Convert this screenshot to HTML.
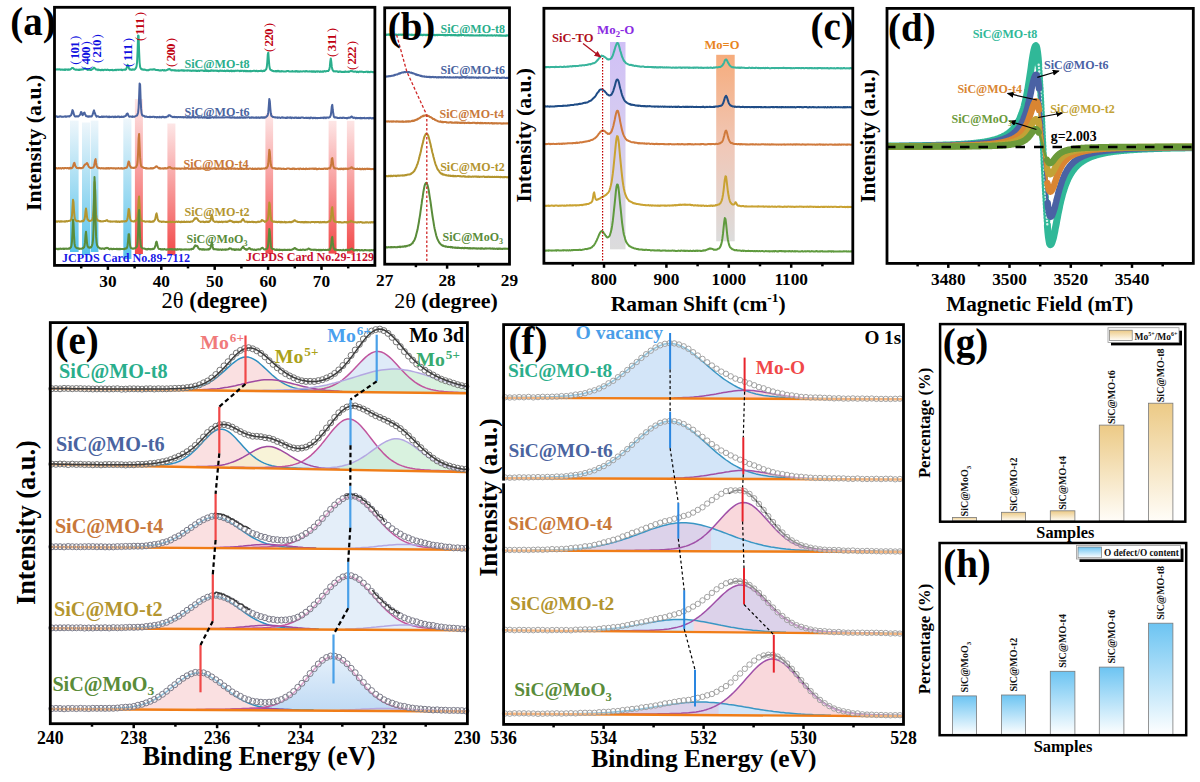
<!DOCTYPE html>
<html><head><meta charset="utf-8"><style>html,body{margin:0;padding:0;background:#fff;}svg{display:block;}</style></head>
<body><svg width="1200" height="782" viewBox="0 0 1200 782">
<defs><linearGradient id="gblue" x1="0" y1="0" x2="0" y2="1"><stop offset="0" stop-color="#eef6fb" stop-opacity="1"/><stop offset="1" stop-color="#56c2ea" stop-opacity="1"/></linearGradient><linearGradient id="gred" x1="0" y1="0" x2="0" y2="1"><stop offset="0" stop-color="#fde6e6" stop-opacity="1"/><stop offset="1" stop-color="#f24a4a" stop-opacity="1"/></linearGradient><linearGradient id="gpur" x1="0" y1="0" x2="0" y2="1"><stop offset="0" stop-color="#d0c0f6" stop-opacity="1"/><stop offset="0.45" stop-color="#d6cdf0" stop-opacity="1"/><stop offset="1" stop-color="#dcdcdc" stop-opacity="1"/></linearGradient><linearGradient id="gora" x1="0" y1="0" x2="0" y2="1"><stop offset="0" stop-color="#f6ac7c" stop-opacity="1"/><stop offset="0.5" stop-color="#f0c8b8" stop-opacity="1"/><stop offset="1" stop-color="#dcdcdc" stop-opacity="1"/></linearGradient><marker id="arrR" markerWidth="8" markerHeight="8" refX="6" refY="3" orient="auto" markerUnits="userSpaceOnUse"><path d="M0,0 L7,3 L0,6 z" fill="#b01020"/></marker><clipPath id="clipD"><rect x="888" y="9" width="304" height="253"/></clipPath><marker id="arrK" markerWidth="8" markerHeight="8" refX="6" refY="3" orient="auto" markerUnits="userSpaceOnUse"><path d="M0,0 L7,3 L0,6 z" fill="#000"/></marker><linearGradient id="gxb" x1="0" y1="0" x2="0" y2="1"><stop offset="0" stop-color="#e2eefa" stop-opacity="1"/><stop offset="1" stop-color="#b8d6f3" stop-opacity="1"/></linearGradient><linearGradient id="rg1" gradientUnits="userSpaceOnUse" x1="743.1" y1="0" x2="744.1" y2="0"><stop offset="0" stop-color="#d3e5f8"/><stop offset="1" stop-color="#f9d8dc"/></linearGradient><linearGradient id="rg2" gradientUnits="userSpaceOnUse" x1="903.0" y1="0" x2="904.0" y2="0"><stop offset="0" stop-color="#d3e5f8"/><stop offset="1" stop-color="#f9d8dc"/></linearGradient><linearGradient id="rg3" gradientUnits="userSpaceOnUse" x1="710.6" y1="0" x2="711.6" y2="0"><stop offset="0" stop-color="#dcd2ea"/><stop offset="1" stop-color="#d3e5f8"/></linearGradient><linearGradient id="rg4" gradientUnits="userSpaceOnUse" x1="693.1" y1="0" x2="694.1" y2="0"><stop offset="0" stop-color="#d3e5f8"/><stop offset="1" stop-color="#f9d8dc"/></linearGradient><linearGradient id="rg5" gradientUnits="userSpaceOnUse" x1="718.1" y1="0" x2="719.1" y2="0"><stop offset="0" stop-color="#dcd2ea"/><stop offset="1" stop-color="#d3e5f8"/></linearGradient><linearGradient id="gtan" x1="0" y1="0" x2="0" y2="1"><stop offset="0" stop-color="#ecca86" stop-opacity="1"/><stop offset="1" stop-color="#fffdf8" stop-opacity="1"/></linearGradient><linearGradient id="gsky" x1="0" y1="0" x2="0" y2="1"><stop offset="0" stop-color="#6cc4f2" stop-opacity="1"/><stop offset="1" stop-color="#ffffff" stop-opacity="1"/></linearGradient></defs>
<rect width="1200" height="782" fill="#fff"/>
<rect x="70.0" y="120.6" width="8.6" height="131.4" fill="url(#gblue)" stroke="none" stroke-width="0"/>
<rect x="82.0" y="122.5" width="8.1" height="132.5" fill="url(#gblue)" stroke="none" stroke-width="0"/>
<rect x="90.7" y="120.6" width="7.7" height="131.4" fill="url(#gblue)" stroke="none" stroke-width="0"/>
<rect x="123.3" y="118.6" width="8.1" height="140.4" fill="url(#gblue)" stroke="none" stroke-width="0"/>
<rect x="134.9" y="99.0" width="8.0" height="155.0" fill="url(#gred)" stroke="none" stroke-width="0"/>
<rect x="167.4" y="123.5" width="8.0" height="131.5" fill="url(#gred)" stroke="none" stroke-width="0"/>
<rect x="265.4" y="113.6" width="7.7" height="140.0" fill="url(#gred)" stroke="none" stroke-width="0"/>
<rect x="328.6" y="120.8" width="7.9" height="132.8" fill="url(#gred)" stroke="none" stroke-width="0"/>
<rect x="346.9" y="120.8" width="7.5" height="132.8" fill="url(#gred)" stroke="none" stroke-width="0"/>
<path d="M54.5,69.5 55,69.3 55.5,69.7 56,69.3 56.5,69.6 57,69.5 57.5,69.3 58,69.6 58.5,69.3 59,69.6 59.5,69.3 60,69.3 60.5,69.6 61,69.9 61.5,69.4 62,69.4 62.5,69.7 63,70 63.5,69.7 64,69.6 64.5,70 65,69.3 65.5,69.9 66,69.5 66.5,69.4 67,69.4 67.5,69.5 68,69.9 68.5,69.4 69,69.7 69.5,69.7 70,69.4 70.5,69.4 71,68.9 71.5,68.5 72,68 72.5,67.9 73,67.9 73.5,68.4 74,69.1 74.5,69.3 75,69.4 75.5,69.8 76,69.8 76.5,69.5 77,69.7 77.5,69.7 78,69.9 78.5,69.9 79,69.5 79.5,70 80,69.4 80.5,69.6 81,69.8 81.5,69.4 82,69.6 82.5,69.2 83,69.5 83.5,69.3 84,68.8 84.5,68.7 85,68.2 85.5,68.7 86,69 86.5,69.3 87,69.4 87.5,69.8 88,70 88.5,69.7 89,69.8 89.5,69.4 90,69.9 90.5,69.8 91,70 91.5,69.8 92,69.3 92.5,69.1 93,68.9 93.5,67.8 94,67.8 94.5,68 95.1,68.6 95.6,69 96.1,69.7 96.6,69.4 97.1,69.6 97.6,69.7 98.1,70.1 98.6,69.5 99.1,69.8 99.6,69.9 100.1,70.2 100.6,70.1 101.1,70.2 101.6,69.8 102.1,69.9 102.6,69.8 103.1,70.2 103.6,70.2 104.1,69.7 104.6,69.7 105.1,69.8 105.6,69.8 106.1,69.9 106.6,70 107.1,69.8 107.6,69.6 108.1,69.9 108.6,69.9 109.1,70 109.6,70.3 110.1,70.1 110.6,70 111.1,70.1 111.6,70.1 112.1,69.7 112.6,70.3 113.1,70.2 113.6,70.3 114.1,70.2 114.6,69.9 115.1,69.9 115.6,69.7 116.1,70.1 116.6,69.7 117.1,69.7 117.6,69.8 118.1,69.8 118.6,69.9 119.1,69.7 119.6,69.7 120.1,69.8 120.6,69.7 121.1,69.9 121.6,69.6 122.1,70.2 122.6,70 123.1,69.7 123.6,69.7 124.1,69.8 124.6,69.7 125.1,69.4 125.6,69.7 126.1,69.3 126.6,67.9 127.1,66.3 127.6,64.8 128.1,65.6 128.6,67.4 129.1,68.6 129.6,69.5 130.1,69.3 130.6,69.3 131.1,70 131.6,69.7 132.1,69.5 132.6,69.7 133.1,69.3 133.6,69.6 134.1,69.8 134.6,69.5 135.1,69.1 135.6,68.4 136.1,67.7 136.6,66 137.1,62 137.6,50.8 138.1,35.4 138.6,35.9 139.1,51.6 139.6,62.5 140.1,66.8 140.6,68.2 141.1,68.9 141.6,69.3 142.1,69.5 142.6,69.3 143.1,69.7 143.6,69.7 144.1,69.5 144.6,69.6 145.1,69.8 145.6,69.8 146.1,70.1 146.6,70.3 147.1,70 147.6,70.3 148.1,70.3 148.6,70.3 149.1,69.8 149.6,69.7 150.1,69.6 150.6,69.5 151.1,69.4 151.6,69.6 152.1,69.7 152.6,69.6 153.1,69.3 153.6,69.4 154.1,69.6 154.6,69.2 155.1,69.7 155.6,70 156.1,70 156.6,70.1 157.1,70 157.6,69.9 158.1,70.3 158.6,70.1 159.1,70.4 159.6,70.6 160.1,70.2 160.6,70.2 161.1,70.6 161.6,70.4 162.1,70.1 162.6,70 163.1,70.1 163.6,70.6 164.1,70.5 164.6,70.1 165.1,70.5 165.6,70.6 166.1,70.4 166.6,70.1 167.1,70.1 167.6,69.6 168.1,69.2 168.6,69.5 169.1,69.1 169.6,69 170.1,69.6 170.6,69.6 171.1,70.2 171.6,70.4 172.1,70.1 172.6,70.2 173.1,70.2 173.6,70.2 174.1,70.5 174.6,70.3 175.2,70.4 175.7,70.2 176.2,70.7 176.7,70.4 177.2,70.4 177.7,70.5 178.2,70.8 178.7,70.4 179.2,70.8 179.7,70.5 180.2,70.5 180.7,70.5 181.2,70.2 181.7,70.5 182.2,70.3 182.7,70.2 183.2,70.8 183.7,70.3 184.2,70.5 184.7,70.7 185.2,70.6 185.7,70.4 186.2,70.6 186.7,70.6 187.2,70.8 187.7,70.3 188.2,70.6 188.7,70.4 189.2,70.4 189.7,70.8 190.2,70.6 190.7,70.6 191.2,70.8 191.7,70.9 192.2,70.6 192.7,70.7 193.2,70.6 193.7,70.6 194.2,70.8 194.7,70.6 195.2,70.7 195.7,70.6 196.2,71 196.7,70.8 197.2,70.9 197.7,71 198.2,70.5 198.7,70.7 199.2,71 199.7,70.9 200.2,70.4 200.7,70.4 201.2,70.6 201.7,70.4 202.2,70.5 202.7,70.4 203.2,70.8 203.7,70.9 204.2,71 204.7,70.5 205.2,70.9 205.7,70.8 206.2,70.5 206.7,71 207.2,71.1 207.7,70.5 208.2,71.1 208.7,70.7 209.2,70.7 209.7,71.1 210.2,71 210.7,70.5 211.2,70.7 211.7,70.8 212.2,70.7 212.7,70.6 213.2,70.7 213.7,70.9 214.2,70.5 214.7,70.8 215.2,70.8 215.7,70.5 216.2,70.7 216.7,70.9 217.2,70.8 217.7,70.5 218.2,71.2 218.7,71 219.2,71.2 219.7,70.6 220.2,70.7 220.7,70.5 221.2,71 221.7,70.7 222.2,70.6 222.7,70.8 223.2,71.1 223.7,71.1 224.2,70.7 224.7,70.6 225.2,71.2 225.7,70.9 226.2,71 226.7,70.6 227.2,70.6 227.7,71 228.2,70.8 228.7,70.6 229.2,71.2 229.7,71 230.2,71.1 230.7,70.6 231.2,71.2 231.7,70.6 232.2,71.2 232.7,70.9 233.2,70.8 233.7,71 234.2,71.2 234.7,70.8 235.2,70.7 235.7,71 236.2,70.8 236.7,70.7 237.2,70.7 237.7,70.6 238.2,70.8 238.7,70.8 239.2,70.8 239.7,71.2 240.2,70.8 240.7,71 241.2,70.8 241.7,70.9 242.2,70.7 242.7,70.8 243.2,70.7 243.7,71.2 244.2,71 244.7,70.8 245.2,71 245.7,71.3 246.2,70.7 246.7,71.2 247.2,71 247.7,71 248.2,71.3 248.7,71 249.2,71 249.7,71.2 250.2,71.4 250.7,70.9 251.2,71.3 251.7,71.2 252.2,71.1 252.7,71 253.2,70.9 253.7,70.7 254.2,70.8 254.8,70.8 255.3,71.2 255.8,70.9 256.3,70.8 256.8,70.8 257.3,71.3 257.8,71.3 258.3,71.2 258.8,70.9 259.3,70.9 259.8,70.9 260.3,71 260.8,70.8 261.3,71 261.8,70.8 262.3,71.3 262.8,71.2 263.3,70.9 263.8,70.6 264.3,71 264.8,70.4 265.3,70.2 265.8,69.6 266.3,69 266.8,67 267.3,62 267.8,54.3 268.3,52.6 268.8,59.3 269.3,65.6 269.8,68.4 270.3,69.7 270.8,69.9 271.3,70.2 271.8,70.6 272.3,70.6 272.8,71 273.3,71 273.8,71.2 274.3,71.2 274.8,71.2 275.3,71.4 275.8,71.1 276.3,71 276.8,71.5 277.3,70.9 277.8,71.3 278.3,71.3 278.8,70.9 279.3,71.5 279.8,71.5 280.3,71.3 280.8,71.4 281.3,71.5 281.8,71 282.3,71.3 282.8,71.3 283.3,71.5 283.8,71.5 284.3,71.5 284.8,71.4 285.3,71.6 285.8,71.4 286.3,71.4 286.8,71.1 287.3,71 287.8,71.1 288.3,71.2 288.8,71.1 289.3,71.6 289.8,71.4 290.3,71.4 290.8,71.4 291.3,71.5 291.8,71.4 292.3,71 292.8,71.6 293.3,71.5 293.8,71.4 294.3,71.4 294.8,71.5 295.3,71.1 295.8,71.6 296.3,71.2 296.8,71.1 297.3,71.2 297.8,71.6 298.3,71.2 298.8,71.6 299.3,71.8 299.8,71.4 300.3,71.3 300.8,71.4 301.3,71.6 301.8,71.6 302.3,71.5 302.8,71.5 303.3,71.2 303.8,71.2 304.3,71.3 304.8,71.6 305.3,71.3 305.8,71.5 306.3,71.1 306.8,71.2 307.3,71.3 307.8,71.6 308.3,71.6 308.8,71.6 309.3,71.3 309.8,71.5 310.3,71.5 310.8,71.5 311.3,71.2 311.8,71.8 312.3,71.3 312.8,71.8 313.3,71.8 313.8,71.2 314.3,71.5 314.8,71.7 315.3,71.9 315.8,71.5 316.3,71.4 316.8,71.3 317.3,71.8 317.8,71.3 318.3,71.6 318.8,71.3 319.3,71.6 319.8,71.9 320.3,71.3 320.8,71.8 321.3,71.5 321.8,71.8 322.3,71.7 322.8,71.3 323.3,71.8 323.8,71.5 324.3,71.2 324.8,71.1 325.3,71.4 325.8,71.4 326.3,71.2 326.8,71.1 327.3,71.1 327.8,71 328.3,71.1 328.8,70.1 329.3,69.5 329.8,66.9 330.3,61.4 330.8,58.4 331.3,61.8 331.8,66.9 332.3,69.2 332.8,70.4 333.3,70.8 333.8,71.5 334.3,71.3 334.9,71.3 335.4,71.4 335.9,71.3 336.4,71.2 336.9,71.3 337.4,71.8 337.9,71.5 338.4,71.9 338.9,71.5 339.4,71.5 339.9,71.7 340.4,71.5 340.9,71.6 341.4,72 341.9,72 342.4,71.9 342.9,71.8 343.4,72 343.9,72 344.4,71.8 344.9,71.9 345.4,71.4 345.9,71.9 346.4,71.7 346.9,71.9 347.4,71.8 347.9,71.6 348.4,71.4 348.9,72 349.4,71.4 349.9,71.5 350.4,71.2 350.9,70.8 351.4,71 351.9,71.3 352.4,71.1 352.9,71.6 353.4,71.5 353.9,71.8 354.4,71.7 354.9,71.6 355.4,71.6 355.9,71.6 356.4,72.1 356.9,71.8 357.4,71.6 357.9,72.1 358.4,72.2 358.9,71.8 359.4,71.6 359.9,71.7 360.4,71.6 360.9,71.8 361.4,71.6 361.9,71.7 362.4,71.7 362.9,71.9 363.4,72.2 363.9,72.1 364.4,71.9 364.9,71.9 365.4,71.9 365.9,71.8 366.4,71.8 366.9,71.6 367.4,71.8 367.9,72.3 368.4,71.7 368.9,72 369.4,72 369.9,72.2 370.4,71.8 370.9,71.8 371.4,71.8 371.9,71.9 372.4,71.9 372.9,72.3 373.4,72.2 373.9,72.2 374.4,71.7 374.9,71.7" fill="none" stroke="#2aae8c" stroke-width="2.0" stroke-linejoin="round"/>
<path d="M54.5,116.7 55,116.9 55.5,116.6 56,116.6 56.5,116.2 57,116.5 57.5,116.9 58,116.8 58.5,116.8 59,116.9 59.5,116.4 60,116.3 60.5,116.3 61,116.6 61.5,116.7 62,116.9 62.5,116.7 63,116.7 63.5,116.8 64,116.6 64.5,116.6 65,116.3 65.5,116.8 66,116.4 66.5,116.8 67,116.6 67.5,116.4 68,116.2 68.5,116.3 69,116.5 69.5,116.5 70,115.9 70.5,115.6 71,115.4 71.5,114.2 72,112 72.5,110.1 73,111 73.5,112.8 74,114.7 74.5,115.6 75,116.4 75.5,116.3 76,116.6 76.5,116.3 77,116.2 77.5,116.2 78,116.6 78.5,116.4 79,115.9 79.5,115.4 80,114.9 80.5,113.6 81,112.1 81.5,112.2 82,113.9 82.5,115.1 83,114.7 83.5,113.8 84,112.8 84.5,112.5 85,113.9 85.5,114.8 86,116 86.5,116.3 87,116.3 87.5,116.2 88,116.8 88.5,116.3 89,116.7 89.5,116.3 90,116.3 90.5,116.6 91,116.2 91.5,116.5 92,115.9 92.5,114.9 93,113.4 93.5,111.4 94,110.4 94.5,112.1 95.1,113.6 95.6,115.2 96.1,115.8 96.6,116.6 97.1,116.2 97.6,116.2 98.1,116.3 98.6,116.6 99.1,116.9 99.6,117 100.1,116.9 100.6,117.1 101.1,117 101.6,116.6 102.1,116.5 102.6,117.1 103.1,116.9 103.6,116.5 104.1,116.9 104.6,116.7 105.1,116.7 105.6,116.7 106.1,116.6 106.6,116.5 107.1,116.7 107.6,116.7 108.1,117.1 108.6,116.6 109.1,117.2 109.6,116.6 110.1,116.7 110.6,117.1 111.1,117.1 111.6,116.8 112.1,116.5 112.6,116.8 113.1,116.8 113.6,117.1 114.1,116.6 114.6,116.8 115.1,117.1 115.6,116.5 116.1,116.8 116.6,117.1 117.1,117 117.6,116.5 118.1,116.5 118.6,116.5 119.1,117.1 119.6,116.7 120.1,117 120.6,117.1 121.1,116.7 121.6,116.6 122.1,117.1 122.6,116.9 123.1,116.6 123.6,116.9 124.1,116.5 124.6,116.4 125.1,116 125.6,116 126.1,115.4 126.6,114.1 127.1,113.7 127.6,113.5 128.1,114.7 128.6,115.7 129.1,116.6 129.6,116.8 130.1,116.5 130.6,116.5 131.1,116.6 131.6,116.7 132.1,117 132.6,116.4 133.1,116.8 133.6,116.8 134.1,116.8 134.6,116.7 135.1,116.4 135.6,116.1 136.1,115.9 136.6,115.6 137.1,115.5 137.6,114.2 138.1,112.4 138.6,108 139.1,97.1 139.6,83.5 140.1,84.4 140.6,98.6 141.1,108.4 141.6,113.3 142.1,114.9 142.6,115.7 143.1,115.7 143.6,115.8 144.1,116 144.6,116.5 145.1,116.7 145.6,116.6 146.1,116.5 146.6,116.7 147.1,116.9 147.6,116.9 148.1,117 148.6,117.1 149.1,117 149.6,116.7 150.1,117.2 150.6,116.8 151.1,117 151.6,116.9 152.1,117.1 152.6,116.8 153.1,116.8 153.6,116.8 154.1,116.8 154.6,117.3 155.1,117.1 155.6,116.9 156.1,117 156.6,117.4 157.1,117.1 157.6,116.9 158.1,117.3 158.6,117.2 159.1,117.4 159.6,116.8 160.1,117 160.6,117.3 161.1,117.3 161.6,117.4 162.1,116.7 162.6,116.9 163.1,116.8 163.6,116.8 164.1,117.4 164.6,117.1 165.1,117.3 165.6,116.9 166.1,117.2 166.6,116.8 167.1,116.5 167.6,116.6 168.1,116.3 168.6,115.2 169.1,115.2 169.6,115.3 170.1,115.5 170.6,116.1 171.1,116.3 171.6,116.6 172.1,116.7 172.6,117.1 173.1,117.2 173.6,116.9 174.1,116.8 174.6,117 175.2,117.3 175.7,116.9 176.2,117 176.7,117 177.2,117.4 177.7,117.2 178.2,116.9 178.7,116.9 179.2,117.1 179.7,117.2 180.2,117.3 180.7,116.9 181.2,117 181.7,117.3 182.2,117.2 182.7,117.1 183.2,117.1 183.7,117.5 184.2,117.1 184.7,117.3 185.2,117.1 185.7,117.2 186.2,117.5 186.7,117.6 187.2,117.2 187.7,117 188.2,117.4 188.7,117 189.2,116.9 189.7,117.5 190.2,117.2 190.7,117.5 191.2,117.2 191.7,117.5 192.2,117.2 192.7,117 193.2,116.9 193.7,117.3 194.2,117.4 194.7,117.6 195.2,117 195.7,117.4 196.2,117.2 196.7,117.3 197.2,117.1 197.7,117.2 198.2,117.3 198.7,117.6 199.2,117 199.7,117.3 200.2,117.5 200.7,117.6 201.2,117.1 201.7,117.1 202.2,117.6 202.7,117.7 203.2,117.3 203.7,117 204.2,117.6 204.7,117.3 205.2,117.6 205.7,117.4 206.2,117.6 206.7,117.1 207.2,117.6 207.7,117.2 208.2,117.3 208.7,117.6 209.2,117.6 209.7,117.1 210.2,117.2 210.7,117.3 211.2,117.4 211.7,117.3 212.2,117.1 212.7,117.2 213.2,117.5 213.7,117.7 214.2,117.1 214.7,117.4 215.2,117.6 215.7,117.1 216.2,117.6 216.7,117.1 217.2,117.5 217.7,117.4 218.2,117.5 218.7,117.3 219.2,117.4 219.7,117.5 220.2,117.4 220.7,117.5 221.2,117.4 221.7,117.4 222.2,117.1 222.7,117.5 223.2,117.4 223.7,117.3 224.2,117.6 224.7,117.6 225.2,117.4 225.7,117.2 226.2,117.4 226.7,117.2 227.2,117.2 227.7,117.4 228.2,117.2 228.7,117.4 229.2,117.5 229.7,117.1 230.2,117.6 230.7,117.2 231.2,117.6 231.7,117.7 232.2,117.5 232.7,117.2 233.2,117.5 233.7,117.4 234.2,117.8 234.7,117.2 235.2,117.7 235.7,117.8 236.2,117.7 236.7,117.7 237.2,117.3 237.7,117.8 238.2,117.5 238.7,117.8 239.2,117.8 239.7,117.3 240.2,117.7 240.7,117.8 241.2,117.2 241.7,117.4 242.2,117.7 242.7,117.3 243.2,117.8 243.7,117.4 244.2,117.8 244.7,117.3 245.2,117.5 245.7,117.8 246.2,117.3 246.7,117.4 247.2,117.5 247.7,117.4 248.2,117.2 248.7,117.3 249.2,117.3 249.7,117.9 250.2,117.7 250.7,117.8 251.2,117.3 251.7,117.8 252.2,117.3 252.7,117.6 253.2,117.7 253.7,117.5 254.2,117.8 254.8,117.6 255.3,117.6 255.8,117.8 256.3,117.3 256.8,117.9 257.3,117.7 257.8,117.5 258.3,117.8 258.8,117.4 259.3,117.9 259.8,117.6 260.3,117.4 260.8,117.7 261.3,117.5 261.8,117.3 262.3,117.7 262.8,117.2 263.3,117.7 263.8,117.2 264.3,117.5 264.8,117.7 265.3,117.3 265.8,117.2 266.3,116.8 266.8,116.3 267.3,115.9 267.8,114.8 268.3,112.2 268.8,105.9 269.3,98.9 269.8,101.1 270.3,108.1 270.8,113.3 271.3,115.7 271.8,116.1 272.3,116.5 272.8,116.9 273.3,116.9 273.8,117.2 274.3,117.2 274.8,117.5 275.3,117.5 275.8,117.3 276.3,117.6 276.8,117.6 277.3,117.3 277.8,117.9 278.3,117.4 278.8,117.4 279.3,117.4 279.8,117.7 280.3,117.9 280.8,117.9 281.3,117.6 281.8,117.5 282.3,117.3 282.8,117.8 283.3,117.7 283.8,117.6 284.3,117.8 284.8,117.7 285.3,118 285.8,117.9 286.3,117.6 286.8,118 287.3,117.4 287.8,117.8 288.3,117.7 288.8,117.6 289.3,117.4 289.8,117.9 290.3,117.4 290.8,117.8 291.3,118.1 291.8,117.5 292.3,117.6 292.8,117.8 293.3,117.8 293.8,117.9 294.3,118 294.8,117.6 295.3,117.7 295.8,117.6 296.3,117.5 296.8,118.1 297.3,118 297.8,118 298.3,117.5 298.8,118 299.3,118 299.8,117.8 300.3,118 300.8,117.8 301.3,117.6 301.8,117.5 302.3,117.6 302.8,117.5 303.3,117.7 303.8,118 304.3,118 304.8,118.1 305.3,118 305.8,117.7 306.3,117.9 306.8,117.8 307.3,118 307.8,117.9 308.3,117.7 308.8,118 309.3,118.2 309.8,117.7 310.3,118.1 310.8,117.5 311.3,117.7 311.8,117.7 312.3,118 312.8,118.2 313.3,118 313.8,117.8 314.3,118.1 314.8,117.8 315.3,117.7 315.8,118.2 316.3,118 316.8,118 317.3,118 317.8,118.2 318.3,117.9 318.8,118.1 319.3,118 319.8,118.1 320.3,117.8 320.8,118 321.3,117.9 321.8,117.7 322.3,117.7 322.8,118 323.3,117.6 323.8,118.2 324.3,117.6 324.8,117.5 325.3,117.6 325.8,118.1 326.3,117.7 326.8,117.5 327.3,117.4 327.8,117.4 328.3,117.8 328.8,117.6 329.3,117.5 329.8,117.2 330.3,116.2 330.8,115 331.3,111.3 331.8,106.3 332.3,104.9 332.8,110 333.3,113.8 333.8,116.4 334.3,117.3 334.9,117.6 335.4,117.2 335.9,117.4 336.4,117.4 336.9,117.4 337.4,118.1 337.9,118.1 338.4,118 338.9,118.1 339.4,118 339.9,117.8 340.4,117.7 340.9,117.7 341.4,118.1 341.9,117.8 342.4,117.8 342.9,117.9 343.4,117.6 343.9,117.8 344.4,117.8 344.9,118.1 345.4,117.9 345.9,117.9 346.4,118.3 346.9,118 347.4,118.2 347.9,118 348.4,117.6 348.9,117.8 349.4,117.8 349.9,117.8 350.4,117.2 350.9,117 351.4,116.6 351.9,116.6 352.4,117.5 352.9,117.3 353.4,118 353.9,117.7 354.4,117.6 354.9,117.8 355.4,118.2 355.9,118.4 356.4,117.7 356.9,118.1 357.4,118.1 357.9,118.3 358.4,117.9 358.9,118.1 359.4,118 359.9,118.3 360.4,117.9 360.9,118.4 361.4,118 361.9,117.9 362.4,118.3 362.9,118.1 363.4,117.9 363.9,118.2 364.4,117.8 364.9,118.3 365.4,118.3 365.9,118.3 366.4,118.2 366.9,118 367.4,118.1 367.9,118.1 368.4,118.4 368.9,117.9 369.4,118.4 369.9,117.8 370.4,118 370.9,118 371.4,118.5 371.9,118.2 372.4,118.1 372.9,118.5 373.4,118 373.9,118.2 374.4,118.2 374.9,118.4" fill="none" stroke="#4a64a0" stroke-width="2.0" stroke-linejoin="round"/>
<path d="M54.5,168.5 55,168.4 55.5,168.2 56,168.2 56.5,168 57,168.5 57.5,168.4 58,168.5 58.5,168.1 59,168.2 59.5,168.5 60,168.3 60.5,168 61,168.3 61.5,168.6 62,168.1 62.5,168.1 63,168.1 63.5,168.4 64,168.5 64.5,168 65,168 65.5,168.1 66,168.1 66.5,168.3 67,168 67.5,168.1 68,168 68.5,168.5 69,168.4 69.5,167.9 70,168.5 70.5,167.8 71,168 71.5,168.3 72,168 72.5,167.5 73,166.4 73.5,164.6 74,163.2 74.5,162.9 75,164.7 75.5,166.4 76,167 76.5,167.7 77,168.1 77.5,168.1 78,168 78.5,168.2 79,168.1 79.5,167.8 80,168.2 80.5,168 81,168.2 81.5,168.3 82,167.9 82.5,167.8 83,167.7 83.5,166.9 84,165.9 84.5,165.1 85,164.5 85.5,164.4 86,164.1 86.5,163.5 87,163 87.5,163.7 88,165 88.5,166.1 89,167.1 89.5,167.2 90,167.6 90.5,168 91,168 91.5,168 92,167.7 92.5,167.7 93,167.6 93.5,167.3 94,166 94.5,163.6 95.1,160.1 95.6,159.1 96.1,162.9 96.6,166 97.1,167 97.6,167.6 98.1,168.2 98.6,167.7 99.1,168.1 99.6,167.9 100.1,168.4 100.6,168.5 101.1,168.3 101.6,168 102.1,168.3 102.6,168.3 103.1,168.5 103.6,168.3 104.1,168.4 104.6,168.6 105.1,168.3 105.6,168.3 106.1,168.7 106.6,168.1 107.1,168.5 107.6,168.3 108.1,168.5 108.6,168.1 109.1,168.7 109.6,168.3 110.1,168.1 110.6,168.2 111.1,168.3 111.6,168 112.1,168.3 112.6,168.3 113.1,168.5 113.6,168.3 114.1,168.2 114.6,168.2 115.1,168.5 115.6,168.7 116.1,168.4 116.6,168.2 117.1,168.6 117.6,168.3 118.1,168.2 118.6,168.1 119.1,168.5 119.6,168.6 120.1,168.4 120.6,168.3 121.1,168.4 121.6,168.1 122.1,168.6 122.6,168.2 123.1,168.4 123.6,168.5 124.1,168.4 124.6,168.1 125.1,168 125.6,168.1 126.1,167.6 126.6,167.8 127.1,166.9 127.6,165.9 128.1,163.3 128.6,161.4 129.1,162 129.6,164.5 130.1,166.1 130.6,166.9 131.1,167.8 131.6,167.6 132.1,167.7 132.6,167.8 133.1,167.9 133.6,167.8 134.1,167.9 134.6,167.8 135.1,167.4 135.6,167.6 136.1,167.1 136.6,165.9 137.1,165 137.6,161.5 138.1,152.7 138.6,138.5 139.1,133.9 139.6,146.1 140.1,157.4 140.6,163.1 141.1,166 141.6,166.7 142.1,167 142.6,167.2 143.1,167.4 143.6,167.7 144.1,168.1 144.6,167.9 145.1,167.9 145.6,168.4 146.1,168.4 146.6,168 147.1,168.5 147.6,168.4 148.1,168.5 148.6,168.4 149.1,168.6 149.6,168.5 150.1,168.6 150.6,168.1 151.1,168.5 151.6,168.3 152.1,168.5 152.6,168.3 153.1,168.5 153.6,168.2 154.1,167.9 154.6,167.6 155.1,167.2 155.6,167 156.1,166.3 156.6,166.5 157.1,166.6 157.6,167.3 158.1,167.7 158.6,168 159.1,168.4 159.6,167.9 160.1,168.6 160.6,168.3 161.1,168.4 161.6,168.5 162.1,168.6 162.6,168.3 163.1,168.4 163.6,168.7 164.1,168.1 164.6,168.5 165.1,168.5 165.6,168.1 166.1,168.4 166.6,168.4 167.1,168.5 167.6,167.8 168.1,168 168.6,167.3 169.1,167 169.6,167.4 170.1,167.1 170.6,167.9 171.1,168.1 171.6,168.1 172.1,168.6 172.6,168.3 173.1,168.4 173.6,168.5 174.1,168.7 174.6,168.3 175.2,168.5 175.7,168.5 176.2,168.6 176.7,168.7 177.2,168.4 177.7,168.8 178.2,168.5 178.7,168.5 179.2,168.4 179.7,168.5 180.2,168.9 180.7,168.7 181.2,168.8 181.7,168.4 182.2,168.4 182.7,168.4 183.2,168.6 183.7,168.7 184.2,168.8 184.7,168.2 185.2,168.7 185.7,168.8 186.2,168.6 186.7,168.3 187.2,168.4 187.7,168.2 188.2,168.4 188.7,168.9 189.2,168.7 189.7,168.7 190.2,168.8 190.7,168.9 191.2,168.7 191.7,168.7 192.2,168.7 192.7,168.7 193.2,168.7 193.7,168.7 194.2,168.4 194.7,168.7 195.2,168.6 195.7,168.8 196.2,168.3 196.7,168.4 197.2,168.3 197.7,168.8 198.2,168.9 198.7,168.7 199.2,168.5 199.7,168.8 200.2,168.8 200.7,168.7 201.2,168.4 201.7,168.5 202.2,168.6 202.7,168.5 203.2,168.6 203.7,168.7 204.2,168.9 204.7,168.3 205.2,168.7 205.7,168.3 206.2,168.4 206.7,168.8 207.2,168.7 207.7,168.9 208.2,168.6 208.7,168.3 209.2,168.6 209.7,168.7 210.2,168.9 210.7,169 211.2,168.6 211.7,168.6 212.2,168.4 212.7,168.7 213.2,168.4 213.7,168.4 214.2,168.3 214.7,168.3 215.2,168.8 215.7,168.4 216.2,169 216.7,168.4 217.2,168.9 217.7,168.4 218.2,168.3 218.7,168.8 219.2,168.5 219.7,168.8 220.2,168.4 220.7,168.3 221.2,168.8 221.7,168.8 222.2,168.9 222.7,168.8 223.2,168.4 223.7,168.8 224.2,168.8 224.7,168.6 225.2,169 225.7,168.5 226.2,169 226.7,168.8 227.2,168.3 227.7,168.3 228.2,168.8 228.7,168.9 229.2,168.4 229.7,168.5 230.2,168.8 230.7,168.4 231.2,168.9 231.7,168.7 232.2,168.4 232.7,168.6 233.2,168.7 233.7,168.6 234.2,168.8 234.7,168.4 235.2,168.9 235.7,168.6 236.2,168.8 236.7,168.8 237.2,168.6 237.7,168.6 238.2,168.9 238.7,169 239.2,168.9 239.7,168.7 240.2,168.5 240.7,168.4 241.2,169 241.7,168.8 242.2,168.9 242.7,168.6 243.2,168.8 243.7,169 244.2,168.9 244.7,168.8 245.2,168.6 245.7,168.7 246.2,169 246.7,168.6 247.2,168.8 247.7,168.8 248.2,169 248.7,168.9 249.2,168.6 249.7,168.4 250.2,168.5 250.7,168.6 251.2,168.8 251.7,168.9 252.2,169 252.7,168.4 253.2,168.9 253.7,168.9 254.2,169 254.8,168.7 255.3,168.5 255.8,168.9 256.3,168.9 256.8,168.8 257.3,169 257.8,168.6 258.3,168.4 258.8,168.7 259.3,168.9 259.8,168.5 260.3,168.8 260.8,169 261.3,168.5 261.8,168.7 262.3,168.7 262.8,168.6 263.3,168.4 263.8,168.4 264.3,168.7 264.8,168.6 265.3,168.3 265.8,167.9 266.3,168.3 266.8,168 267.3,167.1 267.8,166.2 268.3,163.5 268.8,157.2 269.3,149.8 269.8,151.7 270.3,159.4 270.8,164.3 271.3,166.5 271.8,167.3 272.3,168 272.8,168 273.3,168.3 273.8,168.3 274.3,168.5 274.8,168.3 275.3,168.2 275.8,168.9 276.3,168.5 276.8,168.4 277.3,168.8 277.8,168.9 278.3,168.4 278.8,168.8 279.3,168.6 279.8,168.7 280.3,168.4 280.8,168.4 281.3,169.1 281.8,169 282.3,168.7 282.8,168.8 283.3,168.6 283.8,169 284.3,168.7 284.8,169.1 285.3,169 285.8,169 286.3,169.1 286.8,168.6 287.3,168.5 287.8,168.6 288.3,168.6 288.8,168.5 289.3,168.5 289.8,168.8 290.3,169.1 290.8,168.8 291.3,169.1 291.8,169.1 292.3,168.5 292.8,168.9 293.3,168.7 293.8,168.5 294.3,169.1 294.8,168.6 295.3,168.9 295.8,168.9 296.3,169.1 296.8,168.9 297.3,168.7 297.8,168.8 298.3,168.6 298.8,169.1 299.3,169.2 299.8,168.6 300.3,168.5 300.8,168.7 301.3,168.7 301.8,169.1 302.3,169.1 302.8,169.1 303.3,168.5 303.8,169 304.3,169 304.8,168.9 305.3,169.2 305.8,168.5 306.3,168.6 306.8,169 307.3,169.1 307.8,169 308.3,168.7 308.8,168.9 309.3,169 309.8,168.6 310.3,168.7 310.8,168.7 311.3,168.6 311.8,168.8 312.3,168.6 312.8,168.7 313.3,168.6 313.8,169 314.3,168.5 314.8,169 315.3,168.6 315.8,168.5 316.3,169.1 316.8,168.7 317.3,169.2 317.8,169.1 318.3,169.1 318.8,168.6 319.3,168.8 319.8,168.6 320.3,169.1 320.8,169.1 321.3,168.9 321.8,168.8 322.3,168.7 322.8,169.1 323.3,168.8 323.8,168.9 324.3,168.6 324.8,168.6 325.3,168.5 325.8,168.9 326.3,168.8 326.8,168.5 327.3,169 327.8,168.5 328.3,168.5 328.8,168.3 329.3,168.2 329.8,168.4 330.3,167.5 330.8,166.1 331.3,163.4 331.8,158.7 332.3,158 332.8,161.7 333.3,166 333.8,167.1 334.3,168.3 334.9,168.4 335.4,168.3 335.9,168.6 336.4,168.5 336.9,168.5 337.4,168.5 337.9,168.7 338.4,169.1 338.9,169.2 339.4,169.1 339.9,168.6 340.4,168.7 340.9,169.1 341.4,168.6 341.9,169 342.4,168.7 342.9,169.2 343.4,168.5 343.9,169.1 344.4,168.8 344.9,168.6 345.4,168.5 345.9,169.1 346.4,168.9 346.9,168.6 347.4,168.8 347.9,169.1 348.4,168.6 348.9,168.8 349.4,168.4 349.9,168.3 350.4,168.3 350.9,167.9 351.4,167.2 351.9,167.4 352.4,167.8 352.9,168.5 353.4,168.7 353.9,168.6 354.4,168.6 354.9,168.9 355.4,169 355.9,169.1 356.4,169 356.9,168.7 357.4,168.6 357.9,169.1 358.4,168.9 358.9,169.1 359.4,168.6 359.9,169.2 360.4,168.8 360.9,169.2 361.4,169.2 361.9,169 362.4,168.6 362.9,169.2 363.4,168.9 363.9,169.2 364.4,168.8 364.9,168.7 365.4,169.2 365.9,168.9 366.4,168.7 366.9,168.9 367.4,169 367.9,168.6 368.4,169 368.9,168.9 369.4,169 369.9,168.7 370.4,169.1 370.9,169.2 371.4,169.2 371.9,168.9 372.4,169.1 372.9,168.9 373.4,169.2 373.9,168.7 374.4,169.3 374.9,169.3" fill="none" stroke="#c8783a" stroke-width="2.0" stroke-linejoin="round"/>
<path d="M54.5,221.6 55,221.6 55.5,221.6 56,221.6 56.5,221.2 57,221.9 57.5,221.4 58,221.3 58.5,221.3 59,221.4 59.5,221.8 60,221.2 60.5,221.3 61,221.7 61.5,221.3 62,221.2 62.5,221.6 63,221.6 63.5,221.5 64,221.6 64.5,221.2 65,221.7 65.5,221.6 66,221.1 66.5,221.1 67,221.4 67.5,221.3 68,221.1 68.5,220.9 69,221 69.5,220.7 70,220.8 70.5,220.7 71,219.6 71.5,218.6 72,215.3 72.5,207.6 73,199.8 73.5,202.1 74,210.6 74.5,216.6 75,219.4 75.5,220.1 76,220.5 76.5,221.1 77,221.2 77.5,221 78,221 78.5,221.1 79,221.2 79.5,221.6 80,221.5 80.5,221.6 81,221.5 81.5,221.5 82,220.8 82.5,221.1 83,221.3 83.5,221 84,220.1 84.5,219.1 85,216.5 85.5,211.4 86,208.5 86.5,211.9 87,216.8 87.5,219.3 88,219.9 88.5,220.3 89,221 89.5,221 90,221 90.5,220.7 91,220.7 91.5,220.4 92,220 92.5,218.5 93,216.7 93.5,210.4 94,197.1 94.5,182.1 95.1,189.6 95.6,206.1 96.1,214.9 96.6,218 97.1,219.5 97.6,220.1 98.1,220.8 98.6,220.6 99.1,220.8 99.6,221.2 100.1,220.9 100.6,221.3 101.1,221.6 101.6,221.4 102.1,221.2 102.6,221.4 103.1,221.4 103.6,221.2 104.1,221.1 104.6,221 105.1,221 105.6,220.9 106.1,220.5 106.6,220.3 107.1,220.1 107.6,220.7 108.1,221.2 108.6,221.3 109.1,221.4 109.6,221.6 110.1,221.3 110.6,221.7 111.1,221.6 111.6,221.6 112.1,221.7 112.6,221.6 113.1,221.5 113.6,221.4 114.1,221.4 114.6,221.6 115.1,221.6 115.6,221.7 116.1,221.3 116.6,221.5 117.1,221.9 117.6,221.5 118.1,221.7 118.6,221.6 119.1,221.5 119.6,222 120.1,221.5 120.6,221.8 121.1,221.4 121.6,221.3 122.1,221.8 122.6,221.5 123.1,221.2 123.6,221.4 124.1,221.4 124.6,221.6 125.1,221.1 125.6,221 126.1,221.4 126.6,220.9 127.1,219.8 127.6,218.1 128.1,214.1 128.6,209.1 129.1,209.2 129.6,214.6 130.1,218.5 130.6,220 131.1,220.8 131.6,221.1 132.1,221.3 132.6,221.2 133.1,221.4 133.6,221.4 134.1,221.5 134.6,220.9 135.1,221.3 135.6,220.5 136.1,220.7 136.6,220.1 137.1,219.1 137.6,216.7 138.1,210.1 138.6,199.9 139.1,196.5 139.6,205.5 140.1,214 140.6,218 141.1,219.7 141.6,220.4 142.1,221 142.6,220.9 143.1,221.1 143.6,221.3 144.1,221.3 144.6,221.3 145.1,221.7 145.6,221.8 146.1,221.6 146.6,221.5 147.1,221.4 147.6,221.5 148.1,221.4 148.6,221.7 149.1,221.7 149.6,221.3 150.1,221.9 150.6,221.5 151.1,221.8 151.6,221.8 152.1,221.9 152.6,221.3 153.1,221.4 153.6,221.6 154.1,220.7 154.6,220.2 155.1,219.4 155.6,217.1 156.1,214.4 156.6,213.4 157.1,215.7 157.6,218.8 158.1,220.1 158.6,220.9 159.1,221.4 159.6,221.3 160.1,221.4 160.6,221.6 161.1,221.5 161.6,222 162.1,221.8 162.6,221.7 163.1,221.5 163.6,221.7 164.1,221.7 164.6,221.8 165.1,221.8 165.6,222.1 166.1,222.1 166.6,221.8 167.1,221.8 167.6,221.9 168.1,222.2 168.6,221.7 169.1,221.9 169.6,222.1 170.1,221.6 170.6,221.7 171.1,222.2 171.6,222.1 172.1,221.9 172.6,221.6 173.1,222.1 173.6,222 174.1,222.1 174.6,222.2 175.2,222.1 175.7,221.8 176.2,221.6 176.7,221.7 177.2,221.9 177.7,221.9 178.2,221.6 178.7,221.6 179.2,222 179.7,221.9 180.2,221.8 180.7,222.2 181.2,222 181.7,221.6 182.2,221.8 182.7,222.1 183.2,221.7 183.7,222 184.2,221.5 184.7,221.7 185.2,222.1 185.7,221.9 186.2,222 186.7,221.6 187.2,221.8 187.7,221.9 188.2,221.7 188.7,221.9 189.2,221.8 189.7,222.1 190.2,221.8 190.7,221.7 191.2,221.4 191.7,221.4 192.2,221.7 192.7,221.1 193.2,220.7 193.7,220.1 194.2,219.4 194.7,218.5 195.2,218.1 195.7,218.7 196.2,218.4 196.7,218.1 197.2,218.7 197.7,219.2 198.2,220.4 198.7,220.9 199.2,221.1 199.7,221.4 200.2,221.4 200.7,222 201.2,221.8 201.7,221.7 202.2,221.8 202.7,221.7 203.2,221.5 203.7,222.1 204.2,221.9 204.7,222.2 205.2,221.8 205.7,221.9 206.2,221.7 206.7,221.5 207.2,222.1 207.7,222 208.2,221.6 208.7,221.9 209.2,221.8 209.7,221.2 210.2,220.9 210.7,219.8 211.2,216.8 211.7,214.8 212.2,215.9 212.7,218.8 213.2,220.7 213.7,221.1 214.2,221.4 214.7,221.9 215.2,221.7 215.7,222 216.2,221.7 216.7,221.6 217.2,221.8 217.7,221.7 218.2,222.2 218.7,221.8 219.2,222 219.7,221.7 220.2,222 220.7,221.9 221.2,221.9 221.7,221.6 222.2,221.7 222.7,222.2 223.2,221.8 223.7,221.8 224.2,221.7 224.7,221.8 225.2,221.7 225.7,221.6 226.2,222 226.7,221.8 227.2,221.6 227.7,221.9 228.2,221.3 228.7,221.2 229.2,221.2 229.7,220.4 230.2,220.5 230.7,220.9 231.2,221.3 231.7,221.1 232.2,221.5 232.7,221.9 233.2,221.8 233.7,222.2 234.2,221.7 234.7,222.2 235.2,221.9 235.7,221.8 236.2,221.9 236.7,221.7 237.2,222.1 237.7,221.8 238.2,222.2 238.7,222 239.2,221.8 239.7,221.7 240.2,221.9 240.7,221.4 241.2,221.6 241.7,220.6 242.2,220 242.7,219.2 243.2,219 243.7,220.1 244.2,220.7 244.7,221.5 245.2,221.7 245.7,221.7 246.2,221.8 246.7,221.6 247.2,221.7 247.7,222.2 248.2,221.8 248.7,222.1 249.2,221.7 249.7,222 250.2,221.9 250.7,222 251.2,221.9 251.7,221.7 252.2,221.9 252.7,221.8 253.2,221.8 253.7,222.2 254.2,221.9 254.8,221.9 255.3,222.3 255.8,222.2 256.3,222.3 256.8,222.2 257.3,221.7 257.8,221.8 258.3,221.6 258.8,222 259.3,222 259.8,221.7 260.3,221.6 260.8,221.5 261.3,221 261.8,220.1 262.3,220.2 262.8,220.2 263.3,221 263.8,221.1 264.3,221.2 264.8,221.9 265.3,221.7 265.8,221.6 266.3,221 266.8,220.7 267.3,220.3 267.8,219.2 268.3,216.3 268.8,210 269.3,202.5 269.8,204.7 270.3,212.7 270.8,217.5 271.3,220.2 271.8,220.9 272.3,221.4 272.8,221.3 273.3,221.6 273.8,221.9 274.3,221.7 274.8,221.5 275.3,222.1 275.8,222.1 276.3,221.8 276.8,221.7 277.3,222.3 277.8,222.1 278.3,221.7 278.8,221.9 279.3,221.8 279.8,222.3 280.3,221.9 280.8,222.4 281.3,222.3 281.8,221.8 282.3,222.2 282.8,222 283.3,222.3 283.8,222.3 284.3,222 284.8,221.8 285.3,222.4 285.8,222.1 286.3,222.4 286.8,222.2 287.3,222.3 287.8,222.3 288.3,222.2 288.8,222.1 289.3,221.8 289.8,222.2 290.3,222 290.8,222.1 291.3,222.3 291.8,221.7 292.3,222 292.8,221.3 293.3,221.5 293.8,221.1 294.3,220.2 294.8,220.2 295.3,220.7 295.8,221 296.3,221.4 296.8,221.5 297.3,221.5 297.8,221.9 298.3,222 298.8,221.9 299.3,222 299.8,221.9 300.3,222.3 300.8,222.3 301.3,222 301.8,222 302.3,222.2 302.8,222.1 303.3,222.5 303.8,222.1 304.3,222 304.8,222.5 305.3,221.9 305.8,222.2 306.3,222.1 306.8,222.4 307.3,222.2 307.8,222.4 308.3,222 308.8,222.3 309.3,222.3 309.8,222.2 310.3,222.4 310.8,222.4 311.3,221.9 311.8,222.1 312.3,222.1 312.8,222 313.3,221.9 313.8,222.1 314.3,222 314.8,222.4 315.3,222.2 315.8,221.9 316.3,222.1 316.8,222.2 317.3,222.1 317.8,222 318.3,221.9 318.8,221.9 319.3,222.6 319.8,222.4 320.3,221.9 320.8,222.4 321.3,222.5 321.8,222.2 322.3,221.9 322.8,222.2 323.3,222.1 323.8,222 324.3,222.2 324.8,221.8 325.3,222.4 325.8,222.2 326.3,222.2 326.8,222.4 327.3,222.1 327.8,221.8 328.3,221.7 328.8,221.5 329.3,221.2 329.8,221.4 330.3,220.8 330.8,218.7 331.3,214.4 331.8,208.5 332.3,207.1 332.8,213 333.3,217.5 333.8,220.4 334.3,221.3 334.9,221.7 335.4,221.6 335.9,221.6 336.4,222.2 336.9,221.9 337.4,222 337.9,222.1 338.4,222 338.9,222.4 339.4,222 339.9,221.9 340.4,222.3 340.9,222.3 341.4,222.5 341.9,222.4 342.4,222.5 342.9,222.6 343.4,222.2 343.9,222.3 344.4,222 344.9,222.1 345.4,222.3 345.9,222 346.4,222.4 346.9,222 347.4,222.2 347.9,222.6 348.4,221.9 348.9,221.8 349.4,222 349.9,221.7 350.4,221.7 350.9,220.7 351.4,221.1 351.9,221.3 352.4,221.7 352.9,221.8 353.4,221.9 353.9,222.3 354.4,222.2 354.9,222.2 355.4,222.2 355.9,222.2 356.4,222.4 356.9,222.5 357.4,222.6 357.9,222.1 358.4,222.2 358.9,222.3 359.4,222.4 359.9,222.2 360.4,222.1 360.9,222.1 361.4,222.2 361.9,222.3 362.4,222.7 362.9,222.6 363.4,222.6 363.9,222.7 364.4,222.7 364.9,222.4 365.4,222.6 365.9,222.1 366.4,222.5 366.9,222.4 367.4,222.2 367.9,222.4 368.4,222.7 368.9,222.4 369.4,222.5 369.9,222.2 370.4,222.3 370.9,222.7 371.4,222.1 371.9,222.2 372.4,222.5 372.9,222.3 373.4,222.1 373.9,222.5 374.4,222.3 374.9,222.4" fill="none" stroke="#b3952f" stroke-width="2.0" stroke-linejoin="round"/>
<path d="M54.5,248.9 55,249 55.5,249 56,248.9 56.5,248.7 57,248.7 57.5,249.2 58,249 58.5,248.7 59,249.2 59.5,248.8 60,248.6 60.5,248.9 61,248.7 61.5,248.9 62,248.9 62.5,248.7 63,248.9 63.5,248.6 64,248.9 64.5,248.9 65,248.5 65.5,248.8 66,248.5 66.5,248.7 67,249 67.5,248.7 68,248.8 68.5,248.7 69,248.2 69.5,248.6 70,248.2 70.5,247.4 71,247.2 71.5,245.5 72,241.2 72.5,232 73,219.7 73.5,223.2 74,235.4 74.5,243.4 75,245.8 75.5,247 76,247.7 76.5,247.7 77,248.3 77.5,248.2 78,248.3 78.5,248.7 79,248.5 79.5,248.9 80,248.7 80.5,248.8 81,248.6 81.5,248.8 82,248.7 82.5,248.1 83,248.3 83.5,247.7 84,247.4 84.5,245.9 85,242.4 85.5,235.5 86,231.7 86.5,236.8 87,243 87.5,246 88,246.8 88.5,247.6 89,247.4 89.5,247.7 90,247.8 90.5,247.1 91,247.3 91.5,246.6 92,245.4 92.5,243.7 93,240 93.5,229.2 94,204.2 94.5,177 95.1,190.3 95.6,219.9 96.1,236.9 96.6,242.6 97.1,245.2 97.6,246.2 98.1,247.2 98.6,247.4 99.1,247.6 99.6,248.4 100.1,248.3 100.6,248.5 101.1,248.7 101.6,248.9 102.1,248.3 102.6,248.6 103.1,248.5 103.6,248.7 104.1,249 104.6,248.9 105.1,248.2 105.6,248.1 106.1,248.3 106.6,248 107.1,247.8 107.6,248.1 108.1,248.1 108.6,248.9 109.1,248.7 109.6,249.2 110.1,249 110.6,248.7 111.1,248.9 111.6,248.8 112.1,249.3 112.6,249.1 113.1,248.8 113.6,248.8 114.1,249 114.6,249.1 115.1,249.1 115.6,249 116.1,249 116.6,248.8 117.1,249.2 117.6,249 118.1,248.8 118.6,249.1 119.1,249.4 119.6,248.8 120.1,248.8 120.6,249.2 121.1,248.9 121.6,248.9 122.1,249 122.6,248.9 123.1,249 123.6,249 124.1,249.2 124.6,249.2 125.1,248.4 125.6,248.7 126.1,248.6 126.6,248.3 127.1,247.4 127.6,245.2 128.1,240.5 128.6,234.2 129.1,234.3 129.6,240.9 130.1,245.5 130.6,247.5 131.1,248.1 131.6,248.2 132.1,248.6 132.6,248.7 133.1,248.6 133.6,248.7 134.1,248.4 134.6,248.5 135.1,248.2 135.6,247.7 136.1,247.5 136.6,246.9 137.1,246.1 137.6,242.2 138.1,232.8 138.6,216.4 139.1,210.1 139.6,225.3 140.1,238.4 140.6,244.2 141.1,246.8 141.6,247.4 142.1,247.9 142.6,248.4 143.1,248.4 143.6,248.4 144.1,248.5 144.6,248.7 145.1,248.8 145.6,249.2 146.1,249.1 146.6,249.4 147.1,249 147.6,249.4 148.1,249.2 148.6,248.8 149.1,248.9 149.6,249.2 150.1,249.5 150.6,249 151.1,249.3 151.6,249.1 152.1,249.3 152.6,248.7 153.1,249 153.6,249.1 154.1,248.5 154.6,248 155.1,246.7 155.6,244.8 156.1,242.1 156.6,241.6 157.1,243.5 157.6,246.2 158.1,247.6 158.6,248.6 159.1,249.1 159.6,249.1 160.1,248.9 160.6,249.3 161.1,249.5 161.6,249.3 162.1,249 162.6,249.5 163.1,249.6 163.6,249.2 164.1,249.1 164.6,249.1 165.1,249.4 165.6,249.6 166.1,249.5 166.6,249.7 167.1,249.2 167.6,249.3 168.1,249.6 168.6,249.5 169.1,249.3 169.6,249.5 170.1,249.3 170.6,249.1 171.1,249.4 171.6,249.1 172.1,249.5 172.6,249.3 173.1,249.4 173.6,249.5 174.1,249.3 174.6,249.4 175.2,249.1 175.7,249.7 176.2,249.5 176.7,249.8 177.2,249.1 177.7,249.5 178.2,249.6 178.7,249.3 179.2,249.2 179.7,249.2 180.2,249.2 180.7,249.7 181.2,249.2 181.7,249.7 182.2,249.4 182.7,249.5 183.2,249.5 183.7,249.5 184.2,249.6 184.7,249.5 185.2,249.3 185.7,249.6 186.2,249.3 186.7,249.6 187.2,249.6 187.7,249.6 188.2,249.3 188.7,249.6 189.2,249.8 189.7,249.4 190.2,249.2 190.7,249.4 191.2,249.6 191.7,249 192.2,248.8 192.7,249 193.2,248.8 193.7,248.2 194.2,246.9 194.7,246.2 195.2,245.4 195.7,246.3 196.2,246 196.7,245.7 197.2,245.9 197.7,246.6 198.2,247.9 198.7,248.6 199.2,248.8 199.7,249.5 200.2,249.2 200.7,249.1 201.2,249.2 201.7,249.6 202.2,249.7 202.7,249.2 203.2,249.1 203.7,249.7 204.2,249.3 204.7,249.8 205.2,249.5 205.7,249.6 206.2,249.4 206.7,249.7 207.2,249.4 207.7,249.3 208.2,249.7 208.7,249 209.2,249.4 209.7,248.7 210.2,248.6 210.7,247.2 211.2,245.1 211.7,242.3 212.2,244.1 212.7,246.7 213.2,248.6 213.7,249.3 214.2,249.3 214.7,249.1 215.2,249.2 215.7,249.3 216.2,249.4 216.7,249.3 217.2,249.3 217.7,249.7 218.2,249.7 218.7,249.4 219.2,249.9 219.7,249.4 220.2,249.6 220.7,249.4 221.2,249.9 221.7,249.9 222.2,249.4 222.7,249.8 223.2,249.8 223.7,249.5 224.2,249.5 224.7,249.6 225.2,249.9 225.7,249.3 226.2,249.7 226.7,249.6 227.2,249.5 227.7,249.5 228.2,249.5 228.7,248.8 229.2,248.9 229.7,248.2 230.2,248.4 230.7,248.6 231.2,248.5 231.7,249.3 232.2,249.6 232.7,249.3 233.2,249.2 233.7,249.3 234.2,249.9 234.7,249.3 235.2,249.9 235.7,249.4 236.2,249.8 236.7,249.3 237.2,249.4 237.7,249.7 238.2,249.3 238.7,249.5 239.2,249.9 239.7,249.7 240.2,249.7 240.7,249.7 241.2,248.7 241.7,248.3 242.2,247.9 242.7,247 243.2,246.5 243.7,247.6 244.2,248.3 244.7,249 245.2,249 245.7,249.1 246.2,249.8 246.7,249.3 247.2,249.7 247.7,249 248.2,249 248.7,248.3 249.2,248.2 249.7,248.1 250.2,248.9 250.7,248.9 251.2,249.6 251.7,249.5 252.2,249.3 252.7,249.5 253.2,249.7 253.7,250 254.2,249.6 254.8,249.5 255.3,250 255.8,250 256.3,249.9 256.8,249.5 257.3,249.5 257.8,249.5 258.3,249.3 258.8,249.3 259.3,249.6 259.8,249.4 260.3,249.4 260.8,249 261.3,248.2 261.8,248.1 262.3,247.8 262.8,248 263.3,248.6 263.8,249.1 264.3,249.5 264.8,249.5 265.3,249.4 265.8,249.1 266.3,248.9 266.8,248.7 267.3,248.5 267.8,246.9 268.3,243.6 268.8,236.8 269.3,228.9 269.8,231.6 270.3,239.3 270.8,245.2 271.3,247.9 271.8,248.3 272.3,249 272.8,249.1 273.3,249.1 273.8,249.2 274.3,249.3 274.8,249.8 275.3,249.8 275.8,250 276.3,249.4 276.8,249.9 277.3,249.6 277.8,249.9 278.3,249.8 278.8,249.7 279.3,250.1 279.8,249.5 280.3,250 280.8,250.1 281.3,249.8 281.8,249.9 282.3,250.2 282.8,249.7 283.3,249.9 283.8,250 284.3,249.8 284.8,250 285.3,249.8 285.8,249.9 286.3,249.9 286.8,250 287.3,249.7 287.8,250 288.3,249.9 288.8,249.7 289.3,249.9 289.8,249.7 290.3,250.1 290.8,249.8 291.3,249.9 291.8,249.7 292.3,249.6 292.8,249.2 293.3,248.8 293.8,248.9 294.3,248.2 294.8,248 295.3,248.2 295.8,248.9 296.3,248.9 296.8,249.2 297.3,249.8 297.8,249.7 298.3,249.9 298.8,250.1 299.3,250.1 299.8,250.1 300.3,249.6 300.8,249.8 301.3,250.1 301.8,250.1 302.3,249.6 302.8,249.7 303.3,249.7 303.8,249.6 304.3,249.8 304.8,250.1 305.3,249.9 305.8,249.8 306.3,249.4 306.8,249.5 307.3,249.6 307.8,249.1 308.3,248.6 308.8,248.5 309.3,249 309.8,249.3 310.3,249.2 310.8,249.8 311.3,249.7 311.8,249.9 312.3,249.7 312.8,249.8 313.3,249.8 313.8,249.9 314.3,249.6 314.8,249.8 315.3,250 315.8,249.7 316.3,249.8 316.8,250.2 317.3,249.9 317.8,249.9 318.3,249.8 318.8,250.3 319.3,249.7 319.8,250.1 320.3,250.3 320.8,249.8 321.3,250 321.8,250.2 322.3,250.1 322.8,249.9 323.3,249.7 323.8,250 324.3,249.9 324.8,250.1 325.3,249.8 325.8,249.9 326.3,250 326.8,250.1 327.3,249.8 327.8,249.8 328.3,249.8 328.8,250 329.3,249.3 329.8,249.6 330.3,248.8 330.8,247.1 331.3,243.8 331.8,238.4 332.3,236.9 332.8,242.2 333.3,246.2 333.8,248.4 334.3,249.1 334.9,249.7 335.4,249.8 335.9,249.4 336.4,249.9 336.9,249.9 337.4,249.9 337.9,250.2 338.4,249.9 338.9,250 339.4,250.3 339.9,250 340.4,250.1 340.9,250.1 341.4,250.3 341.9,250.2 342.4,250.3 342.9,250 343.4,249.8 343.9,250.2 344.4,250.2 344.9,250.3 345.4,250.3 345.9,249.8 346.4,249.9 346.9,249.8 347.4,250.3 347.9,249.8 348.4,249.8 348.9,250.2 349.4,250 349.9,249.4 350.4,249.5 350.9,249.1 351.4,248.7 351.9,248.6 352.4,249.5 352.9,249.7 353.4,250 353.9,250.4 354.4,250.3 354.9,250.4 355.4,249.9 355.9,250 356.4,250.2 356.9,249.8 357.4,250.5 357.9,250 358.4,250 358.9,250.1 359.4,250 359.9,250.5 360.4,250.3 360.9,250.2 361.4,250.2 361.9,249.9 362.4,250.1 362.9,250.5 363.4,250.4 363.9,250.5 364.4,250.1 364.9,250 365.4,249.9 365.9,250.3 366.4,250.2 366.9,250.2 367.4,250.3 367.9,250.3 368.4,250.2 368.9,250.5 369.4,250.1 369.9,250.6 370.4,250.3 370.9,250 371.4,250.1 371.9,250.3 372.4,250.2 372.9,250.3 373.4,250.2 373.9,250.1 374.4,250.5 374.9,250.1" fill="none" stroke="#5a8c3a" stroke-width="2.0" stroke-linejoin="round"/>
<text x="184.5" y="68.2" font-family="Liberation Serif" font-size="12.1" font-weight="bold" fill="#2aae8c" text-anchor="start">SiC@MO-t8</text>
<text x="184.5" y="116.0" font-family="Liberation Serif" font-size="12.1" font-weight="bold" fill="#4a64a0" text-anchor="start">SiC@MO-t6</text>
<text x="183.5" y="167.5" font-family="Liberation Serif" font-size="12.1" font-weight="bold" fill="#c8783a" text-anchor="start">SiC@MO-t4</text>
<text x="184.5" y="216.0" font-family="Liberation Serif" font-size="12.1" font-weight="bold" fill="#b3952f" text-anchor="start">SiC@MO-t2</text>
<text x="186.5" y="243.0" font-family="Liberation Serif" font-size="12.1" font-weight="bold" fill="#5a8c3a" text-anchor="start">SiC@MoO<tspan font-size="8" dy="3">3</tspan></text>
<text x="62.0" y="262.0" font-family="Liberation Serif" font-size="12.1" font-weight="bold" fill="#1a1ae6" text-anchor="start">JCPDS Card No.89-7112</text>
<text x="374.0" y="260.8" font-family="Liberation Serif" font-size="12.1" font-weight="bold" fill="#c8102e" text-anchor="end">JCPDS Card No.29-1129</text>
<text x="79.3" y="64.7" font-family="Liberation Serif" font-size="12.8" font-weight="bold" fill="#1010e0" transform="rotate(-90 79.3 64.7)" textLength="29" lengthAdjust="spacing"><tspan font-weight="normal">(</tspan><tspan dx="2">101</tspan><tspan dx="2" font-weight="normal">)</tspan></text>
<text x="90.4" y="70.1" font-family="Liberation Serif" font-size="12.8" font-weight="bold" fill="#1010e0" transform="rotate(-90 90.4 70.1)" textLength="29" lengthAdjust="spacing"><tspan font-weight="normal">(</tspan><tspan dx="2">400</tspan><tspan dx="2" font-weight="normal">)</tspan></text>
<text x="100.7" y="63.1" font-family="Liberation Serif" font-size="12.8" font-weight="bold" fill="#1010e0" transform="rotate(-90 100.7 63.1)" textLength="29" lengthAdjust="spacing"><tspan font-weight="normal">(</tspan><tspan dx="2">210</tspan><tspan dx="2" font-weight="normal">)</tspan></text>
<text x="132.4" y="66.9" font-family="Liberation Serif" font-size="12.8" font-weight="bold" fill="#1010e0" transform="rotate(-90 132.4 66.9)" textLength="29" lengthAdjust="spacing"><tspan font-weight="normal">(</tspan><tspan dx="2">111</tspan><tspan dx="2" font-weight="normal">)</tspan></text>
<text x="143.6" y="40.9" font-family="Liberation Serif" font-size="12.8" font-weight="bold" fill="#c00010" transform="rotate(-90 143.6 40.9)" textLength="29" lengthAdjust="spacing"><tspan font-weight="normal">(</tspan><tspan dx="2">111</tspan><tspan dx="2" font-weight="normal">)</tspan></text>
<text x="174.6" y="66.9" font-family="Liberation Serif" font-size="12.8" font-weight="bold" fill="#c00010" transform="rotate(-90 174.6 66.9)" textLength="29" lengthAdjust="spacing"><tspan font-weight="normal">(</tspan><tspan dx="2">200</tspan><tspan dx="2" font-weight="normal">)</tspan></text>
<text x="272.9" y="52.0" font-family="Liberation Serif" font-size="12.8" font-weight="bold" fill="#c00010" transform="rotate(-90 272.9 52.0)" textLength="29" lengthAdjust="spacing"><tspan font-weight="normal">(</tspan><tspan dx="2">220</tspan><tspan dx="2" font-weight="normal">)</tspan></text>
<text x="336.2" y="57.0" font-family="Liberation Serif" font-size="12.8" font-weight="bold" fill="#c00010" transform="rotate(-90 336.2 57.0)" textLength="29" lengthAdjust="spacing"><tspan font-weight="normal">(</tspan><tspan dx="2">311</tspan><tspan dx="2" font-weight="normal">)</tspan></text>
<text x="355.6" y="70.0" font-family="Liberation Serif" font-size="12.8" font-weight="bold" fill="#c00010" transform="rotate(-90 355.6 70.0)" textLength="29" lengthAdjust="spacing"><tspan font-weight="normal">(</tspan><tspan dx="2">222</tspan><tspan dx="2" font-weight="normal">)</tspan></text>
<rect x="54.5" y="7.3" width="320.4" height="258.1" fill="none" stroke="#000" stroke-width="2.8"/>
<line x1="81.2" y1="265.4" x2="81.2" y2="268.4" stroke="#000" stroke-width="2.5"/>
<line x1="107.9" y1="265.4" x2="107.9" y2="269.9" stroke="#000" stroke-width="2.5"/>
<line x1="134.6" y1="265.4" x2="134.6" y2="268.4" stroke="#000" stroke-width="2.5"/>
<line x1="161.3" y1="265.4" x2="161.3" y2="269.9" stroke="#000" stroke-width="2.5"/>
<line x1="188.0" y1="265.4" x2="188.0" y2="268.4" stroke="#000" stroke-width="2.5"/>
<line x1="214.7" y1="265.4" x2="214.7" y2="269.9" stroke="#000" stroke-width="2.5"/>
<line x1="241.4" y1="265.4" x2="241.4" y2="268.4" stroke="#000" stroke-width="2.5"/>
<line x1="268.1" y1="265.4" x2="268.1" y2="269.9" stroke="#000" stroke-width="2.5"/>
<line x1="294.8" y1="265.4" x2="294.8" y2="268.4" stroke="#000" stroke-width="2.5"/>
<line x1="321.5" y1="265.4" x2="321.5" y2="269.9" stroke="#000" stroke-width="2.5"/>
<line x1="348.2" y1="265.4" x2="348.2" y2="268.4" stroke="#000" stroke-width="2.5"/>
<text x="107.9" y="287.3" font-family="Liberation Serif" font-size="17.3" font-weight="bold" fill="#000" text-anchor="middle">30</text>
<text x="161.3" y="287.3" font-family="Liberation Serif" font-size="17.3" font-weight="bold" fill="#000" text-anchor="middle">40</text>
<text x="214.7" y="287.3" font-family="Liberation Serif" font-size="17.3" font-weight="bold" fill="#000" text-anchor="middle">50</text>
<text x="268.1" y="287.3" font-family="Liberation Serif" font-size="17.3" font-weight="bold" fill="#000" text-anchor="middle">60</text>
<text x="321.5" y="287.3" font-family="Liberation Serif" font-size="17.3" font-weight="bold" fill="#000" text-anchor="middle">70</text>
<text x="214.5" y="308.0" font-family="Liberation Serif" font-size="22.5" font-weight="bold" fill="#000" text-anchor="middle"><tspan font-weight="normal">2θ </tspan>(degree)</text>
<text x="41.1" y="142.9" font-family="Liberation Serif" font-size="21.8" font-weight="bold" fill="#000" text-anchor="middle" transform="rotate(-90 41.1 142.9)">Intensity (a.u.)</text>
<text x="10.2" y="35.4" font-family="Liberation Serif" font-size="39" font-weight="bold" fill="#000" text-anchor="start">(a)</text>
<path d="M384.7,34.7 385.1,34.8 385.5,34.7 385.9,34.6 386.4,34.9 386.8,34.6 387.2,34.8 387.6,34.4 388,34.6 388.4,34.7 388.9,34.4 389.3,34.9 389.7,34.4 390.1,34.7 390.5,34.5 390.9,34.9 391.4,34.7 391.8,34.8 392.2,34.7 392.6,34.8 393,34.8 393.4,34.5 393.9,34.5 394.3,34.9 394.7,34.5 395.1,34.9 395.5,34.5 395.9,34.5 396.3,34.5 396.8,34.9 397.2,35 397.6,34.7 398,34.8 398.4,34.6 398.8,35 399.3,34.8 399.7,34.5 400.1,34.5 400.5,34.8 400.9,34.5 401.3,34.9 401.8,34.6 402.2,34.6 402.6,34.8 403,34.6 403.4,34.8 403.8,34.5 404.3,35 404.7,34.7 405.1,35 405.5,34.6 405.9,34.9 406.3,35.1 406.7,34.7 407.2,34.5 407.6,34.7 408,34.9 408.4,34.6 408.8,34.8 409.2,34.6 409.7,34.8 410.1,34.9 410.5,34.8 410.9,34.9 411.3,34.6 411.7,35 412.2,34.6 412.6,35.1 413,35.1 413.4,35.1 413.8,34.8 414.2,34.7 414.7,34.7 415.1,35 415.5,34.8 415.9,35.1 416.3,34.6 416.7,34.8 417.1,35.1 417.6,34.9 418,34.9 418.4,34.6 418.8,34.7 419.2,34.7 419.6,35.1 420.1,35.1 420.5,34.7 420.9,35.1 421.3,34.6 421.7,35 422.1,35.2 422.6,34.8 423,35.2 423.4,35 423.8,34.6 424.2,34.8 424.6,34.9 425.1,34.8 425.5,35.1 425.9,34.7 426.3,35.1 426.7,34.8 427.1,34.7 427.5,35 428,34.7 428.4,35 428.8,35.1 429.2,35 429.6,34.9 430,34.7 430.5,35 430.9,34.7 431.3,35.1 431.7,34.8 432.1,35 432.5,34.9 433,34.9 433.4,35.1 433.8,34.8 434.2,34.8 434.6,35.3 435,34.9 435.5,35.2 435.9,35.2 436.3,35 436.7,34.8 437.1,34.8 437.5,35.3 437.9,34.8 438.4,35 438.8,35.1 439.2,34.8 439.6,35 440,34.8 440.4,35.1 440.9,35.1 441.3,35 441.7,34.9 442.1,35 442.5,34.9 442.9,34.8 443.4,34.9 443.8,35.3 444.2,35.1 444.6,35.3 445,34.8 445.4,35.4 445.9,35.1 446.3,35.3 446.7,35.1 447.1,35.2 447.5,34.9 447.9,35.3 448.3,34.9 448.8,35 449.2,34.8 449.6,35.1 450,35.1 450.4,35 450.8,35.4 451.3,34.9 451.7,35.2 452.1,35 452.5,35.2 452.9,35.3 453.3,35.3 453.8,34.9 454.2,35 454.6,35.2 455,35.5 455.4,34.9 455.8,35.2 456.3,35.3 456.7,35.4 457.1,35.1 457.5,35.4 457.9,35.2 458.3,35.4 458.7,34.9 459.2,35.5 459.6,35.1 460,35.1 460.4,35 460.8,35.1 461.2,35.4 461.7,35.3 462.1,35 462.5,35.1 462.9,35 463.3,35 463.7,35.1 464.2,35.1 464.6,35.5 465,35.5 465.4,35.4 465.8,35.2 466.2,35.3 466.7,35.4 467.1,35.5 467.5,35.4 467.9,35.3 468.3,35.1 468.7,35.3 469.1,35.5 469.6,35.5 470,35 470.4,35.4 470.8,35.2 471.2,35.1 471.6,35.6 472.1,35.4 472.5,35.5 472.9,35.1 473.3,35.5 473.7,35.6 474.1,35.6 474.6,35.5 475,35.5 475.4,35.5 475.8,35.4 476.2,35.3 476.6,35.5 477.1,35.5 477.5,35.6 477.9,35.2 478.3,35.6 478.7,35.4 479.1,35.6 479.5,35.1 480,35.6 480.4,35.5 480.8,35.2 481.2,35.6 481.6,35.2 482,35.2 482.5,35.4 482.9,35.2 483.3,35.4 483.7,35.6 484.1,35.5 484.5,35.5 485,35.3 485.4,35.6 485.8,35.6 486.2,35.5 486.6,35.7 487,35.6 487.5,35.4 487.9,35.2 488.3,35.5 488.7,35.6 489.1,35.3 489.5,35.5 489.9,35.6 490.4,35.6 490.8,35.2 491.2,35.4 491.6,35.2 492,35.2 492.4,35.7 492.9,35.4 493.3,35.5 493.7,35.4 494.1,35.4 494.5,35.3 494.9,35.4 495.4,35.7 495.8,35.6 496.2,35.4 496.6,35.2 497,35.4 497.4,35.6 497.9,35.5 498.3,35.6 498.7,35.7 499.1,35.3 499.5,35.6 499.9,35.2 500.3,35.7 500.8,35.3 501.2,35.4 501.6,35.8 502,35.5 502.4,35.4 502.8,35.8 503.3,35.6 503.7,35.8 504.1,35.5 504.5,35.6 504.9,35.8 505.3,35.6 505.8,35.9 506.2,35.4 506.6,35.8 507,35.4 507.4,35.6 507.8,35.3 508.3,35.4 508.7,35.9 509.1,35.6 509.5,35.8" fill="none" stroke="#2aae8c" stroke-width="2.0" stroke-linejoin="round"/>
<path d="M384.7,76.4 385.1,76.5 385.5,76.3 385.9,76.6 386.4,76.7 386.8,76.5 387.2,76.3 387.6,76.6 388,76.6 388.4,76.4 388.9,76 389.3,76.3 389.7,76.1 390.1,76.3 390.5,75.9 390.9,76 391.4,75.9 391.8,75.7 392.2,75.7 392.6,75.7 393,75.7 393.4,75.4 393.9,75.2 394.3,75.4 394.7,74.8 395.1,75.1 395.5,74.9 395.9,74.7 396.3,74.5 396.8,74.6 397.2,74.5 397.6,74.3 398,74.1 398.4,73.6 398.8,73.6 399.3,73.3 399.7,73.7 400.1,73.5 400.5,72.9 400.9,73 401.3,72.9 401.8,72.5 402.2,72.6 402.6,72.6 403,72.5 403.4,72.2 403.8,72.4 404.3,72 404.7,72.1 405.1,72 405.5,72.3 405.9,72 406.3,72.1 406.7,72 407.2,71.9 407.6,72.3 408,72.2 408.4,72.2 408.8,72 409.2,72 409.7,72.4 410.1,72.6 410.5,72.7 410.9,72.6 411.3,72.6 411.7,72.9 412.2,73.3 412.6,73 413,73.5 413.4,73.3 413.8,73.5 414.2,73.5 414.7,73.8 415.1,74 415.5,74.5 415.9,74.7 416.3,74.3 416.7,74.6 417.1,75.1 417.6,74.8 418,75 418.4,75.2 418.8,75.1 419.2,75.3 419.6,75.5 420.1,75.6 420.5,76 420.9,75.7 421.3,75.8 421.7,76.3 422.1,76.1 422.6,76.4 423,76.4 423.4,76.5 423.8,76.3 424.2,76.3 424.6,76.7 425.1,76.6 425.5,76.7 425.9,76.8 426.3,76.9 426.7,76.6 427.1,76.7 427.5,77.1 428,76.9 428.4,76.8 428.8,77 429.2,76.8 429.6,77.1 430,76.7 430.5,77.2 430.9,77.1 431.3,76.9 431.7,77.3 432.1,76.9 432.5,76.9 433,76.8 433.4,77.1 433.8,77.3 434.2,77.2 434.6,77.1 435,77.3 435.5,76.9 435.9,77 436.3,77.3 436.7,77.5 437.1,77.3 437.5,77.3 437.9,77.4 438.4,77.1 438.8,77.5 439.2,77.4 439.6,77.1 440,77.2 440.4,77.4 440.9,77.1 441.3,77.1 441.7,77.5 442.1,77.3 442.5,77.3 442.9,77.4 443.4,77.5 443.8,77.1 444.2,77.2 444.6,77 445,77.2 445.4,77.3 445.9,77.5 446.3,77.4 446.7,77.4 447.1,77.3 447.5,77.4 447.9,77.2 448.3,77.5 448.8,77.5 449.2,77.5 449.6,77.1 450,77.4 450.4,77.5 450.8,77.3 451.3,77.6 451.7,77.6 452.1,77.5 452.5,77.6 452.9,77.5 453.3,77.6 453.8,77.2 454.2,77.5 454.6,77.5 455,77.5 455.4,77.3 455.8,77.1 456.3,77.5 456.7,77.6 457.1,77.3 457.5,77.2 457.9,77.2 458.3,77.2 458.7,77.5 459.2,77.7 459.6,77.6 460,77.3 460.4,77.6 460.8,77.2 461.2,77.6 461.7,77.3 462.1,77.1 462.5,77.5 462.9,77.2 463.3,77.3 463.7,77.2 464.2,77.4 464.6,77.5 465,77.7 465.4,77.2 465.8,77.7 466.2,77.2 466.7,77.3 467.1,77.6 467.5,77.4 467.9,77.4 468.3,77.5 468.7,77.3 469.1,77.7 469.6,77.3 470,77.7 470.4,77.7 470.8,77.5 471.2,77.2 471.6,77.7 472.1,77.2 472.5,77.5 472.9,77.5 473.3,77.3 473.7,77.6 474.1,77.7 474.6,77.6 475,77.5 475.4,77.6 475.8,77.6 476.2,77.4 476.6,77.8 477.1,77.9 477.5,77.7 477.9,77.8 478.3,77.5 478.7,77.9 479.1,77.3 479.5,77.6 480,77.4 480.4,77.6 480.8,77.7 481.2,77.7 481.6,77.6 482,77.5 482.5,77.4 482.9,77.5 483.3,77.5 483.7,77.4 484.1,77.8 484.5,77.6 485,77.6 485.4,77.4 485.8,77.7 486.2,77.4 486.6,77.5 487,77.7 487.5,77.8 487.9,77.9 488.3,77.8 488.7,77.9 489.1,77.9 489.5,77.8 489.9,77.8 490.4,77.4 490.8,77.5 491.2,77.4 491.6,77.9 492,77.8 492.4,77.7 492.9,77.5 493.3,77.6 493.7,77.5 494.1,77.8 494.5,78 494.9,77.6 495.4,77.4 495.8,77.5 496.2,77.6 496.6,77.9 497,77.9 497.4,77.7 497.9,77.5 498.3,77.5 498.7,77.5 499.1,77.9 499.5,77.7 499.9,78 500.3,78 500.8,77.9 501.2,77.7 501.6,77.9 502,77.5 502.4,77.5 502.8,77.8 503.3,77.7 503.7,77.6 504.1,77.6 504.5,77.5 504.9,78 505.3,77.9 505.8,78 506.2,78.1 506.6,77.7 507,77.9 507.4,77.7 507.8,78 508.3,78 508.7,77.6 509.1,77.5 509.5,77.6" fill="none" stroke="#4a64a0" stroke-width="2.0" stroke-linejoin="round"/>
<path d="M384.7,121.5 385.1,121.4 385.5,121.2 385.9,121.6 386.4,121.6 386.8,121.4 387.2,121.2 387.6,121.7 388,121.5 388.4,121.2 388.9,121.4 389.3,121.6 389.7,121.7 390.1,121.5 390.5,121.6 390.9,121.3 391.4,121.4 391.8,121.8 392.2,121.5 392.6,121.3 393,121.6 393.4,121.3 393.9,121.4 394.3,121.5 394.7,121.6 395.1,121.6 395.5,121.7 395.9,121.5 396.3,121.3 396.8,121.7 397.2,121.3 397.6,121.6 398,121.5 398.4,121.7 398.8,121.7 399.3,121.4 399.7,121.7 400.1,121.7 400.5,121.6 400.9,121.4 401.3,121.8 401.8,121.7 402.2,121.3 402.6,121.4 403,121.9 403.4,121.4 403.8,121.5 404.3,121.8 404.7,121.8 405.1,121.7 405.5,121.7 405.9,121.3 406.3,121.3 406.7,121.8 407.2,121.7 407.6,121.2 408,121.2 408.4,121.3 408.8,121.7 409.2,121.2 409.7,121.5 410.1,121.6 410.5,121.4 410.9,121.5 411.3,121 411.7,120.9 412.2,120.7 412.6,121.1 413,120.6 413.4,121 413.8,120.8 414.2,120.3 414.7,120.6 415.1,120 415.5,120.1 415.9,119.7 416.3,119.9 416.7,119.8 417.1,119.6 417.6,118.8 418,119.1 418.4,118.7 418.8,118.6 419.2,118.2 419.6,118 420.1,117.8 420.5,117.6 420.9,116.9 421.3,116.7 421.7,116.7 422.1,116.4 422.6,116.2 423,115.8 423.4,116.1 423.8,115.5 424.2,115.8 424.6,115.7 425.1,115.4 425.5,115.2 425.9,115.5 426.3,115.2 426.7,115.4 427.1,115.3 427.5,116 428,115.8 428.4,115.9 428.8,115.9 429.2,116.5 429.6,116.8 430,117.1 430.5,116.9 430.9,117.3 431.3,117.5 431.7,118 432.1,117.9 432.5,118.5 433,119 433.4,119.1 433.8,118.9 434.2,119.1 434.6,119.4 435,120 435.5,120.1 435.9,120.3 436.3,120.4 436.7,120.5 437.1,120.8 437.5,121 437.9,121.3 438.4,121.3 438.8,121.5 439.2,121.6 439.6,121.7 440,121.7 440.4,121.4 440.9,121.8 441.3,122 441.7,121.8 442.1,122.2 442.5,121.8 442.9,122.3 443.4,122 443.8,122.2 444.2,122 444.6,122 445,122.1 445.4,122.1 445.9,122 446.3,122.2 446.7,122.6 447.1,122.4 447.5,122.6 447.9,122.5 448.3,122.6 448.8,122.7 449.2,122.5 449.6,122.3 450,122.3 450.4,122.4 450.8,122.2 451.3,122.3 451.7,122.7 452.1,122.7 452.5,122.4 452.9,122.7 453.3,122.7 453.8,122.8 454.2,122.7 454.6,122.6 455,122.3 455.4,122.8 455.8,122.5 456.3,122.7 456.7,122.5 457.1,122.6 457.5,122.9 457.9,122.4 458.3,122.7 458.7,122.7 459.2,122.7 459.6,122.9 460,122.6 460.4,122.9 460.8,122.8 461.2,123 461.7,122.5 462.1,122.5 462.5,122.6 462.9,123 463.3,122.5 463.7,122.6 464.2,122.9 464.6,123.1 465,122.6 465.4,122.8 465.8,122.9 466.2,122.9 466.7,123 467.1,123 467.5,122.7 467.9,122.7 468.3,122.6 468.7,123 469.1,122.7 469.6,122.7 470,123.2 470.4,123 470.8,122.9 471.2,123 471.6,123 472.1,123 472.5,122.8 472.9,122.7 473.3,122.7 473.7,122.7 474.1,122.9 474.6,122.8 475,122.7 475.4,123 475.8,123.3 476.2,123.1 476.6,122.9 477.1,123.2 477.5,122.8 477.9,122.8 478.3,122.9 478.7,123 479.1,123.2 479.5,123 480,123.2 480.4,122.8 480.8,123.3 481.2,123 481.6,123.3 482,122.8 482.5,123.3 482.9,123 483.3,123.3 483.7,123.3 484.1,123.2 484.5,123 485,122.9 485.4,123 485.8,123.4 486.2,123 486.6,123.3 487,123.2 487.5,123.3 487.9,123 488.3,123 488.7,123 489.1,123.5 489.5,123.2 489.9,123.3 490.4,123.3 490.8,123.1 491.2,123 491.6,123 492,123.5 492.4,123.1 492.9,123.6 493.3,123.2 493.7,123.4 494.1,123.1 494.5,123.5 494.9,123.2 495.4,123.3 495.8,123.4 496.2,123.1 496.6,123.2 497,123.5 497.4,123.2 497.9,123.3 498.3,123.5 498.7,123.2 499.1,123.2 499.5,123.2 499.9,123.3 500.3,123.3 500.8,123.5 501.2,123.4 501.6,123.7 502,123.2 502.4,123.6 502.8,123.7 503.3,123.3 503.7,123.2 504.1,123.5 504.5,123.3 504.9,123.5 505.3,123.6 505.8,123.3 506.2,123.3 506.6,123.5 507,123.3 507.4,123.4 507.8,123.5 508.3,123.3 508.7,123.3 509.1,123.5 509.5,123.6" fill="none" stroke="#c8783a" stroke-width="2.0" stroke-linejoin="round"/>
<path d="M384.7,176.3 385.1,176.1 385.5,175.8 385.9,175.9 386.4,176.2 386.8,176.1 387.2,176.2 387.6,176.3 388,176.2 388.4,175.8 388.9,176.3 389.3,176 389.7,175.8 390.1,175.8 390.5,176.2 390.9,175.8 391.4,175.7 391.8,175.8 392.2,176.2 392.6,175.9 393,176 393.4,175.6 393.9,175.8 394.3,175.8 394.7,175.7 395.1,175.9 395.5,175.7 395.9,175.6 396.3,176.1 396.8,175.8 397.2,175.6 397.6,175.5 398,175.8 398.4,175.7 398.8,175.4 399.3,175.7 399.7,175.8 400.1,175.6 400.5,175.4 400.9,175.6 401.3,175.6 401.8,175.6 402.2,175.3 402.6,175.6 403,175.7 403.4,175.5 403.8,175.6 404.3,175.2 404.7,175.5 405.1,175 405.5,175 405.9,175.2 406.3,175.3 406.7,174.7 407.2,174.8 407.6,174.6 408,174.7 408.4,174.5 408.8,174.4 409.2,174.6 409.7,174.3 410.1,174.4 410.5,173.9 410.9,173.9 411.3,173.2 411.7,173.5 412.2,172.8 412.6,172.6 413,172.3 413.4,172.1 413.8,171.3 414.2,171.1 414.7,170.3 415.1,169.3 415.5,168.9 415.9,167.7 416.3,167.3 416.7,165.9 417.1,164.7 417.6,164 418,162.3 418.4,161 418.8,159.5 419.2,158.1 419.6,156.1 420.1,154.6 420.5,152.7 420.9,151.4 421.3,149 421.7,147.6 422.1,145.5 422.6,143.9 423,142.2 423.4,140.6 423.8,138.7 424.2,137.4 424.6,136.1 425.1,135.6 425.5,134.3 425.9,133.8 426.3,133.7 426.7,133.8 427.1,134.2 427.5,134.3 428,135.2 428.4,136.2 428.8,137.6 429.2,139 429.6,140.5 430,142.4 430.5,144 430.9,146 431.3,147.8 431.7,149.3 432.1,151.5 432.5,153 433,154.5 433.4,156.7 433.8,157.9 434.2,159.4 434.6,161 435,162.4 435.5,164.1 435.9,165.2 436.3,166 436.7,167.1 437.1,168.2 437.5,169.1 437.9,169.7 438.4,170.3 438.8,170.7 439.2,171.3 439.6,172.1 440,172.5 440.4,173 440.9,173.4 441.3,173.7 441.7,173.5 442.1,173.7 442.5,174.4 442.9,174.4 443.4,174.3 443.8,174.8 444.2,174.6 444.6,174.7 445,174.9 445.4,175.1 445.9,175.3 446.3,175 446.7,175.5 447.1,175.5 447.5,175.4 447.9,175.6 448.3,175.7 448.8,175.3 449.2,175.6 449.6,175.8 450,175.9 450.4,175.9 450.8,175.6 451.3,176.1 451.7,176 452.1,175.7 452.5,175.9 452.9,176.2 453.3,175.8 453.8,176 454.2,176.3 454.6,176.3 455,175.9 455.4,176.3 455.8,176.1 456.3,176.3 456.7,176.3 457.1,176 457.5,176.1 457.9,176.1 458.3,176.1 458.7,176 459.2,176.1 459.6,176.3 460,176.3 460.4,176.1 460.8,176.4 461.2,176.6 461.7,176.4 462.1,176.3 462.5,176.5 462.9,176.4 463.3,176.2 463.7,176.4 464.2,176.2 464.6,176.6 465,176.3 465.4,176.4 465.8,176.8 466.2,176.7 466.7,176.7 467.1,176.6 467.5,176.6 467.9,176.7 468.3,176.9 468.7,176.4 469.1,176.8 469.6,176.5 470,176.5 470.4,176.8 470.8,176.7 471.2,176.8 471.6,176.9 472.1,176.7 472.5,176.5 472.9,176.4 473.3,176.7 473.7,176.8 474.1,176.6 474.6,176.4 475,176.4 475.4,176.5 475.8,176.8 476.2,176.4 476.6,176.6 477.1,176.6 477.5,176.9 477.9,177 478.3,176.5 478.7,176.5 479.1,177 479.5,177.1 480,176.6 480.4,176.7 480.8,176.8 481.2,176.7 481.6,176.8 482,176.8 482.5,176.7 482.9,176.6 483.3,176.6 483.7,176.6 484.1,176.6 484.5,176.9 485,177 485.4,176.7 485.8,177 486.2,177 486.6,176.8 487,176.9 487.5,176.7 487.9,177.1 488.3,176.9 488.7,176.6 489.1,176.7 489.5,177 489.9,176.8 490.4,177.1 490.8,176.8 491.2,177.1 491.6,177.1 492,176.7 492.4,177 492.9,176.8 493.3,177.1 493.7,177.1 494.1,177.1 494.5,176.8 494.9,176.7 495.4,177.1 495.8,177 496.2,176.8 496.6,176.8 497,177 497.4,176.8 497.9,177.1 498.3,176.8 498.7,176.9 499.1,177 499.5,177 499.9,177.2 500.3,176.7 500.8,177.2 501.2,176.9 501.6,176.9 502,177.1 502.4,177.2 502.8,177.1 503.3,177.3 503.7,176.9 504.1,176.9 504.5,177.2 504.9,176.9 505.3,176.9 505.8,176.9 506.2,177.2 506.6,177.3 507,177.2 507.4,177.4 507.8,177.3 508.3,177 508.7,177 509.1,177.2 509.5,176.8" fill="none" stroke="#b3952f" stroke-width="2.0" stroke-linejoin="round"/>
<path d="M384.7,247.4 385.1,247.1 385.5,247.1 385.9,247.4 386.4,247.1 386.8,247.6 387.2,247.6 387.6,247.3 388,247.1 388.4,247.1 388.9,247.3 389.3,247.3 389.7,247.2 390.1,247.4 390.5,247.3 390.9,247.4 391.4,247 391.8,247 392.2,247.2 392.6,247.2 393,247.1 393.4,247.3 393.9,247 394.3,247.1 394.7,247.1 395.1,247.3 395.5,247.3 395.9,247 396.3,247.1 396.8,247.3 397.2,247.3 397.6,247.1 398,246.8 398.4,247 398.8,247 399.3,246.8 399.7,246.6 400.1,247.2 400.5,247.1 400.9,246.6 401.3,246.8 401.8,246.8 402.2,246.6 402.6,246.4 403,246.8 403.4,246.8 403.8,246.5 404.3,246.3 404.7,246.4 405.1,246.2 405.5,246.6 405.9,246 406.3,246.1 406.7,246.3 407.2,245.8 407.6,245.7 408,245.6 408.4,245.5 408.8,245.6 409.2,245.6 409.7,245 410.1,244.8 410.5,245 410.9,244.5 411.3,244.1 411.7,243.6 412.2,243.3 412.6,243.3 413,242.2 413.4,241.7 413.8,241.2 414.2,240.5 414.7,239.6 415.1,238.3 415.5,237.4 415.9,235.9 416.3,234.3 416.7,232.8 417.1,231.2 417.6,229.3 418,226.9 418.4,224.7 418.8,222.8 419.2,219.8 419.6,217.6 420.1,214.6 420.5,211.7 420.9,208.8 421.3,206 421.7,203.4 422.1,199.9 422.6,197.5 423,194.4 423.4,191.8 423.8,189.8 424.2,187.5 424.6,185.6 425.1,184.3 425.5,183.6 425.9,183 426.3,182.8 426.7,182.8 427.1,184 427.5,185.1 428,186.9 428.4,188.9 428.8,190.7 429.2,193.5 429.6,196.2 430,198.6 430.5,201.6 430.9,204.5 431.3,207.5 431.7,210.4 432.1,213.2 432.5,216 433,219.1 433.4,221.4 433.8,224 434.2,226.4 434.6,228.5 435,230.2 435.5,232.4 435.9,234 436.3,235.7 436.7,236.9 437.1,238.1 437.5,239.3 437.9,239.9 438.4,241 438.8,241.6 439.2,242.6 439.6,242.8 440,243.5 440.4,243.8 440.9,244.5 441.3,244.6 441.7,245.2 442.1,245.4 442.5,245.7 442.9,245.4 443.4,246.1 443.8,246.1 444.2,246.2 444.6,246.3 445,246.1 445.4,246.7 445.9,246.6 446.3,246.6 446.7,246.6 447.1,246.9 447.5,247 447.9,247.1 448.3,246.8 448.8,246.9 449.2,246.9 449.6,246.9 450,247.1 450.4,246.9 450.8,247.4 451.3,247.1 451.7,247.1 452.1,247.1 452.5,247.6 452.9,247.3 453.3,247.5 453.8,247.4 454.2,247.7 454.6,247.8 455,247.5 455.4,247.7 455.8,247.9 456.3,247.7 456.7,247.9 457.1,247.9 457.5,247.6 457.9,248 458.3,247.8 458.7,247.6 459.2,247.9 459.6,248.1 460,247.9 460.4,247.9 460.8,247.9 461.2,248.2 461.7,248 462.1,247.8 462.5,247.9 462.9,247.9 463.3,248.3 463.7,248.1 464.2,247.8 464.6,248.3 465,247.8 465.4,248.1 465.8,248.1 466.2,248.2 466.7,248.1 467.1,247.9 467.5,248.2 467.9,248.4 468.3,248.4 468.7,248.1 469.1,248 469.6,248.4 470,248.4 470.4,248.1 470.8,248.5 471.2,248.6 471.6,248.2 472.1,248.2 472.5,248.4 472.9,248.6 473.3,248.1 473.7,248.2 474.1,248.2 474.6,248.5 475,248.2 475.4,248.4 475.8,248.4 476.2,248.5 476.6,248.2 477.1,248.7 477.5,248.7 477.9,248.5 478.3,248.6 478.7,248.2 479.1,248.7 479.5,248.5 480,248.6 480.4,248.7 480.8,248.4 481.2,248.7 481.6,248.3 482,248.2 482.5,248.5 482.9,248.7 483.3,248.8 483.7,248.8 484.1,248.5 484.5,248.8 485,248.6 485.4,248.3 485.8,248.6 486.2,248.7 486.6,248.5 487,248.6 487.5,248.4 487.9,248.5 488.3,248.6 488.7,248.6 489.1,248.6 489.5,248.4 489.9,248.3 490.4,248.5 490.8,248.8 491.2,248.8 491.6,248.5 492,248.5 492.4,248.7 492.9,248.5 493.3,248.7 493.7,248.9 494.1,248.5 494.5,248.7 494.9,248.8 495.4,248.9 495.8,248.8 496.2,248.8 496.6,248.6 497,248.9 497.4,249 497.9,248.5 498.3,249 498.7,248.7 499.1,248.5 499.5,248.5 499.9,248.9 500.3,248.9 500.8,248.6 501.2,248.8 501.6,248.9 502,249.1 502.4,248.7 502.8,249 503.3,248.7 503.7,248.6 504.1,248.6 504.5,248.8 504.9,248.9 505.3,248.7 505.8,248.6 506.2,248.7 506.6,248.6 507,248.7 507.4,248.8 507.8,248.9 508.3,248.7 508.7,248.9 509.1,248.8 509.5,249.2" fill="none" stroke="#5a8c3a" stroke-width="2.0" stroke-linejoin="round"/>
<path d="M396.6,34.8 406.8,71.6 426.5,114.6" fill="none" stroke="#d02828" stroke-width="1.3" stroke-linejoin="round" stroke-dasharray="3,2"/>
<line x1="426.8" y1="114.6" x2="426.8" y2="263.0" stroke="#d02828" stroke-width="1.3" stroke-dasharray="2.5,2"/>
<text x="505.0" y="32.7" font-family="Liberation Serif" font-size="12" font-weight="bold" fill="#2aae8c" text-anchor="end">SiC@MO-t8</text>
<text x="505.0" y="73.7" font-family="Liberation Serif" font-size="12" font-weight="bold" fill="#4a64a0" text-anchor="end">SiC@MO-t6</text>
<text x="504.0" y="118.3" font-family="Liberation Serif" font-size="12" font-weight="bold" fill="#c8783a" text-anchor="end">SiC@MO-t4</text>
<text x="504.7" y="171.1" font-family="Liberation Serif" font-size="12" font-weight="bold" fill="#b3952f" text-anchor="end">SiC@MO-t2</text>
<text x="503.0" y="241.3" font-family="Liberation Serif" font-size="12" font-weight="bold" fill="#5a8c3a" text-anchor="end">SiC@MoO<tspan font-size="8" dy="3">3</tspan></text>
<text x="387.7" y="40.0" font-family="Liberation Serif" font-size="39" font-weight="bold" fill="#000" text-anchor="start">(b)</text>
<rect x="384.7" y="7.8" width="124.8" height="256.4" fill="none" stroke="#000" stroke-width="2.8"/>
<line x1="415.9" y1="264.2" x2="415.9" y2="267.2" stroke="#000" stroke-width="2.5"/>
<line x1="447.1" y1="264.2" x2="447.1" y2="268.7" stroke="#000" stroke-width="2.5"/>
<line x1="478.3" y1="264.2" x2="478.3" y2="267.2" stroke="#000" stroke-width="2.5"/>
<text x="384.7" y="286.0" font-family="Liberation Serif" font-size="17.3" font-weight="bold" fill="#000" text-anchor="middle">27</text>
<text x="447.1" y="286.0" font-family="Liberation Serif" font-size="17.3" font-weight="bold" fill="#000" text-anchor="middle">28</text>
<text x="509.5" y="286.0" font-family="Liberation Serif" font-size="17.3" font-weight="bold" fill="#000" text-anchor="middle">29</text>
<text x="446.0" y="307.5" font-family="Liberation Serif" font-size="22" font-weight="bold" fill="#000" text-anchor="middle"><tspan font-weight="normal">2θ </tspan>(degree)</text>
<rect x="610.0" y="42.0" width="15.5" height="207.3" fill="url(#gpur)" stroke="none" stroke-width="0"/>
<rect x="716.2" y="54.8" width="18.5" height="186.5" fill="url(#gora)" stroke="none" stroke-width="0"/>
<path d="M544.1,67.2 544.7,67.4 545.3,67.1 546,67 546.6,67.2 547.2,67 547.8,67 548.4,66.9 549,67.2 549.7,67.3 550.3,67 550.9,67 551.5,67 552.1,67 552.8,67.1 553.4,67 554,66.9 554.6,67.2 555.2,67 555.9,66.7 556.5,67.1 557.1,67.1 557.7,66.9 558.3,67 559,67.1 559.6,66.8 560.2,66.8 560.8,66.7 561.4,66.9 562,66.9 562.7,66.9 563.3,67 563.9,66.6 564.5,66.6 565.1,66.9 565.8,66.8 566.4,66.7 567,66.7 567.6,66.5 568.2,66.7 568.9,66.5 569.5,66.4 570.1,66.3 570.7,66.2 571.3,66.5 572,66.5 572.6,66 573.2,66.1 573.8,66.2 574.4,66.1 575,66 575.7,66.2 576.3,65.9 576.9,65.9 577.5,66.1 578.1,65.9 578.8,65.8 579.4,65.6 580,65.6 580.6,65.6 581.2,65.7 581.9,65.3 582.5,65.3 583.1,65.3 583.7,65.2 584.3,65.4 585,65.1 585.6,64.9 586.2,64.9 586.8,65 587.4,64.6 588,64.8 588.7,64.3 589.3,64.3 589.9,64.1 590.5,64.4 591.1,63.9 591.8,63.7 592.4,63.5 593,63.3 593.6,63.3 594.2,63 594.9,62.7 595.5,62.3 596.1,61.6 596.7,61.2 597.3,60.2 597.9,59.9 598.6,58.9 599.2,58 599.8,57.6 600.4,56.9 601,56.2 601.7,55.6 602.3,55.9 602.9,55.9 603.5,56.2 604.1,56.8 604.8,56.9 605.4,57.4 606,58 606.6,58.4 607.2,59.2 607.9,59.4 608.5,59.3 609.1,59.4 609.7,59.2 610.3,59.1 610.9,58.5 611.6,57.9 612.2,56.5 612.8,55.4 613.4,53.5 614,51.6 614.7,49.4 615.3,47.2 615.9,45.6 616.5,44 617.1,43 617.8,42.9 618.4,44 619,45.8 619.6,48.1 620.2,50.6 620.9,52.5 621.5,54.9 622.1,56.8 622.7,58 623.3,59.5 623.9,60.8 624.6,61.5 625.2,62.2 625.8,63 626.4,63.3 627,63.6 627.7,63.9 628.3,64.4 628.9,64.6 629.5,64.9 630.1,64.9 630.8,64.8 631.4,65 632,65.2 632.6,65.5 633.2,65.3 633.9,65.8 634.5,65.9 635.1,65.8 635.7,65.7 636.3,66.1 636.9,66 637.6,66.2 638.2,66.2 638.8,66.4 639.4,66.3 640,66.6 640.7,66.7 641.3,66.7 641.9,66.6 642.5,66.5 643.1,66.6 643.8,66.6 644.4,66.9 645,66.9 645.6,66.9 646.2,67 646.9,67.1 647.5,67 648.1,66.8 648.7,67.1 649.3,66.9 649.9,67.1 650.6,66.9 651.2,67.2 651.8,67.1 652.4,67 653,67.4 653.7,67 654.3,67.4 654.9,67.3 655.5,67 656.1,67.4 656.8,67.3 657.4,67.5 658,67.3 658.6,67.3 659.2,67.5 659.9,67.1 660.5,67.5 661.1,67.2 661.7,67.3 662.3,67.2 662.9,67.6 663.6,67.4 664.2,67.5 664.8,67.3 665.4,67.6 666,67.5 666.7,67.3 667.3,67.5 667.9,67.6 668.5,67.3 669.1,67.6 669.8,67.4 670.4,67.4 671,67.7 671.6,67.7 672.2,67.8 672.8,67.5 673.5,67.6 674.1,67.7 674.7,67.7 675.3,67.5 675.9,67.8 676.6,67.5 677.2,67.8 677.8,67.6 678.4,67.4 679,67.7 679.7,67.4 680.3,67.7 680.9,67.4 681.5,67.9 682.1,67.6 682.8,67.7 683.4,67.4 684,67.7 684.6,67.6 685.2,67.5 685.8,67.8 686.5,67.4 687.1,67.6 687.7,67.5 688.3,67.8 688.9,67.9 689.6,67.4 690.2,67.7 690.8,67.7 691.4,67.8 692,67.8 692.7,67.6 693.3,67.9 693.9,67.5 694.5,67.5 695.1,67.9 695.8,67.5 696.4,67.5 697,67.7 697.6,67.6 698.2,67.5 698.8,67.9 699.5,67.7 700.1,67.9 700.7,67.6 701.3,67.9 701.9,67.6 702.6,67.9 703.2,67.8 703.8,67.9 704.4,67.8 705,67.8 705.7,67.7 706.3,67.9 706.9,67.7 707.5,67.5 708.1,67.9 708.8,67.8 709.4,67.8 710,67.8 710.6,67.5 711.2,67.6 711.8,67.8 712.5,67.9 713.1,67.8 713.7,67.4 714.3,67.7 714.9,67.6 715.6,67.5 716.2,67.3 716.8,67.2 717.4,67.4 718,67.3 718.7,67.1 719.3,67 719.9,67 720.5,66.9 721.1,66.5 721.8,65.8 722.4,65.5 723,64.4 723.6,63.6 724.2,62.3 724.8,60.5 725.5,59.7 726.1,59.5 726.7,59.8 727.3,61.1 727.9,62.4 728.6,63.5 729.2,64.6 729.8,65.4 730.4,66 731,66.6 731.7,66.9 732.3,67.3 732.9,67.3 733.5,67.2 734.1,67.6 734.8,67.5 735.4,67.5 736,67.7 736.6,67.7 737.2,67.6 737.8,67.7 738.5,67.6 739.1,68 739.7,67.6 740.3,68 740.9,67.6 741.6,67.5 742.2,67.8 742.8,67.7 743.4,67.8 744,67.6 744.7,68 745.3,67.9 745.9,68 746.5,68.1 747.1,68.1 747.7,68 748.4,68 749,67.6 749.6,67.7 750.2,67.9 750.8,68.1 751.5,67.8 752.1,68 752.7,67.7 753.3,67.9 753.9,68.1 754.6,68 755.2,68.1 755.8,67.7 756.4,67.8 757,67.8 757.7,68.1 758.3,67.8 758.9,68.2 759.5,67.9 760.1,68.2 760.7,68 761.4,67.9 762,68.2 762.6,67.9 763.2,68.1 763.8,67.8 764.5,68.2 765.1,68.2 765.7,67.8 766.3,68.1 766.9,67.9 767.6,67.8 768.2,67.9 768.8,68.1 769.4,68.2 770,68.3 770.7,68.3 771.3,68.1 771.9,68.1 772.5,67.9 773.1,68.1 773.7,68.1 774.4,68 775,68.2 775.6,67.9 776.2,67.9 776.8,67.9 777.5,67.9 778.1,68.1 778.7,68.2 779.3,67.9 779.9,68.1 780.6,68.1 781.2,68.1 781.8,68 782.4,68.1 783,67.8 783.7,67.8 784.3,68 784.9,67.9 785.5,68.2 786.1,67.9 786.7,68.2 787.4,68 788,67.9 788.6,68.1 789.2,68 789.8,68 790.5,68.2 791.1,68 791.7,68.2 792.3,68.3 792.9,68.1 793.6,68.1 794.2,68.3 794.8,68.2 795.4,67.9 796,67.9 796.7,67.9 797.3,68 797.9,67.9 798.5,68.2 799.1,68.1 799.7,68 800.4,68.1 801,68.3 801.6,68 802.2,68 802.8,68 803.5,68 804.1,68.3 804.7,68.2 805.3,68.1 805.9,68 806.6,67.9 807.2,68 807.8,68.3 808.4,68.2 809,68 809.7,68.2 810.3,67.9 810.9,68.2 811.5,68.1 812.1,68 812.7,68.3 813.4,68.3 814,68.2 814.6,68 815.2,68.3 815.8,68.1 816.5,68.3 817.1,68 817.7,68.4 818.3,67.9 818.9,68 819.6,68.1 820.2,68 820.8,68 821.4,68.3 822,68.4 822.6,68.1 823.3,68.1 823.9,68.3 824.5,68.1 825.1,68.1 825.7,68.3 826.4,68.2 827,68 827.6,68 828.2,68.2 828.8,68.5 829.5,68.4 830.1,68 830.7,68.2 831.3,68.2 831.9,68.1 832.6,68.3 833.2,68.2 833.8,68.4 834.4,68.1 835,68.4 835.6,68.4 836.3,68.2 836.9,68.1 837.5,68.2 838.1,68 838.7,68.3 839.4,68.3 840,68.3 840.6,68.5 841.2,68 841.8,68.4 842.5,68.4 843.1,68.1 843.7,68.2 844.3,68 844.9,68.3 845.6,68.4 846.2,68.2 846.8,68.4 847.4,68.2 848,68.4 848.6,68.2 849.3,68.5 849.9,68.2 850.5,68 851.1,68.1 851.7,68.4 852.4,68.5 853,68.3 853.6,68.1" fill="none" stroke="#38b49c" stroke-width="2.0" stroke-linejoin="round"/>
<path d="M544.1,106.7 544.7,106.7 545.3,106.3 546,106.5 546.6,106.6 547.2,106.3 547.8,106.3 548.4,106.4 549,106.6 549.7,106.7 550.3,106.3 550.9,106.6 551.5,106.5 552.1,106.6 552.8,106.4 553.4,106.6 554,106.4 554.6,106.5 555.2,106.3 555.9,106.1 556.5,106.2 557.1,106.2 557.7,106.1 558.3,106.1 559,106.1 559.6,106.1 560.2,105.9 560.8,105.9 561.4,106 562,105.9 562.7,105.8 563.3,105.9 563.9,105.6 564.5,105.8 565.1,105.6 565.8,105.8 566.4,105.7 567,105.7 567.6,105.5 568.2,105.3 568.9,105.6 569.5,105.3 570.1,105.2 570.7,105.1 571.3,105.1 572,105.1 572.6,105.1 573.2,104.9 573.8,104.9 574.4,104.6 575,104.6 575.7,104.5 576.3,104.4 576.9,104.3 577.5,104.4 578.1,104.3 578.8,103.9 579.4,103.8 580,104 580.6,103.8 581.2,103.7 581.9,103.6 582.5,103.5 583.1,103.2 583.7,102.9 584.3,102.9 585,102.6 585.6,102.9 586.2,102.6 586.8,102.4 587.4,102.4 588,102.1 588.7,101.5 589.3,101.3 589.9,100.9 590.5,100.8 591.1,100.4 591.8,99.8 592.4,99.2 593,98.6 593.6,98.1 594.2,97.5 594.9,96.8 595.5,96 596.1,95.1 596.7,94 597.3,93.1 597.9,92.2 598.6,91.7 599.2,90.5 599.8,89.9 600.4,89.5 601,89.5 601.7,89.4 602.3,89.2 602.9,89.8 603.5,90.3 604.1,90.7 604.8,91.2 605.4,92.3 606,92.8 606.6,93.4 607.2,94.4 607.9,94.7 608.5,95.1 609.1,95.5 609.7,95.4 610.3,95.2 610.9,95 611.6,94.4 612.2,93.2 612.8,92.1 613.4,90.6 614,88.5 614.7,86.4 615.3,84.1 615.9,81.8 616.5,80 617.1,79.5 617.8,79.7 618.4,80.8 619,82.8 619.6,85.6 620.2,88.3 620.9,90.5 621.5,93 622.1,95.1 622.7,96.7 623.3,98 623.9,99.4 624.6,100.6 625.2,101.3 625.8,101.9 626.4,102.3 627,102.8 627.7,103.2 628.3,103.5 628.9,103.7 629.5,104.2 630.1,104.1 630.8,104.7 631.4,104.5 632,104.9 632.6,104.7 633.2,105 633.9,105 634.5,105 635.1,105.4 635.7,105.5 636.3,105.4 636.9,105.7 637.6,105.6 638.2,105.9 638.8,105.5 639.4,105.7 640,105.7 640.7,106 641.3,106.1 641.9,106.2 642.5,106.1 643.1,106 643.8,106.3 644.4,106 645,106.1 645.6,106.4 646.2,106.2 646.9,106.5 647.5,106.1 648.1,106.3 648.7,106.2 649.3,106.1 649.9,106.2 650.6,106.2 651.2,106.4 651.8,106.4 652.4,106.5 653,106.4 653.7,106.6 654.3,106.5 654.9,106.8 655.5,106.4 656.1,106.6 656.8,106.6 657.4,106.5 658,106.8 658.6,106.5 659.2,106.8 659.9,106.6 660.5,106.6 661.1,106.7 661.7,106.7 662.3,106.6 662.9,106.5 663.6,106.9 664.2,106.7 664.8,106.5 665.4,106.8 666,106.8 666.7,106.7 667.3,106.7 667.9,106.9 668.5,106.7 669.1,106.7 669.8,107 670.4,106.7 671,106.8 671.6,106.6 672.2,106.9 672.8,106.9 673.5,106.8 674.1,106.8 674.7,106.7 675.3,107 675.9,106.8 676.6,107 677.2,106.8 677.8,107 678.4,106.6 679,106.7 679.7,107.1 680.3,107 680.9,107 681.5,106.9 682.1,106.9 682.8,106.7 683.4,106.7 684,107 684.6,107 685.2,106.8 685.8,107 686.5,106.7 687.1,107 687.7,106.8 688.3,106.9 688.9,106.8 689.6,106.9 690.2,106.7 690.8,106.9 691.4,107 692,106.7 692.7,106.8 693.3,107 693.9,107 694.5,107 695.1,107.1 695.8,107 696.4,106.8 697,106.9 697.6,107.1 698.2,107 698.8,107.1 699.5,106.9 700.1,106.9 700.7,107.2 701.3,107.1 701.9,107 702.6,106.7 703.2,107 703.8,106.7 704.4,107.2 705,107.2 705.7,107 706.3,106.8 706.9,107.1 707.5,106.8 708.1,107.1 708.8,106.9 709.4,106.7 710,107.1 710.6,106.8 711.2,107 711.8,106.9 712.5,106.9 713.1,107 713.7,106.7 714.3,107 714.9,106.7 715.6,106.5 716.2,106.6 716.8,106.4 717.4,106.4 718,106.6 718.7,106.2 719.3,106.1 719.9,106 720.5,105.8 721.1,105.8 721.8,105.3 722.4,104.6 723,103.6 723.6,101.9 724.2,100.2 724.8,97.8 725.5,96.4 726.1,95.8 726.7,96.7 727.3,98.4 727.9,100.4 728.6,102.6 729.2,103.8 729.8,104.7 730.4,105.5 731,105.6 731.7,106.1 732.3,106.2 732.9,106.5 733.5,106.5 734.1,106.4 734.8,106.9 735.4,106.6 736,106.9 736.6,106.9 737.2,106.7 737.8,106.9 738.5,106.8 739.1,106.8 739.7,106.8 740.3,107.2 740.9,106.9 741.6,107 742.2,107 742.8,106.7 743.4,107.1 744,107.1 744.7,107.2 745.3,107 745.9,106.9 746.5,107 747.1,107.2 747.7,107.1 748.4,107 749,107.1 749.6,106.9 750.2,107.3 750.8,107.1 751.5,107.1 752.1,107.2 752.7,106.9 753.3,107.2 753.9,107 754.6,107.3 755.2,106.9 755.8,107 756.4,107.2 757,107.1 757.7,107 758.3,107.2 758.9,107 759.5,107.1 760.1,106.9 760.7,107.3 761.4,107 762,107.3 762.6,107.2 763.2,107.2 763.8,107.2 764.5,106.9 765.1,107.3 765.7,107 766.3,107.3 766.9,107.3 767.6,107.2 768.2,107.3 768.8,107.1 769.4,107.2 770,107.4 770.7,107 771.3,107 771.9,107.1 772.5,107.2 773.1,107 773.7,107 774.4,107.3 775,107.1 775.6,107 776.2,107 776.8,107.2 777.5,107 778.1,107.2 778.7,107.2 779.3,107.1 779.9,107.2 780.6,107.3 781.2,106.9 781.8,107.4 782.4,107 783,106.9 783.7,107.3 784.3,107.2 784.9,107.2 785.5,107 786.1,107.3 786.7,107.1 787.4,107.3 788,107 788.6,107.2 789.2,107.3 789.8,107.1 790.5,107.2 791.1,107 791.7,107.3 792.3,107.3 792.9,107 793.6,107.2 794.2,107.3 794.8,107 795.4,107.4 796,107.4 796.7,107 797.3,107.1 797.9,107 798.5,107.1 799.1,107 799.7,107.2 800.4,107.1 801,107.1 801.6,107.2 802.2,107.1 802.8,107.4 803.5,107.3 804.1,107 804.7,107.1 805.3,107 805.9,107.1 806.6,107 807.2,107.3 807.8,107.4 808.4,107.5 809,107.1 809.7,107 810.3,107.3 810.9,107.2 811.5,107.4 812.1,107.2 812.7,107.1 813.4,107 814,107.4 814.6,107.2 815.2,107.2 815.8,107.2 816.5,107.4 817.1,107.4 817.7,107.2 818.3,107.1 818.9,107.2 819.6,107.4 820.2,107.2 820.8,107.3 821.4,107.3 822,107.2 822.6,107.3 823.3,107.1 823.9,107.3 824.5,107.4 825.1,107 825.7,107.2 826.4,107.4 827,107.5 827.6,107 828.2,107.3 828.8,107.3 829.5,107.4 830.1,107.2 830.7,107.1 831.3,107.1 831.9,107.4 832.6,107.4 833.2,107.1 833.8,107.3 834.4,107.3 835,107.3 835.6,107 836.3,107.2 836.9,107.2 837.5,107.3 838.1,107.2 838.7,107.1 839.4,107.3 840,107.2 840.6,107.4 841.2,107.2 841.8,107.3 842.5,107.4 843.1,107.1 843.7,107.4 844.3,107 844.9,107.5 845.6,107 846.2,107.4 846.8,107.2 847.4,107.1 848,107.2 848.6,107.3 849.3,107.2 849.9,107.1 850.5,107.3 851.1,107.2 851.7,107.5 852.4,107.2 853,107.2 853.6,107.1" fill="none" stroke="#1f4c86" stroke-width="2.0" stroke-linejoin="round"/>
<path d="M544.1,144.3 544.7,143.9 545.3,144.1 546,144.2 546.6,144 547.2,144.1 547.8,143.9 548.4,143.8 549,143.8 549.7,144 550.3,144.2 550.9,143.8 551.5,143.9 552.1,144.1 552.8,143.8 553.4,143.8 554,143.9 554.6,143.9 555.2,144.1 555.9,144.1 556.5,143.8 557.1,143.9 557.7,143.8 558.3,143.6 559,143.8 559.6,144 560.2,143.7 560.8,143.8 561.4,143.9 562,143.5 562.7,143.9 563.3,143.5 563.9,143.6 564.5,143.8 565.1,143.4 565.8,143.6 566.4,143.4 567,143.5 567.6,143.3 568.2,143.3 568.9,143.3 569.5,143.2 570.1,143.2 570.7,143.2 571.3,143.3 572,143.1 572.6,143.4 573.2,143.1 573.8,143 574.4,142.9 575,143.2 575.7,142.7 576.3,143 576.9,142.6 577.5,143 578.1,142.7 578.8,142.7 579.4,142.7 580,142.3 580.6,142.2 581.2,142.4 581.9,142.3 582.5,142.3 583.1,142 583.7,142 584.3,141.7 585,141.7 585.6,141.5 586.2,141.6 586.8,141.3 587.4,141.2 588,141.2 588.7,140.8 589.3,141 589.9,140.7 590.5,140.3 591.1,140.1 591.8,140 592.4,139.7 593,139.5 593.6,139 594.2,138.6 594.9,138.4 595.5,137.5 596.1,137.3 596.7,136.6 597.3,135.9 597.9,135.1 598.6,134 599.2,133.5 599.8,132.6 600.4,131.7 601,131.5 601.7,130.8 602.3,130.7 602.9,130.5 603.5,130.4 604.1,131.1 604.8,131.3 605.4,131.8 606,132.6 606.6,132.8 607.2,133.4 607.9,133.9 608.5,133.7 609.1,134 609.7,133.5 610.3,133.2 610.9,132.5 611.6,131.4 612.2,129.6 612.8,127.8 613.4,125.8 614,122.9 614.7,119.9 615.3,116.8 615.9,114.1 616.5,111.9 617.1,110.7 617.8,110.7 618.4,112.4 619,114.9 619.6,117.9 620.2,121.6 620.9,124.9 621.5,127.7 622.1,130.4 622.7,132.4 623.3,134.4 623.9,135.7 624.6,137.1 625.2,138.1 625.8,139 626.4,139.6 627,140.2 627.7,140.3 628.3,140.9 628.9,141.1 629.5,141.2 630.1,141.5 630.8,141.9 631.4,142.1 632,142.3 632.6,142.3 633.2,142.2 633.9,142.3 634.5,142.7 635.1,142.6 635.7,142.7 636.3,142.7 636.9,142.8 637.6,143.2 638.2,143 638.8,143.4 639.4,143.1 640,143.5 640.7,143.2 641.3,143.3 641.9,143.4 642.5,143.2 643.1,143.5 643.8,143.5 644.4,143.3 645,143.8 645.6,143.6 646.2,143.4 646.9,143.9 647.5,143.6 648.1,143.6 648.7,143.5 649.3,143.6 649.9,143.9 650.6,143.9 651.2,143.8 651.8,143.7 652.4,143.8 653,144.1 653.7,143.8 654.3,144.2 654.9,144.1 655.5,143.8 656.1,144.1 656.8,143.7 657.4,144.1 658,144.2 658.6,144.1 659.2,144 659.9,144.2 660.5,143.9 661.1,144.1 661.7,143.9 662.3,144 662.9,143.9 663.6,144.2 664.2,144.1 664.8,144.2 665.4,144.2 666,144.2 666.7,144.3 667.3,144.3 667.9,144.2 668.5,144 669.1,144.4 669.8,144.1 670.4,144 671,144.1 671.6,144.3 672.2,144.4 672.8,144.2 673.5,144.3 674.1,144.4 674.7,144.3 675.3,144.2 675.9,144.2 676.6,144.3 677.2,144.1 677.8,144 678.4,144.3 679,144.4 679.7,144.1 680.3,144.3 680.9,144.4 681.5,144 682.1,144 682.8,144.2 683.4,144.2 684,144.5 684.6,144.5 685.2,144.2 685.8,144.4 686.5,144.3 687.1,144.1 687.7,144.5 688.3,144.1 688.9,144 689.6,144.2 690.2,144 690.8,144.3 691.4,144.2 692,144.5 692.7,144.2 693.3,144.4 693.9,144.4 694.5,144.3 695.1,144.1 695.8,144.2 696.4,144.3 697,144.2 697.6,144.3 698.2,144.3 698.8,144.2 699.5,144.3 700.1,144.5 700.7,144.1 701.3,144.2 701.9,144 702.6,144.1 703.2,144 703.8,144.2 704.4,144.4 705,144.3 705.7,144.5 706.3,144.4 706.9,144.3 707.5,144.3 708.1,144 708.8,144.1 709.4,144.1 710,144.2 710.6,144 711.2,144.2 711.8,144.1 712.5,144.1 713.1,144.1 713.7,143.9 714.3,144.2 714.9,144.2 715.6,144 716.2,143.7 716.8,143.9 717.4,144 718,143.9 718.7,143.7 719.3,143.2 719.9,143.4 720.5,143.1 721.1,142.5 721.8,142.2 722.4,141.3 723,140.1 723.6,138 724.2,135.8 724.8,133.2 725.5,131 726.1,130.6 726.7,131.7 727.3,133.9 727.9,136.6 728.6,138.9 729.2,140.4 729.8,141.7 730.4,142.3 731,143 731.7,142.9 732.3,143.3 732.9,143.5 733.5,143.8 734.1,144 734.8,143.9 735.4,143.9 736,144 736.6,144 737.2,144.2 737.8,144.3 738.5,143.9 739.1,144.1 739.7,144.4 740.3,144 740.9,144.4 741.6,144 742.2,144.3 742.8,144.4 743.4,144.2 744,144.2 744.7,144.2 745.3,144.4 745.9,144.3 746.5,144.4 747.1,144.3 747.7,144.4 748.4,144.6 749,144.5 749.6,144.6 750.2,144.2 750.8,144.4 751.5,144.3 752.1,144.3 752.7,144.5 753.3,144.2 753.9,144.4 754.6,144.5 755.2,144.6 755.8,144.2 756.4,144.3 757,144.4 757.7,144.6 758.3,144.3 758.9,144.6 759.5,144.4 760.1,144.5 760.7,144.6 761.4,144.2 762,144.3 762.6,144.3 763.2,144.3 763.8,144.3 764.5,144.5 765.1,144.5 765.7,144.3 766.3,144.6 766.9,144.5 767.6,144.3 768.2,144.6 768.8,144.6 769.4,144.3 770,144.7 770.7,144.6 771.3,144.3 771.9,144.2 772.5,144.6 773.1,144.6 773.7,144.3 774.4,144.6 775,144.6 775.6,144.5 776.2,144.6 776.8,144.7 777.5,144.4 778.1,144.6 778.7,144.7 779.3,144.4 779.9,144.6 780.6,144.6 781.2,144.7 781.8,144.5 782.4,144.4 783,144.4 783.7,144.5 784.3,144.3 784.9,144.7 785.5,144.7 786.1,144.4 786.7,144.6 787.4,144.6 788,144.3 788.6,144.6 789.2,144.6 789.8,144.4 790.5,144.3 791.1,144.4 791.7,144.6 792.3,144.5 792.9,144.7 793.6,144.3 794.2,144.3 794.8,144.4 795.4,144.7 796,144.3 796.7,144.3 797.3,144.6 797.9,144.3 798.5,144.6 799.1,144.3 799.7,144.4 800.4,144.6 801,144.7 801.6,144.5 802.2,144.5 802.8,144.3 803.5,144.4 804.1,144.4 804.7,144.7 805.3,144.6 805.9,144.7 806.6,144.5 807.2,144.6 807.8,144.3 808.4,144.5 809,144.4 809.7,144.4 810.3,144.6 810.9,144.4 811.5,144.4 812.1,144.4 812.7,144.7 813.4,144.6 814,144.5 814.6,144.5 815.2,144.7 815.8,144.8 816.5,144.5 817.1,144.6 817.7,144.7 818.3,144.4 818.9,144.4 819.6,144.3 820.2,144.5 820.8,144.7 821.4,144.4 822,144.5 822.6,144.8 823.3,144.5 823.9,144.5 824.5,144.7 825.1,144.7 825.7,144.5 826.4,144.4 827,144.6 827.6,144.7 828.2,144.8 828.8,144.6 829.5,144.5 830.1,144.6 830.7,144.4 831.3,144.5 831.9,144.5 832.6,144.8 833.2,144.8 833.8,144.8 834.4,144.5 835,144.8 835.6,144.4 836.3,144.8 836.9,144.6 837.5,144.7 838.1,144.5 838.7,144.8 839.4,144.3 840,144.7 840.6,144.7 841.2,144.5 841.8,144.7 842.5,144.4 843.1,144.7 843.7,144.6 844.3,144.5 844.9,144.4 845.6,144.7 846.2,144.7 846.8,144.4 847.4,144.8 848,144.4 848.6,144.5 849.3,144.5 849.9,144.6 850.5,144.8 851.1,144.8 851.7,144.6 852.4,144.5 853,144.4 853.6,144.4" fill="none" stroke="#d07a3c" stroke-width="2.0" stroke-linejoin="round"/>
<path d="M544.1,205.8 544.7,205.8 545.3,205.7 546,206 546.6,205.7 547.2,205.7 547.8,205.7 548.4,205.6 549,206 549.7,205.8 550.3,205.8 550.9,205.7 551.5,205.6 552.1,205.6 552.8,205.7 553.4,205.7 554,206 554.6,205.7 555.2,205.6 555.9,205.5 556.5,205.5 557.1,205.6 557.7,205.8 558.3,205.9 559,205.5 559.6,205.8 560.2,205.6 560.8,205.7 561.4,205.7 562,205.4 562.7,205.4 563.3,205.7 563.9,205.7 564.5,205.5 565.1,205.8 565.8,205.7 566.4,205.5 567,205.3 567.6,205.6 568.2,205.6 568.9,205.4 569.5,205.3 570.1,205.5 570.7,205.2 571.3,205.6 572,205.5 572.6,205.3 573.2,205.4 573.8,205.3 574.4,205.2 575,205.2 575.7,205.5 576.3,205.3 576.9,205.4 577.5,205.2 578.1,205.4 578.8,205.2 579.4,205.2 580,205 580.6,205.1 581.2,204.8 581.9,205.2 582.5,205 583.1,204.8 583.7,204.8 584.3,204.4 585,204.5 585.6,204.3 586.2,204.5 586.8,204 587.4,204 588,204.1 588.7,203.8 589.3,203.6 589.9,203.1 590.5,202.8 591.1,202.6 591.8,201.8 592.4,200.7 593,197.8 593.6,193.7 594.2,192.4 594.9,196.1 595.5,198.9 596.1,199.6 596.7,200 597.3,199.4 597.9,199.6 598.6,198.9 599.2,198.8 599.8,198.4 600.4,198.2 601,197.6 601.7,197.2 602.3,197.2 602.9,196.7 603.5,196.5 604.1,196 604.8,195.4 605.4,195.4 606,194.8 606.6,194.4 607.2,193.6 607.9,193 608.5,192.3 609.1,191.2 609.7,189.6 610.3,187.6 610.9,185.2 611.6,182.1 612.2,178.1 612.8,173.7 613.4,168.4 614,162.5 614.7,155.7 615.3,149.3 615.9,143.2 616.5,138.5 617.1,136.1 617.8,136.6 618.4,139.6 619,144.6 619.6,151.3 620.2,157.8 620.9,164.9 621.5,170.8 622.1,176.4 622.7,181.3 623.3,185.4 623.9,188.7 624.6,191.7 625.2,194 625.8,195.4 626.4,197.1 627,198.2 627.7,199.1 628.3,199.7 628.9,200.7 629.5,201.2 630.1,201.2 630.8,201.7 631.4,202.1 632,202.3 632.6,202.7 633.2,203.2 633.9,203 634.5,203.6 635.1,203.5 635.7,203.5 636.3,204.1 636.9,203.9 637.6,204 638.2,204.1 638.8,204.3 639.4,204.3 640,204.4 640.7,204.5 641.3,204.8 641.9,204.8 642.5,204.8 643.1,204.9 643.8,205.1 644.4,205.1 645,205 645.6,205.3 646.2,205.3 646.9,205.2 647.5,205.2 648.1,205.2 648.7,205.1 649.3,205.5 649.9,205.4 650.6,205.2 651.2,205.6 651.8,205.7 652.4,205.3 653,205.6 653.7,205.4 654.3,205.6 654.9,205.7 655.5,205.5 656.1,205.6 656.8,205.7 657.4,205.5 658,205.7 658.6,205.6 659.2,205.9 659.9,205.5 660.5,205.8 661.1,205.4 661.7,205.5 662.3,205.5 662.9,205.5 663.6,205.6 664.2,205.5 664.8,205.8 665.4,205.4 666,205.7 666.7,205.8 667.3,205.4 667.9,205.4 668.5,205.6 669.1,205.5 669.8,205.7 670.4,205.4 671,205.4 671.6,205.6 672.2,205.3 672.8,205.5 673.5,205.5 674.1,205.1 674.7,205.2 675.3,205.4 675.9,204.9 676.6,205.2 677.2,205.2 677.8,205.1 678.4,205 679,204.7 679.7,205.1 680.3,204.6 680.9,204.9 681.5,204.9 682.1,204.6 682.8,204.8 683.4,204.6 684,204.8 684.6,204.5 685.2,204.9 685.8,204.6 686.5,204.9 687.1,204.7 687.7,204.9 688.3,204.7 688.9,204.8 689.6,204.6 690.2,204.9 690.8,204.7 691.4,205.2 692,205.1 692.7,205 693.3,205.4 693.9,205.4 694.5,205.5 695.1,205.1 695.8,205.4 696.4,205.5 697,205.5 697.6,205.2 698.2,205.7 698.8,205.5 699.5,205.6 700.1,205.8 700.7,205.5 701.3,205.4 701.9,205.9 702.6,205.6 703.2,205.5 703.8,205.6 704.4,206 705,205.9 705.7,205.7 706.3,205.7 706.9,206 707.5,205.9 708.1,205.9 708.8,205.7 709.4,205.8 710,206 710.6,205.5 711.2,205.7 711.8,205.5 712.5,206 713.1,205.5 713.7,205.8 714.3,205.7 714.9,205.6 715.6,205.1 716.2,205.4 716.8,205.1 717.4,205 718,204.6 718.7,204.5 719.3,204.3 719.9,203.5 720.5,203.1 721.1,201.9 721.8,200.3 722.4,197.9 723,194.7 723.6,190.3 724.2,184.9 724.8,179.7 725.5,176.2 726.1,176.8 726.7,181.3 727.3,186.5 727.9,191.5 728.6,195.8 729.2,198.8 729.8,200.8 730.4,202.3 731,203 731.7,204 732.3,204.2 732.9,204.6 733.5,204.6 734.1,204.4 734.8,203.7 735.4,202.2 736,202.6 736.6,203.8 737.2,205 737.8,205.5 738.5,205.8 739.1,205.6 739.7,205.8 740.3,206.1 740.9,206.2 741.6,206.3 742.2,205.9 742.8,206 743.4,206 744,206.3 744.7,206.4 745.3,206.3 745.9,206.4 746.5,206.3 747.1,206.4 747.7,206.6 748.4,206.4 749,206.5 749.6,206.4 750.2,206.4 750.8,206.5 751.5,206.5 752.1,206.3 752.7,206.4 753.3,206.4 753.9,206.4 754.6,206.5 755.2,206.4 755.8,206.4 756.4,206.5 757,206.4 757.7,206.7 758.3,206.3 758.9,206.3 759.5,206.6 760.1,206.5 760.7,206.5 761.4,206.6 762,206.5 762.6,206.4 763.2,206.3 763.8,206.8 764.5,206.8 765.1,206.5 765.7,206.6 766.3,206.5 766.9,206.4 767.6,206.8 768.2,206.8 768.8,206.5 769.4,206.5 770,206.7 770.7,206.8 771.3,206.6 771.9,206.6 772.5,206.5 773.1,206.8 773.7,206.8 774.4,206.8 775,206.5 775.6,206.7 776.2,206.9 776.8,206.8 777.5,206.6 778.1,206.5 778.7,206.4 779.3,206.8 779.9,206.5 780.6,206.8 781.2,206.8 781.8,206.7 782.4,206.9 783,206.9 783.7,206.8 784.3,206.5 784.9,206.7 785.5,206.7 786.1,206.6 786.7,206.9 787.4,206.8 788,206.5 788.6,206.6 789.2,206.6 789.8,206.8 790.5,206.6 791.1,206.7 791.7,206.9 792.3,206.6 792.9,206.8 793.6,206.7 794.2,207 794.8,207 795.4,206.7 796,206.8 796.7,206.6 797.3,206.7 797.9,206.8 798.5,206.8 799.1,206.7 799.7,206.5 800.4,206.6 801,206.8 801.6,206.6 802.2,206.7 802.8,206.8 803.5,207 804.1,206.8 804.7,206.7 805.3,206.8 805.9,206.7 806.6,206.9 807.2,206.6 807.8,206.7 808.4,206.8 809,207 809.7,206.6 810.3,206.7 810.9,206.6 811.5,206.7 812.1,206.7 812.7,206.8 813.4,207 814,206.8 814.6,206.8 815.2,206.8 815.8,207 816.5,207 817.1,206.8 817.7,207.1 818.3,206.7 818.9,207.1 819.6,206.9 820.2,206.9 820.8,206.8 821.4,206.7 822,206.7 822.6,207.1 823.3,206.8 823.9,207 824.5,206.8 825.1,206.9 825.7,206.7 826.4,206.7 827,206.8 827.6,207 828.2,206.9 828.8,206.6 829.5,207 830.1,206.9 830.7,206.7 831.3,206.8 831.9,206.7 832.6,207.1 833.2,206.9 833.8,206.8 834.4,206.8 835,206.8 835.6,206.8 836.3,206.8 836.9,207.1 837.5,207.1 838.1,207 838.7,207.1 839.4,207 840,206.7 840.6,206.7 841.2,206.8 841.8,206.8 842.5,206.9 843.1,207.1 843.7,207 844.3,206.9 844.9,206.8 845.6,207.2 846.2,207.1 846.8,206.9 847.4,206.7 848,207.2 848.6,206.8 849.3,207.1 849.9,206.8 850.5,207 851.1,206.9 851.7,207.2 852.4,206.9 853,206.8 853.6,206.8" fill="none" stroke="#c9a232" stroke-width="2.0" stroke-linejoin="round"/>
<path d="M544.1,250.7 544.7,250.8 545.3,250.6 546,250.7 546.6,250.5 547.2,250.5 547.8,250.4 548.4,250.8 549,250.3 549.7,250.6 550.3,250.5 550.9,250.4 551.5,250.5 552.1,250.7 552.8,250.4 553.4,250.4 554,250.6 554.6,250.6 555.2,250.5 555.9,250.3 556.5,250.7 557.1,250.3 557.7,250.3 558.3,250.3 559,250.5 559.6,250.5 560.2,250.5 560.8,250.6 561.4,250.6 562,250.4 562.7,250.2 563.3,250.6 563.9,250.2 564.5,250.3 565.1,250.2 565.8,250.4 566.4,250.5 567,250.2 567.6,250.2 568.2,250.5 568.9,250.4 569.5,250.1 570.1,250.4 570.7,250.4 571.3,250.2 572,250 572.6,250.3 573.2,250.1 573.8,250 574.4,250 575,250 575.7,249.9 576.3,250 576.9,250 577.5,250 578.1,249.9 578.8,250.1 579.4,249.7 580,249.7 580.6,250 581.2,249.9 581.9,249.9 582.5,249.7 583.1,249.6 583.7,249.6 584.3,249.4 585,249.1 585.6,249.1 586.2,248.9 586.8,249.2 587.4,248.8 588,248.7 588.7,248.6 589.3,248.2 589.9,248.3 590.5,248 591.1,247.7 591.8,247.4 592.4,246.6 593,246 593.6,245.6 594.2,244.8 594.9,243.7 595.5,242.7 596.1,241.4 596.7,240.5 597.3,238.9 597.9,237.6 598.6,235.9 599.2,234.4 599.8,233.2 600.4,232.2 601,231.6 601.7,231 602.3,231.3 602.9,231.6 603.5,232.6 604.1,233.5 604.8,234.4 605.4,235.3 606,236 606.6,237 607.2,237.4 607.9,237.3 608.5,236.9 609.1,236.4 609.7,235.7 610.3,233.7 610.9,231.9 611.6,228.8 612.2,225.2 612.8,220.9 613.4,215.7 614,209.9 614.7,203.4 615.3,197.4 615.9,191.1 616.5,186.6 617.1,184.4 617.8,184.6 618.4,187.5 619,192.3 619.6,198.6 620.2,204.7 620.9,211.2 621.5,217.2 622.1,222.8 622.7,227.1 623.3,231.2 623.9,234.5 624.6,236.8 625.2,239.1 625.8,241 626.4,242.3 627,243.2 627.7,244.1 628.3,244.7 628.9,245.7 629.5,246.1 630.1,246.5 630.8,246.7 631.4,247.2 632,247.4 632.6,247.8 633.2,247.8 633.9,248.3 634.5,248.4 635.1,248.4 635.7,248.6 636.3,248.9 636.9,248.9 637.6,249.2 638.2,248.9 638.8,249.4 639.4,249.4 640,249.4 640.7,249.6 641.3,249.4 641.9,249.5 642.5,249.8 643.1,249.9 643.8,249.7 644.4,250.1 645,250 645.6,249.7 646.2,249.8 646.9,249.8 647.5,250.1 648.1,250 648.7,250 649.3,250.1 649.9,250 650.6,250.4 651.2,250.4 651.8,250.3 652.4,250.3 653,250.2 653.7,250.4 654.3,250.3 654.9,250.6 655.5,250.6 656.1,250.6 656.8,250.6 657.4,250.3 658,250.3 658.6,250.4 659.2,250.3 659.9,250.5 660.5,250.8 661.1,250.7 661.7,250.8 662.3,250.5 662.9,250.5 663.6,250.4 664.2,250.5 664.8,250.4 665.4,250.7 666,250.6 666.7,250.8 667.3,250.7 667.9,250.7 668.5,250.6 669.1,250.8 669.8,250.8 670.4,250.8 671,250.7 671.6,250.7 672.2,250.6 672.8,250.5 673.5,250.7 674.1,250.8 674.7,250.6 675.3,251 675.9,251 676.6,251 677.2,250.9 677.8,250.8 678.4,250.6 679,250.7 679.7,250.9 680.3,251.1 680.9,250.6 681.5,250.6 682.1,250.7 682.8,250.7 683.4,250.9 684,250.6 684.6,251 685.2,250.8 685.8,251 686.5,250.8 687.1,250.7 687.7,250.7 688.3,251.1 688.9,250.9 689.6,251 690.2,250.6 690.8,250.9 691.4,251 692,251.1 692.7,251.1 693.3,250.6 693.9,250.8 694.5,251.1 695.1,250.8 695.8,251 696.4,250.7 697,250.6 697.6,251 698.2,250.7 698.8,250.8 699.5,250.7 700.1,250.8 700.7,251 701.3,250.9 701.9,250.9 702.6,250.5 703.2,250.8 703.8,250.3 704.4,250.4 705,250.6 705.7,250.1 706.3,249.9 706.9,249.8 707.5,249.3 708.1,249.3 708.8,249 709.4,248.5 710,248.8 710.6,248.4 711.2,248.8 711.8,248.8 712.5,248.9 713.1,249.1 713.7,249.7 714.3,249.7 714.9,249.6 715.6,249.7 716.2,249.7 716.8,249.6 717.4,249.2 718,248.8 718.7,248.6 719.3,248.3 719.9,247.4 720.5,246.3 721.1,244.7 721.8,242 722.4,238.4 723,233.7 723.6,227.6 724.2,222.1 724.8,218.1 725.5,219.1 726.1,223.7 726.7,229.5 727.3,235.5 727.9,239.7 728.6,242.8 729.2,245.2 729.8,246.7 730.4,247.6 731,248.1 731.7,248.6 732.3,249.3 732.9,249.3 733.5,249.6 734.1,250 734.8,250.2 735.4,250.3 736,250.1 736.6,250.1 737.2,250.6 737.8,250.6 738.5,250.5 739.1,250.4 739.7,250.6 740.3,250.6 740.9,250.8 741.6,251 742.2,250.7 742.8,250.6 743.4,251 744,250.7 744.7,250.8 745.3,250.9 745.9,251.2 746.5,250.9 747.1,250.9 747.7,251 748.4,250.8 749,251 749.6,251.1 750.2,250.9 750.8,251.2 751.5,250.9 752.1,250.9 752.7,251.1 753.3,251.1 753.9,251.3 754.6,250.9 755.2,251.2 755.8,251.2 756.4,251 757,250.9 757.7,251.2 758.3,251.3 758.9,251.1 759.5,251.1 760.1,251.2 760.7,251.2 761.4,251.1 762,251 762.6,251.1 763.2,251.2 763.8,251.4 764.5,251.4 765.1,251.2 765.7,251.1 766.3,251.1 766.9,251.3 767.6,251.3 768.2,251.1 768.8,251.3 769.4,251.5 770,251.2 770.7,251.4 771.3,251.2 771.9,251.3 772.5,251.4 773.1,251.1 773.7,251.2 774.4,251.5 775,251 775.6,251.1 776.2,251.2 776.8,251.4 777.5,251.3 778.1,251.5 778.7,251.3 779.3,251 779.9,251 780.6,251 781.2,251.2 781.8,251 782.4,251.3 783,251.3 783.7,251.1 784.3,251.5 784.9,251.2 785.5,251.5 786.1,251.2 786.7,251.3 787.4,251.3 788,251.2 788.6,251.4 789.2,251 789.8,251.2 790.5,251.2 791.1,251.5 791.7,251.3 792.3,251.1 792.9,251.2 793.6,251.4 794.2,251.5 794.8,251.1 795.4,251.5 796,251.3 796.7,251.3 797.3,251.3 797.9,251.3 798.5,251.6 799.1,251.5 799.7,251.5 800.4,251.4 801,251.4 801.6,251.2 802.2,251.1 802.8,251.5 803.5,251.4 804.1,251.4 804.7,251.2 805.3,251.2 805.9,251.6 806.6,251.4 807.2,251.1 807.8,251.3 808.4,251.3 809,251.1 809.7,251.6 810.3,251.6 810.9,251.5 811.5,251.1 812.1,251.3 812.7,251.2 813.4,251.5 814,251.5 814.6,251.5 815.2,251.5 815.8,251.2 816.5,251.1 817.1,251.2 817.7,251.6 818.3,251.5 818.9,251.4 819.6,251.3 820.2,251.6 820.8,251.2 821.4,251.3 822,251.1 822.6,251.6 823.3,251.4 823.9,251.5 824.5,251.6 825.1,251.4 825.7,251.6 826.4,251.5 827,251.6 827.6,251.6 828.2,251.2 828.8,251.5 829.5,251.3 830.1,251.3 830.7,251.3 831.3,251.7 831.9,251.2 832.6,251.4 833.2,251.2 833.8,251.7 834.4,251.4 835,251.5 835.6,251.4 836.3,251.6 836.9,251.4 837.5,251.4 838.1,251.6 838.7,251.5 839.4,251.6 840,251.3 840.6,251.6 841.2,251.6 841.8,251.5 842.5,251.4 843.1,251.5 843.7,251.2 844.3,251.3 844.9,251.4 845.6,251.3 846.2,251.2 846.8,251.6 847.4,251.6 848,251.5 848.6,251.3 849.3,251.6 849.9,251.6 850.5,251.5 851.1,251.3 851.7,251.5 852.4,251.4 853,251.4 853.6,251.3" fill="none" stroke="#5f9a3e" stroke-width="2.0" stroke-linejoin="round"/>
<line x1="602.6" y1="58.0" x2="602.6" y2="261.0" stroke="#c00000" stroke-width="1.2" stroke-dasharray="1.6,1.4"/>
<line x1="583.0" y1="43.5" x2="600.5" y2="57.0" stroke="#b01020" stroke-width="1.3" marker-end="url(#arrR)"/>
<text x="552.0" y="41.9" font-family="Liberation Serif" font-size="12.5" font-weight="bold" fill="#b01020" text-anchor="start">SiC-TO</text>
<text x="597.0" y="33.5" font-family="Liberation Serif" font-size="12.9" font-weight="bold" fill="#8a2be2" text-anchor="start">Mo<tspan font-size="8.8" dy="3">2</tspan><tspan dy="-3">-O</tspan></text>
<text x="704.5" y="49.0" font-family="Liberation Serif" font-size="12.5" font-weight="bold" fill="#e8841e" text-anchor="start">Mo=O</text>
<text x="810.6" y="40.0" font-family="Liberation Serif" font-size="39" font-weight="bold" fill="#000" text-anchor="start">(c)</text>
<rect x="543.9" y="8.3" width="308.9" height="255.0" fill="none" stroke="#000" stroke-width="2.8"/>
<line x1="572.8" y1="263.3" x2="572.8" y2="266.3" stroke="#000" stroke-width="2.5"/>
<line x1="604.0" y1="263.3" x2="604.0" y2="267.8" stroke="#000" stroke-width="2.5"/>
<line x1="635.2" y1="263.3" x2="635.2" y2="266.3" stroke="#000" stroke-width="2.5"/>
<line x1="666.4" y1="263.3" x2="666.4" y2="267.8" stroke="#000" stroke-width="2.5"/>
<line x1="697.6" y1="263.3" x2="697.6" y2="266.3" stroke="#000" stroke-width="2.5"/>
<line x1="728.8" y1="263.3" x2="728.8" y2="267.8" stroke="#000" stroke-width="2.5"/>
<line x1="760.0" y1="263.3" x2="760.0" y2="266.3" stroke="#000" stroke-width="2.5"/>
<line x1="791.2" y1="263.3" x2="791.2" y2="267.8" stroke="#000" stroke-width="2.5"/>
<line x1="822.4" y1="263.3" x2="822.4" y2="266.3" stroke="#000" stroke-width="2.5"/>
<text x="604.0" y="285.0" font-family="Liberation Serif" font-size="17.3" font-weight="bold" fill="#000" text-anchor="middle">800</text>
<text x="666.4" y="285.0" font-family="Liberation Serif" font-size="17.3" font-weight="bold" fill="#000" text-anchor="middle">900</text>
<text x="728.8" y="285.0" font-family="Liberation Serif" font-size="17.3" font-weight="bold" fill="#000" text-anchor="middle">1000</text>
<text x="791.2" y="285.0" font-family="Liberation Serif" font-size="17.3" font-weight="bold" fill="#000" text-anchor="middle">1100</text>
<text x="698.3" y="310.8" font-family="Liberation Serif" font-size="21.5" font-weight="bold" fill="#000" text-anchor="middle">Raman Shift (cm<tspan font-size="13.5" dy="-8.5">-1</tspan><tspan dy="8.5">)</tspan></text>
<text x="530.8" y="135.3" font-family="Liberation Serif" font-size="21.5" font-weight="bold" fill="#000" text-anchor="middle" transform="rotate(-90 530.8 135.3)">Intensity (a.u.)</text>
<g clip-path="url(#clipD)">
<path d="M887,146.1 887.6,146.1 888.2,146.1 888.8,146.1 889.3,146.1 889.9,146.1 890.5,146.1 891.1,146 891.7,146 892.3,146 892.8,146 893.4,146 894,146 894.6,146 895.2,146 895.8,146 896.3,146 896.9,146 897.5,146 898.1,146 898.7,146 899.3,146 899.8,146 900.4,146 901,146 901.6,145.9 902.2,145.9 902.8,145.9 903.3,145.9 903.9,145.9 904.5,145.9 905.1,145.9 905.7,145.9 906.3,145.9 906.8,145.9 907.4,145.9 908,145.9 908.6,145.9 909.2,145.9 909.8,145.8 910.3,145.8 910.9,145.8 911.5,145.8 912.1,145.8 912.7,145.8 913.3,145.8 913.8,145.8 914.4,145.8 915,145.8 915.6,145.8 916.2,145.8 916.8,145.7 917.3,145.7 917.9,145.7 918.5,145.7 919.1,145.7 919.7,145.7 920.3,145.7 920.8,145.7 921.4,145.7 922,145.7 922.6,145.6 923.2,145.6 923.8,145.6 924.4,145.6 924.9,145.6 925.5,145.6 926.1,145.6 926.7,145.6 927.3,145.6 927.9,145.5 928.4,145.5 929,145.5 929.6,145.5 930.2,145.5 930.8,145.5 931.4,145.5 931.9,145.5 932.5,145.4 933.1,145.4 933.7,145.4 934.3,145.4 934.9,145.4 935.4,145.4 936,145.4 936.6,145.3 937.2,145.3 937.8,145.3 938.4,145.3 938.9,145.3 939.5,145.3 940.1,145.2 940.7,145.2 941.3,145.2 941.9,145.2 942.4,145.2 943,145.1 943.6,145.1 944.2,145.1 944.8,145.1 945.4,145.1 945.9,145.1 946.5,145 947.1,145 947.7,145 948.3,145 948.9,144.9 949.4,144.9 950,144.9 950.6,144.9 951.2,144.8 951.8,144.8 952.4,144.8 952.9,144.8 953.5,144.7 954.1,144.7 954.7,144.7 955.3,144.7 955.9,144.6 956.5,144.6 957,144.6 957.6,144.5 958.2,144.5 958.8,144.5 959.4,144.5 960,144.4 960.5,144.4 961.1,144.4 961.7,144.3 962.3,144.3 962.9,144.2 963.5,144.2 964,144.2 964.6,144.1 965.2,144.1 965.8,144.1 966.4,144 967,144 967.5,143.9 968.1,143.9 968.7,143.8 969.3,143.8 969.9,143.7 970.5,143.7 971,143.6 971.6,143.6 972.2,143.5 972.8,143.5 973.4,143.4 974,143.4 974.5,143.3 975.1,143.2 975.7,143.2 976.3,143.1 976.9,143 977.5,143 978,142.9 978.6,142.8 979.2,142.8 979.8,142.7 980.4,142.6 981,142.5 981.5,142.5 982.1,142.4 982.7,142.3 983.3,142.2 983.9,142.1 984.5,142 985,141.9 985.6,141.8 986.2,141.7 986.8,141.6 987.4,141.5 988,141.4 988.5,141.3 989.1,141.1 989.7,141 990.3,140.9 990.9,140.8 991.5,140.6 992.1,140.5 992.6,140.3 993.2,140.2 993.8,140 994.4,139.9 995,139.7 995.6,139.5 996.1,139.3 996.7,139.1 997.3,139 997.9,138.8 998.5,138.5 999.1,138.3 999.6,138.1 1000.2,137.9 1000.8,137.6 1001.4,137.4 1002,137.1 1002.6,136.8 1003.1,136.5 1003.7,136.2 1004.3,135.9 1004.9,135.6 1005.5,135.3 1006.1,134.9 1006.6,134.5 1007.2,134.2 1007.8,133.8 1008.4,133.3 1009,132.9 1009.6,132.4 1010.1,131.9 1010.7,131.4 1011.3,130.9 1011.9,130.3 1012.5,129.7 1013.1,129.1 1013.6,128.4 1014.2,127.7 1014.8,127 1015.4,126.2 1016,125.4 1016.6,124.5 1017.1,123.6 1017.7,122.6 1018.3,121.5 1018.9,120.4 1019.5,119.2 1020.1,117.9 1020.6,116.6 1021.2,115.1 1021.8,113.6 1022.4,111.9 1023,110.1 1023.6,108.2 1024.2,106.1 1024.7,103.9 1025.3,101.5 1025.9,98.9 1026.5,96.2 1027.1,93.2 1027.7,90 1028.2,86.7 1028.8,83.1 1029.4,79.3 1030,75.4 1030.6,71.4 1031.2,67.3 1031.7,63.3 1032.3,59.3 1032.9,55.7 1033.5,52.4 1034.1,49.6 1034.7,47.5 1035.2,46.2 1035.8,45.7 1036.4,46.4 1037,48.7 1037.6,52.6 1038.2,57.9 1038.7,64.7" fill="none" stroke="#30b898" stroke-width="7" stroke-linejoin="round" stroke-linecap="round"/>
<path d="M1047.4,225.7 1047.9,232.2 1048.5,237.5 1049.1,241.3 1049.6,243.7 1050.2,244.7 1050.7,244.5 1051.3,243.9 1051.9,242.7 1052.4,241.2 1053,239.3 1053.6,237 1054.1,234.5 1054.7,231.8 1055.2,228.9 1055.8,226 1056.4,223 1056.9,220 1057.5,217 1058,214.1 1058.6,211.2 1059.2,208.5 1059.7,205.8 1060.3,203.3 1060.8,200.9 1061.4,198.6 1062,196.4 1062.5,194.3 1063.1,192.3 1063.7,190.4 1064.2,188.7 1064.8,187 1065.3,185.4 1065.9,183.9 1066.5,182.5 1067,181.1 1067.6,179.9 1068.1,178.6 1068.7,177.5 1069.3,176.4 1069.8,175.4 1070.4,174.4 1071,173.5 1071.5,172.6 1072.1,171.7 1072.6,170.9 1073.2,170.1 1073.8,169.4 1074.3,168.7 1074.9,168 1075.4,167.4 1076,166.8 1076.6,166.2 1077.1,165.6 1077.7,165.1 1078.2,164.6 1078.8,164.1 1079.4,163.6 1079.9,163.1 1080.5,162.7 1081.1,162.3 1081.6,161.9 1082.2,161.5 1082.7,161.1 1083.3,160.7 1083.9,160.4 1084.4,160 1085,159.7 1085.5,159.4 1086.1,159.1 1086.7,158.8 1087.2,158.5 1087.8,158.2 1088.3,158 1088.9,157.7 1089.5,157.5 1090,157.2 1090.6,157 1091.2,156.8 1091.7,156.6 1092.3,156.3 1092.8,156.1 1093.4,155.9 1094,155.7 1094.5,155.6 1095.1,155.4 1095.6,155.2 1096.2,155 1096.8,154.9 1097.3,154.7 1097.9,154.5 1098.5,154.4 1099,154.2 1099.6,154.1 1100.1,154 1100.7,153.8 1101.3,153.7 1101.8,153.6 1102.4,153.4 1102.9,153.3 1103.5,153.2 1104.1,153.1 1104.6,153 1105.2,152.8 1105.7,152.7 1106.3,152.6 1106.9,152.5 1107.4,152.4 1108,152.3 1108.6,152.2 1109.1,152.1 1109.7,152.1 1110.2,152 1110.8,151.9 1111.4,151.8 1111.9,151.7 1112.5,151.6 1113,151.6 1113.6,151.5 1114.2,151.4 1114.7,151.3 1115.3,151.3 1115.8,151.2 1116.4,151.1 1117,151.1 1117.5,151 1118.1,150.9 1118.7,150.9 1119.2,150.8 1119.8,150.7 1120.3,150.7 1120.9,150.6 1121.5,150.6 1122,150.5 1122.6,150.5 1123.1,150.4 1123.7,150.4 1124.3,150.3 1124.8,150.3 1125.4,150.2 1126,150.2 1126.5,150.1 1127.1,150.1 1127.6,150 1128.2,150 1128.8,149.9 1129.3,149.9 1129.9,149.8 1130.4,149.8 1131,149.8 1131.6,149.7 1132.1,149.7 1132.7,149.7 1133.2,149.6 1133.8,149.6 1134.4,149.5 1134.9,149.5 1135.5,149.5 1136.1,149.4 1136.6,149.4 1137.2,149.4 1137.7,149.3 1138.3,149.3 1138.9,149.3 1139.4,149.2 1140,149.2 1140.5,149.2 1141.1,149.2 1141.7,149.1 1142.2,149.1 1142.8,149.1 1143.4,149.1 1143.9,149 1144.5,149 1145,149 1145.6,148.9 1146.2,148.9 1146.7,148.9 1147.3,148.9 1147.8,148.8 1148.4,148.8 1149,148.8 1149.5,148.8 1150.1,148.8 1150.6,148.7 1151.2,148.7 1151.8,148.7 1152.3,148.7 1152.9,148.7 1153.5,148.6 1154,148.6 1154.6,148.6 1155.1,148.6 1155.7,148.6 1156.3,148.5 1156.8,148.5 1157.4,148.5 1157.9,148.5 1158.5,148.5 1159.1,148.4 1159.6,148.4 1160.2,148.4 1160.7,148.4 1161.3,148.4 1161.9,148.4 1162.4,148.3 1163,148.3 1163.6,148.3 1164.1,148.3 1164.7,148.3 1165.2,148.3 1165.8,148.3 1166.4,148.2 1166.9,148.2 1167.5,148.2 1168,148.2 1168.6,148.2 1169.2,148.2 1169.7,148.2 1170.3,148.1 1170.9,148.1 1171.4,148.1 1172,148.1 1172.5,148.1 1173.1,148.1 1173.7,148.1 1174.2,148.1 1174.8,148 1175.3,148 1175.9,148 1176.5,148 1177,148 1177.6,148 1178.1,148 1178.7,148 1179.3,148 1179.8,147.9 1180.4,147.9 1181,147.9 1181.5,147.9 1182.1,147.9 1182.6,147.9 1183.2,147.9 1183.8,147.9 1184.3,147.9 1184.9,147.9 1185.4,147.8 1186,147.8 1186.6,147.8 1187.1,147.8 1187.7,147.8 1188.2,147.8 1188.8,147.8 1189.4,147.8 1189.9,147.8 1190.5,147.8 1191.1,147.8 1191.6,147.8 1192.2,147.7 1192.7,147.7 1193.3,147.7" fill="none" stroke="#30b898" stroke-width="7" stroke-linejoin="round" stroke-linecap="round"/>
<path d="M1038.7,64.7 1039,67.5 1039.2,70.6 1039.4,73.7 1039.6,77.1 1039.8,80.6 1040,84.2 1040.3,88 1040.5,91.9 1040.7,95.9 1040.9,100 1041.1,104.3 1041.3,108.6 1041.5,113 1041.8,117.4 1042,122 1042.2,126.6 1042.4,131.2 1042.6,135.8 1042.8,140.5 1043.1,145.2 1043.3,149.9 1043.5,154.6 1043.7,159.2 1043.9,163.8 1044.1,168.4 1044.4,173 1044.6,177.4 1044.8,181.8 1045,186.1 1045.2,190.4 1045.4,194.5 1045.7,198.5 1045.9,202.4 1046.1,206.2 1046.3,209.8 1046.5,213.3 1046.7,216.7 1046.9,219.8 1047.2,222.9 1047.4,225.7" fill="none" stroke="#30b898" stroke-width="6.6499999999999995" stroke-linejoin="round" stroke-linecap="round" stroke-dasharray="0 3.4"/>
<path d="M1038.7,64.7 1039,67.5 1039.2,70.6 1039.4,73.7 1039.6,77.1 1039.8,80.6 1040,84.2 1040.3,88 1040.5,91.9 1040.7,95.9 1040.9,100 1041.1,104.3 1041.3,108.6 1041.5,113 1041.8,117.4 1042,122 1042.2,126.6 1042.4,131.2 1042.6,135.8 1042.8,140.5 1043.1,145.2 1043.3,149.9 1043.5,154.6 1043.7,159.2 1043.9,163.8 1044.1,168.4 1044.4,173 1044.6,177.4 1044.8,181.8 1045,186.1 1045.2,190.4 1045.4,194.5 1045.7,198.5 1045.9,202.4 1046.1,206.2 1046.3,209.8 1046.5,213.3 1046.7,216.7 1046.9,219.8 1047.2,222.9 1047.4,225.7" fill="none" stroke="#d8f2ea" stroke-width="2.4499999999999997" stroke-linejoin="round" stroke-linecap="round" stroke-dasharray="0 3.4"/>
<path d="M887,146.2 887.6,146.2 888.2,146.2 888.8,146.2 889.3,146.2 889.9,146.2 890.5,146.2 891.1,146.2 891.7,146.2 892.3,146.2 892.8,146.2 893.4,146.2 894,146.2 894.6,146.2 895.2,146.2 895.8,146.2 896.4,146.2 896.9,146.2 897.5,146.2 898.1,146.2 898.7,146.2 899.3,146.1 899.9,146.1 900.5,146.1 901,146.1 901.6,146.1 902.2,146.1 902.8,146.1 903.4,146.1 904,146.1 904.5,146.1 905.1,146.1 905.7,146.1 906.3,146.1 906.9,146.1 907.5,146.1 908.1,146.1 908.6,146.1 909.2,146.1 909.8,146.1 910.4,146 911,146 911.6,146 912.1,146 912.7,146 913.3,146 913.9,146 914.5,146 915.1,146 915.7,146 916.2,146 916.8,146 917.4,146 918,146 918.6,146 919.2,145.9 919.7,145.9 920.3,145.9 920.9,145.9 921.5,145.9 922.1,145.9 922.7,145.9 923.3,145.9 923.8,145.9 924.4,145.9 925,145.9 925.6,145.9 926.2,145.9 926.8,145.8 927.4,145.8 927.9,145.8 928.5,145.8 929.1,145.8 929.7,145.8 930.3,145.8 930.9,145.8 931.4,145.8 932,145.8 932.6,145.7 933.2,145.7 933.8,145.7 934.4,145.7 935,145.7 935.5,145.7 936.1,145.7 936.7,145.7 937.3,145.7 937.9,145.6 938.5,145.6 939,145.6 939.6,145.6 940.2,145.6 940.8,145.6 941.4,145.6 942,145.6 942.6,145.5 943.1,145.5 943.7,145.5 944.3,145.5 944.9,145.5 945.5,145.5 946.1,145.5 946.6,145.4 947.2,145.4 947.8,145.4 948.4,145.4 949,145.4 949.6,145.4 950.2,145.3 950.7,145.3 951.3,145.3 951.9,145.3 952.5,145.3 953.1,145.2 953.7,145.2 954.3,145.2 954.8,145.2 955.4,145.2 956,145.1 956.6,145.1 957.2,145.1 957.8,145.1 958.3,145.1 958.9,145 959.5,145 960.1,145 960.7,145 961.3,144.9 961.9,144.9 962.4,144.9 963,144.8 963.6,144.8 964.2,144.8 964.8,144.8 965.4,144.7 965.9,144.7 966.5,144.7 967.1,144.6 967.7,144.6 968.3,144.6 968.9,144.5 969.5,144.5 970,144.5 970.6,144.4 971.2,144.4 971.8,144.3 972.4,144.3 973,144.3 973.6,144.2 974.1,144.2 974.7,144.1 975.3,144.1 975.9,144 976.5,144 977.1,143.9 977.6,143.9 978.2,143.8 978.8,143.8 979.4,143.7 980,143.7 980.6,143.6 981.2,143.6 981.7,143.5 982.3,143.4 982.9,143.4 983.5,143.3 984.1,143.2 984.7,143.2 985.2,143.1 985.8,143 986.4,142.9 987,142.9 987.6,142.8 988.2,142.7 988.8,142.6 989.3,142.5 989.9,142.4 990.5,142.3 991.1,142.2 991.7,142.1 992.3,142 992.8,141.9 993.4,141.8 994,141.7 994.6,141.6 995.2,141.4 995.8,141.3 996.4,141.2 996.9,141 997.5,140.9 998.1,140.7 998.7,140.6 999.3,140.4 999.9,140.3 1000.5,140.1 1001,139.9 1001.6,139.7 1002.2,139.5 1002.8,139.3 1003.4,139.1 1004,138.9 1004.5,138.6 1005.1,138.4 1005.7,138.2 1006.3,137.9 1006.9,137.6 1007.5,137.3 1008.1,137 1008.6,136.7 1009.2,136.4 1009.8,136 1010.4,135.7 1011,135.3 1011.6,134.9 1012.1,134.5 1012.7,134 1013.3,133.6 1013.9,133.1 1014.5,132.6 1015.1,132 1015.7,131.5 1016.2,130.9 1016.8,130.2 1017.4,129.5 1018,128.8 1018.6,128 1019.2,127.2 1019.7,126.3 1020.3,125.4 1020.9,124.4 1021.5,123.4 1022.1,122.2 1022.7,121 1023.3,119.7 1023.8,118.3 1024.4,116.8 1025,115.2 1025.6,113.5 1026.2,111.7 1026.8,109.7 1027.4,107.6 1027.9,105.3 1028.5,102.9 1029.1,100.4 1029.7,97.8 1030.3,95 1030.9,92.3 1031.4,89.4 1032,86.6 1032.6,84 1033.2,81.5 1033.8,79.2 1034.4,77.4 1035,75.9 1035.5,75 1036.1,74.7 1036.7,75.2 1037.3,76.8 1037.9,79.6 1038.5,83.4 1039,88.3" fill="none" stroke="#4a62a4" stroke-width="6.5" stroke-linejoin="round" stroke-linecap="round"/>
<path d="M1047.7,203.1 1048.2,207.8 1048.8,211.5 1049.4,214.3 1049.9,216 1050.5,216.7 1051,216.6 1051.6,216 1052.2,215.2 1052.7,213.9 1053.3,212.4 1053.8,210.7 1054.4,208.7 1055,206.7 1055.5,204.5 1056.1,202.2 1056.6,200 1057.2,197.7 1057.8,195.5 1058.3,193.3 1058.9,191.3 1059.4,189.2 1060,187.3 1060.6,185.5 1061.1,183.8 1061.7,182.1 1062.2,180.5 1062.8,179.1 1063.4,177.7 1063.9,176.4 1064.5,175.1 1065,173.9 1065.6,172.8 1066.2,171.8 1066.7,170.8 1067.3,169.9 1067.8,169 1068.4,168.2 1069,167.4 1069.5,166.6 1070.1,165.9 1070.6,165.2 1071.2,164.6 1071.8,164 1072.3,163.4 1072.9,162.9 1073.4,162.3 1074,161.8 1074.6,161.4 1075.1,160.9 1075.7,160.5 1076.2,160.1 1076.8,159.7 1077.4,159.3 1077.9,158.9 1078.5,158.6 1079,158.2 1079.6,157.9 1080.2,157.6 1080.7,157.3 1081.3,157 1081.8,156.7 1082.4,156.5 1083,156.2 1083.5,156 1084.1,155.7 1084.6,155.5 1085.2,155.3 1085.8,155.1 1086.3,154.9 1086.9,154.7 1087.4,154.5 1088,154.3 1088.6,154.1 1089.1,153.9 1089.7,153.8 1090.2,153.6 1090.8,153.5 1091.4,153.3 1091.9,153.2 1092.5,153 1093,152.9 1093.6,152.8 1094.2,152.6 1094.7,152.5 1095.3,152.4 1095.8,152.3 1096.4,152.2 1097,152 1097.5,151.9 1098.1,151.8 1098.7,151.7 1099.2,151.6 1099.8,151.5 1100.3,151.4 1100.9,151.4 1101.5,151.3 1102,151.2 1102.6,151.1 1103.1,151 1103.7,150.9 1104.3,150.9 1104.8,150.8 1105.4,150.7 1105.9,150.6 1106.5,150.6 1107.1,150.5 1107.6,150.4 1108.2,150.4 1108.7,150.3 1109.3,150.2 1109.9,150.2 1110.4,150.1 1111,150.1 1111.5,150 1112.1,150 1112.7,149.9 1113.2,149.9 1113.8,149.8 1114.3,149.8 1114.9,149.7 1115.5,149.7 1116,149.6 1116.6,149.6 1117.1,149.5 1117.7,149.5 1118.3,149.4 1118.8,149.4 1119.4,149.4 1119.9,149.3 1120.5,149.3 1121.1,149.2 1121.6,149.2 1122.2,149.2 1122.7,149.1 1123.3,149.1 1123.9,149.1 1124.4,149 1125,149 1125.5,149 1126.1,148.9 1126.7,148.9 1127.2,148.9 1127.8,148.9 1128.3,148.8 1128.9,148.8 1129.5,148.8 1130,148.7 1130.6,148.7 1131.1,148.7 1131.7,148.7 1132.3,148.6 1132.8,148.6 1133.4,148.6 1133.9,148.6 1134.5,148.5 1135.1,148.5 1135.6,148.5 1136.2,148.5 1136.7,148.5 1137.3,148.4 1137.9,148.4 1138.4,148.4 1139,148.4 1139.5,148.4 1140.1,148.3 1140.7,148.3 1141.2,148.3 1141.8,148.3 1142.3,148.3 1142.9,148.2 1143.5,148.2 1144,148.2 1144.6,148.2 1145.1,148.2 1145.7,148.2 1146.3,148.1 1146.8,148.1 1147.4,148.1 1147.9,148.1 1148.5,148.1 1149.1,148.1 1149.6,148 1150.2,148 1150.7,148 1151.3,148 1151.9,148 1152.4,148 1153,148 1153.5,147.9 1154.1,147.9 1154.7,147.9 1155.2,147.9 1155.8,147.9 1156.3,147.9 1156.9,147.9 1157.5,147.9 1158,147.9 1158.6,147.8 1159.1,147.8 1159.7,147.8 1160.3,147.8 1160.8,147.8 1161.4,147.8 1161.9,147.8 1162.5,147.8 1163.1,147.8 1163.6,147.7 1164.2,147.7 1164.7,147.7 1165.3,147.7 1165.9,147.7 1166.4,147.7 1167,147.7 1167.5,147.7 1168.1,147.7 1168.7,147.7 1169.2,147.7 1169.8,147.6 1170.3,147.6 1170.9,147.6 1171.5,147.6 1172,147.6 1172.6,147.6 1173.1,147.6 1173.7,147.6 1174.3,147.6 1174.8,147.6 1175.4,147.6 1175.9,147.6 1176.5,147.5 1177.1,147.5 1177.6,147.5 1178.2,147.5 1178.7,147.5 1179.3,147.5 1179.9,147.5 1180.4,147.5 1181,147.5 1181.5,147.5 1182.1,147.5 1182.7,147.5 1183.2,147.5 1183.8,147.5 1184.3,147.5 1184.9,147.4 1185.5,147.4 1186,147.4 1186.6,147.4 1187.1,147.4 1187.7,147.4 1188.3,147.4 1188.8,147.4 1189.4,147.4 1189.9,147.4 1190.5,147.4 1191.1,147.4 1191.6,147.4 1192.2,147.4 1192.7,147.4 1193.3,147.4" fill="none" stroke="#4a62a4" stroke-width="6.5" stroke-linejoin="round" stroke-linecap="round"/>
<path d="M1039,88.3 1039.3,90.3 1039.5,92.4 1039.7,94.7 1039.9,97.1 1040.1,99.6 1040.3,102.2 1040.6,104.9 1040.8,107.7 1041,110.5 1041.2,113.5 1041.4,116.5 1041.6,119.6 1041.9,122.7 1042.1,125.9 1042.3,129.1 1042.5,132.4 1042.7,135.7 1042.9,139 1043.2,142.4 1043.4,145.7 1043.6,149 1043.8,152.4 1044,155.7 1044.2,159 1044.4,162.3 1044.7,165.5 1044.9,168.7 1045.1,171.8 1045.3,174.9 1045.5,177.9 1045.7,180.9 1046,183.7 1046.2,186.5 1046.4,189.2 1046.6,191.8 1046.8,194.3 1047,196.7 1047.3,199 1047.5,201.1 1047.7,203.1" fill="none" stroke="#4a62a4" stroke-width="2.4" stroke-linejoin="round" stroke-linecap="round" stroke-dasharray="2.5 1.2"/>
<path d="M887,146.4 887.6,146.4 888.2,146.4 888.8,146.4 889.3,146.4 889.9,146.4 890.5,146.4 891.1,146.4 891.7,146.4 892.3,146.4 892.8,146.4 893.4,146.4 894,146.4 894.6,146.4 895.2,146.4 895.8,146.4 896.4,146.4 896.9,146.4 897.5,146.4 898.1,146.4 898.7,146.4 899.3,146.4 899.9,146.4 900.4,146.4 901,146.4 901.6,146.4 902.2,146.4 902.8,146.4 903.4,146.4 904,146.3 904.5,146.3 905.1,146.3 905.7,146.3 906.3,146.3 906.9,146.3 907.5,146.3 908,146.3 908.6,146.3 909.2,146.3 909.8,146.3 910.4,146.3 911,146.3 911.6,146.3 912.1,146.3 912.7,146.3 913.3,146.3 913.9,146.3 914.5,146.3 915.1,146.3 915.6,146.3 916.2,146.3 916.8,146.3 917.4,146.3 918,146.3 918.6,146.3 919.2,146.3 919.7,146.3 920.3,146.2 920.9,146.2 921.5,146.2 922.1,146.2 922.7,146.2 923.2,146.2 923.8,146.2 924.4,146.2 925,146.2 925.6,146.2 926.2,146.2 926.8,146.2 927.3,146.2 927.9,146.2 928.5,146.2 929.1,146.2 929.7,146.2 930.3,146.2 930.8,146.2 931.4,146.1 932,146.1 932.6,146.1 933.2,146.1 933.8,146.1 934.3,146.1 934.9,146.1 935.5,146.1 936.1,146.1 936.7,146.1 937.3,146.1 937.9,146.1 938.4,146.1 939,146.1 939.6,146.1 940.2,146 940.8,146 941.4,146 941.9,146 942.5,146 943.1,146 943.7,146 944.3,146 944.9,146 945.5,146 946,146 946.6,146 947.2,145.9 947.8,145.9 948.4,145.9 949,145.9 949.5,145.9 950.1,145.9 950.7,145.9 951.3,145.9 951.9,145.9 952.5,145.8 953.1,145.8 953.6,145.8 954.2,145.8 954.8,145.8 955.4,145.8 956,145.8 956.6,145.8 957.1,145.7 957.7,145.7 958.3,145.7 958.9,145.7 959.5,145.7 960.1,145.7 960.7,145.7 961.2,145.6 961.8,145.6 962.4,145.6 963,145.6 963.6,145.6 964.2,145.6 964.7,145.5 965.3,145.5 965.9,145.5 966.5,145.5 967.1,145.5 967.7,145.5 968.3,145.4 968.8,145.4 969.4,145.4 970,145.4 970.6,145.3 971.2,145.3 971.8,145.3 972.3,145.3 972.9,145.3 973.5,145.2 974.1,145.2 974.7,145.2 975.3,145.1 975.9,145.1 976.4,145.1 977,145.1 977.6,145 978.2,145 978.8,145 979.4,144.9 979.9,144.9 980.5,144.9 981.1,144.8 981.7,144.8 982.3,144.8 982.9,144.7 983.5,144.7 984,144.6 984.6,144.6 985.2,144.6 985.8,144.5 986.4,144.5 987,144.4 987.5,144.4 988.1,144.3 988.7,144.3 989.3,144.2 989.9,144.2 990.5,144.1 991.1,144 991.6,144 992.2,143.9 992.8,143.8 993.4,143.8 994,143.7 994.6,143.6 995.1,143.6 995.7,143.5 996.3,143.4 996.9,143.3 997.5,143.2 998.1,143.1 998.7,143 999.2,142.9 999.8,142.8 1000.4,142.7 1001,142.6 1001.6,142.5 1002.2,142.4 1002.7,142.3 1003.3,142.2 1003.9,142 1004.5,141.9 1005.1,141.7 1005.7,141.6 1006.3,141.4 1006.8,141.3 1007.4,141.1 1008,140.9 1008.6,140.7 1009.2,140.5 1009.8,140.3 1010.3,140.1 1010.9,139.9 1011.5,139.6 1012.1,139.4 1012.7,139.1 1013.3,138.8 1013.8,138.5 1014.4,138.2 1015,137.9 1015.6,137.5 1016.2,137.2 1016.8,136.8 1017.4,136.3 1017.9,135.9 1018.5,135.4 1019.1,134.9 1019.7,134.4 1020.3,133.8 1020.9,133.2 1021.4,132.6 1022,131.9 1022.6,131.1 1023.2,130.3 1023.8,129.5 1024.4,128.6 1025,127.6 1025.5,126.5 1026.1,125.3 1026.7,124.1 1027.3,122.8 1027.9,121.4 1028.5,119.9 1029,118.3 1029.6,116.6 1030.2,114.8 1030.8,113 1031.4,111.2 1032,109.3 1032.6,107.6 1033.1,105.9 1033.7,104.4 1034.3,103.1 1034.9,102.1 1035.5,101.5 1036.1,101.2 1036.6,101.5 1037.2,102.5 1037.8,104.2 1038.4,106.7 1039,109.8" fill="none" stroke="#d98532" stroke-width="6.5" stroke-linejoin="round" stroke-linecap="round"/>
<path d="M1047.4,183.1 1048,186.1 1048.6,188.5 1049.1,190.3 1049.7,191.3 1050.2,191.7 1050.8,191.5 1051.4,191.1 1051.9,190.3 1052.5,189.2 1053,187.9 1053.6,186.5 1054.2,184.9 1054.7,183.2 1055.3,181.5 1055.9,179.9 1056.4,178.2 1057,176.6 1057.5,175 1058.1,173.6 1058.7,172.1 1059.2,170.8 1059.8,169.6 1060.3,168.4 1060.9,167.3 1061.5,166.3 1062,165.3 1062.6,164.4 1063.1,163.6 1063.7,162.8 1064.3,162.1 1064.8,161.4 1065.4,160.7 1066,160.1 1066.5,159.6 1067.1,159 1067.6,158.5 1068.2,158.1 1068.8,157.6 1069.3,157.2 1069.9,156.8 1070.4,156.4 1071,156.1 1071.6,155.7 1072.1,155.4 1072.7,155.1 1073.2,154.8 1073.8,154.6 1074.4,154.3 1074.9,154 1075.5,153.8 1076.1,153.6 1076.6,153.4 1077.2,153.2 1077.7,153 1078.3,152.8 1078.9,152.6 1079.4,152.4 1080,152.3 1080.5,152.1 1081.1,151.9 1081.7,151.8 1082.2,151.7 1082.8,151.5 1083.3,151.4 1083.9,151.3 1084.5,151.1 1085,151 1085.6,150.9 1086.1,150.8 1086.7,150.7 1087.3,150.6 1087.8,150.5 1088.4,150.4 1089,150.3 1089.5,150.2 1090.1,150.2 1090.6,150.1 1091.2,150 1091.8,149.9 1092.3,149.8 1092.9,149.8 1093.4,149.7 1094,149.6 1094.6,149.6 1095.1,149.5 1095.7,149.5 1096.2,149.4 1096.8,149.3 1097.4,149.3 1097.9,149.2 1098.5,149.2 1099.1,149.1 1099.6,149.1 1100.2,149 1100.7,149 1101.3,148.9 1101.9,148.9 1102.4,148.9 1103,148.8 1103.5,148.8 1104.1,148.7 1104.7,148.7 1105.2,148.7 1105.8,148.6 1106.3,148.6 1106.9,148.6 1107.5,148.5 1108,148.5 1108.6,148.5 1109.1,148.4 1109.7,148.4 1110.3,148.4 1110.8,148.3 1111.4,148.3 1112,148.3 1112.5,148.3 1113.1,148.2 1113.6,148.2 1114.2,148.2 1114.8,148.2 1115.3,148.1 1115.9,148.1 1116.4,148.1 1117,148.1 1117.6,148.1 1118.1,148 1118.7,148 1119.2,148 1119.8,148 1120.4,148 1120.9,147.9 1121.5,147.9 1122.1,147.9 1122.6,147.9 1123.2,147.9 1123.7,147.8 1124.3,147.8 1124.9,147.8 1125.4,147.8 1126,147.8 1126.5,147.8 1127.1,147.8 1127.7,147.7 1128.2,147.7 1128.8,147.7 1129.3,147.7 1129.9,147.7 1130.5,147.7 1131,147.7 1131.6,147.6 1132.2,147.6 1132.7,147.6 1133.3,147.6 1133.8,147.6 1134.4,147.6 1135,147.6 1135.5,147.6 1136.1,147.6 1136.6,147.5 1137.2,147.5 1137.8,147.5 1138.3,147.5 1138.9,147.5 1139.4,147.5 1140,147.5 1140.6,147.5 1141.1,147.5 1141.7,147.5 1142.2,147.4 1142.8,147.4 1143.4,147.4 1143.9,147.4 1144.5,147.4 1145.1,147.4 1145.6,147.4 1146.2,147.4 1146.7,147.4 1147.3,147.4 1147.9,147.4 1148.4,147.4 1149,147.4 1149.5,147.3 1150.1,147.3 1150.7,147.3 1151.2,147.3 1151.8,147.3 1152.3,147.3 1152.9,147.3 1153.5,147.3 1154,147.3 1154.6,147.3 1155.2,147.3 1155.7,147.3 1156.3,147.3 1156.8,147.3 1157.4,147.3 1158,147.3 1158.5,147.2 1159.1,147.2 1159.6,147.2 1160.2,147.2 1160.8,147.2 1161.3,147.2 1161.9,147.2 1162.4,147.2 1163,147.2 1163.6,147.2 1164.1,147.2 1164.7,147.2 1165.2,147.2 1165.8,147.2 1166.4,147.2 1166.9,147.2 1167.5,147.2 1168.1,147.2 1168.6,147.2 1169.2,147.2 1169.7,147.2 1170.3,147.1 1170.9,147.1 1171.4,147.1 1172,147.1 1172.5,147.1 1173.1,147.1 1173.7,147.1 1174.2,147.1 1174.8,147.1 1175.3,147.1 1175.9,147.1 1176.5,147.1 1177,147.1 1177.6,147.1 1178.2,147.1 1178.7,147.1 1179.3,147.1 1179.8,147.1 1180.4,147.1 1181,147.1 1181.5,147.1 1182.1,147.1 1182.6,147.1 1183.2,147.1 1183.8,147.1 1184.3,147.1 1184.9,147.1 1185.4,147.1 1186,147.1 1186.6,147 1187.1,147 1187.7,147 1188.3,147 1188.8,147 1189.4,147 1189.9,147 1190.5,147 1191.1,147 1191.6,147 1192.2,147 1192.7,147 1193.3,147" fill="none" stroke="#d98532" stroke-width="6.5" stroke-linejoin="round" stroke-linecap="round"/>
<path d="M1039,109.8 1039.2,111.1 1039.4,112.5 1039.6,114 1039.8,115.5 1040,117.1 1040.3,118.7 1040.5,120.4 1040.7,122.2 1040.9,124 1041.1,125.9 1041.3,127.8 1041.5,129.8 1041.7,131.8 1041.9,133.8 1042.2,135.9 1042.4,138 1042.6,140.1 1042.8,142.2 1043,144.3 1043.2,146.4 1043.4,148.6 1043.6,150.7 1043.8,152.8 1044.1,154.9 1044.3,157 1044.5,159.1 1044.7,161.1 1044.9,163.1 1045.1,165.1 1045.3,167 1045.5,168.9 1045.7,170.7 1046,172.5 1046.2,174.2 1046.4,175.8 1046.6,177.4 1046.8,178.9 1047,180.4 1047.2,181.8 1047.4,183.1" fill="none" stroke="#d98532" stroke-width="2.4" stroke-linejoin="round" stroke-linecap="round" stroke-dasharray="2.5 1.2"/>
<path d="M887,146.5 887.6,146.5 888.2,146.5 888.8,146.5 889.3,146.5 889.9,146.5 890.5,146.5 891.1,146.5 891.7,146.5 892.3,146.5 892.8,146.5 893.4,146.5 894,146.5 894.6,146.5 895.2,146.5 895.8,146.5 896.4,146.5 896.9,146.5 897.5,146.5 898.1,146.5 898.7,146.5 899.3,146.5 899.9,146.5 900.4,146.5 901,146.5 901.6,146.5 902.2,146.5 902.8,146.5 903.4,146.5 904,146.5 904.5,146.5 905.1,146.5 905.7,146.5 906.3,146.5 906.9,146.5 907.5,146.5 908,146.5 908.6,146.5 909.2,146.5 909.8,146.5 910.4,146.5 911,146.5 911.6,146.5 912.1,146.5 912.7,146.5 913.3,146.5 913.9,146.5 914.5,146.5 915.1,146.4 915.6,146.4 916.2,146.4 916.8,146.4 917.4,146.4 918,146.4 918.6,146.4 919.2,146.4 919.7,146.4 920.3,146.4 920.9,146.4 921.5,146.4 922.1,146.4 922.7,146.4 923.2,146.4 923.8,146.4 924.4,146.4 925,146.4 925.6,146.4 926.2,146.4 926.8,146.4 927.3,146.4 927.9,146.4 928.5,146.4 929.1,146.4 929.7,146.4 930.3,146.4 930.8,146.4 931.4,146.4 932,146.4 932.6,146.4 933.2,146.4 933.8,146.4 934.3,146.3 934.9,146.3 935.5,146.3 936.1,146.3 936.7,146.3 937.3,146.3 937.9,146.3 938.4,146.3 939,146.3 939.6,146.3 940.2,146.3 940.8,146.3 941.4,146.3 941.9,146.3 942.5,146.3 943.1,146.3 943.7,146.3 944.3,146.3 944.9,146.3 945.5,146.3 946,146.3 946.6,146.2 947.2,146.2 947.8,146.2 948.4,146.2 949,146.2 949.5,146.2 950.1,146.2 950.7,146.2 951.3,146.2 951.9,146.2 952.5,146.2 953.1,146.2 953.6,146.2 954.2,146.2 954.8,146.2 955.4,146.1 956,146.1 956.6,146.1 957.1,146.1 957.7,146.1 958.3,146.1 958.9,146.1 959.5,146.1 960.1,146.1 960.7,146.1 961.2,146.1 961.8,146.1 962.4,146 963,146 963.6,146 964.2,146 964.7,146 965.3,146 965.9,146 966.5,146 967.1,146 967.7,145.9 968.3,145.9 968.8,145.9 969.4,145.9 970,145.9 970.6,145.9 971.2,145.9 971.8,145.9 972.3,145.8 972.9,145.8 973.5,145.8 974.1,145.8 974.7,145.8 975.3,145.8 975.9,145.7 976.4,145.7 977,145.7 977.6,145.7 978.2,145.7 978.8,145.7 979.4,145.6 979.9,145.6 980.5,145.6 981.1,145.6 981.7,145.6 982.3,145.5 982.9,145.5 983.5,145.5 984,145.5 984.6,145.4 985.2,145.4 985.8,145.4 986.4,145.3 987,145.3 987.5,145.3 988.1,145.3 988.7,145.2 989.3,145.2 989.9,145.2 990.5,145.1 991.1,145.1 991.6,145.1 992.2,145 992.8,145 993.4,144.9 994,144.9 994.6,144.8 995.1,144.8 995.7,144.8 996.3,144.7 996.9,144.7 997.5,144.6 998.1,144.5 998.7,144.5 999.2,144.4 999.8,144.4 1000.4,144.3 1001,144.2 1001.6,144.2 1002.2,144.1 1002.7,144 1003.3,144 1003.9,143.9 1004.5,143.8 1005.1,143.7 1005.7,143.6 1006.3,143.5 1006.8,143.4 1007.4,143.3 1008,143.2 1008.6,143.1 1009.2,143 1009.8,142.8 1010.3,142.7 1010.9,142.6 1011.5,142.4 1012.1,142.3 1012.7,142.1 1013.3,141.9 1013.8,141.8 1014.4,141.6 1015,141.4 1015.6,141.2 1016.2,140.9 1016.8,140.7 1017.4,140.4 1017.9,140.2 1018.5,139.9 1019.1,139.6 1019.7,139.3 1020.3,138.9 1020.9,138.6 1021.4,138.2 1022,137.7 1022.6,137.3 1023.2,136.8 1023.8,136.3 1024.4,135.7 1025,135.1 1025.5,134.5 1026.1,133.8 1026.7,133 1027.3,132.2 1027.9,131.4 1028.5,130.5 1029,129.5 1029.6,128.5 1030.2,127.4 1030.8,126.3 1031.4,125.2 1032,124.1 1032.6,123 1033.1,122 1033.7,121.1 1034.3,120.4 1034.9,119.8 1035.5,119.4 1036.1,119.2 1036.6,119.4 1037.2,120 1037.8,121 1038.4,122.5 1039,124.5" fill="none" stroke="#c2a236" stroke-width="6.5" stroke-linejoin="round" stroke-linecap="round"/>
<path d="M1047.4,168.9 1048,170.8 1048.6,172.3 1049.1,173.3 1049.7,174 1050.2,174.2 1050.8,174.1 1051.4,173.7 1051.9,173.2 1052.5,172.5 1053,171.6 1053.6,170.6 1054.2,169.6 1054.7,168.5 1055.3,167.4 1055.9,166.3 1056.4,165.2 1057,164.2 1057.5,163.2 1058.1,162.3 1058.7,161.4 1059.2,160.6 1059.8,159.8 1060.3,159.1 1060.9,158.5 1061.5,157.9 1062,157.3 1062.6,156.8 1063.1,156.3 1063.7,155.8 1064.3,155.4 1064.8,155 1065.4,154.6 1066,154.3 1066.5,153.9 1067.1,153.6 1067.6,153.3 1068.2,153.1 1068.8,152.8 1069.3,152.6 1069.9,152.3 1070.4,152.1 1071,151.9 1071.6,151.7 1072.1,151.6 1072.7,151.4 1073.2,151.2 1073.8,151.1 1074.4,150.9 1074.9,150.8 1075.5,150.6 1076.1,150.5 1076.6,150.4 1077.2,150.3 1077.7,150.2 1078.3,150 1078.9,149.9 1079.4,149.8 1080,149.8 1080.5,149.7 1081.1,149.6 1081.7,149.5 1082.2,149.4 1082.8,149.3 1083.3,149.3 1083.9,149.2 1084.5,149.1 1085,149.1 1085.6,149 1086.1,148.9 1086.7,148.9 1087.3,148.8 1087.8,148.8 1088.4,148.7 1089,148.7 1089.5,148.6 1090.1,148.6 1090.6,148.5 1091.2,148.5 1091.8,148.5 1092.3,148.4 1092.9,148.4 1093.4,148.3 1094,148.3 1094.6,148.3 1095.1,148.2 1095.7,148.2 1096.2,148.2 1096.8,148.1 1097.4,148.1 1097.9,148.1 1098.5,148 1099.1,148 1099.6,148 1100.2,148 1100.7,147.9 1101.3,147.9 1101.9,147.9 1102.4,147.9 1103,147.8 1103.5,147.8 1104.1,147.8 1104.7,147.8 1105.2,147.8 1105.8,147.7 1106.3,147.7 1106.9,147.7 1107.5,147.7 1108,147.7 1108.6,147.7 1109.1,147.6 1109.7,147.6 1110.3,147.6 1110.8,147.6 1111.4,147.6 1112,147.6 1112.5,147.5 1113.1,147.5 1113.6,147.5 1114.2,147.5 1114.8,147.5 1115.3,147.5 1115.9,147.5 1116.4,147.5 1117,147.4 1117.6,147.4 1118.1,147.4 1118.7,147.4 1119.2,147.4 1119.8,147.4 1120.4,147.4 1120.9,147.4 1121.5,147.4 1122.1,147.3 1122.6,147.3 1123.2,147.3 1123.7,147.3 1124.3,147.3 1124.9,147.3 1125.4,147.3 1126,147.3 1126.5,147.3 1127.1,147.3 1127.7,147.3 1128.2,147.3 1128.8,147.2 1129.3,147.2 1129.9,147.2 1130.5,147.2 1131,147.2 1131.6,147.2 1132.2,147.2 1132.7,147.2 1133.3,147.2 1133.8,147.2 1134.4,147.2 1135,147.2 1135.5,147.2 1136.1,147.2 1136.6,147.2 1137.2,147.1 1137.8,147.1 1138.3,147.1 1138.9,147.1 1139.4,147.1 1140,147.1 1140.6,147.1 1141.1,147.1 1141.7,147.1 1142.2,147.1 1142.8,147.1 1143.4,147.1 1143.9,147.1 1144.5,147.1 1145.1,147.1 1145.6,147.1 1146.2,147.1 1146.7,147.1 1147.3,147.1 1147.9,147.1 1148.4,147.1 1149,147.1 1149.5,147 1150.1,147 1150.7,147 1151.2,147 1151.8,147 1152.3,147 1152.9,147 1153.5,147 1154,147 1154.6,147 1155.2,147 1155.7,147 1156.3,147 1156.8,147 1157.4,147 1158,147 1158.5,147 1159.1,147 1159.6,147 1160.2,147 1160.8,147 1161.3,147 1161.9,147 1162.4,147 1163,147 1163.6,147 1164.1,147 1164.7,147 1165.2,147 1165.8,147 1166.4,147 1166.9,147 1167.5,147 1168.1,146.9 1168.6,146.9 1169.2,146.9 1169.7,146.9 1170.3,146.9 1170.9,146.9 1171.4,146.9 1172,146.9 1172.5,146.9 1173.1,146.9 1173.7,146.9 1174.2,146.9 1174.8,146.9 1175.3,146.9 1175.9,146.9 1176.5,146.9 1177,146.9 1177.6,146.9 1178.2,146.9 1178.7,146.9 1179.3,146.9 1179.8,146.9 1180.4,146.9 1181,146.9 1181.5,146.9 1182.1,146.9 1182.6,146.9 1183.2,146.9 1183.8,146.9 1184.3,146.9 1184.9,146.9 1185.4,146.9 1186,146.9 1186.6,146.9 1187.1,146.9 1187.7,146.9 1188.3,146.9 1188.8,146.9 1189.4,146.9 1189.9,146.9 1190.5,146.9 1191.1,146.9 1191.6,146.9 1192.2,146.9 1192.7,146.9 1193.3,146.9" fill="none" stroke="#c2a236" stroke-width="6.5" stroke-linejoin="round" stroke-linecap="round"/>
<path d="M1039,124.5 1039.2,125.2 1039.4,126.1 1039.6,127 1039.8,127.9 1040,128.8 1040.3,129.8 1040.5,130.9 1040.7,132 1040.9,133.1 1041.1,134.2 1041.3,135.4 1041.5,136.6 1041.7,137.8 1041.9,139 1042.2,140.3 1042.4,141.5 1042.6,142.8 1042.8,144.1 1043,145.4 1043.2,146.7 1043.4,148 1043.6,149.3 1043.8,150.6 1044.1,151.9 1044.3,153.1 1044.5,154.4 1044.7,155.6 1044.9,156.8 1045.1,158 1045.3,159.2 1045.5,160.3 1045.7,161.4 1046,162.5 1046.2,163.6 1046.4,164.6 1046.6,165.5 1046.8,166.4 1047,167.3 1047.2,168.2 1047.4,168.9" fill="none" stroke="#c2a236" stroke-width="2.4" stroke-linejoin="round" stroke-linecap="round" stroke-dasharray="2.5 1.2"/>
<path d="M887,146.6 887.6,146.6 888.2,146.6 888.8,146.6 889.3,146.6 889.9,146.6 890.5,146.6 891.1,146.6 891.7,146.6 892.3,146.6 892.8,146.6 893.4,146.6 894,146.6 894.6,146.6 895.2,146.6 895.8,146.6 896.3,146.6 896.9,146.6 897.5,146.6 898.1,146.6 898.7,146.6 899.3,146.6 899.8,146.6 900.4,146.6 901,146.6 901.6,146.6 902.2,146.6 902.8,146.6 903.3,146.6 903.9,146.6 904.5,146.6 905.1,146.6 905.7,146.6 906.3,146.6 906.8,146.6 907.4,146.6 908,146.6 908.6,146.6 909.2,146.6 909.8,146.6 910.3,146.6 910.9,146.6 911.5,146.6 912.1,146.6 912.7,146.6 913.3,146.6 913.8,146.6 914.4,146.6 915,146.6 915.6,146.6 916.2,146.6 916.8,146.6 917.3,146.6 917.9,146.6 918.5,146.6 919.1,146.6 919.7,146.6 920.3,146.6 920.8,146.6 921.4,146.6 922,146.6 922.6,146.6 923.2,146.6 923.8,146.6 924.3,146.6 924.9,146.6 925.5,146.6 926.1,146.6 926.7,146.6 927.3,146.6 927.8,146.5 928.4,146.5 929,146.5 929.6,146.5 930.2,146.5 930.8,146.5 931.3,146.5 931.9,146.5 932.5,146.5 933.1,146.5 933.7,146.5 934.3,146.5 934.8,146.5 935.4,146.5 936,146.5 936.6,146.5 937.2,146.5 937.8,146.5 938.3,146.5 938.9,146.5 939.5,146.5 940.1,146.5 940.7,146.5 941.3,146.5 941.8,146.5 942.4,146.5 943,146.5 943.6,146.5 944.2,146.5 944.8,146.5 945.3,146.5 945.9,146.5 946.5,146.5 947.1,146.5 947.7,146.5 948.3,146.5 948.8,146.5 949.4,146.5 950,146.5 950.6,146.5 951.2,146.5 951.8,146.5 952.3,146.5 952.9,146.4 953.5,146.4 954.1,146.4 954.7,146.4 955.3,146.4 955.8,146.4 956.4,146.4 957,146.4 957.6,146.4 958.2,146.4 958.8,146.4 959.3,146.4 959.9,146.4 960.5,146.4 961.1,146.4 961.7,146.4 962.3,146.4 962.8,146.4 963.4,146.4 964,146.4 964.6,146.4 965.2,146.4 965.8,146.4 966.3,146.3 966.9,146.3 967.5,146.3 968.1,146.3 968.7,146.3 969.3,146.3 969.8,146.3 970.4,146.3 971,146.3 971.6,146.3 972.2,146.3 972.8,146.3 973.3,146.3 973.9,146.3 974.5,146.2 975.1,146.2 975.7,146.2 976.3,146.2 976.8,146.2 977.4,146.2 978,146.2 978.6,146.2 979.2,146.2 979.8,146.2 980.3,146.2 980.9,146.1 981.5,146.1 982.1,146.1 982.7,146.1 983.3,146.1 983.8,146.1 984.4,146.1 985,146.1 985.6,146 986.2,146 986.8,146 987.3,146 987.9,146 988.5,146 989.1,146 989.7,145.9 990.3,145.9 990.8,145.9 991.4,145.9 992,145.9 992.6,145.8 993.2,145.8 993.8,145.8 994.3,145.8 994.9,145.8 995.5,145.7 996.1,145.7 996.7,145.7 997.3,145.7 997.8,145.6 998.4,145.6 999,145.6 999.6,145.5 1000.2,145.5 1000.8,145.5 1001.3,145.4 1001.9,145.4 1002.5,145.4 1003.1,145.3 1003.7,145.3 1004.3,145.2 1004.8,145.2 1005.4,145.1 1006,145.1 1006.6,145 1007.2,145 1007.8,144.9 1008.3,144.9 1008.9,144.8 1009.5,144.7 1010.1,144.7 1010.7,144.6 1011.3,144.5 1011.8,144.4 1012.4,144.3 1013,144.2 1013.6,144.1 1014.2,144 1014.8,143.9 1015.3,143.8 1015.9,143.7 1016.5,143.6 1017.1,143.4 1017.7,143.3 1018.3,143.1 1018.8,142.9 1019.4,142.8 1020,142.6 1020.6,142.4 1021.2,142.1 1021.8,141.9 1022.3,141.6 1022.9,141.4 1023.5,141.1 1024.1,140.7 1024.7,140.4 1025.3,140 1025.8,139.6 1026.4,139.1 1027,138.6 1027.6,138.1 1028.2,137.5 1028.8,136.9 1029.3,136.2 1029.9,135.5 1030.5,134.7 1031.1,133.9 1031.7,133.1 1032.3,132.3 1032.8,131.5 1033.4,130.8 1034,130.2 1034.6,129.7 1035.2,129.3 1035.8,129.2 1036.3,129.3 1036.9,129.7 1037.5,130.3 1038.1,131.3 1038.7,132.4" fill="none" stroke="#6b9a3a" stroke-width="6.5" stroke-linejoin="round" stroke-linecap="round"/>
<path d="M1047.1,160 1047.7,161.1 1048.3,162 1048.8,162.7 1049.4,163.1 1049.9,163.2 1050.5,163.1 1051.1,162.9 1051.6,162.5 1052.2,161.9 1052.8,161.3 1053.3,160.6 1053.9,159.9 1054.4,159.1 1055,158.4 1055.6,157.7 1056.1,157 1056.7,156.4 1057.3,155.8 1057.8,155.2 1058.4,154.7 1058.9,154.2 1059.5,153.8 1060.1,153.4 1060.6,153 1061.2,152.6 1061.8,152.3 1062.3,152 1062.9,151.7 1063.4,151.5 1064,151.2 1064.6,151 1065.1,150.8 1065.7,150.6 1066.2,150.5 1066.8,150.3 1067.4,150.1 1067.9,150 1068.5,149.8 1069.1,149.7 1069.6,149.6 1070.2,149.5 1070.7,149.4 1071.3,149.3 1071.9,149.2 1072.4,149.1 1073,149 1073.6,148.9 1074.1,148.8 1074.7,148.8 1075.2,148.7 1075.8,148.6 1076.4,148.6 1076.9,148.5 1077.5,148.4 1078.1,148.4 1078.6,148.3 1079.2,148.3 1079.7,148.2 1080.3,148.2 1080.9,148.1 1081.4,148.1 1082,148.1 1082.6,148 1083.1,148 1083.7,147.9 1084.2,147.9 1084.8,147.9 1085.4,147.8 1085.9,147.8 1086.5,147.8 1087,147.8 1087.6,147.7 1088.2,147.7 1088.7,147.7 1089.3,147.7 1089.9,147.6 1090.4,147.6 1091,147.6 1091.5,147.6 1092.1,147.5 1092.7,147.5 1093.2,147.5 1093.8,147.5 1094.4,147.5 1094.9,147.5 1095.5,147.4 1096,147.4 1096.6,147.4 1097.2,147.4 1097.7,147.4 1098.3,147.4 1098.9,147.3 1099.4,147.3 1100,147.3 1100.5,147.3 1101.1,147.3 1101.7,147.3 1102.2,147.3 1102.8,147.3 1103.4,147.3 1103.9,147.2 1104.5,147.2 1105,147.2 1105.6,147.2 1106.2,147.2 1106.7,147.2 1107.3,147.2 1107.8,147.2 1108.4,147.2 1109,147.2 1109.5,147.1 1110.1,147.1 1110.7,147.1 1111.2,147.1 1111.8,147.1 1112.3,147.1 1112.9,147.1 1113.5,147.1 1114,147.1 1114.6,147.1 1115.2,147.1 1115.7,147.1 1116.3,147.1 1116.8,147.1 1117.4,147.1 1118,147 1118.5,147 1119.1,147 1119.7,147 1120.2,147 1120.8,147 1121.3,147 1121.9,147 1122.5,147 1123,147 1123.6,147 1124.2,147 1124.7,147 1125.3,147 1125.8,147 1126.4,147 1127,147 1127.5,147 1128.1,147 1128.6,147 1129.2,147 1129.8,147 1130.3,147 1130.9,147 1131.5,146.9 1132,146.9 1132.6,146.9 1133.1,146.9 1133.7,146.9 1134.3,146.9 1134.8,146.9 1135.4,146.9 1136,146.9 1136.5,146.9 1137.1,146.9 1137.6,146.9 1138.2,146.9 1138.8,146.9 1139.3,146.9 1139.9,146.9 1140.5,146.9 1141,146.9 1141.6,146.9 1142.1,146.9 1142.7,146.9 1143.3,146.9 1143.8,146.9 1144.4,146.9 1145,146.9 1145.5,146.9 1146.1,146.9 1146.6,146.9 1147.2,146.9 1147.8,146.9 1148.3,146.9 1148.9,146.9 1149.5,146.9 1150,146.9 1150.6,146.9 1151.1,146.9 1151.7,146.9 1152.3,146.9 1152.8,146.9 1153.4,146.9 1153.9,146.9 1154.5,146.9 1155.1,146.9 1155.6,146.8 1156.2,146.8 1156.8,146.8 1157.3,146.8 1157.9,146.8 1158.4,146.8 1159,146.8 1159.6,146.8 1160.1,146.8 1160.7,146.8 1161.3,146.8 1161.8,146.8 1162.4,146.8 1162.9,146.8 1163.5,146.8 1164.1,146.8 1164.6,146.8 1165.2,146.8 1165.8,146.8 1166.3,146.8 1166.9,146.8 1167.4,146.8 1168,146.8 1168.6,146.8 1169.1,146.8 1169.7,146.8 1170.3,146.8 1170.8,146.8 1171.4,146.8 1171.9,146.8 1172.5,146.8 1173.1,146.8 1173.6,146.8 1174.2,146.8 1174.7,146.8 1175.3,146.8 1175.9,146.8 1176.4,146.8 1177,146.8 1177.6,146.8 1178.1,146.8 1178.7,146.8 1179.2,146.8 1179.8,146.8 1180.4,146.8 1180.9,146.8 1181.5,146.8 1182.1,146.8 1182.6,146.8 1183.2,146.8 1183.7,146.8 1184.3,146.8 1184.9,146.8 1185.4,146.8 1186,146.8 1186.6,146.8 1187.1,146.8 1187.7,146.8 1188.2,146.8 1188.8,146.8 1189.4,146.8 1189.9,146.8 1190.5,146.8 1191.1,146.8 1191.6,146.8 1192.2,146.8 1192.7,146.8 1193.3,146.8" fill="none" stroke="#6b9a3a" stroke-width="6.5" stroke-linejoin="round" stroke-linecap="round"/>
<path d="M1038.7,132.4 1038.9,132.9 1039.1,133.4 1039.3,134 1039.5,134.6 1039.7,135.2 1039.9,135.8 1040.2,136.4 1040.4,137.1 1040.6,137.8 1040.8,138.5 1041,139.2 1041.2,139.9 1041.4,140.7 1041.6,141.5 1041.8,142.2 1042.1,143 1042.3,143.8 1042.5,144.6 1042.7,145.4 1042.9,146.2 1043.1,147 1043.3,147.8 1043.5,148.6 1043.8,149.4 1044,150.2 1044.2,150.9 1044.4,151.7 1044.6,152.5 1044.8,153.2 1045,153.9 1045.2,154.6 1045.4,155.3 1045.7,156 1045.9,156.6 1046.1,157.2 1046.3,157.8 1046.5,158.4 1046.7,159 1046.9,159.5 1047.1,160" fill="none" stroke="#6b9a3a" stroke-width="2.4" stroke-linejoin="round" stroke-linecap="round" stroke-dasharray="2.5 1.2"/>
</g>
<line x1="886.0" y1="147.0" x2="1192.0" y2="147.0" stroke="#000" stroke-width="2.5" stroke-dasharray="9.5,9"/>
<line x1="1037.3" y1="77.3" x2="1058.7" y2="71.0" stroke="#000" stroke-width="1.2" marker-end="url(#arrK)"/>
<line x1="1036.9" y1="100.0" x2="1007.7" y2="93.4" stroke="#000" stroke-width="1.2" marker-end="url(#arrK)"/>
<line x1="1038.2" y1="117.5" x2="1062.3" y2="113.0" stroke="#000" stroke-width="1.2" marker-end="url(#arrK)"/>
<line x1="1036.4" y1="129.5" x2="1009.5" y2="121.1" stroke="#000" stroke-width="1.2" marker-end="url(#arrK)"/>
<text x="972.7" y="38.4" font-family="Liberation Serif" font-size="12" font-weight="bold" fill="#30b898" text-anchor="start">SiC@MO-t8</text>
<text x="1044.0" y="68.9" font-family="Liberation Serif" font-size="12" font-weight="bold" fill="#4a62a4" text-anchor="start">SiC@MO-t6</text>
<text x="957.4" y="93.0" font-family="Liberation Serif" font-size="12" font-weight="bold" fill="#d98532" text-anchor="start">SiC@MO-t4</text>
<text x="1050.3" y="113.1" font-family="Liberation Serif" font-size="12" font-weight="bold" fill="#c2a236" text-anchor="start">SiC@MO-t2</text>
<text x="951.6" y="122.7" font-family="Liberation Serif" font-size="12" font-weight="bold" fill="#6b9a3a" text-anchor="start">SiC@MoO<tspan font-size="8" dy="3">3</tspan></text>
<text x="1050.8" y="141.0" font-family="Liberation Serif" font-size="13.8" font-weight="bold" fill="#000" text-anchor="start">g=2.003</text>
<text x="888.0" y="41.2" font-family="Liberation Serif" font-size="39" font-weight="bold" fill="#000" text-anchor="start">(d)</text>
<rect x="887.0" y="8.4" width="306.3" height="255.0" fill="none" stroke="#000" stroke-width="2.8"/>
<line x1="917.6" y1="263.4" x2="917.6" y2="266.4" stroke="#000" stroke-width="2.5"/>
<line x1="948.3" y1="263.4" x2="948.3" y2="267.9" stroke="#000" stroke-width="2.5"/>
<line x1="978.9" y1="263.4" x2="978.9" y2="266.4" stroke="#000" stroke-width="2.5"/>
<line x1="1009.5" y1="263.4" x2="1009.5" y2="267.9" stroke="#000" stroke-width="2.5"/>
<line x1="1040.2" y1="263.4" x2="1040.2" y2="266.4" stroke="#000" stroke-width="2.5"/>
<line x1="1070.8" y1="263.4" x2="1070.8" y2="267.9" stroke="#000" stroke-width="2.5"/>
<line x1="1101.4" y1="263.4" x2="1101.4" y2="266.4" stroke="#000" stroke-width="2.5"/>
<line x1="1132.0" y1="263.4" x2="1132.0" y2="267.9" stroke="#000" stroke-width="2.5"/>
<line x1="1162.7" y1="263.4" x2="1162.7" y2="266.4" stroke="#000" stroke-width="2.5"/>
<text x="948.3" y="285.3" font-family="Liberation Serif" font-size="17.3" font-weight="bold" fill="#000" text-anchor="middle">3480</text>
<text x="1009.5" y="285.3" font-family="Liberation Serif" font-size="17.3" font-weight="bold" fill="#000" text-anchor="middle">3500</text>
<text x="1070.8" y="285.3" font-family="Liberation Serif" font-size="17.3" font-weight="bold" fill="#000" text-anchor="middle">3520</text>
<text x="1132.0" y="285.3" font-family="Liberation Serif" font-size="17.3" font-weight="bold" fill="#000" text-anchor="middle">3540</text>
<text x="1039.8" y="311.3" font-family="Liberation Serif" font-size="21.2" font-weight="bold" fill="#000" text-anchor="middle">Magnetic Field (mT)</text>
<text x="874.5" y="136.0" font-family="Liberation Serif" font-size="21.4" font-weight="bold" fill="#000" text-anchor="middle" transform="rotate(-90 874.5 136.0)">Intensity (a.u.)</text>
<path d="M50.3,388.7 52.9,388.7 55.5,388.7 58.1,388.8 60.7,388.8 63.3,388.8 65.9,388.8 68.5,388.9 71.2,388.9 73.8,388.9 76.4,388.9 79,389 81.6,389 84.2,389 86.8,389 89.4,389 92,389.1 94.6,389.1 97.2,389.1 99.8,389.1 102.4,389.2 105,389.2 107.7,389.2 110.3,389.2 112.9,389.2 115.5,389.3 118.1,389.3 120.7,389.3 123.3,389.3 125.9,389.3 128.5,389.3 131.1,389.4 133.7,389.4 136.3,389.4 138.9,389.4 141.5,389.4 144.1,389.4 146.8,389.4 149.4,389.4 152,389.4 154.6,389.4 157.2,389.5 159.8,389.4 162.4,389.4 165,389.4 167.6,389.4 170.2,389.4 172.8,389.3 175.4,389.3 178,389.2 180.6,389.1 183.3,389 185.9,388.8 188.5,388.6 191.1,388.2 193.7,387.8 196.3,387.3 198.9,386.7 201.5,385.9 204.1,384.9 206.7,383.8 209.3,382.4 211.9,380.9 214.5,379.1 217.1,377.1 219.7,375 222.4,372.7 225,370.4 227.6,367.9 230.2,365.6 232.8,363.3 235.4,361.3 238,359.5 240.6,358.2 243.2,357.3 245.8,356.9 248.4,357.1 251,357.9 253.6,359.1 256.2,360.7 258.9,362.7 261.5,365 264.1,367.4 266.7,369.8 269.3,372.3 271.9,374.7 274.5,376.9 277.1,379 279.7,380.9 282.3,382.6 284.9,384.1 287.5,385.4 290.1,386.5 292.7,387.4 295.3,388.1 298,388.8 300.6,389.3 303.2,389.7 305.8,390 308.4,390.3 311,390.5 313.6,390.6 316.2,390.8 318.8,390.9 321.4,391 324,391.1 326.6,391.2 329.2,391.2 331.8,391.3 334.4,391.4 337.1,391.4 339.7,391.5 342.3,391.5 344.9,391.6 347.5,391.6 350.1,391.7 352.7,391.7 355.3,391.8 357.9,391.8 360.5,391.8 363.1,391.9 365.7,391.9 368.3,392 370.9,392 373.6,392 376.2,392.1 378.8,392.1 381.4,392.2 384,392.2 386.6,392.2 389.2,392.3 391.8,392.3 394.4,392.3 397,392.4 399.6,392.4 402.2,392.4 404.8,392.5 407.4,392.5 410,392.5 412.7,392.6 415.3,392.6 417.9,392.6 420.5,392.7 423.1,392.7 425.7,392.7 428.3,392.8 430.9,392.8 433.5,392.8 436.1,392.9 438.7,392.9 441.3,392.9 443.9,393 446.5,393 449.2,393 451.8,393 454.4,393.1 457,393.1 459.6,393.1 462.2,393.2 464.8,393.2 467.4,393.2 L467.4,393.3 50.3,388.8Z" fill="#f9dadc" stroke="none" fill-opacity="0.85"/>
<path d="M60.7,388.9 63.3,388.9 65.9,388.9 68.5,388.9 71.2,389 73.8,389 76.4,389 79,389 81.6,389.1 84.2,389.1 86.8,389.1 89.4,389.1 92,389.2 94.6,389.2 97.2,389.2 99.8,389.3 102.4,389.3 105,389.3 107.7,389.3 110.3,389.4 112.9,389.4 115.5,389.4 118.1,389.4 120.7,389.5 123.3,389.5 125.9,389.5 128.5,389.5 131.1,389.6 133.7,389.6 136.3,389.6 138.9,389.6 141.5,389.7 144.1,389.7 146.8,389.7 149.4,389.7 152,389.7 154.6,389.8 157.2,389.8 159.8,389.8 162.4,389.8 165,389.8 167.6,389.9 170.2,389.9 172.8,389.9 175.4,389.9 178,389.9 180.6,389.9 183.3,389.9 185.9,389.9 188.5,389.9 191.1,389.9 193.7,389.9 196.3,389.8 198.9,389.7 201.5,389.7 204.1,389.6 206.7,389.5 209.3,389.3 211.9,389.1 214.5,388.9 217.1,388.7 219.7,388.4 222.4,388 225,387.6 227.6,387.2 230.2,386.7 232.8,386.2 235.4,385.7 238,385.1 240.6,384.5 243.2,383.8 245.8,383.2 248.4,382.6 251,382 253.6,381.4 256.2,380.9 258.9,380.5 261.5,380.1 264.1,379.8 266.7,379.7 269.3,379.7 271.9,379.8 274.5,380 277.1,380.3 279.7,380.7 282.3,381.2 284.9,381.8 287.5,382.4 290.1,383 292.7,383.7 295.3,384.4 298,385.1 300.6,385.8 303.2,386.4 305.8,387 308.4,387.6 311,388.1 313.6,388.6 316.2,389 318.8,389.4 321.4,389.8 324,390.1 326.6,390.4 329.2,390.6 331.8,390.8 334.4,391 337.1,391.1 339.7,391.3 342.3,391.4 344.9,391.5 347.5,391.6 350.1,391.7 352.7,391.7 355.3,391.8 357.9,391.8 360.5,391.9 363.1,391.9 365.7,392 368.3,392 370.9,392.1 373.6,392.1 376.2,392.1 378.8,392.2 381.4,392.2 384,392.3 386.6,392.3 389.2,392.3 391.8,392.4 394.4,392.4 397,392.4 399.6,392.5 402.2,392.5 404.8,392.5 407.4,392.6 410,392.6 412.7,392.6 415.3,392.6 417.9,392.7 420.5,392.7 423.1,392.7 425.7,392.8 428.3,392.8 430.9,392.8 433.5,392.9 436.1,392.9 438.7,392.9 441.3,393 443.9,393 446.5,393 449.2,393 451.8,393.1 454.4,393.1 457,393.1 459.6,393.2 462.2,393.2 464.8,393.2 467.4,393.3 L467.4,393.3 60.7,388.9Z" fill="#f5eec8" stroke="none" fill-opacity="0.7"/>
<path d="M50.3,388.7 52.9,388.8 55.5,388.8 58.1,388.8 60.7,388.9 63.3,388.9 65.9,388.9 68.5,388.9 71.2,389 73.8,389 76.4,389 79,389 81.6,389.1 84.2,389.1 86.8,389.1 89.4,389.1 92,389.2 94.6,389.2 97.2,389.2 99.8,389.3 102.4,389.3 105,389.3 107.7,389.3 110.3,389.4 112.9,389.4 115.5,389.4 118.1,389.4 120.7,389.5 123.3,389.5 125.9,389.5 128.5,389.6 131.1,389.6 133.7,389.6 136.3,389.6 138.9,389.7 141.5,389.7 144.1,389.7 146.8,389.7 149.4,389.8 152,389.8 154.6,389.8 157.2,389.8 159.8,389.9 162.4,389.9 165,389.9 167.6,389.9 170.2,390 172.8,390 175.4,390 178,390 180.6,390.1 183.3,390.1 185.9,390.1 188.5,390.1 191.1,390.2 193.7,390.2 196.3,390.2 198.9,390.2 201.5,390.3 204.1,390.3 206.7,390.3 209.3,390.3 211.9,390.3 214.5,390.4 217.1,390.4 219.7,390.4 222.4,390.4 225,390.5 227.6,390.5 230.2,390.5 232.8,390.5 235.4,390.5 238,390.6 240.6,390.6 243.2,390.6 245.8,390.6 248.4,390.6 251,390.6 253.6,390.7 256.2,390.7 258.9,390.7 261.5,390.7 264.1,390.7 266.7,390.7 269.3,390.7 271.9,390.7 274.5,390.7 277.1,390.7 279.7,390.7 282.3,390.7 284.9,390.7 287.5,390.7 290.1,390.7 292.7,390.7 295.3,390.7 298,390.6 300.6,390.6 303.2,390.5 305.8,390.4 308.4,390.3 311,390.2 313.6,390 316.2,389.7 318.8,389.4 321.4,389 324,388.5 326.6,387.8 329.2,387 331.8,386 334.4,384.8 337.1,383.4 339.7,381.8 342.3,380 344.9,377.9 347.5,375.6 350.1,373.1 352.7,370.5 355.3,367.7 357.9,365 360.5,362.2 363.1,359.6 365.7,357.1 368.3,355 370.9,353.3 373.6,352.1 376.2,351.4 378.8,351.4 381.4,352 384,353.1 386.6,354.8 389.2,356.9 391.8,359.3 394.4,362 397,364.8 399.6,367.7 402.2,370.5 404.8,373.2 407.4,375.8 410,378.2 412.7,380.3 415.3,382.3 417.9,384 420.5,385.5 423.1,386.8 425.7,387.9 428.3,388.8 430.9,389.5 433.5,390.1 436.1,390.6 438.7,391 441.3,391.3 443.9,391.6 446.5,391.8 449.2,392 451.8,392.1 454.4,392.2 457,392.3 459.6,392.4 462.2,392.5 464.8,392.6 467.4,392.7 L467.4,393.3 50.3,388.8Z" fill="#d9e7f7" stroke="none" fill-opacity="0.85"/>
<path d="M50.3,388.7 52.9,388.7 55.5,388.7 58.1,388.8 60.7,388.8 63.3,388.8 65.9,388.9 68.5,388.9 71.2,388.9 73.8,388.9 76.4,389 79,389 81.6,389 84.2,389 86.8,389.1 89.4,389.1 92,389.1 94.6,389.1 97.2,389.2 99.8,389.2 102.4,389.2 105,389.2 107.7,389.3 110.3,389.3 112.9,389.3 115.5,389.4 118.1,389.4 120.7,389.4 123.3,389.4 125.9,389.5 128.5,389.5 131.1,389.5 133.7,389.5 136.3,389.6 138.9,389.6 141.5,389.6 144.1,389.6 146.8,389.7 149.4,389.7 152,389.7 154.6,389.7 157.2,389.8 159.8,389.8 162.4,389.8 165,389.8 167.6,389.8 170.2,389.9 172.8,389.9 175.4,389.9 178,389.9 180.6,390 183.3,390 185.9,390 188.5,390 191.1,390.1 193.7,390.1 196.3,390.1 198.9,390.1 201.5,390.1 204.1,390.2 206.7,390.2 209.3,390.2 211.9,390.2 214.5,390.2 217.1,390.3 219.7,390.3 222.4,390.3 225,390.3 227.6,390.3 230.2,390.3 232.8,390.3 235.4,390.4 238,390.4 240.6,390.4 243.2,390.4 245.8,390.4 248.4,390.4 251,390.4 253.6,390.4 256.2,390.4 258.9,390.4 261.5,390.4 264.1,390.3 266.7,390.3 269.3,390.3 271.9,390.2 274.5,390.2 277.1,390.1 279.7,390 282.3,389.9 284.9,389.8 287.5,389.7 290.1,389.6 292.7,389.4 295.3,389.2 298,389 300.6,388.8 303.2,388.6 305.8,388.3 308.4,388 311,387.6 313.6,387.3 316.2,386.8 318.8,386.4 321.4,385.9 324,385.4 326.6,384.9 329.2,384.3 331.8,383.6 334.4,383 337.1,382.3 339.7,381.6 342.3,380.8 344.9,380.1 347.5,379.3 350.1,378.5 352.7,377.7 355.3,376.9 357.9,376.1 360.5,375.3 363.1,374.5 365.7,373.7 368.3,373 370.9,372.3 373.6,371.6 376.2,371 378.8,370.5 381.4,370 384,369.7 386.6,369.4 389.2,369.2 391.8,369 394.4,369 397,369.1 399.6,369.3 402.2,369.5 404.8,369.9 407.4,370.3 410,370.8 412.7,371.4 415.3,372.1 417.9,372.8 420.5,373.5 423.1,374.3 425.7,375.1 428.3,376 430.9,376.8 433.5,377.7 436.1,378.6 438.7,379.5 441.3,380.3 443.9,381.2 446.5,382 449.2,382.8 451.8,383.5 454.4,384.3 457,385 459.6,385.7 462.2,386.3 464.8,386.9 467.4,387.5 L467.4,393.3 50.3,388.8Z" fill="#c9ecd2" stroke="none" fill-opacity="0.7"/>
<path d="M157.2,389.5 159.8,389.4 162.4,389.4 165,389.4 167.6,389.4 170.2,389.4 172.8,389.3 175.4,389.3 178,389.2 180.6,389.1 183.3,389 185.9,388.8 188.5,388.6 191.1,388.2 193.7,387.8 196.3,387.3 198.9,386.7 201.5,385.9 204.1,384.9 206.7,383.8 209.3,382.4 211.9,380.9 214.5,379.1 217.1,377.1 219.7,375 222.4,372.7 225,370.4 227.6,367.9 230.2,365.6 232.8,363.3 235.4,361.3 238,359.5 240.6,358.2 243.2,357.3 245.8,356.9 248.4,357.1 251,357.9 253.6,359.1 256.2,360.7 258.9,362.7 261.5,365 264.1,367.4 266.7,369.8 269.3,372.3 271.9,374.7 274.5,376.9 277.1,379 279.7,380.9 282.3,382.6 284.9,384.1 287.5,385.4 290.1,386.5 292.7,387.4 295.3,388.1 298,388.8 300.6,389.3 303.2,389.7 305.8,390 308.4,390.3 311,390.5 313.6,390.6 316.2,390.8 318.8,390.9 321.4,391 324,391.1 326.6,391.2 329.2,391.2 331.8,391.3 334.4,391.4" fill="none" stroke="#2f8fc0" stroke-width="1.5" stroke-linejoin="round"/>
<path d="M196.3,389.8 198.9,389.7 201.5,389.7 204.1,389.6 206.7,389.5 209.3,389.3 211.9,389.1 214.5,388.9 217.1,388.7 219.7,388.4 222.4,388 225,387.6 227.6,387.2 230.2,386.7 232.8,386.2 235.4,385.7 238,385.1 240.6,384.5 243.2,383.8 245.8,383.2 248.4,382.6 251,382 253.6,381.4 256.2,380.9 258.9,380.5 261.5,380.1 264.1,379.8 266.7,379.7 269.3,379.7 271.9,379.8 274.5,380 277.1,380.3 279.7,380.7 282.3,381.2 284.9,381.8 287.5,382.4 290.1,383 292.7,383.7 295.3,384.4 298,385.1 300.6,385.8 303.2,386.4 305.8,387 308.4,387.6 311,388.1 313.6,388.6 316.2,389 318.8,389.4 321.4,389.8 324,390.1 326.6,390.4 329.2,390.6 331.8,390.8 334.4,391 337.1,391.1 339.7,391.3 342.3,391.4" fill="none" stroke="#a04aa0" stroke-width="1.5" stroke-linejoin="round"/>
<path d="M277.1,390.7 279.7,390.7 282.3,390.7 284.9,390.7 287.5,390.7 290.1,390.7 292.7,390.7 295.3,390.7 298,390.6 300.6,390.6 303.2,390.5 305.8,390.4 308.4,390.3 311,390.2 313.6,390 316.2,389.7 318.8,389.4 321.4,389 324,388.5 326.6,387.8 329.2,387 331.8,386 334.4,384.8 337.1,383.4 339.7,381.8 342.3,380 344.9,377.9 347.5,375.6 350.1,373.1 352.7,370.5 355.3,367.7 357.9,365 360.5,362.2 363.1,359.6 365.7,357.1 368.3,355 370.9,353.3 373.6,352.1 376.2,351.4 378.8,351.4 381.4,352 384,353.1 386.6,354.8 389.2,356.9 391.8,359.3 394.4,362 397,364.8 399.6,367.7 402.2,370.5 404.8,373.2 407.4,375.8 410,378.2 412.7,380.3 415.3,382.3 417.9,384 420.5,385.5 423.1,386.8 425.7,387.9 428.3,388.8 430.9,389.5 433.5,390.1 436.1,390.6 438.7,391 441.3,391.3 443.9,391.6 446.5,391.8 449.2,392 451.8,392.1 454.4,392.2 457,392.3 459.6,392.4 462.2,392.5 464.8,392.6 467.4,392.7" fill="none" stroke="#c0559e" stroke-width="1.5" stroke-linejoin="round"/>
<path d="M245.8,390.4 248.4,390.4 251,390.4 253.6,390.4 256.2,390.4 258.9,390.4 261.5,390.4 264.1,390.3 266.7,390.3 269.3,390.3 271.9,390.2 274.5,390.2 277.1,390.1 279.7,390 282.3,389.9 284.9,389.8 287.5,389.7 290.1,389.6 292.7,389.4 295.3,389.2 298,389 300.6,388.8 303.2,388.6 305.8,388.3 308.4,388 311,387.6 313.6,387.3 316.2,386.8 318.8,386.4 321.4,385.9 324,385.4 326.6,384.9 329.2,384.3 331.8,383.6 334.4,383 337.1,382.3 339.7,381.6 342.3,380.8 344.9,380.1 347.5,379.3 350.1,378.5 352.7,377.7 355.3,376.9 357.9,376.1 360.5,375.3 363.1,374.5 365.7,373.7 368.3,373 370.9,372.3 373.6,371.6 376.2,371 378.8,370.5 381.4,370 384,369.7 386.6,369.4 389.2,369.2 391.8,369 394.4,369 397,369.1 399.6,369.3 402.2,369.5 404.8,369.9 407.4,370.3 410,370.8 412.7,371.4 415.3,372.1 417.9,372.8 420.5,373.5 423.1,374.3 425.7,375.1 428.3,376 430.9,376.8 433.5,377.7 436.1,378.6 438.7,379.5 441.3,380.3 443.9,381.2 446.5,382 449.2,382.8 451.8,383.5 454.4,384.3 457,385 459.6,385.7 462.2,386.3 464.8,386.9 467.4,387.5" fill="none" stroke="#b4a8e2" stroke-width="1.5" stroke-linejoin="round"/>
<line x1="51.0" y1="388.8" x2="466.0" y2="393.3" stroke="#f07d18" stroke-width="2.4"/>
<path fill="#ffffff" fill-opacity="0.45" stroke="#777" stroke-width="1.0" d="M48.8,388.7a3.0,3.0 0 1,0 6,0a3.0,3.0 0 1,0 -6,0M52.9,388.6a3.0,3.0 0 1,0 6,0a3.0,3.0 0 1,0 -6,0M57,388.8a3.0,3.0 0 1,0 6,0a3.0,3.0 0 1,0 -6,0M61.1,388.4a3.0,3.0 0 1,0 6,0a3.0,3.0 0 1,0 -6,0M65.2,388.5a3.0,3.0 0 1,0 6,0a3.0,3.0 0 1,0 -6,0M69.3,388.7a3.0,3.0 0 1,0 6,0a3.0,3.0 0 1,0 -6,0M73.4,388.5a3.0,3.0 0 1,0 6,0a3.0,3.0 0 1,0 -6,0M77.5,388.6a3.0,3.0 0 1,0 6,0a3.0,3.0 0 1,0 -6,0M81.6,388.8a3.0,3.0 0 1,0 6,0a3.0,3.0 0 1,0 -6,0M85.7,388.8a3.0,3.0 0 1,0 6,0a3.0,3.0 0 1,0 -6,0M89.8,389a3.0,3.0 0 1,0 6,0a3.0,3.0 0 1,0 -6,0M93.9,388.9a3.0,3.0 0 1,0 6,0a3.0,3.0 0 1,0 -6,0M98,388.9a3.0,3.0 0 1,0 6,0a3.0,3.0 0 1,0 -6,0M102.1,388.9a3.0,3.0 0 1,0 6,0a3.0,3.0 0 1,0 -6,0M106.2,389a3.0,3.0 0 1,0 6,0a3.0,3.0 0 1,0 -6,0M110.3,388.9a3.0,3.0 0 1,0 6,0a3.0,3.0 0 1,0 -6,0M114.4,388.7a3.0,3.0 0 1,0 6,0a3.0,3.0 0 1,0 -6,0M118.5,389.2a3.0,3.0 0 1,0 6,0a3.0,3.0 0 1,0 -6,0M122.6,389.1a3.0,3.0 0 1,0 6,0a3.0,3.0 0 1,0 -6,0M126.7,388.8a3.0,3.0 0 1,0 6,0a3.0,3.0 0 1,0 -6,0M130.8,388.8a3.0,3.0 0 1,0 6,0a3.0,3.0 0 1,0 -6,0M134.9,388.9a3.0,3.0 0 1,0 6,0a3.0,3.0 0 1,0 -6,0M139,389.1a3.0,3.0 0 1,0 6,0a3.0,3.0 0 1,0 -6,0M143.1,388.8a3.0,3.0 0 1,0 6,0a3.0,3.0 0 1,0 -6,0M147.2,388.7a3.0,3.0 0 1,0 6,0a3.0,3.0 0 1,0 -6,0M151.3,389a3.0,3.0 0 1,0 6,0a3.0,3.0 0 1,0 -6,0M155.4,388.7a3.0,3.0 0 1,0 6,0a3.0,3.0 0 1,0 -6,0M159.5,388.8a3.0,3.0 0 1,0 6,0a3.0,3.0 0 1,0 -6,0M163.6,388.8a3.0,3.0 0 1,0 6,0a3.0,3.0 0 1,0 -6,0M167.7,388.6a3.0,3.0 0 1,0 6,0a3.0,3.0 0 1,0 -6,0M171.8,388.4a3.0,3.0 0 1,0 6,0a3.0,3.0 0 1,0 -6,0M175.9,388.3a3.0,3.0 0 1,0 6,0a3.0,3.0 0 1,0 -6,0M180,388a3.0,3.0 0 1,0 6,0a3.0,3.0 0 1,0 -6,0M184.1,387.6a3.0,3.0 0 1,0 6,0a3.0,3.0 0 1,0 -6,0M188.2,387a3.0,3.0 0 1,0 6,0a3.0,3.0 0 1,0 -6,0M192.3,386.1a3.0,3.0 0 1,0 6,0a3.0,3.0 0 1,0 -6,0M196.4,384.8a3.0,3.0 0 1,0 6,0a3.0,3.0 0 1,0 -6,0M200.5,382.8a3.0,3.0 0 1,0 6,0a3.0,3.0 0 1,0 -6,0M204.6,381a3.0,3.0 0 1,0 6,0a3.0,3.0 0 1,0 -6,0M208.7,378a3.0,3.0 0 1,0 6,0a3.0,3.0 0 1,0 -6,0M212.8,374.5a3.0,3.0 0 1,0 6,0a3.0,3.0 0 1,0 -6,0M216.9,370.2a3.0,3.0 0 1,0 6,0a3.0,3.0 0 1,0 -6,0M221,365.9a3.0,3.0 0 1,0 6,0a3.0,3.0 0 1,0 -6,0M225.1,361.7a3.0,3.0 0 1,0 6,0a3.0,3.0 0 1,0 -6,0M229.2,357.1a3.0,3.0 0 1,0 6,0a3.0,3.0 0 1,0 -6,0M233.3,353.1a3.0,3.0 0 1,0 6,0a3.0,3.0 0 1,0 -6,0M237.4,350.4a3.0,3.0 0 1,0 6,0a3.0,3.0 0 1,0 -6,0M241.5,348.5a3.0,3.0 0 1,0 6,0a3.0,3.0 0 1,0 -6,0M245.6,347.7a3.0,3.0 0 1,0 6,0a3.0,3.0 0 1,0 -6,0M249.7,348.8a3.0,3.0 0 1,0 6,0a3.0,3.0 0 1,0 -6,0M253.8,350.8a3.0,3.0 0 1,0 6,0a3.0,3.0 0 1,0 -6,0M257.9,353.4a3.0,3.0 0 1,0 6,0a3.0,3.0 0 1,0 -6,0M262,356.9a3.0,3.0 0 1,0 6,0a3.0,3.0 0 1,0 -6,0M266.1,360.7a3.0,3.0 0 1,0 6,0a3.0,3.0 0 1,0 -6,0M270.2,364.4a3.0,3.0 0 1,0 6,0a3.0,3.0 0 1,0 -6,0M274.3,367.8a3.0,3.0 0 1,0 6,0a3.0,3.0 0 1,0 -6,0M278.4,371a3.0,3.0 0 1,0 6,0a3.0,3.0 0 1,0 -6,0M282.5,373.7a3.0,3.0 0 1,0 6,0a3.0,3.0 0 1,0 -6,0M286.6,375.9a3.0,3.0 0 1,0 6,0a3.0,3.0 0 1,0 -6,0M290.7,377.8a3.0,3.0 0 1,0 6,0a3.0,3.0 0 1,0 -6,0M294.8,379.7a3.0,3.0 0 1,0 6,0a3.0,3.0 0 1,0 -6,0M298.9,380.8a3.0,3.0 0 1,0 6,0a3.0,3.0 0 1,0 -6,0M303,381.4a3.0,3.0 0 1,0 6,0a3.0,3.0 0 1,0 -6,0M307.1,381.3a3.0,3.0 0 1,0 6,0a3.0,3.0 0 1,0 -6,0M311.2,381.5a3.0,3.0 0 1,0 6,0a3.0,3.0 0 1,0 -6,0M315.3,380.6a3.0,3.0 0 1,0 6,0a3.0,3.0 0 1,0 -6,0M319.4,379.7a3.0,3.0 0 1,0 6,0a3.0,3.0 0 1,0 -6,0M323.5,378a3.0,3.0 0 1,0 6,0a3.0,3.0 0 1,0 -6,0M327.6,376.2a3.0,3.0 0 1,0 6,0a3.0,3.0 0 1,0 -6,0M331.7,373.4a3.0,3.0 0 1,0 6,0a3.0,3.0 0 1,0 -6,0M335.8,369.9a3.0,3.0 0 1,0 6,0a3.0,3.0 0 1,0 -6,0M339.9,365.5a3.0,3.0 0 1,0 6,0a3.0,3.0 0 1,0 -6,0M344,361a3.0,3.0 0 1,0 6,0a3.0,3.0 0 1,0 -6,0M348.1,355.4a3.0,3.0 0 1,0 6,0a3.0,3.0 0 1,0 -6,0M352.2,350a3.0,3.0 0 1,0 6,0a3.0,3.0 0 1,0 -6,0M356.3,344.4a3.0,3.0 0 1,0 6,0a3.0,3.0 0 1,0 -6,0M360.4,339a3.0,3.0 0 1,0 6,0a3.0,3.0 0 1,0 -6,0M364.5,334.5a3.0,3.0 0 1,0 6,0a3.0,3.0 0 1,0 -6,0M368.6,331.1a3.0,3.0 0 1,0 6,0a3.0,3.0 0 1,0 -6,0M372.7,329.6a3.0,3.0 0 1,0 6,0a3.0,3.0 0 1,0 -6,0M376.8,329.1a3.0,3.0 0 1,0 6,0a3.0,3.0 0 1,0 -6,0M380.9,330.6a3.0,3.0 0 1,0 6,0a3.0,3.0 0 1,0 -6,0M385,333.4a3.0,3.0 0 1,0 6,0a3.0,3.0 0 1,0 -6,0M389.1,337.4a3.0,3.0 0 1,0 6,0a3.0,3.0 0 1,0 -6,0M393.2,341.9a3.0,3.0 0 1,0 6,0a3.0,3.0 0 1,0 -6,0M397.3,346.6a3.0,3.0 0 1,0 6,0a3.0,3.0 0 1,0 -6,0M401.4,351.6a3.0,3.0 0 1,0 6,0a3.0,3.0 0 1,0 -6,0M405.5,356.1a3.0,3.0 0 1,0 6,0a3.0,3.0 0 1,0 -6,0M409.6,360.1a3.0,3.0 0 1,0 6,0a3.0,3.0 0 1,0 -6,0M413.7,364.1a3.0,3.0 0 1,0 6,0a3.0,3.0 0 1,0 -6,0M417.8,367.2a3.0,3.0 0 1,0 6,0a3.0,3.0 0 1,0 -6,0M421.9,370.2a3.0,3.0 0 1,0 6,0a3.0,3.0 0 1,0 -6,0M426,372.8a3.0,3.0 0 1,0 6,0a3.0,3.0 0 1,0 -6,0M430.1,375a3.0,3.0 0 1,0 6,0a3.0,3.0 0 1,0 -6,0M434.2,377.2a3.0,3.0 0 1,0 6,0a3.0,3.0 0 1,0 -6,0M438.3,379.2a3.0,3.0 0 1,0 6,0a3.0,3.0 0 1,0 -6,0M442.4,380.7a3.0,3.0 0 1,0 6,0a3.0,3.0 0 1,0 -6,0M446.5,381.9a3.0,3.0 0 1,0 6,0a3.0,3.0 0 1,0 -6,0M450.6,383.3a3.0,3.0 0 1,0 6,0a3.0,3.0 0 1,0 -6,0M454.7,384.7a3.0,3.0 0 1,0 6,0a3.0,3.0 0 1,0 -6,0M458.8,385.7a3.0,3.0 0 1,0 6,0a3.0,3.0 0 1,0 -6,0M462.9,386.5a3.0,3.0 0 1,0 6,0a3.0,3.0 0 1,0 -6,0"/>
<path d="M50.3,388.5 52.9,388.5 55.5,388.5 58.1,388.6 60.7,388.6 63.3,388.6 65.9,388.6 68.5,388.6 71.2,388.7 73.8,388.7 76.4,388.7 79,388.7 81.6,388.7 84.2,388.8 86.8,388.8 89.4,388.8 92,388.8 94.6,388.8 97.2,388.8 99.8,388.9 102.4,388.9 105,388.9 107.7,388.9 110.3,388.9 112.9,388.9 115.5,388.9 118.1,389 120.7,389 123.3,389 125.9,389 128.5,389 131.1,389 133.7,389 136.3,389 138.9,389 141.5,389 144.1,389 146.8,389 149.4,389 152,389 154.6,389 157.2,389 159.8,389 162.4,388.9 165,388.9 167.6,388.9 170.2,388.8 172.8,388.8 175.4,388.7 178,388.6 180.6,388.4 183.3,388.3 185.9,388 188.5,387.7 191.1,387.4 193.7,386.9 196.3,386.3 198.9,385.6 201.5,384.6 204.1,383.5 206.7,382.2 209.3,380.7 211.9,378.9 214.5,376.9 217.1,374.6 219.7,372.1 222.4,369.5 225,366.7 227.6,363.8 230.2,360.9 232.8,358.1 235.4,355.4 238,353 240.6,351 243.2,349.4 245.8,348.4 248.4,347.9 251,348 253.6,348.6 256.2,349.6 258.9,351.1 261.5,352.9 264.1,354.9 266.7,357.1 269.3,359.4 271.9,361.8 274.5,364.1 277.1,366.4 279.7,368.5 282.3,370.5 284.9,372.4 287.5,374.1 290.1,375.6 292.7,377 295.3,378.1 298,379.1 300.6,379.9 303.2,380.6 305.8,381 308.4,381.4 311,381.5 313.6,381.5 316.2,381.4 318.8,381 321.4,380.5 324,379.8 326.6,378.8 329.2,377.7 331.8,376.2 334.4,374.6 337.1,372.6 339.7,370.4 342.3,367.9 344.9,365.1 347.5,362.1 350.1,358.8 352.7,355.4 355.3,351.9 357.9,348.3 360.5,344.7 363.1,341.3 365.7,338.1 368.3,335.2 370.9,332.8 373.6,331 376.2,329.7 378.8,329.1 381.4,329.3 384,330 386.6,331.4 389.2,333.3 391.8,335.6 394.4,338.2 397,341 399.6,344 402.2,347.1 404.8,350.2 407.4,353.2 410,356 412.7,358.8 415.3,361.4 417.9,363.8 420.5,366 423.1,368 425.7,369.9 428.3,371.6 430.9,373.2 433.5,374.7 436.1,376 438.7,377.3 441.3,378.4 443.9,379.5 446.5,380.5 449.2,381.5 451.8,382.4 454.4,383.2 457,384 459.6,384.7 462.2,385.4 464.8,386.1 467.4,386.7" fill="none" stroke="#3c3c3c" stroke-width="1.5" stroke-linejoin="round"/>
<path d="M50.3,464.3 52.9,464.4 55.5,464.4 58.1,464.5 60.7,464.5 63.3,464.5 65.9,464.6 68.5,464.6 71.2,464.7 73.8,464.7 76.4,464.8 79,464.8 81.6,464.8 84.2,464.9 86.8,464.9 89.4,464.9 92,465 94.6,465 97.2,465.1 99.8,465.1 102.4,465.1 105,465.2 107.7,465.2 110.3,465.2 112.9,465.3 115.5,465.3 118.1,465.3 120.7,465.3 123.3,465.4 125.9,465.4 128.5,465.4 131.1,465.4 133.7,465.5 136.3,465.5 138.9,465.5 141.5,465.5 144.1,465.5 146.8,465.5 149.4,465.4 152,465.4 154.6,465.3 157.2,465.3 159.8,465.1 162.4,464.9 165,464.7 167.6,464.4 170.2,463.9 172.8,463.4 175.4,462.7 178,461.8 180.6,460.7 183.3,459.3 185.9,457.7 188.5,455.9 191.1,453.8 193.7,451.5 196.3,449 198.9,446.3 201.5,443.5 204.1,440.6 206.7,437.9 209.3,435.3 211.9,433 214.5,431.2 217.1,429.9 219.7,429.2 222.4,429.2 225,429.8 227.6,431.1 230.2,432.9 232.8,435.2 235.4,437.8 238,440.7 240.6,443.6 243.2,446.5 245.8,449.3 248.4,452 251,454.5 253.6,456.7 256.2,458.7 258.9,460.4 261.5,461.9 264.1,463.1 266.7,464.1 269.3,465 271.9,465.7 274.5,466.2 277.1,466.7 279.7,467 282.3,467.3 284.9,467.5 287.5,467.7 290.1,467.9 292.7,468 295.3,468.1 298,468.3 300.6,468.3 303.2,468.4 305.8,468.5 308.4,468.6 311,468.7 313.6,468.8 316.2,468.8 318.8,468.9 321.4,469 324,469 326.6,469.1 329.2,469.2 331.8,469.2 334.4,469.3 337.1,469.4 339.7,469.4 342.3,469.5 344.9,469.5 347.5,469.6 350.1,469.6 352.7,469.7 355.3,469.8 357.9,469.8 360.5,469.9 363.1,469.9 365.7,470 368.3,470 370.9,470.1 373.6,470.1 376.2,470.2 378.8,470.2 381.4,470.3 384,470.4 386.6,470.4 389.2,470.5 391.8,470.5 394.4,470.6 397,470.6 399.6,470.7 402.2,470.7 404.8,470.8 407.4,470.8 410,470.9 412.7,470.9 415.3,471 417.9,471 420.5,471.1 423.1,471.1 425.7,471.2 428.3,471.2 430.9,471.3 433.5,471.3 436.1,471.4 438.7,471.4 441.3,471.5 443.9,471.5 446.5,471.6 449.2,471.6 451.8,471.7 454.4,471.7 457,471.8 459.6,471.8 462.2,471.9 464.8,471.9 467.4,472 L467.4,472 50.3,464.5Z" fill="#f9dadc" stroke="none" fill-opacity="0.85"/>
<path d="M50.3,464.4 52.9,464.5 55.5,464.5 58.1,464.6 60.7,464.6 63.3,464.7 65.9,464.7 68.5,464.7 71.2,464.8 73.8,464.8 76.4,464.9 79,464.9 81.6,465 84.2,465 86.8,465.1 89.4,465.1 92,465.2 94.6,465.2 97.2,465.2 99.8,465.3 102.4,465.3 105,465.4 107.7,465.4 110.3,465.5 112.9,465.5 115.5,465.6 118.1,465.6 120.7,465.6 123.3,465.7 125.9,465.7 128.5,465.8 131.1,465.8 133.7,465.8 136.3,465.9 138.9,465.9 141.5,466 144.1,466 146.8,466.1 149.4,466.1 152,466.1 154.6,466.2 157.2,466.2 159.8,466.2 162.4,466.3 165,466.3 167.6,466.4 170.2,466.4 172.8,466.4 175.4,466.5 178,466.5 180.6,466.5 183.3,466.5 185.9,466.6 188.5,466.6 191.1,466.6 193.7,466.6 196.3,466.6 198.9,466.6 201.5,466.6 204.1,466.5 206.7,466.4 209.3,466.3 211.9,466.2 214.5,466 217.1,465.7 219.7,465.4 222.4,464.9 225,464.4 227.6,463.7 230.2,462.9 232.8,462 235.4,461 238,459.8 240.6,458.5 243.2,457.1 245.8,455.6 248.4,454.1 251,452.6 253.6,451.1 256.2,449.7 258.9,448.5 261.5,447.5 264.1,446.9 266.7,446.5 269.3,446.5 271.9,446.8 274.5,447.5 277.1,448.5 279.7,449.7 282.3,451.1 284.9,452.6 287.5,454.2 290.1,455.9 292.7,457.4 295.3,459 298,460.4 300.6,461.7 303.2,462.9 305.8,464 308.4,464.9 311,465.7 313.6,466.4 316.2,466.9 318.8,467.4 321.4,467.8 324,468.1 326.6,468.4 329.2,468.6 331.8,468.8 334.4,468.9 337.1,469.1 339.7,469.2 342.3,469.3 344.9,469.4 347.5,469.4 350.1,469.5 352.7,469.6 355.3,469.7 357.9,469.7 360.5,469.8 363.1,469.9 365.7,469.9 368.3,470 370.9,470 373.6,470.1 376.2,470.2 378.8,470.2 381.4,470.3 384,470.3 386.6,470.4 389.2,470.4 391.8,470.5 394.4,470.5 397,470.6 399.6,470.6 402.2,470.7 404.8,470.8 407.4,470.8 410,470.9 412.7,470.9 415.3,471 417.9,471 420.5,471.1 423.1,471.1 425.7,471.2 428.3,471.2 430.9,471.3 433.5,471.3 436.1,471.4 438.7,471.4 441.3,471.5 443.9,471.5 446.5,471.6 449.2,471.6 451.8,471.7 454.4,471.7 457,471.8 459.6,471.8 462.2,471.9 464.8,471.9 467.4,472 L467.4,472 50.3,464.5Z" fill="#f5eec8" stroke="none" fill-opacity="0.7"/>
<path d="M50.3,464.4 52.9,464.4 55.5,464.5 58.1,464.5 60.7,464.6 63.3,464.6 65.9,464.7 68.5,464.7 71.2,464.8 73.8,464.8 76.4,464.9 79,464.9 81.6,464.9 84.2,465 86.8,465 89.4,465.1 92,465.1 94.6,465.2 97.2,465.2 99.8,465.3 102.4,465.3 105,465.4 107.7,465.4 110.3,465.4 112.9,465.5 115.5,465.5 118.1,465.6 120.7,465.6 123.3,465.7 125.9,465.7 128.5,465.7 131.1,465.8 133.7,465.8 136.3,465.9 138.9,465.9 141.5,466 144.1,466 146.8,466.1 149.4,466.1 152,466.1 154.6,466.2 157.2,466.2 159.8,466.3 162.4,466.3 165,466.3 167.6,466.4 170.2,466.4 172.8,466.5 175.4,466.5 178,466.5 180.6,466.6 183.3,466.6 185.9,466.7 188.5,466.7 191.1,466.7 193.7,466.8 196.3,466.8 198.9,466.9 201.5,466.9 204.1,466.9 206.7,467 209.3,467 211.9,467 214.5,467.1 217.1,467.1 219.7,467.1 222.4,467.1 225,467.2 227.6,467.2 230.2,467.2 232.8,467.3 235.4,467.3 238,467.3 240.6,467.3 243.2,467.3 245.8,467.4 248.4,467.4 251,467.4 253.6,467.4 256.2,467.4 258.9,467.4 261.5,467.4 264.1,467.4 266.7,467.3 269.3,467.3 271.9,467.2 274.5,467.1 277.1,467 279.7,466.8 282.3,466.6 284.9,466.3 287.5,465.9 290.1,465.5 292.7,464.9 295.3,464.1 298,463.2 300.6,462.1 303.2,460.8 305.8,459.2 308.4,457.4 311,455.3 313.6,452.9 316.2,450.3 318.8,447.4 321.4,444.4 324,441.2 326.6,437.9 329.2,434.6 331.8,431.3 334.4,428.2 337.1,425.4 339.7,423 342.3,421 344.9,419.7 347.5,419 350.1,419 352.7,419.7 355.3,421.1 357.9,423 360.5,425.5 363.1,428.4 365.7,431.5 368.3,434.9 370.9,438.3 373.6,441.7 376.2,445 378.8,448.2 381.4,451.1 384,453.9 386.6,456.4 389.2,458.6 391.8,460.5 394.4,462.2 397,463.7 399.6,464.9 402.2,465.9 404.8,466.8 407.4,467.5 410,468.1 412.7,468.6 415.3,469 417.9,469.3 420.5,469.6 423.1,469.8 425.7,470 428.3,470.1 430.9,470.3 433.5,470.4 436.1,470.5 438.7,470.6 441.3,470.7 443.9,470.8 446.5,470.9 449.2,471 451.8,471.1 454.4,471.2 457,471.2 459.6,471.3 462.2,471.4 464.8,471.4 467.4,471.5 L467.4,472 50.3,464.5Z" fill="#d9e7f7" stroke="none" fill-opacity="0.85"/>
<path d="M68.5,464.8 71.2,464.8 73.8,464.9 76.4,464.9 79,465 81.6,465 84.2,465 86.8,465.1 89.4,465.1 92,465.2 94.6,465.2 97.2,465.3 99.8,465.3 102.4,465.4 105,465.4 107.7,465.5 110.3,465.5 112.9,465.6 115.5,465.6 118.1,465.6 120.7,465.7 123.3,465.7 125.9,465.8 128.5,465.8 131.1,465.9 133.7,465.9 136.3,466 138.9,466 141.5,466.1 144.1,466.1 146.8,466.1 149.4,466.2 152,466.2 154.6,466.3 157.2,466.3 159.8,466.4 162.4,466.4 165,466.5 167.6,466.5 170.2,466.5 172.8,466.6 175.4,466.6 178,466.7 180.6,466.7 183.3,466.8 185.9,466.8 188.5,466.9 191.1,466.9 193.7,466.9 196.3,467 198.9,467 201.5,467.1 204.1,467.1 206.7,467.2 209.3,467.2 211.9,467.3 214.5,467.3 217.1,467.3 219.7,467.4 222.4,467.4 225,467.5 227.6,467.5 230.2,467.5 232.8,467.6 235.4,467.6 238,467.7 240.6,467.7 243.2,467.7 245.8,467.8 248.4,467.8 251,467.9 253.6,467.9 256.2,467.9 258.9,468 261.5,468 264.1,468.1 266.7,468.1 269.3,468.1 271.9,468.2 274.5,468.2 277.1,468.2 279.7,468.3 282.3,468.3 284.9,468.3 287.5,468.3 290.1,468.4 292.7,468.4 295.3,468.4 298,468.4 300.6,468.5 303.2,468.5 305.8,468.5 308.4,468.5 311,468.5 313.6,468.4 316.2,468.4 318.8,468.4 321.4,468.3 324,468.2 326.6,468 329.2,467.9 331.8,467.6 334.4,467.3 337.1,467 339.7,466.5 342.3,466 344.9,465.3 347.5,464.6 350.1,463.6 352.7,462.6 355.3,461.4 357.9,460.1 360.5,458.6 363.1,457 365.7,455.3 368.3,453.5 370.9,451.6 373.6,449.7 376.2,447.8 378.8,445.9 381.4,444.2 384,442.6 386.6,441.2 389.2,440.1 391.8,439.3 394.4,438.8 397,438.8 399.6,439.1 402.2,439.8 404.8,440.8 407.4,442.1 410,443.7 412.7,445.4 415.3,447.3 417.9,449.3 420.5,451.3 423.1,453.3 425.7,455.3 428.3,457.1 430.9,458.9 433.5,460.6 436.1,462.1 438.7,463.4 441.3,464.7 443.9,465.7 446.5,466.7 449.2,467.5 451.8,468.2 454.4,468.8 457,469.3 459.6,469.7 462.2,470.1 464.8,470.4 467.4,470.7 L467.4,472 68.5,464.8Z" fill="#c9ecd2" stroke="none" fill-opacity="0.7"/>
<path d="M131.1,465.4 133.7,465.5 136.3,465.5 138.9,465.5 141.5,465.5 144.1,465.5 146.8,465.5 149.4,465.4 152,465.4 154.6,465.3 157.2,465.3 159.8,465.1 162.4,464.9 165,464.7 167.6,464.4 170.2,463.9 172.8,463.4 175.4,462.7 178,461.8 180.6,460.7 183.3,459.3 185.9,457.7 188.5,455.9 191.1,453.8 193.7,451.5 196.3,449 198.9,446.3 201.5,443.5 204.1,440.6 206.7,437.9 209.3,435.3 211.9,433 214.5,431.2 217.1,429.9 219.7,429.2 222.4,429.2 225,429.8 227.6,431.1 230.2,432.9 232.8,435.2 235.4,437.8 238,440.7 240.6,443.6 243.2,446.5 245.8,449.3 248.4,452 251,454.5 253.6,456.7 256.2,458.7 258.9,460.4 261.5,461.9 264.1,463.1 266.7,464.1 269.3,465 271.9,465.7 274.5,466.2 277.1,466.7 279.7,467 282.3,467.3 284.9,467.5 287.5,467.7 290.1,467.9 292.7,468 295.3,468.1 298,468.3 300.6,468.3 303.2,468.4 305.8,468.5 308.4,468.6 311,468.7" fill="none" stroke="#2f8fc0" stroke-width="1.5" stroke-linejoin="round"/>
<path d="M196.3,466.6 198.9,466.6 201.5,466.6 204.1,466.5 206.7,466.4 209.3,466.3 211.9,466.2 214.5,466 217.1,465.7 219.7,465.4 222.4,464.9 225,464.4 227.6,463.7 230.2,462.9 232.8,462 235.4,461 238,459.8 240.6,458.5 243.2,457.1 245.8,455.6 248.4,454.1 251,452.6 253.6,451.1 256.2,449.7 258.9,448.5 261.5,447.5 264.1,446.9 266.7,446.5 269.3,446.5 271.9,446.8 274.5,447.5 277.1,448.5 279.7,449.7 282.3,451.1 284.9,452.6 287.5,454.2 290.1,455.9 292.7,457.4 295.3,459 298,460.4 300.6,461.7 303.2,462.9 305.8,464 308.4,464.9 311,465.7 313.6,466.4 316.2,466.9 318.8,467.4 321.4,467.8 324,468.1 326.6,468.4 329.2,468.6 331.8,468.8 334.4,468.9 337.1,469.1 339.7,469.2" fill="none" stroke="#a04aa0" stroke-width="1.5" stroke-linejoin="round"/>
<path d="M230.2,467.2 232.8,467.3 235.4,467.3 238,467.3 240.6,467.3 243.2,467.3 245.8,467.4 248.4,467.4 251,467.4 253.6,467.4 256.2,467.4 258.9,467.4 261.5,467.4 264.1,467.4 266.7,467.3 269.3,467.3 271.9,467.2 274.5,467.1 277.1,467 279.7,466.8 282.3,466.6 284.9,466.3 287.5,465.9 290.1,465.5 292.7,464.9 295.3,464.1 298,463.2 300.6,462.1 303.2,460.8 305.8,459.2 308.4,457.4 311,455.3 313.6,452.9 316.2,450.3 318.8,447.4 321.4,444.4 324,441.2 326.6,437.9 329.2,434.6 331.8,431.3 334.4,428.2 337.1,425.4 339.7,423 342.3,421 344.9,419.7 347.5,419 350.1,419 352.7,419.7 355.3,421.1 357.9,423 360.5,425.5 363.1,428.4 365.7,431.5 368.3,434.9 370.9,438.3 373.6,441.7 376.2,445 378.8,448.2 381.4,451.1 384,453.9 386.6,456.4 389.2,458.6 391.8,460.5 394.4,462.2 397,463.7 399.6,464.9 402.2,465.9 404.8,466.8 407.4,467.5 410,468.1 412.7,468.6 415.3,469 417.9,469.3 420.5,469.6 423.1,469.8 425.7,470 428.3,470.1 430.9,470.3 433.5,470.4 436.1,470.5 438.7,470.6 441.3,470.7 443.9,470.8 446.5,470.9 449.2,471 451.8,471.1 454.4,471.2 457,471.2 459.6,471.3 462.2,471.4 464.8,471.4 467.4,471.5" fill="none" stroke="#c0559e" stroke-width="1.5" stroke-linejoin="round"/>
<path d="M298,468.4 300.6,468.5 303.2,468.5 305.8,468.5 308.4,468.5 311,468.5 313.6,468.4 316.2,468.4 318.8,468.4 321.4,468.3 324,468.2 326.6,468 329.2,467.9 331.8,467.6 334.4,467.3 337.1,467 339.7,466.5 342.3,466 344.9,465.3 347.5,464.6 350.1,463.6 352.7,462.6 355.3,461.4 357.9,460.1 360.5,458.6 363.1,457 365.7,455.3 368.3,453.5 370.9,451.6 373.6,449.7 376.2,447.8 378.8,445.9 381.4,444.2 384,442.6 386.6,441.2 389.2,440.1 391.8,439.3 394.4,438.8 397,438.8 399.6,439.1 402.2,439.8 404.8,440.8 407.4,442.1 410,443.7 412.7,445.4 415.3,447.3 417.9,449.3 420.5,451.3 423.1,453.3 425.7,455.3 428.3,457.1 430.9,458.9 433.5,460.6 436.1,462.1 438.7,463.4 441.3,464.7 443.9,465.7 446.5,466.7 449.2,467.5 451.8,468.2 454.4,468.8 457,469.3 459.6,469.7 462.2,470.1 464.8,470.4 467.4,470.7" fill="none" stroke="#b4a8e2" stroke-width="1.5" stroke-linejoin="round"/>
<line x1="51.0" y1="464.5" x2="466.0" y2="472.0" stroke="#f07d18" stroke-width="2.4"/>
<path fill="#ffffff" fill-opacity="0.45" stroke="#777" stroke-width="1.0" d="M48.8,464.1a3.0,3.0 0 1,0 6,0a3.0,3.0 0 1,0 -6,0M52.9,464.3a3.0,3.0 0 1,0 6,0a3.0,3.0 0 1,0 -6,0M57,464a3.0,3.0 0 1,0 6,0a3.0,3.0 0 1,0 -6,0M61.1,464.1a3.0,3.0 0 1,0 6,0a3.0,3.0 0 1,0 -6,0M65.2,464.6a3.0,3.0 0 1,0 6,0a3.0,3.0 0 1,0 -6,0M69.3,464.1a3.0,3.0 0 1,0 6,0a3.0,3.0 0 1,0 -6,0M73.4,464.5a3.0,3.0 0 1,0 6,0a3.0,3.0 0 1,0 -6,0M77.5,464.3a3.0,3.0 0 1,0 6,0a3.0,3.0 0 1,0 -6,0M81.6,464.6a3.0,3.0 0 1,0 6,0a3.0,3.0 0 1,0 -6,0M85.7,464.5a3.0,3.0 0 1,0 6,0a3.0,3.0 0 1,0 -6,0M89.8,464.8a3.0,3.0 0 1,0 6,0a3.0,3.0 0 1,0 -6,0M93.9,464.5a3.0,3.0 0 1,0 6,0a3.0,3.0 0 1,0 -6,0M98,464.9a3.0,3.0 0 1,0 6,0a3.0,3.0 0 1,0 -6,0M102.1,464.6a3.0,3.0 0 1,0 6,0a3.0,3.0 0 1,0 -6,0M106.2,464.5a3.0,3.0 0 1,0 6,0a3.0,3.0 0 1,0 -6,0M110.3,464.6a3.0,3.0 0 1,0 6,0a3.0,3.0 0 1,0 -6,0M114.4,464.6a3.0,3.0 0 1,0 6,0a3.0,3.0 0 1,0 -6,0M118.5,464.7a3.0,3.0 0 1,0 6,0a3.0,3.0 0 1,0 -6,0M122.6,465a3.0,3.0 0 1,0 6,0a3.0,3.0 0 1,0 -6,0M126.7,464.7a3.0,3.0 0 1,0 6,0a3.0,3.0 0 1,0 -6,0M130.8,464.8a3.0,3.0 0 1,0 6,0a3.0,3.0 0 1,0 -6,0M134.9,464.3a3.0,3.0 0 1,0 6,0a3.0,3.0 0 1,0 -6,0M139,464.4a3.0,3.0 0 1,0 6,0a3.0,3.0 0 1,0 -6,0M143.1,464.1a3.0,3.0 0 1,0 6,0a3.0,3.0 0 1,0 -6,0M147.2,463.5a3.0,3.0 0 1,0 6,0a3.0,3.0 0 1,0 -6,0M151.3,463.3a3.0,3.0 0 1,0 6,0a3.0,3.0 0 1,0 -6,0M155.4,462.5a3.0,3.0 0 1,0 6,0a3.0,3.0 0 1,0 -6,0M159.5,461.7a3.0,3.0 0 1,0 6,0a3.0,3.0 0 1,0 -6,0M163.6,460.9a3.0,3.0 0 1,0 6,0a3.0,3.0 0 1,0 -6,0M167.7,459.6a3.0,3.0 0 1,0 6,0a3.0,3.0 0 1,0 -6,0M171.8,457.9a3.0,3.0 0 1,0 6,0a3.0,3.0 0 1,0 -6,0M175.9,456.2a3.0,3.0 0 1,0 6,0a3.0,3.0 0 1,0 -6,0M180,454.1a3.0,3.0 0 1,0 6,0a3.0,3.0 0 1,0 -6,0M184.1,451.7a3.0,3.0 0 1,0 6,0a3.0,3.0 0 1,0 -6,0M188.2,448.8a3.0,3.0 0 1,0 6,0a3.0,3.0 0 1,0 -6,0M192.3,445.4a3.0,3.0 0 1,0 6,0a3.0,3.0 0 1,0 -6,0M196.4,441.4a3.0,3.0 0 1,0 6,0a3.0,3.0 0 1,0 -6,0M200.5,437a3.0,3.0 0 1,0 6,0a3.0,3.0 0 1,0 -6,0M204.6,432.5a3.0,3.0 0 1,0 6,0a3.0,3.0 0 1,0 -6,0M208.7,429.2a3.0,3.0 0 1,0 6,0a3.0,3.0 0 1,0 -6,0M212.8,426.3a3.0,3.0 0 1,0 6,0a3.0,3.0 0 1,0 -6,0M216.9,424.6a3.0,3.0 0 1,0 6,0a3.0,3.0 0 1,0 -6,0M221,424.6a3.0,3.0 0 1,0 6,0a3.0,3.0 0 1,0 -6,0M225.1,425.5a3.0,3.0 0 1,0 6,0a3.0,3.0 0 1,0 -6,0M229.2,427.1a3.0,3.0 0 1,0 6,0a3.0,3.0 0 1,0 -6,0M233.3,429.4a3.0,3.0 0 1,0 6,0a3.0,3.0 0 1,0 -6,0M237.4,431.6a3.0,3.0 0 1,0 6,0a3.0,3.0 0 1,0 -6,0M241.5,433.7a3.0,3.0 0 1,0 6,0a3.0,3.0 0 1,0 -6,0M245.6,435.1a3.0,3.0 0 1,0 6,0a3.0,3.0 0 1,0 -6,0M249.7,436.2a3.0,3.0 0 1,0 6,0a3.0,3.0 0 1,0 -6,0M253.8,436.3a3.0,3.0 0 1,0 6,0a3.0,3.0 0 1,0 -6,0M257.9,436.7a3.0,3.0 0 1,0 6,0a3.0,3.0 0 1,0 -6,0M262,437.7a3.0,3.0 0 1,0 6,0a3.0,3.0 0 1,0 -6,0M266.1,438.2a3.0,3.0 0 1,0 6,0a3.0,3.0 0 1,0 -6,0M270.2,439.5a3.0,3.0 0 1,0 6,0a3.0,3.0 0 1,0 -6,0M274.3,441.4a3.0,3.0 0 1,0 6,0a3.0,3.0 0 1,0 -6,0M278.4,442.9a3.0,3.0 0 1,0 6,0a3.0,3.0 0 1,0 -6,0M282.5,445.2a3.0,3.0 0 1,0 6,0a3.0,3.0 0 1,0 -6,0M286.6,446.9a3.0,3.0 0 1,0 6,0a3.0,3.0 0 1,0 -6,0M290.7,448a3.0,3.0 0 1,0 6,0a3.0,3.0 0 1,0 -6,0M294.8,448.5a3.0,3.0 0 1,0 6,0a3.0,3.0 0 1,0 -6,0M298.9,448a3.0,3.0 0 1,0 6,0a3.0,3.0 0 1,0 -6,0M303,447.1a3.0,3.0 0 1,0 6,0a3.0,3.0 0 1,0 -6,0M307.1,445.1a3.0,3.0 0 1,0 6,0a3.0,3.0 0 1,0 -6,0M311.2,442a3.0,3.0 0 1,0 6,0a3.0,3.0 0 1,0 -6,0M315.3,438a3.0,3.0 0 1,0 6,0a3.0,3.0 0 1,0 -6,0M319.4,433.1a3.0,3.0 0 1,0 6,0a3.0,3.0 0 1,0 -6,0M323.5,428a3.0,3.0 0 1,0 6,0a3.0,3.0 0 1,0 -6,0M327.6,422.9a3.0,3.0 0 1,0 6,0a3.0,3.0 0 1,0 -6,0M331.7,417.4a3.0,3.0 0 1,0 6,0a3.0,3.0 0 1,0 -6,0M335.8,412.8a3.0,3.0 0 1,0 6,0a3.0,3.0 0 1,0 -6,0M339.9,409.2a3.0,3.0 0 1,0 6,0a3.0,3.0 0 1,0 -6,0M344,407a3.0,3.0 0 1,0 6,0a3.0,3.0 0 1,0 -6,0M348.1,405.8a3.0,3.0 0 1,0 6,0a3.0,3.0 0 1,0 -6,0M352.2,405.9a3.0,3.0 0 1,0 6,0a3.0,3.0 0 1,0 -6,0M356.3,407.4a3.0,3.0 0 1,0 6,0a3.0,3.0 0 1,0 -6,0M360.4,409.1a3.0,3.0 0 1,0 6,0a3.0,3.0 0 1,0 -6,0M364.5,411.1a3.0,3.0 0 1,0 6,0a3.0,3.0 0 1,0 -6,0M368.6,413.5a3.0,3.0 0 1,0 6,0a3.0,3.0 0 1,0 -6,0M372.7,415.7a3.0,3.0 0 1,0 6,0a3.0,3.0 0 1,0 -6,0M376.8,417.4a3.0,3.0 0 1,0 6,0a3.0,3.0 0 1,0 -6,0M380.9,419.3a3.0,3.0 0 1,0 6,0a3.0,3.0 0 1,0 -6,0M385,421.2a3.0,3.0 0 1,0 6,0a3.0,3.0 0 1,0 -6,0M389.1,423.5a3.0,3.0 0 1,0 6,0a3.0,3.0 0 1,0 -6,0M393.2,425.8a3.0,3.0 0 1,0 6,0a3.0,3.0 0 1,0 -6,0M397.3,428.6a3.0,3.0 0 1,0 6,0a3.0,3.0 0 1,0 -6,0M401.4,432.2a3.0,3.0 0 1,0 6,0a3.0,3.0 0 1,0 -6,0M405.5,435.8a3.0,3.0 0 1,0 6,0a3.0,3.0 0 1,0 -6,0M409.6,439.9a3.0,3.0 0 1,0 6,0a3.0,3.0 0 1,0 -6,0M413.7,444.1a3.0,3.0 0 1,0 6,0a3.0,3.0 0 1,0 -6,0M417.8,447.7a3.0,3.0 0 1,0 6,0a3.0,3.0 0 1,0 -6,0M421.9,451.7a3.0,3.0 0 1,0 6,0a3.0,3.0 0 1,0 -6,0M426,455a3.0,3.0 0 1,0 6,0a3.0,3.0 0 1,0 -6,0M430.1,458.2a3.0,3.0 0 1,0 6,0a3.0,3.0 0 1,0 -6,0M434.2,460.9a3.0,3.0 0 1,0 6,0a3.0,3.0 0 1,0 -6,0M438.3,462.9a3.0,3.0 0 1,0 6,0a3.0,3.0 0 1,0 -6,0M442.4,464.8a3.0,3.0 0 1,0 6,0a3.0,3.0 0 1,0 -6,0M446.5,466.1a3.0,3.0 0 1,0 6,0a3.0,3.0 0 1,0 -6,0M450.6,467.2a3.0,3.0 0 1,0 6,0a3.0,3.0 0 1,0 -6,0M454.7,468.2a3.0,3.0 0 1,0 6,0a3.0,3.0 0 1,0 -6,0M458.8,468.9a3.0,3.0 0 1,0 6,0a3.0,3.0 0 1,0 -6,0M462.9,469.3a3.0,3.0 0 1,0 6,0a3.0,3.0 0 1,0 -6,0"/>
<path d="M50.3,464.1 52.9,464.1 55.5,464.1 58.1,464.2 60.7,464.2 63.3,464.3 65.9,464.3 68.5,464.3 71.2,464.4 73.8,464.4 76.4,464.4 79,464.5 81.6,464.5 84.2,464.5 86.8,464.5 89.4,464.6 92,464.6 94.6,464.6 97.2,464.7 99.8,464.7 102.4,464.7 105,464.7 107.7,464.7 110.3,464.8 112.9,464.8 115.5,464.8 118.1,464.8 120.7,464.8 123.3,464.8 125.9,464.8 128.5,464.8 131.1,464.8 133.7,464.7 136.3,464.7 138.9,464.6 141.5,464.5 144.1,464.3 146.8,464.1 149.4,463.9 152,463.7 154.6,463.3 157.2,463 159.8,462.5 162.4,462 165,461.4 167.6,460.8 170.2,460 172.8,459.2 175.4,458.3 178,457.3 180.6,456.1 183.3,454.8 185.9,453.3 188.5,451.6 191.1,449.7 193.7,447.5 196.3,445.2 198.9,442.7 201.5,440 204.1,437.3 206.7,434.6 209.3,432 211.9,429.6 214.5,427.6 217.1,426 219.7,424.9 222.4,424.4 225,424.4 227.6,424.9 230.2,425.9 232.8,427.1 235.4,428.5 238,429.9 240.6,431.4 243.2,432.7 245.8,433.8 248.4,434.8 251,435.5 253.6,436 256.2,436.4 258.9,436.7 261.5,436.9 264.1,437.2 266.7,437.6 269.3,438.1 271.9,438.8 274.5,439.7 277.1,440.7 279.7,441.9 282.3,443.1 284.9,444.3 287.5,445.5 290.1,446.6 292.7,447.4 295.3,448.1 298,448.5 300.6,448.5 303.2,448.3 305.8,447.6 308.4,446.5 311,445.1 313.6,443.3 316.2,441.1 318.8,438.5 321.4,435.6 324,432.5 326.6,429.3 329.2,425.9 331.8,422.5 334.4,419.2 337.1,416 339.7,413.1 342.3,410.6 344.9,408.6 347.5,407.1 350.1,406.1 352.7,405.7 355.3,405.8 357.9,406.4 360.5,407.3 363.1,408.4 365.7,409.8 368.3,411.2 370.9,412.6 373.6,414 376.2,415.3 378.8,416.6 381.4,417.8 384,418.9 386.6,420.1 389.2,421.3 391.8,422.6 394.4,424 397,425.6 399.6,427.5 402.2,429.5 404.8,431.6 407.4,434 410,436.5 412.7,439 415.3,441.6 417.9,444.2 420.5,446.7 423.1,449.2 425.7,451.5 428.3,453.7 430.9,455.8 433.5,457.7 436.1,459.5 438.7,461.1 441.3,462.5 443.9,463.7 446.5,464.8 449.2,465.8 451.8,466.6 454.4,467.3 457,467.9 459.6,468.4 462.2,468.9 464.8,469.2 467.4,469.5" fill="none" stroke="#3c3c3c" stroke-width="1.5" stroke-linejoin="round"/>
<path d="M50.3,546.8 52.9,546.8 55.5,546.8 58.1,546.8 60.7,546.8 63.3,546.8 65.9,546.9 68.5,546.9 71.2,546.9 73.8,546.9 76.4,546.9 79,546.9 81.6,546.9 84.2,546.9 86.8,546.9 89.4,546.9 92,546.9 94.6,546.9 97.2,546.9 99.8,546.9 102.4,546.9 105,546.9 107.7,546.9 110.3,546.9 112.9,546.9 115.5,546.9 118.1,546.9 120.7,546.9 123.3,546.8 125.9,546.8 128.5,546.8 131.1,546.7 133.7,546.6 136.3,546.6 138.9,546.4 141.5,546.3 144.1,546.1 146.8,545.9 149.4,545.6 152,545.3 154.6,544.9 157.2,544.4 159.8,543.9 162.4,543.2 165,542.4 167.6,541.5 170.2,540.5 172.8,539.3 175.4,538 178,536.6 180.6,535.1 183.3,533.4 185.9,531.7 188.5,529.9 191.1,528.1 193.7,526.3 196.3,524.5 198.9,522.8 201.5,521.3 204.1,519.9 206.7,518.8 209.3,517.9 211.9,517.3 214.5,517.1 217.1,517.2 219.7,517.7 222.4,518.5 225,519.6 227.6,520.9 230.2,522.4 232.8,524.1 235.4,525.8 238,527.7 240.6,529.5 243.2,531.4 245.8,533.2 248.4,534.9 251,536.5 253.6,538 256.2,539.4 258.9,540.6 261.5,541.7 264.1,542.7 266.7,543.6 269.3,544.3 271.9,545 274.5,545.5 277.1,546 279.7,546.4 282.3,546.7 284.9,547 287.5,547.2 290.1,547.4 292.7,547.6 295.3,547.7 298,547.8 300.6,547.9 303.2,548 305.8,548.1 308.4,548.1 311,548.2 313.6,548.2 316.2,548.3 318.8,548.3 321.4,548.4 324,548.4 326.6,548.4 329.2,548.5 331.8,548.5 334.4,548.5 337.1,548.6 339.7,548.6 342.3,548.6 344.9,548.7 347.5,548.7 350.1,548.7 352.7,548.8 355.3,548.8 357.9,548.8 360.5,548.8 363.1,548.9 365.7,548.9 368.3,548.9 370.9,548.9 373.6,549 376.2,549 378.8,549 381.4,549 384,549.1 386.6,549.1 389.2,549.1 391.8,549.1 394.4,549.1 397,549.2 399.6,549.2 402.2,549.2 404.8,549.2 407.4,549.3 410,549.3 412.7,549.3 415.3,549.3 417.9,549.3 420.5,549.4 423.1,549.4 425.7,549.4 428.3,549.4 430.9,549.4 433.5,549.5 436.1,549.5 438.7,549.5 441.3,549.5 443.9,549.5 446.5,549.6 449.2,549.6 451.8,549.6 454.4,549.6 457,549.6 459.6,549.7 462.2,549.7 464.8,549.7 467.4,549.7 L467.4,549.8 50.3,547Z" fill="#f9dadc" stroke="none" fill-opacity="0.85"/>
<path d="M50.3,546.9 52.9,546.9 55.5,546.9 58.1,546.9 60.7,546.9 63.3,547 65.9,547 68.5,547 71.2,547 73.8,547 76.4,547 79,547.1 81.6,547.1 84.2,547.1 86.8,547.1 89.4,547.1 92,547.1 94.6,547.1 97.2,547.2 99.8,547.2 102.4,547.2 105,547.2 107.7,547.2 110.3,547.2 112.9,547.2 115.5,547.3 118.1,547.3 120.7,547.3 123.3,547.3 125.9,547.3 128.5,547.3 131.1,547.3 133.7,547.3 136.3,547.4 138.9,547.4 141.5,547.4 144.1,547.4 146.8,547.4 149.4,547.4 152,547.4 154.6,547.4 157.2,547.5 159.8,547.5 162.4,547.5 165,547.5 167.6,547.5 170.2,547.5 172.8,547.5 175.4,547.5 178,547.5 180.6,547.5 183.3,547.5 185.9,547.5 188.5,547.6 191.1,547.6 193.7,547.6 196.3,547.6 198.9,547.6 201.5,547.6 204.1,547.6 206.7,547.6 209.3,547.6 211.9,547.6 214.5,547.6 217.1,547.6 219.7,547.6 222.4,547.6 225,547.6 227.6,547.6 230.2,547.6 232.8,547.5 235.4,547.5 238,547.5 240.6,547.5 243.2,547.5 245.8,547.4 248.4,547.4 251,547.4 253.6,547.3 256.2,547.3 258.9,547.2 261.5,547.1 264.1,547 266.7,546.9 269.3,546.7 271.9,546.6 274.5,546.3 277.1,546 279.7,545.7 282.3,545.2 284.9,544.7 287.5,544.1 290.1,543.3 292.7,542.4 295.3,541.3 298,540.1 300.6,538.7 303.2,537.1 305.8,535.3 308.4,533.3 311,531.1 313.6,528.7 316.2,526.1 318.8,523.4 321.4,520.5 324,517.6 326.6,514.6 329.2,511.7 331.8,508.8 334.4,506.1 337.1,503.7 339.7,501.5 342.3,499.7 344.9,498.3 347.5,497.4 350.1,497 352.7,497.2 355.3,497.9 357.9,499.1 360.5,500.8 363.1,502.9 365.7,505.3 368.3,508 370.9,510.8 373.6,513.8 376.2,516.8 378.8,519.7 381.4,522.7 384,525.5 386.6,528.2 389.2,530.7 391.8,533 394.4,535.1 397,537 399.6,538.8 402.2,540.3 404.8,541.6 407.4,542.8 410,543.8 412.7,544.6 415.3,545.3 417.9,545.9 420.5,546.4 423.1,546.9 425.7,547.2 428.3,547.5 430.9,547.8 433.5,548 436.1,548.1 438.7,548.3 441.3,548.4 443.9,548.5 446.5,548.6 449.2,548.7 451.8,548.8 454.4,548.8 457,548.9 459.6,549 462.2,549 464.8,549.1 467.4,549.1 L467.4,549.8 50.3,547Z" fill="#d9e7f7" stroke="none" fill-opacity="0.7"/>
<path d="M112.9,546.9 115.5,546.9 118.1,546.9 120.7,546.9 123.3,546.8 125.9,546.8 128.5,546.8 131.1,546.7 133.7,546.6 136.3,546.6 138.9,546.4 141.5,546.3 144.1,546.1 146.8,545.9 149.4,545.6 152,545.3 154.6,544.9 157.2,544.4 159.8,543.9 162.4,543.2 165,542.4 167.6,541.5 170.2,540.5 172.8,539.3 175.4,538 178,536.6 180.6,535.1 183.3,533.4 185.9,531.7 188.5,529.9 191.1,528.1 193.7,526.3 196.3,524.5 198.9,522.8 201.5,521.3 204.1,519.9 206.7,518.8 209.3,517.9 211.9,517.3 214.5,517.1 217.1,517.2 219.7,517.7 222.4,518.5 225,519.6 227.6,520.9 230.2,522.4 232.8,524.1 235.4,525.8 238,527.7 240.6,529.5 243.2,531.4 245.8,533.2 248.4,534.9 251,536.5 253.6,538 256.2,539.4 258.9,540.6 261.5,541.7 264.1,542.7 266.7,543.6 269.3,544.3 271.9,545 274.5,545.5 277.1,546 279.7,546.4 282.3,546.7 284.9,547 287.5,547.2 290.1,547.4 292.7,547.6 295.3,547.7 298,547.8 300.6,547.9 303.2,548 305.8,548.1 308.4,548.1 311,548.2 313.6,548.2 316.2,548.3" fill="none" stroke="#2f8fc0" stroke-width="1.5" stroke-linejoin="round"/>
<path d="M219.7,547.6 222.4,547.5 225,547.3 227.6,547.2 230.2,547.1 232.8,546.9 235.4,546.7 238,546.5 240.6,546.2 243.2,546 245.8,545.7 248.4,545.5 251,545.3 253.6,545 256.2,544.8 258.9,544.7 261.5,544.6 264.1,544.5 266.7,544.5 269.3,544.5 271.9,544.6 274.5,544.7 277.1,544.9 279.7,545.1 282.3,545.4 284.9,545.6 287.5,545.9 290.1,546.2 292.7,546.5 295.3,546.7 298,547 300.6,547.2 303.2,547.5 305.8,547.7 308.4,547.8 311,548 313.6,548.1 316.2,548.3" fill="none" stroke="#a04aa0" stroke-width="1.5" stroke-linejoin="round"/>
<path d="M211.9,547.6 214.5,547.6 217.1,547.6 219.7,547.6 222.4,547.6 225,547.6 227.6,547.6 230.2,547.6 232.8,547.5 235.4,547.5 238,547.5 240.6,547.5 243.2,547.5 245.8,547.4 248.4,547.4 251,547.4 253.6,547.3 256.2,547.3 258.9,547.2 261.5,547.1 264.1,547 266.7,546.9 269.3,546.7 271.9,546.6 274.5,546.3 277.1,546 279.7,545.7 282.3,545.2 284.9,544.7 287.5,544.1 290.1,543.3 292.7,542.4 295.3,541.3 298,540.1 300.6,538.7 303.2,537.1 305.8,535.3 308.4,533.3 311,531.1 313.6,528.7 316.2,526.1 318.8,523.4 321.4,520.5 324,517.6 326.6,514.6 329.2,511.7 331.8,508.8 334.4,506.1 337.1,503.7 339.7,501.5 342.3,499.7 344.9,498.3 347.5,497.4 350.1,497 352.7,497.2 355.3,497.9 357.9,499.1 360.5,500.8 363.1,502.9 365.7,505.3 368.3,508 370.9,510.8 373.6,513.8 376.2,516.8 378.8,519.7 381.4,522.7 384,525.5 386.6,528.2 389.2,530.7 391.8,533 394.4,535.1 397,537 399.6,538.8 402.2,540.3 404.8,541.6 407.4,542.8 410,543.8 412.7,544.6 415.3,545.3 417.9,545.9 420.5,546.4 423.1,546.9 425.7,547.2 428.3,547.5 430.9,547.8 433.5,548 436.1,548.1 438.7,548.3 441.3,548.4 443.9,548.5 446.5,548.6 449.2,548.7 451.8,548.8 454.4,548.8 457,548.9 459.6,549 462.2,549 464.8,549.1 467.4,549.1" fill="none" stroke="#c0559e" stroke-width="1.5" stroke-linejoin="round"/>
<path d="M344.9,548.5 347.5,548.4 350.1,548.3 352.7,548.2 355.3,548.1 357.9,547.9 360.5,547.8 363.1,547.6 365.7,547.4 368.3,547.2 370.9,546.9 373.6,546.7 376.2,546.4 378.8,546.1 381.4,545.9 384,545.6 386.6,545.4 389.2,545.1 391.8,544.9 394.4,544.7 397,544.6 399.6,544.5 402.2,544.4 404.8,544.4 407.4,544.4 410,544.5 412.7,544.7 415.3,544.9 417.9,545.1 420.5,545.3 423.1,545.6 425.7,545.9 428.3,546.2 430.9,546.5 433.5,546.8 436.1,547.1 438.7,547.4 441.3,547.7 443.9,547.9 446.5,548.1 449.2,548.4 451.8,548.6 454.4,548.7 457,548.9 459.6,549 462.2,549.2 464.8,549.3" fill="none" stroke="#b4a8e2" stroke-width="1.5" stroke-linejoin="round"/>
<line x1="51.0" y1="547.0" x2="466.0" y2="549.8" stroke="#f07d18" stroke-width="2.4"/>
<path fill="#ffffff" fill-opacity="0.45" stroke="#7c7c8a" stroke-width="1.0" d="M48.8,546.8a3.0,3.0 0 1,0 6,0a3.0,3.0 0 1,0 -6,0M52.9,546.7a3.0,3.0 0 1,0 6,0a3.0,3.0 0 1,0 -6,0M57,546.7a3.0,3.0 0 1,0 6,0a3.0,3.0 0 1,0 -6,0M61.1,546.9a3.0,3.0 0 1,0 6,0a3.0,3.0 0 1,0 -6,0M65.2,546.5a3.0,3.0 0 1,0 6,0a3.0,3.0 0 1,0 -6,0M69.3,546.7a3.0,3.0 0 1,0 6,0a3.0,3.0 0 1,0 -6,0M73.4,546.8a3.0,3.0 0 1,0 6,0a3.0,3.0 0 1,0 -6,0M77.5,546.8a3.0,3.0 0 1,0 6,0a3.0,3.0 0 1,0 -6,0M81.6,546.7a3.0,3.0 0 1,0 6,0a3.0,3.0 0 1,0 -6,0M85.7,546.6a3.0,3.0 0 1,0 6,0a3.0,3.0 0 1,0 -6,0M89.8,546.6a3.0,3.0 0 1,0 6,0a3.0,3.0 0 1,0 -6,0M93.9,546.8a3.0,3.0 0 1,0 6,0a3.0,3.0 0 1,0 -6,0M98,546.7a3.0,3.0 0 1,0 6,0a3.0,3.0 0 1,0 -6,0M102.1,546.9a3.0,3.0 0 1,0 6,0a3.0,3.0 0 1,0 -6,0M106.2,546.9a3.0,3.0 0 1,0 6,0a3.0,3.0 0 1,0 -6,0M110.3,546.9a3.0,3.0 0 1,0 6,0a3.0,3.0 0 1,0 -6,0M114.4,546.6a3.0,3.0 0 1,0 6,0a3.0,3.0 0 1,0 -6,0M118.5,546.6a3.0,3.0 0 1,0 6,0a3.0,3.0 0 1,0 -6,0M122.6,546.4a3.0,3.0 0 1,0 6,0a3.0,3.0 0 1,0 -6,0M126.7,546.4a3.0,3.0 0 1,0 6,0a3.0,3.0 0 1,0 -6,0M130.8,546.2a3.0,3.0 0 1,0 6,0a3.0,3.0 0 1,0 -6,0M134.9,546.2a3.0,3.0 0 1,0 6,0a3.0,3.0 0 1,0 -6,0M139,546.2a3.0,3.0 0 1,0 6,0a3.0,3.0 0 1,0 -6,0M143.1,545.8a3.0,3.0 0 1,0 6,0a3.0,3.0 0 1,0 -6,0M147.2,545.2a3.0,3.0 0 1,0 6,0a3.0,3.0 0 1,0 -6,0M151.3,544.5a3.0,3.0 0 1,0 6,0a3.0,3.0 0 1,0 -6,0M155.4,544a3.0,3.0 0 1,0 6,0a3.0,3.0 0 1,0 -6,0M159.5,542.6a3.0,3.0 0 1,0 6,0a3.0,3.0 0 1,0 -6,0M163.6,541.7a3.0,3.0 0 1,0 6,0a3.0,3.0 0 1,0 -6,0M167.7,540a3.0,3.0 0 1,0 6,0a3.0,3.0 0 1,0 -6,0M171.8,537.7a3.0,3.0 0 1,0 6,0a3.0,3.0 0 1,0 -6,0M175.9,535.9a3.0,3.0 0 1,0 6,0a3.0,3.0 0 1,0 -6,0M180,533.2a3.0,3.0 0 1,0 6,0a3.0,3.0 0 1,0 -6,0M184.1,530.3a3.0,3.0 0 1,0 6,0a3.0,3.0 0 1,0 -6,0M188.2,527.5a3.0,3.0 0 1,0 6,0a3.0,3.0 0 1,0 -6,0M192.3,524.7a3.0,3.0 0 1,0 6,0a3.0,3.0 0 1,0 -6,0M196.4,521.9a3.0,3.0 0 1,0 6,0a3.0,3.0 0 1,0 -6,0M200.5,519.7a3.0,3.0 0 1,0 6,0a3.0,3.0 0 1,0 -6,0M204.6,517.9a3.0,3.0 0 1,0 6,0a3.0,3.0 0 1,0 -6,0M208.7,516.4a3.0,3.0 0 1,0 6,0a3.0,3.0 0 1,0 -6,0M212.8,515.9a3.0,3.0 0 1,0 6,0a3.0,3.0 0 1,0 -6,0M216.9,516.7a3.0,3.0 0 1,0 6,0a3.0,3.0 0 1,0 -6,0M221,517.8a3.0,3.0 0 1,0 6,0a3.0,3.0 0 1,0 -6,0M225.1,519.6a3.0,3.0 0 1,0 6,0a3.0,3.0 0 1,0 -6,0M229.2,521.5a3.0,3.0 0 1,0 6,0a3.0,3.0 0 1,0 -6,0M233.3,523.9a3.0,3.0 0 1,0 6,0a3.0,3.0 0 1,0 -6,0M237.4,526.7a3.0,3.0 0 1,0 6,0a3.0,3.0 0 1,0 -6,0M241.5,528.9a3.0,3.0 0 1,0 6,0a3.0,3.0 0 1,0 -6,0M245.6,531.2a3.0,3.0 0 1,0 6,0a3.0,3.0 0 1,0 -6,0M249.7,533.4a3.0,3.0 0 1,0 6,0a3.0,3.0 0 1,0 -6,0M253.8,534.7a3.0,3.0 0 1,0 6,0a3.0,3.0 0 1,0 -6,0M257.9,536.4a3.0,3.0 0 1,0 6,0a3.0,3.0 0 1,0 -6,0M262,537.3a3.0,3.0 0 1,0 6,0a3.0,3.0 0 1,0 -6,0M266.1,538.6a3.0,3.0 0 1,0 6,0a3.0,3.0 0 1,0 -6,0M270.2,539.4a3.0,3.0 0 1,0 6,0a3.0,3.0 0 1,0 -6,0M274.3,539.7a3.0,3.0 0 1,0 6,0a3.0,3.0 0 1,0 -6,0M278.4,540.2a3.0,3.0 0 1,0 6,0a3.0,3.0 0 1,0 -6,0M282.5,540.3a3.0,3.0 0 1,0 6,0a3.0,3.0 0 1,0 -6,0M286.6,539.8a3.0,3.0 0 1,0 6,0a3.0,3.0 0 1,0 -6,0M290.7,539a3.0,3.0 0 1,0 6,0a3.0,3.0 0 1,0 -6,0M294.8,537.8a3.0,3.0 0 1,0 6,0a3.0,3.0 0 1,0 -6,0M298.9,535.8a3.0,3.0 0 1,0 6,0a3.0,3.0 0 1,0 -6,0M303,533.4a3.0,3.0 0 1,0 6,0a3.0,3.0 0 1,0 -6,0M307.1,530.5a3.0,3.0 0 1,0 6,0a3.0,3.0 0 1,0 -6,0M311.2,527a3.0,3.0 0 1,0 6,0a3.0,3.0 0 1,0 -6,0M315.3,522.9a3.0,3.0 0 1,0 6,0a3.0,3.0 0 1,0 -6,0M319.4,518.5a3.0,3.0 0 1,0 6,0a3.0,3.0 0 1,0 -6,0M323.5,513.7a3.0,3.0 0 1,0 6,0a3.0,3.0 0 1,0 -6,0M327.6,509.3a3.0,3.0 0 1,0 6,0a3.0,3.0 0 1,0 -6,0M331.7,505a3.0,3.0 0 1,0 6,0a3.0,3.0 0 1,0 -6,0M335.8,501.5a3.0,3.0 0 1,0 6,0a3.0,3.0 0 1,0 -6,0M339.9,498.6a3.0,3.0 0 1,0 6,0a3.0,3.0 0 1,0 -6,0M344,496.4a3.0,3.0 0 1,0 6,0a3.0,3.0 0 1,0 -6,0M348.1,496.2a3.0,3.0 0 1,0 6,0a3.0,3.0 0 1,0 -6,0M352.2,496.3a3.0,3.0 0 1,0 6,0a3.0,3.0 0 1,0 -6,0M356.3,498.3a3.0,3.0 0 1,0 6,0a3.0,3.0 0 1,0 -6,0M360.4,501.2a3.0,3.0 0 1,0 6,0a3.0,3.0 0 1,0 -6,0M364.5,504.7a3.0,3.0 0 1,0 6,0a3.0,3.0 0 1,0 -6,0M368.6,509.2a3.0,3.0 0 1,0 6,0a3.0,3.0 0 1,0 -6,0M372.7,513.2a3.0,3.0 0 1,0 6,0a3.0,3.0 0 1,0 -6,0M376.8,517.4a3.0,3.0 0 1,0 6,0a3.0,3.0 0 1,0 -6,0M380.9,521.7a3.0,3.0 0 1,0 6,0a3.0,3.0 0 1,0 -6,0M385,525.3a3.0,3.0 0 1,0 6,0a3.0,3.0 0 1,0 -6,0M389.1,528.7a3.0,3.0 0 1,0 6,0a3.0,3.0 0 1,0 -6,0M393.2,531.5a3.0,3.0 0 1,0 6,0a3.0,3.0 0 1,0 -6,0M397.3,534a3.0,3.0 0 1,0 6,0a3.0,3.0 0 1,0 -6,0M401.4,536.4a3.0,3.0 0 1,0 6,0a3.0,3.0 0 1,0 -6,0M405.5,537.9a3.0,3.0 0 1,0 6,0a3.0,3.0 0 1,0 -6,0M409.6,539.7a3.0,3.0 0 1,0 6,0a3.0,3.0 0 1,0 -6,0M413.7,541a3.0,3.0 0 1,0 6,0a3.0,3.0 0 1,0 -6,0M417.8,542a3.0,3.0 0 1,0 6,0a3.0,3.0 0 1,0 -6,0M421.9,543.1a3.0,3.0 0 1,0 6,0a3.0,3.0 0 1,0 -6,0M426,544.2a3.0,3.0 0 1,0 6,0a3.0,3.0 0 1,0 -6,0M430.1,545.1a3.0,3.0 0 1,0 6,0a3.0,3.0 0 1,0 -6,0M434.2,545.6a3.0,3.0 0 1,0 6,0a3.0,3.0 0 1,0 -6,0M438.3,546.1a3.0,3.0 0 1,0 6,0a3.0,3.0 0 1,0 -6,0M442.4,547a3.0,3.0 0 1,0 6,0a3.0,3.0 0 1,0 -6,0M446.5,547.1a3.0,3.0 0 1,0 6,0a3.0,3.0 0 1,0 -6,0M450.6,547.9a3.0,3.0 0 1,0 6,0a3.0,3.0 0 1,0 -6,0M454.7,547.8a3.0,3.0 0 1,0 6,0a3.0,3.0 0 1,0 -6,0M458.8,548.3a3.0,3.0 0 1,0 6,0a3.0,3.0 0 1,0 -6,0M462.9,548.3a3.0,3.0 0 1,0 6,0a3.0,3.0 0 1,0 -6,0"/>
<path d="M214,513.3 215,513.5 216,514.1 217,513.6 218,513.6 219,513.8 220,514.1 221,513.9 222,515.4 223,514.3 224,514.6 225,515.7 226,515.8 227,516.9 228,516.1 229,517.8 230,517.7 231,519.3 232,518.7 233,519.5 234,519.9 235,520.9 236,521 237,522.3 238,522.4 239,523.6 240,523.4 241,524.3 242,525.1 243,526 244,526.4 245,526.6 246,526.5 247,527.1 248,527.7 249,528.3 250,528.8" fill="none" stroke="#3a3a3a" stroke-width="1.4" stroke-linejoin="round"/>
<path d="M345,496.1 346,495.1 347,495.8 348,494.3 349,494.2 350,493.9 351,493.8 352,494.8 353,494.7 354,494.3 355,495.6 356,495.7 357,495.7 358,496.4 359,497.1 360,497.3 361,497.3 362,498.5 363,500.3 364,500.1 365,501.4 366,501.3 367,503.4 368,504.5 369,504.6 370,505.6 371,506.9 372,507.4 373,508.4 374,509.3 375,511.3 376,512.1 377,513.9 378,515 379,515.8 380,517 381,517.8 382,517.3 383,518.5 384,521 385,521.7" fill="none" stroke="#3a3a3a" stroke-width="1.4" stroke-linejoin="round"/>
<path d="M50.3,628 52.9,628 55.5,628 58.1,628 60.7,628 63.3,628 65.9,628 68.5,628 71.2,628 73.8,628 76.4,628 79,628 81.6,628 84.2,628 86.8,628 89.4,628 92,628 94.6,628 97.2,628 99.8,628 102.4,628 105,628 107.7,628 110.3,628 112.9,628 115.5,628 118.1,627.9 120.7,627.9 123.3,627.9 125.9,627.8 128.5,627.8 131.1,627.7 133.7,627.7 136.3,627.6 138.9,627.4 141.5,627.3 144.1,627.1 146.8,626.9 149.4,626.6 152,626.2 154.6,625.8 157.2,625.3 159.8,624.7 162.4,624 165,623.1 167.6,622.2 170.2,621.1 172.8,619.9 175.4,618.5 178,617 180.6,615.4 183.3,613.7 185.9,611.9 188.5,610 191.1,608.1 193.7,606.2 196.3,604.3 198.9,602.6 201.5,600.9 204.1,599.5 206.7,598.3 209.3,597.4 211.9,596.8 214.5,596.5 217.1,596.7 219.7,597.1 222.4,598 225,599.1 227.6,600.5 230.2,602 232.8,603.8 235.4,605.7 238,607.6 240.6,609.5 243.2,611.4 245.8,613.3 248.4,615.1 251,616.8 253.6,618.3 256.2,619.8 258.9,621.1 261.5,622.2 264.1,623.3 266.7,624.2 269.3,625 271.9,625.6 274.5,626.2 277.1,626.7 279.7,627.1 282.3,627.4 284.9,627.7 287.5,627.9 290.1,628.1 292.7,628.3 295.3,628.4 298,628.5 300.6,628.6 303.2,628.7 305.8,628.8 308.4,628.8 311,628.9 313.6,629 316.2,629 318.8,629 321.4,629.1 324,629.1 326.6,629.1 329.2,629.2 331.8,629.2 334.4,629.2 337.1,629.3 339.7,629.3 342.3,629.3 344.9,629.4 347.5,629.4 350.1,629.4 352.7,629.4 355.3,629.5 357.9,629.5 360.5,629.5 363.1,629.5 365.7,629.5 368.3,629.6 370.9,629.6 373.6,629.6 376.2,629.6 378.8,629.6 381.4,629.7 384,629.7 386.6,629.7 389.2,629.7 391.8,629.7 394.4,629.8 397,629.8 399.6,629.8 402.2,629.8 404.8,629.8 407.4,629.8 410,629.9 412.7,629.9 415.3,629.9 417.9,629.9 420.5,629.9 423.1,629.9 425.7,630 428.3,630 430.9,630 433.5,630 436.1,630 438.7,630 441.3,630.1 443.9,630.1 446.5,630.1 449.2,630.1 451.8,630.1 454.4,630.1 457,630.2 459.6,630.2 462.2,630.2 464.8,630.2 467.4,630.2 L467.4,630.3 50.3,628.2Z" fill="#f9dadc" stroke="none" fill-opacity="0.85"/>
<path d="M50.3,628.1 52.9,628.1 55.5,628.1 58.1,628.1 60.7,628.1 63.3,628.1 65.9,628.1 68.5,628.2 71.2,628.2 73.8,628.2 76.4,628.2 79,628.2 81.6,628.2 84.2,628.2 86.8,628.2 89.4,628.2 92,628.3 94.6,628.3 97.2,628.3 99.8,628.3 102.4,628.3 105,628.3 107.7,628.3 110.3,628.3 112.9,628.3 115.5,628.3 118.1,628.3 120.7,628.4 123.3,628.4 125.9,628.4 128.5,628.4 131.1,628.4 133.7,628.4 136.3,628.4 138.9,628.4 141.5,628.4 144.1,628.4 146.8,628.4 149.4,628.4 152,628.4 154.6,628.5 157.2,628.5 159.8,628.5 162.4,628.5 165,628.5 167.6,628.5 170.2,628.5 172.8,628.5 175.4,628.5 178,628.5 180.6,628.5 183.3,628.5 185.9,628.5 188.5,628.5 191.1,628.5 193.7,628.5 196.3,628.5 198.9,628.5 201.5,628.5 204.1,628.5 206.7,628.5 209.3,628.5 211.9,628.5 214.5,628.5 217.1,628.5 219.7,628.5 222.4,628.5 225,628.4 227.6,628.4 230.2,628.4 232.8,628.4 235.4,628.4 238,628.4 240.6,628.3 243.2,628.3 245.8,628.3 248.4,628.2 251,628.2 253.6,628.1 256.2,628 258.9,628 261.5,627.9 264.1,627.7 266.7,627.6 269.3,627.4 271.9,627.1 274.5,626.9 277.1,626.5 279.7,626.1 282.3,625.5 284.9,624.9 287.5,624.2 290.1,623.3 292.7,622.2 295.3,621 298,619.6 300.6,618 303.2,616.2 305.8,614.2 308.4,612 311,609.5 313.6,606.9 316.2,604.2 318.8,601.3 321.4,598.3 324,595.3 326.6,592.3 329.2,589.4 331.8,586.6 334.4,584 337.1,581.7 339.7,579.7 342.3,578.2 344.9,577.2 347.5,576.7 350.1,576.8 352.7,577.4 355.3,578.6 357.9,580.2 360.5,582.2 363.1,584.6 365.7,587.3 368.3,590.1 370.9,593.1 373.6,596.2 376.2,599.2 378.8,602.2 381.4,605.1 384,607.8 386.6,610.4 389.2,612.8 391.8,615 394.4,617 397,618.8 399.6,620.4 402.2,621.8 404.8,623 407.4,624 410,624.9 412.7,625.7 415.3,626.3 417.9,626.9 420.5,627.3 423.1,627.7 425.7,628 428.3,628.2 430.9,628.4 433.5,628.6 436.1,628.8 438.7,628.9 441.3,629 443.9,629.1 446.5,629.2 449.2,629.2 451.8,629.3 454.4,629.4 457,629.4 459.6,629.5 462.2,629.5 464.8,629.6 467.4,629.6 L467.4,630.3 50.3,628.2Z" fill="#d9e7f7" stroke="none" fill-opacity="0.7"/>
<path d="M110.3,628 112.9,628 115.5,628 118.1,627.9 120.7,627.9 123.3,627.9 125.9,627.8 128.5,627.8 131.1,627.7 133.7,627.7 136.3,627.6 138.9,627.4 141.5,627.3 144.1,627.1 146.8,626.9 149.4,626.6 152,626.2 154.6,625.8 157.2,625.3 159.8,624.7 162.4,624 165,623.1 167.6,622.2 170.2,621.1 172.8,619.9 175.4,618.5 178,617 180.6,615.4 183.3,613.7 185.9,611.9 188.5,610 191.1,608.1 193.7,606.2 196.3,604.3 198.9,602.6 201.5,600.9 204.1,599.5 206.7,598.3 209.3,597.4 211.9,596.8 214.5,596.5 217.1,596.7 219.7,597.1 222.4,598 225,599.1 227.6,600.5 230.2,602 232.8,603.8 235.4,605.7 238,607.6 240.6,609.5 243.2,611.4 245.8,613.3 248.4,615.1 251,616.8 253.6,618.3 256.2,619.8 258.9,621.1 261.5,622.2 264.1,623.3 266.7,624.2 269.3,625 271.9,625.6 274.5,626.2 277.1,626.7 279.7,627.1 282.3,627.4 284.9,627.7 287.5,627.9 290.1,628.1 292.7,628.3 295.3,628.4 298,628.5 300.6,628.6 303.2,628.7 305.8,628.8 308.4,628.8 311,628.9 313.6,629 316.2,629 318.8,629" fill="none" stroke="#2f8fc0" stroke-width="1.5" stroke-linejoin="round"/>
<path d="M219.7,628.5 222.4,628.4 225,628.3 227.6,628.1 230.2,627.9 232.8,627.8 235.4,627.6 238,627.3 240.6,627.1 243.2,626.9 245.8,626.6 248.4,626.4 251,626.1 253.6,625.9 256.2,625.7 258.9,625.5 261.5,625.4 264.1,625.3 266.7,625.3 269.3,625.3 271.9,625.4 274.5,625.5 277.1,625.7 279.7,625.9 282.3,626.2 284.9,626.4 287.5,626.7 290.1,627 292.7,627.3 295.3,627.5 298,627.8 300.6,628 303.2,628.2 305.8,628.4 308.4,628.6 311,628.8 313.6,628.9 316.2,629" fill="none" stroke="#a04aa0" stroke-width="1.5" stroke-linejoin="round"/>
<path d="M209.3,628.5 211.9,628.5 214.5,628.5 217.1,628.5 219.7,628.5 222.4,628.5 225,628.4 227.6,628.4 230.2,628.4 232.8,628.4 235.4,628.4 238,628.4 240.6,628.3 243.2,628.3 245.8,628.3 248.4,628.2 251,628.2 253.6,628.1 256.2,628 258.9,628 261.5,627.9 264.1,627.7 266.7,627.6 269.3,627.4 271.9,627.1 274.5,626.9 277.1,626.5 279.7,626.1 282.3,625.5 284.9,624.9 287.5,624.2 290.1,623.3 292.7,622.2 295.3,621 298,619.6 300.6,618 303.2,616.2 305.8,614.2 308.4,612 311,609.5 313.6,606.9 316.2,604.2 318.8,601.3 321.4,598.3 324,595.3 326.6,592.3 329.2,589.4 331.8,586.6 334.4,584 337.1,581.7 339.7,579.7 342.3,578.2 344.9,577.2 347.5,576.7 350.1,576.8 352.7,577.4 355.3,578.6 357.9,580.2 360.5,582.2 363.1,584.6 365.7,587.3 368.3,590.1 370.9,593.1 373.6,596.2 376.2,599.2 378.8,602.2 381.4,605.1 384,607.8 386.6,610.4 389.2,612.8 391.8,615 394.4,617 397,618.8 399.6,620.4 402.2,621.8 404.8,623 407.4,624 410,624.9 412.7,625.7 415.3,626.3 417.9,626.9 420.5,627.3 423.1,627.7 425.7,628 428.3,628.2 430.9,628.4 433.5,628.6 436.1,628.8 438.7,628.9 441.3,629 443.9,629.1 446.5,629.2 449.2,629.2 451.8,629.3 454.4,629.4 457,629.4 459.6,629.5 462.2,629.5 464.8,629.6 467.4,629.6" fill="none" stroke="#c0559e" stroke-width="1.5" stroke-linejoin="round"/>
<path d="M344.9,629.2 347.5,629.1 350.1,629 352.7,628.9 355.3,628.8 357.9,628.6 360.5,628.4 363.1,628.3 365.7,628 368.3,627.8 370.9,627.6 373.6,627.3 376.2,627.1 378.8,626.8 381.4,626.5 384,626.3 386.6,626 389.2,625.7 391.8,625.5 394.4,625.3 397,625.2 399.6,625.1 402.2,625 404.8,625 407.4,625 410,625.1 412.7,625.3 415.3,625.4 417.9,625.7 420.5,625.9 423.1,626.2 425.7,626.5 428.3,626.8 430.9,627.1 433.5,627.4 436.1,627.6 438.7,627.9 441.3,628.2 443.9,628.4 446.5,628.7 449.2,628.9 451.8,629.1 454.4,629.3 457,629.4 459.6,629.5 462.2,629.7 464.8,629.8" fill="none" stroke="#b4a8e2" stroke-width="1.5" stroke-linejoin="round"/>
<line x1="51.0" y1="628.2" x2="466.0" y2="630.3" stroke="#f07d18" stroke-width="2.4"/>
<path fill="#ffffff" fill-opacity="0.45" stroke="#7c7c8a" stroke-width="1.0" d="M48.8,627.9a3.0,3.0 0 1,0 6,0a3.0,3.0 0 1,0 -6,0M52.9,627.9a3.0,3.0 0 1,0 6,0a3.0,3.0 0 1,0 -6,0M57,627.8a3.0,3.0 0 1,0 6,0a3.0,3.0 0 1,0 -6,0M61.1,627.8a3.0,3.0 0 1,0 6,0a3.0,3.0 0 1,0 -6,0M65.2,627.7a3.0,3.0 0 1,0 6,0a3.0,3.0 0 1,0 -6,0M69.3,627.9a3.0,3.0 0 1,0 6,0a3.0,3.0 0 1,0 -6,0M73.4,627.8a3.0,3.0 0 1,0 6,0a3.0,3.0 0 1,0 -6,0M77.5,627.7a3.0,3.0 0 1,0 6,0a3.0,3.0 0 1,0 -6,0M81.6,628.1a3.0,3.0 0 1,0 6,0a3.0,3.0 0 1,0 -6,0M85.7,627.9a3.0,3.0 0 1,0 6,0a3.0,3.0 0 1,0 -6,0M89.8,628a3.0,3.0 0 1,0 6,0a3.0,3.0 0 1,0 -6,0M93.9,627.7a3.0,3.0 0 1,0 6,0a3.0,3.0 0 1,0 -6,0M98,627.9a3.0,3.0 0 1,0 6,0a3.0,3.0 0 1,0 -6,0M102.1,627.7a3.0,3.0 0 1,0 6,0a3.0,3.0 0 1,0 -6,0M106.2,628a3.0,3.0 0 1,0 6,0a3.0,3.0 0 1,0 -6,0M110.3,627.6a3.0,3.0 0 1,0 6,0a3.0,3.0 0 1,0 -6,0M114.4,627.8a3.0,3.0 0 1,0 6,0a3.0,3.0 0 1,0 -6,0M118.5,627.7a3.0,3.0 0 1,0 6,0a3.0,3.0 0 1,0 -6,0M122.6,627.5a3.0,3.0 0 1,0 6,0a3.0,3.0 0 1,0 -6,0M126.7,627.3a3.0,3.0 0 1,0 6,0a3.0,3.0 0 1,0 -6,0M130.8,627.4a3.0,3.0 0 1,0 6,0a3.0,3.0 0 1,0 -6,0M134.9,627.2a3.0,3.0 0 1,0 6,0a3.0,3.0 0 1,0 -6,0M139,627.1a3.0,3.0 0 1,0 6,0a3.0,3.0 0 1,0 -6,0M143.1,626.5a3.0,3.0 0 1,0 6,0a3.0,3.0 0 1,0 -6,0M147.2,626a3.0,3.0 0 1,0 6,0a3.0,3.0 0 1,0 -6,0M151.3,625.4a3.0,3.0 0 1,0 6,0a3.0,3.0 0 1,0 -6,0M155.4,624.8a3.0,3.0 0 1,0 6,0a3.0,3.0 0 1,0 -6,0M159.5,623.4a3.0,3.0 0 1,0 6,0a3.0,3.0 0 1,0 -6,0M163.6,622.3a3.0,3.0 0 1,0 6,0a3.0,3.0 0 1,0 -6,0M167.7,620.3a3.0,3.0 0 1,0 6,0a3.0,3.0 0 1,0 -6,0M171.8,618.2a3.0,3.0 0 1,0 6,0a3.0,3.0 0 1,0 -6,0M175.9,616.2a3.0,3.0 0 1,0 6,0a3.0,3.0 0 1,0 -6,0M180,613.4a3.0,3.0 0 1,0 6,0a3.0,3.0 0 1,0 -6,0M184.1,610.3a3.0,3.0 0 1,0 6,0a3.0,3.0 0 1,0 -6,0M188.2,607.5a3.0,3.0 0 1,0 6,0a3.0,3.0 0 1,0 -6,0M192.3,604.7a3.0,3.0 0 1,0 6,0a3.0,3.0 0 1,0 -6,0M196.4,601.6a3.0,3.0 0 1,0 6,0a3.0,3.0 0 1,0 -6,0M200.5,599.2a3.0,3.0 0 1,0 6,0a3.0,3.0 0 1,0 -6,0M204.6,597.2a3.0,3.0 0 1,0 6,0a3.0,3.0 0 1,0 -6,0M208.7,595.9a3.0,3.0 0 1,0 6,0a3.0,3.0 0 1,0 -6,0M212.8,595.3a3.0,3.0 0 1,0 6,0a3.0,3.0 0 1,0 -6,0M216.9,596.2a3.0,3.0 0 1,0 6,0a3.0,3.0 0 1,0 -6,0M221,597.3a3.0,3.0 0 1,0 6,0a3.0,3.0 0 1,0 -6,0M225.1,599a3.0,3.0 0 1,0 6,0a3.0,3.0 0 1,0 -6,0M229.2,601.2a3.0,3.0 0 1,0 6,0a3.0,3.0 0 1,0 -6,0M233.3,603.7a3.0,3.0 0 1,0 6,0a3.0,3.0 0 1,0 -6,0M237.4,606.7a3.0,3.0 0 1,0 6,0a3.0,3.0 0 1,0 -6,0M241.5,609.2a3.0,3.0 0 1,0 6,0a3.0,3.0 0 1,0 -6,0M245.6,611.3a3.0,3.0 0 1,0 6,0a3.0,3.0 0 1,0 -6,0M249.7,613.5a3.0,3.0 0 1,0 6,0a3.0,3.0 0 1,0 -6,0M253.8,615.2a3.0,3.0 0 1,0 6,0a3.0,3.0 0 1,0 -6,0M257.9,616.6a3.0,3.0 0 1,0 6,0a3.0,3.0 0 1,0 -6,0M262,617.7a3.0,3.0 0 1,0 6,0a3.0,3.0 0 1,0 -6,0M266.1,619.1a3.0,3.0 0 1,0 6,0a3.0,3.0 0 1,0 -6,0M270.2,619.5a3.0,3.0 0 1,0 6,0a3.0,3.0 0 1,0 -6,0M274.3,620.2a3.0,3.0 0 1,0 6,0a3.0,3.0 0 1,0 -6,0M278.4,620.1a3.0,3.0 0 1,0 6,0a3.0,3.0 0 1,0 -6,0M282.5,619.9a3.0,3.0 0 1,0 6,0a3.0,3.0 0 1,0 -6,0M286.6,619.4a3.0,3.0 0 1,0 6,0a3.0,3.0 0 1,0 -6,0M290.7,618.6a3.0,3.0 0 1,0 6,0a3.0,3.0 0 1,0 -6,0M294.8,617.1a3.0,3.0 0 1,0 6,0a3.0,3.0 0 1,0 -6,0M298.9,615.1a3.0,3.0 0 1,0 6,0a3.0,3.0 0 1,0 -6,0M303,612.2a3.0,3.0 0 1,0 6,0a3.0,3.0 0 1,0 -6,0M307.1,608.9a3.0,3.0 0 1,0 6,0a3.0,3.0 0 1,0 -6,0M311.2,604.8a3.0,3.0 0 1,0 6,0a3.0,3.0 0 1,0 -6,0M315.3,601a3.0,3.0 0 1,0 6,0a3.0,3.0 0 1,0 -6,0M319.4,596.2a3.0,3.0 0 1,0 6,0a3.0,3.0 0 1,0 -6,0M323.5,591.7a3.0,3.0 0 1,0 6,0a3.0,3.0 0 1,0 -6,0M327.6,586.8a3.0,3.0 0 1,0 6,0a3.0,3.0 0 1,0 -6,0M331.7,583.1a3.0,3.0 0 1,0 6,0a3.0,3.0 0 1,0 -6,0M335.8,579.5a3.0,3.0 0 1,0 6,0a3.0,3.0 0 1,0 -6,0M339.9,576.9a3.0,3.0 0 1,0 6,0a3.0,3.0 0 1,0 -6,0M344,575.8a3.0,3.0 0 1,0 6,0a3.0,3.0 0 1,0 -6,0M348.1,575.7a3.0,3.0 0 1,0 6,0a3.0,3.0 0 1,0 -6,0M352.2,577.2a3.0,3.0 0 1,0 6,0a3.0,3.0 0 1,0 -6,0M356.3,579.6a3.0,3.0 0 1,0 6,0a3.0,3.0 0 1,0 -6,0M360.4,583.1a3.0,3.0 0 1,0 6,0a3.0,3.0 0 1,0 -6,0M364.5,586.8a3.0,3.0 0 1,0 6,0a3.0,3.0 0 1,0 -6,0M368.6,591.4a3.0,3.0 0 1,0 6,0a3.0,3.0 0 1,0 -6,0M372.7,595.7a3.0,3.0 0 1,0 6,0a3.0,3.0 0 1,0 -6,0M376.8,600a3.0,3.0 0 1,0 6,0a3.0,3.0 0 1,0 -6,0M380.9,604.1a3.0,3.0 0 1,0 6,0a3.0,3.0 0 1,0 -6,0M385,607.4a3.0,3.0 0 1,0 6,0a3.0,3.0 0 1,0 -6,0M389.1,610.7a3.0,3.0 0 1,0 6,0a3.0,3.0 0 1,0 -6,0M393.2,613.3a3.0,3.0 0 1,0 6,0a3.0,3.0 0 1,0 -6,0M397.3,615.8a3.0,3.0 0 1,0 6,0a3.0,3.0 0 1,0 -6,0M401.4,617.8a3.0,3.0 0 1,0 6,0a3.0,3.0 0 1,0 -6,0M405.5,619.4a3.0,3.0 0 1,0 6,0a3.0,3.0 0 1,0 -6,0M409.6,620.8a3.0,3.0 0 1,0 6,0a3.0,3.0 0 1,0 -6,0M413.7,621.8a3.0,3.0 0 1,0 6,0a3.0,3.0 0 1,0 -6,0M417.8,623.3a3.0,3.0 0 1,0 6,0a3.0,3.0 0 1,0 -6,0M421.9,624.2a3.0,3.0 0 1,0 6,0a3.0,3.0 0 1,0 -6,0M426,625.1a3.0,3.0 0 1,0 6,0a3.0,3.0 0 1,0 -6,0M430.1,625.5a3.0,3.0 0 1,0 6,0a3.0,3.0 0 1,0 -6,0M434.2,626.5a3.0,3.0 0 1,0 6,0a3.0,3.0 0 1,0 -6,0M438.3,627a3.0,3.0 0 1,0 6,0a3.0,3.0 0 1,0 -6,0M442.4,627.6a3.0,3.0 0 1,0 6,0a3.0,3.0 0 1,0 -6,0M446.5,628a3.0,3.0 0 1,0 6,0a3.0,3.0 0 1,0 -6,0M450.6,628.2a3.0,3.0 0 1,0 6,0a3.0,3.0 0 1,0 -6,0M454.7,628.5a3.0,3.0 0 1,0 6,0a3.0,3.0 0 1,0 -6,0M458.8,628.9a3.0,3.0 0 1,0 6,0a3.0,3.0 0 1,0 -6,0M462.9,629.1a3.0,3.0 0 1,0 6,0a3.0,3.0 0 1,0 -6,0"/>
<path d="M214,593.2 215,593.7 216,592.2 217,592.2 218,593.1 219,592.6 220,594.1 221,593 222,594.7 223,593.9 224,594.1 225,595.6 226,595.9 227,595.9 228,596.7 229,597.1 230,598.4 231,598.2 232,598.8 233,599.2 234,599.8 235,600.9 236,600.5 237,602.2 238,603.2 239,603.6 240,603.8 241,604.1 242,604.2 243,604.8 244,606.3 245,607.5 246,608 247,607.4 248,608.9 249,609.6 250,609.5" fill="none" stroke="#3a3a3a" stroke-width="1.4" stroke-linejoin="round"/>
<path d="M372,590.9 373,590.7 374,592.1 375,593.4 376,594.9 377,595.4 378,596.2 379,598.3 380,598.4 381,599.5 382,600.1 383,601.5 384,602.9 385,603.1 386,604.6 387,605.1 388,605.1 389,607.6 390,607.2 391,608.4 392,609.9 393,609.2 394,609.6 395,610.5 396,611.1 397,613 398,612.9 399,612.6 400,613.6" fill="none" stroke="#3a3a3a" stroke-width="1.4" stroke-linejoin="round"/>
<path d="M50.3,708.7 52.9,708.7 55.5,708.7 58.1,708.7 60.7,708.7 63.3,708.7 65.9,708.7 68.5,708.7 71.2,708.7 73.8,708.7 76.4,708.7 79,708.7 81.6,708.7 84.2,708.7 86.8,708.7 89.4,708.7 92,708.6 94.6,708.6 97.2,708.6 99.8,708.6 102.4,708.6 105,708.5 107.7,708.5 110.3,708.4 112.9,708.3 115.5,708.2 118.1,708.1 120.7,708 123.3,707.8 125.9,707.6 128.5,707.3 131.1,707 133.7,706.6 136.3,706.1 138.9,705.5 141.5,704.8 144.1,704 146.8,703.1 149.4,702 152,700.9 154.6,699.5 157.2,698 159.8,696.4 162.4,694.6 165,692.8 167.6,690.8 170.2,688.7 172.8,686.7 175.4,684.5 178,682.5 180.6,680.5 183.3,678.6 185.9,676.9 188.5,675.5 191.1,674.3 193.7,673.5 196.3,673 198.9,672.9 201.5,673.2 204.1,673.8 206.7,674.9 209.3,676.2 211.9,677.8 214.5,679.5 217.1,681.5 219.7,683.6 222.4,685.7 225,687.8 227.6,689.9 230.2,692 232.8,694 235.4,695.8 238,697.6 240.6,699.2 243.2,700.6 245.8,701.9 248.4,703.1 251,704.1 253.6,705 256.2,705.8 258.9,706.5 261.5,707 264.1,707.5 266.7,707.9 269.3,708.3 271.9,708.6 274.5,708.8 277.1,709 279.7,709.2 282.3,709.3 284.9,709.4 287.5,709.5 290.1,709.6 292.7,709.7 295.3,709.7 298,709.8 300.6,709.9 303.2,709.9 305.8,709.9 308.4,710 311,710 313.6,710.1 316.2,710.1 318.8,710.1 321.4,710.2 324,710.2 326.6,710.2 329.2,710.3 331.8,710.3 334.4,710.3 337.1,710.4 339.7,710.4 342.3,710.4 344.9,710.4 347.5,710.5 350.1,710.5 352.7,710.5 355.3,710.6 357.9,710.6 360.5,710.6 363.1,710.6 365.7,710.6 368.3,710.7 370.9,710.7 373.6,710.7 376.2,710.7 378.8,710.8 381.4,710.8 384,710.8 386.6,710.8 389.2,710.8 391.8,710.9 394.4,710.9 397,710.9 399.6,710.9 402.2,710.9 404.8,711 407.4,711 410,711 412.7,711 415.3,711 417.9,711.1 420.5,711.1 423.1,711.1 425.7,711.1 428.3,711.1 430.9,711.2 433.5,711.2 436.1,711.2 438.7,711.2 441.3,711.2 443.9,711.2 446.5,711.3 449.2,711.3 451.8,711.3 454.4,711.3 457,711.3 459.6,711.4 462.2,711.4 464.8,711.4 467.4,711.4 L467.4,711.5 50.3,709Z" fill="#f9dadc" stroke="none" fill-opacity="0.85"/>
<path d="M50.3,708.9 52.9,708.9 55.5,708.9 58.1,708.9 60.7,708.9 63.3,708.9 65.9,709 68.5,709 71.2,709 73.8,709 76.4,709 79,709 81.6,709 84.2,709 86.8,709.1 89.4,709.1 92,709.1 94.6,709.1 97.2,709.1 99.8,709.1 102.4,709.1 105,709.1 107.7,709.1 110.3,709.2 112.9,709.2 115.5,709.2 118.1,709.2 120.7,709.2 123.3,709.2 125.9,709.2 128.5,709.2 131.1,709.2 133.7,709.3 136.3,709.3 138.9,709.3 141.5,709.3 144.1,709.3 146.8,709.3 149.4,709.3 152,709.3 154.6,709.3 157.2,709.3 159.8,709.3 162.4,709.3 165,709.3 167.6,709.4 170.2,709.4 172.8,709.4 175.4,709.4 178,709.4 180.6,709.4 183.3,709.4 185.9,709.4 188.5,709.4 191.1,709.4 193.7,709.4 196.3,709.4 198.9,709.4 201.5,709.4 204.1,709.4 206.7,709.3 209.3,709.3 211.9,709.3 214.5,709.3 217.1,709.3 219.7,709.3 222.4,709.3 225,709.3 227.6,709.2 230.2,709.2 232.8,709.2 235.4,709.1 238,709.1 240.6,709 243.2,709 245.8,708.9 248.4,708.8 251,708.6 253.6,708.5 256.2,708.3 258.9,708 261.5,707.7 264.1,707.3 266.7,706.8 269.3,706.3 271.9,705.6 274.5,704.7 277.1,703.7 279.7,702.6 282.3,701.2 284.9,699.7 287.5,697.9 290.1,695.9 292.7,693.6 295.3,691.2 298,688.5 300.6,685.7 303.2,682.7 305.8,679.5 308.4,676.4 311,673.2 313.6,670.1 316.2,667.1 318.8,664.4 321.4,661.9 324,659.8 326.6,658.3 329.2,657.2 331.8,656.7 334.4,656.8 337.1,657.6 339.7,658.9 342.3,660.7 344.9,662.9 347.5,665.5 350.1,668.4 352.7,671.4 355.3,674.6 357.9,677.8 360.5,681 363.1,684.1 365.7,687.1 368.3,689.9 370.9,692.5 373.6,694.9 376.2,697.1 378.8,699.1 381.4,700.8 384,702.3 386.6,703.7 389.2,704.8 391.8,705.8 394.4,706.6 397,707.3 399.6,707.8 402.2,708.3 404.8,708.7 407.4,709 410,709.3 412.7,709.5 415.3,709.7 417.9,709.8 420.5,710 423.1,710.1 425.7,710.2 428.3,710.2 430.9,710.3 433.5,710.4 436.1,710.5 438.7,710.5 441.3,710.6 443.9,710.6 446.5,710.7 449.2,710.7 451.8,710.8 454.4,710.8 457,710.8 459.6,710.9 462.2,710.9 464.8,711 467.4,711 L467.4,711.5 50.3,709Z" fill="url(#gxb)" stroke="none" fill-opacity="0.9"/>
<path d="M84.2,708.7 86.8,708.7 89.4,708.7 92,708.6 94.6,708.6 97.2,708.6 99.8,708.6 102.4,708.6 105,708.5 107.7,708.5 110.3,708.4 112.9,708.3 115.5,708.2 118.1,708.1 120.7,708 123.3,707.8 125.9,707.6 128.5,707.3 131.1,707 133.7,706.6 136.3,706.1 138.9,705.5 141.5,704.8 144.1,704 146.8,703.1 149.4,702 152,700.9 154.6,699.5 157.2,698 159.8,696.4 162.4,694.6 165,692.8 167.6,690.8 170.2,688.7 172.8,686.7 175.4,684.5 178,682.5 180.6,680.5 183.3,678.6 185.9,676.9 188.5,675.5 191.1,674.3 193.7,673.5 196.3,673 198.9,672.9 201.5,673.2 204.1,673.8 206.7,674.9 209.3,676.2 211.9,677.8 214.5,679.5 217.1,681.5 219.7,683.6 222.4,685.7 225,687.8 227.6,689.9 230.2,692 232.8,694 235.4,695.8 238,697.6 240.6,699.2 243.2,700.6 245.8,701.9 248.4,703.1 251,704.1 253.6,705 256.2,705.8 258.9,706.5 261.5,707 264.1,707.5 266.7,707.9 269.3,708.3 271.9,708.6 274.5,708.8 277.1,709 279.7,709.2 282.3,709.3 284.9,709.4 287.5,709.5 290.1,709.6 292.7,709.7 295.3,709.7 298,709.8 300.6,709.9 303.2,709.9 305.8,709.9 308.4,710 311,710 313.6,710.1" fill="none" stroke="#2f8fc0" stroke-width="1.5" stroke-linejoin="round"/>
<path d="M225,709.5 227.6,709.4 230.2,709.3 232.8,709.1 235.4,709 238,708.9 240.6,708.8 243.2,708.6 245.8,708.5 248.4,708.4 251,708.3 253.6,708.3 256.2,708.3 258.9,708.3 261.5,708.3 264.1,708.3 266.7,708.4 269.3,708.6 271.9,708.7 274.5,708.8 277.1,709 279.7,709.2 282.3,709.3 284.9,709.5 287.5,709.6 290.1,709.7 292.7,709.9" fill="none" stroke="#a04aa0" stroke-width="1.5" stroke-linejoin="round"/>
<path d="M196.3,709.4 198.9,709.4 201.5,709.4 204.1,709.4 206.7,709.3 209.3,709.3 211.9,709.3 214.5,709.3 217.1,709.3 219.7,709.3 222.4,709.3 225,709.3 227.6,709.2 230.2,709.2 232.8,709.2 235.4,709.1 238,709.1 240.6,709 243.2,709 245.8,708.9 248.4,708.8 251,708.6 253.6,708.5 256.2,708.3 258.9,708 261.5,707.7 264.1,707.3 266.7,706.8 269.3,706.3 271.9,705.6 274.5,704.7 277.1,703.7 279.7,702.6 282.3,701.2 284.9,699.7 287.5,697.9 290.1,695.9 292.7,693.6 295.3,691.2 298,688.5 300.6,685.7 303.2,682.7 305.8,679.5 308.4,676.4 311,673.2 313.6,670.1 316.2,667.1 318.8,664.4 321.4,661.9 324,659.8 326.6,658.3 329.2,657.2 331.8,656.7 334.4,656.8 337.1,657.6 339.7,658.9 342.3,660.7 344.9,662.9 347.5,665.5 350.1,668.4 352.7,671.4 355.3,674.6 357.9,677.8 360.5,681 363.1,684.1 365.7,687.1 368.3,689.9 370.9,692.5 373.6,694.9 376.2,697.1 378.8,699.1 381.4,700.8 384,702.3 386.6,703.7 389.2,704.8 391.8,705.8 394.4,706.6 397,707.3 399.6,707.8 402.2,708.3 404.8,708.7 407.4,709 410,709.3 412.7,709.5 415.3,709.7 417.9,709.8 420.5,710 423.1,710.1 425.7,710.2 428.3,710.2 430.9,710.3 433.5,710.4 436.1,710.5 438.7,710.5 441.3,710.6 443.9,710.6 446.5,710.7 449.2,710.7 451.8,710.8 454.4,710.8 457,710.8 459.6,710.9 462.2,710.9 464.8,711 467.4,711" fill="none" stroke="#c0559e" stroke-width="1.5" stroke-linejoin="round"/>
<path d="M339.7,710.2 342.3,710.1 344.9,710 347.5,709.9 350.1,709.8 352.7,709.7 355.3,709.6 357.9,709.4 360.5,709.3 363.1,709.1 365.7,709 368.3,708.9 370.9,708.8 373.6,708.7 376.2,708.6 378.8,708.5 381.4,708.5 384,708.5 386.6,708.5 389.2,708.6 391.8,708.7 394.4,708.8 397,708.9 399.6,709.1 402.2,709.2 404.8,709.4 407.4,709.6 410,709.7 412.7,709.9 415.3,710.1 417.9,710.2 420.5,710.4 423.1,710.5 425.7,710.6 428.3,710.7" fill="none" stroke="#b4a8e2" stroke-width="1.5" stroke-linejoin="round"/>
<line x1="51.0" y1="709.0" x2="466.0" y2="711.5" stroke="#f07d18" stroke-width="2.4"/>
<path fill="#ffffff" fill-opacity="0.45" stroke="#7c7c8a" stroke-width="1.0" d="M48.8,708.6a3.0,3.0 0 1,0 6,0a3.0,3.0 0 1,0 -6,0M52.9,708.4a3.0,3.0 0 1,0 6,0a3.0,3.0 0 1,0 -6,0M57,708.5a3.0,3.0 0 1,0 6,0a3.0,3.0 0 1,0 -6,0M61.1,708.8a3.0,3.0 0 1,0 6,0a3.0,3.0 0 1,0 -6,0M65.2,708.5a3.0,3.0 0 1,0 6,0a3.0,3.0 0 1,0 -6,0M69.3,708.4a3.0,3.0 0 1,0 6,0a3.0,3.0 0 1,0 -6,0M73.4,708.6a3.0,3.0 0 1,0 6,0a3.0,3.0 0 1,0 -6,0M77.5,708.3a3.0,3.0 0 1,0 6,0a3.0,3.0 0 1,0 -6,0M81.6,708.5a3.0,3.0 0 1,0 6,0a3.0,3.0 0 1,0 -6,0M85.7,708.6a3.0,3.0 0 1,0 6,0a3.0,3.0 0 1,0 -6,0M89.8,708.3a3.0,3.0 0 1,0 6,0a3.0,3.0 0 1,0 -6,0M93.9,708.4a3.0,3.0 0 1,0 6,0a3.0,3.0 0 1,0 -6,0M98,708.3a3.0,3.0 0 1,0 6,0a3.0,3.0 0 1,0 -6,0M102.1,708.4a3.0,3.0 0 1,0 6,0a3.0,3.0 0 1,0 -6,0M106.2,708.3a3.0,3.0 0 1,0 6,0a3.0,3.0 0 1,0 -6,0M110.3,708.3a3.0,3.0 0 1,0 6,0a3.0,3.0 0 1,0 -6,0M114.4,708a3.0,3.0 0 1,0 6,0a3.0,3.0 0 1,0 -6,0M118.5,707.5a3.0,3.0 0 1,0 6,0a3.0,3.0 0 1,0 -6,0M122.6,707.2a3.0,3.0 0 1,0 6,0a3.0,3.0 0 1,0 -6,0M126.7,707a3.0,3.0 0 1,0 6,0a3.0,3.0 0 1,0 -6,0M130.8,706.4a3.0,3.0 0 1,0 6,0a3.0,3.0 0 1,0 -6,0M134.9,705.2a3.0,3.0 0 1,0 6,0a3.0,3.0 0 1,0 -6,0M139,704.3a3.0,3.0 0 1,0 6,0a3.0,3.0 0 1,0 -6,0M143.1,702.9a3.0,3.0 0 1,0 6,0a3.0,3.0 0 1,0 -6,0M147.2,701.3a3.0,3.0 0 1,0 6,0a3.0,3.0 0 1,0 -6,0M151.3,699.5a3.0,3.0 0 1,0 6,0a3.0,3.0 0 1,0 -6,0M155.4,697a3.0,3.0 0 1,0 6,0a3.0,3.0 0 1,0 -6,0M159.5,694.3a3.0,3.0 0 1,0 6,0a3.0,3.0 0 1,0 -6,0M163.6,691.3a3.0,3.0 0 1,0 6,0a3.0,3.0 0 1,0 -6,0M167.7,687.8a3.0,3.0 0 1,0 6,0a3.0,3.0 0 1,0 -6,0M171.8,684.7a3.0,3.0 0 1,0 6,0a3.0,3.0 0 1,0 -6,0M175.9,681.3a3.0,3.0 0 1,0 6,0a3.0,3.0 0 1,0 -6,0M180,678.3a3.0,3.0 0 1,0 6,0a3.0,3.0 0 1,0 -6,0M184.1,675.8a3.0,3.0 0 1,0 6,0a3.0,3.0 0 1,0 -6,0M188.2,673.8a3.0,3.0 0 1,0 6,0a3.0,3.0 0 1,0 -6,0M192.3,672.4a3.0,3.0 0 1,0 6,0a3.0,3.0 0 1,0 -6,0M196.4,672.5a3.0,3.0 0 1,0 6,0a3.0,3.0 0 1,0 -6,0M200.5,672.8a3.0,3.0 0 1,0 6,0a3.0,3.0 0 1,0 -6,0M204.6,674.4a3.0,3.0 0 1,0 6,0a3.0,3.0 0 1,0 -6,0M208.7,676.9a3.0,3.0 0 1,0 6,0a3.0,3.0 0 1,0 -6,0M212.8,679.7a3.0,3.0 0 1,0 6,0a3.0,3.0 0 1,0 -6,0M216.9,682.5a3.0,3.0 0 1,0 6,0a3.0,3.0 0 1,0 -6,0M221,685.9a3.0,3.0 0 1,0 6,0a3.0,3.0 0 1,0 -6,0M225.1,688.5a3.0,3.0 0 1,0 6,0a3.0,3.0 0 1,0 -6,0M229.2,691.9a3.0,3.0 0 1,0 6,0a3.0,3.0 0 1,0 -6,0M233.3,694.1a3.0,3.0 0 1,0 6,0a3.0,3.0 0 1,0 -6,0M237.4,696.3a3.0,3.0 0 1,0 6,0a3.0,3.0 0 1,0 -6,0M241.5,698.5a3.0,3.0 0 1,0 6,0a3.0,3.0 0 1,0 -6,0M245.6,699.8a3.0,3.0 0 1,0 6,0a3.0,3.0 0 1,0 -6,0M249.7,701.2a3.0,3.0 0 1,0 6,0a3.0,3.0 0 1,0 -6,0M253.8,701.7a3.0,3.0 0 1,0 6,0a3.0,3.0 0 1,0 -6,0M257.9,702.2a3.0,3.0 0 1,0 6,0a3.0,3.0 0 1,0 -6,0M262,702.5a3.0,3.0 0 1,0 6,0a3.0,3.0 0 1,0 -6,0M266.1,702.2a3.0,3.0 0 1,0 6,0a3.0,3.0 0 1,0 -6,0M270.2,701.9a3.0,3.0 0 1,0 6,0a3.0,3.0 0 1,0 -6,0M274.3,700.8a3.0,3.0 0 1,0 6,0a3.0,3.0 0 1,0 -6,0M278.4,699.5a3.0,3.0 0 1,0 6,0a3.0,3.0 0 1,0 -6,0M282.5,697.3a3.0,3.0 0 1,0 6,0a3.0,3.0 0 1,0 -6,0M286.6,694.9a3.0,3.0 0 1,0 6,0a3.0,3.0 0 1,0 -6,0M290.7,691.5a3.0,3.0 0 1,0 6,0a3.0,3.0 0 1,0 -6,0M294.8,687.3a3.0,3.0 0 1,0 6,0a3.0,3.0 0 1,0 -6,0M298.9,683.3a3.0,3.0 0 1,0 6,0a3.0,3.0 0 1,0 -6,0M303,678.6a3.0,3.0 0 1,0 6,0a3.0,3.0 0 1,0 -6,0M307.1,673.5a3.0,3.0 0 1,0 6,0a3.0,3.0 0 1,0 -6,0M311.2,668.7a3.0,3.0 0 1,0 6,0a3.0,3.0 0 1,0 -6,0M315.3,664a3.0,3.0 0 1,0 6,0a3.0,3.0 0 1,0 -6,0M319.4,660.3a3.0,3.0 0 1,0 6,0a3.0,3.0 0 1,0 -6,0M323.5,657.5a3.0,3.0 0 1,0 6,0a3.0,3.0 0 1,0 -6,0M327.6,656a3.0,3.0 0 1,0 6,0a3.0,3.0 0 1,0 -6,0M331.7,656.2a3.0,3.0 0 1,0 6,0a3.0,3.0 0 1,0 -6,0M335.8,657.4a3.0,3.0 0 1,0 6,0a3.0,3.0 0 1,0 -6,0M339.9,660.3a3.0,3.0 0 1,0 6,0a3.0,3.0 0 1,0 -6,0M344,663.8a3.0,3.0 0 1,0 6,0a3.0,3.0 0 1,0 -6,0M348.1,668.3a3.0,3.0 0 1,0 6,0a3.0,3.0 0 1,0 -6,0M352.2,672.7a3.0,3.0 0 1,0 6,0a3.0,3.0 0 1,0 -6,0M356.3,677.9a3.0,3.0 0 1,0 6,0a3.0,3.0 0 1,0 -6,0M360.4,682.4a3.0,3.0 0 1,0 6,0a3.0,3.0 0 1,0 -6,0M364.5,686.8a3.0,3.0 0 1,0 6,0a3.0,3.0 0 1,0 -6,0M368.6,690.6a3.0,3.0 0 1,0 6,0a3.0,3.0 0 1,0 -6,0M372.7,694.3a3.0,3.0 0 1,0 6,0a3.0,3.0 0 1,0 -6,0M376.8,697a3.0,3.0 0 1,0 6,0a3.0,3.0 0 1,0 -6,0M380.9,699.7a3.0,3.0 0 1,0 6,0a3.0,3.0 0 1,0 -6,0M385,701.6a3.0,3.0 0 1,0 6,0a3.0,3.0 0 1,0 -6,0M389.1,703.1a3.0,3.0 0 1,0 6,0a3.0,3.0 0 1,0 -6,0M393.2,704.6a3.0,3.0 0 1,0 6,0a3.0,3.0 0 1,0 -6,0M397.3,705.9a3.0,3.0 0 1,0 6,0a3.0,3.0 0 1,0 -6,0M401.4,706.4a3.0,3.0 0 1,0 6,0a3.0,3.0 0 1,0 -6,0M405.5,707.5a3.0,3.0 0 1,0 6,0a3.0,3.0 0 1,0 -6,0M409.6,708.1a3.0,3.0 0 1,0 6,0a3.0,3.0 0 1,0 -6,0M413.7,708.6a3.0,3.0 0 1,0 6,0a3.0,3.0 0 1,0 -6,0M417.8,708.9a3.0,3.0 0 1,0 6,0a3.0,3.0 0 1,0 -6,0M421.9,709.3a3.0,3.0 0 1,0 6,0a3.0,3.0 0 1,0 -6,0M426,709.6a3.0,3.0 0 1,0 6,0a3.0,3.0 0 1,0 -6,0M430.1,710a3.0,3.0 0 1,0 6,0a3.0,3.0 0 1,0 -6,0M434.2,709.8a3.0,3.0 0 1,0 6,0a3.0,3.0 0 1,0 -6,0M438.3,710.2a3.0,3.0 0 1,0 6,0a3.0,3.0 0 1,0 -6,0M442.4,710.2a3.0,3.0 0 1,0 6,0a3.0,3.0 0 1,0 -6,0M446.5,710.5a3.0,3.0 0 1,0 6,0a3.0,3.0 0 1,0 -6,0M450.6,710.4a3.0,3.0 0 1,0 6,0a3.0,3.0 0 1,0 -6,0M454.7,710.5a3.0,3.0 0 1,0 6,0a3.0,3.0 0 1,0 -6,0M458.8,710.6a3.0,3.0 0 1,0 6,0a3.0,3.0 0 1,0 -6,0M462.9,711a3.0,3.0 0 1,0 6,0a3.0,3.0 0 1,0 -6,0"/>
<line x1="245.5" y1="335.5" x2="245.5" y2="384.0" stroke="#f04848" stroke-width="2.2"/>
<line x1="219.3" y1="406.7" x2="219.3" y2="453.3" stroke="#f04848" stroke-width="2.2"/>
<line x1="215.6" y1="493.8" x2="215.6" y2="540.0" stroke="#f04848" stroke-width="2.2"/>
<line x1="212.8" y1="574.3" x2="212.8" y2="621.2" stroke="#f04848" stroke-width="2.2"/>
<line x1="200.5" y1="645.0" x2="200.5" y2="692.3" stroke="#f04848" stroke-width="2.2"/>
<line x1="376.7" y1="334.7" x2="376.7" y2="381.3" stroke="#4aa0e8" stroke-width="2.2"/>
<line x1="350.5" y1="399.5" x2="350.5" y2="445.3" stroke="#4aa0e8" stroke-width="2.2"/>
<line x1="350.3" y1="485.8" x2="350.3" y2="527.8" stroke="#4aa0e8" stroke-width="2.2"/>
<line x1="348.2" y1="561.7" x2="348.2" y2="608.3" stroke="#4aa0e8" stroke-width="2.2"/>
<line x1="333.5" y1="634.5" x2="333.5" y2="683.5" stroke="#4aa0e8" stroke-width="2.2"/>
<path d="M245.5,384 219.3,406.7" fill="none" stroke="#000" stroke-width="2.2" stroke-linejoin="round" stroke-dasharray="4.5,3"/>
<path d="M219.3,453.3 215.6,493.8" fill="none" stroke="#000" stroke-width="2.2" stroke-linejoin="round" stroke-dasharray="4.5,3"/>
<path d="M215.6,540 212.8,574.3" fill="none" stroke="#000" stroke-width="2.2" stroke-linejoin="round" stroke-dasharray="4.5,3"/>
<path d="M212.8,621.2 200.5,645" fill="none" stroke="#000" stroke-width="2.2" stroke-linejoin="round" stroke-dasharray="4.5,3"/>
<path d="M376.7,381.3 350.5,399.5" fill="none" stroke="#000" stroke-width="2.2" stroke-linejoin="round" stroke-dasharray="4.5,3"/>
<path d="M350.5,445.3 350.3,485.8" fill="none" stroke="#000" stroke-width="2.2" stroke-linejoin="round" stroke-dasharray="4.5,3"/>
<path d="M350.3,527.8 348.2,561.7" fill="none" stroke="#000" stroke-width="2.2" stroke-linejoin="round" stroke-dasharray="4.5,3"/>
<path d="M348.2,608.3 333.5,634.5" fill="none" stroke="#000" stroke-width="2.2" stroke-linejoin="round" stroke-dasharray="4.5,3"/>
<text x="55.4" y="354.0" font-family="Liberation Serif" font-size="39" font-weight="bold" fill="#000" text-anchor="start">(e)</text>
<text x="59.1" y="378.4" font-family="Liberation Serif" font-size="20.2" font-weight="bold" fill="#2aae8c" text-anchor="start">SiC@MO-t8</text>
<text x="56.0" y="451.4" font-family="Liberation Serif" font-size="20.2" font-weight="bold" fill="#4a64a0" text-anchor="start">SiC@MO-t6</text>
<text x="54.9" y="533.4" font-family="Liberation Serif" font-size="20.2" font-weight="bold" fill="#c8783a" text-anchor="start">SiC@MO-t4</text>
<text x="54.0" y="616.4" font-family="Liberation Serif" font-size="20.2" font-weight="bold" fill="#b3952f" text-anchor="start">SiC@MO-t2</text>
<text x="52.4" y="691.4" font-family="Liberation Serif" font-size="20.2" font-weight="bold" fill="#5a8c3a" text-anchor="start">SiC@MoO<tspan font-size="13.5" dy="4">3</tspan></text>
<text x="200.3" y="348.6" font-family="Liberation Serif" font-size="19.8" font-weight="bold" fill="#f07a7a" text-anchor="start">Mo<tspan font-size="13.1" dx="1" dy="-6.7">6+</tspan></text>
<text x="274.8" y="363.0" font-family="Liberation Serif" font-size="19.8" font-weight="bold" fill="#aca21a" text-anchor="start">Mo<tspan font-size="13.1" dx="1" dy="-6.7">5+</tspan></text>
<text x="327.3" y="341.8" font-family="Liberation Serif" font-size="19.8" font-weight="bold" fill="#4aa0ee" text-anchor="start">Mo<tspan font-size="13.1" dx="1" dy="-6.7">6+</tspan></text>
<text x="416.3" y="366.0" font-family="Liberation Serif" font-size="19.8" font-weight="bold" fill="#38aa70" text-anchor="start">Mo<tspan font-size="13.1" dx="1" dy="-6.7">5+</tspan></text>
<text x="464.0" y="341.5" font-family="Liberation Serif" font-size="19.9" font-weight="bold" fill="#000" text-anchor="end">Mo 3d</text>
<rect x="50.3" y="322.6" width="417.1" height="401.1" fill="none" stroke="#000" stroke-width="2.8"/>
<line x1="92.0" y1="723.7" x2="92.0" y2="726.7" stroke="#000" stroke-width="2.5"/>
<line x1="133.7" y1="723.7" x2="133.7" y2="728.2" stroke="#000" stroke-width="2.5"/>
<line x1="175.4" y1="723.7" x2="175.4" y2="726.7" stroke="#000" stroke-width="2.5"/>
<line x1="217.1" y1="723.7" x2="217.1" y2="728.2" stroke="#000" stroke-width="2.5"/>
<line x1="258.9" y1="723.7" x2="258.9" y2="726.7" stroke="#000" stroke-width="2.5"/>
<line x1="300.6" y1="723.7" x2="300.6" y2="728.2" stroke="#000" stroke-width="2.5"/>
<line x1="342.3" y1="723.7" x2="342.3" y2="726.7" stroke="#000" stroke-width="2.5"/>
<line x1="384.0" y1="723.7" x2="384.0" y2="728.2" stroke="#000" stroke-width="2.5"/>
<line x1="425.7" y1="723.7" x2="425.7" y2="726.7" stroke="#000" stroke-width="2.5"/>
<text x="50.3" y="744.3" font-family="Liberation Serif" font-size="17.8" font-weight="bold" fill="#000" text-anchor="middle">240</text>
<text x="133.7" y="744.3" font-family="Liberation Serif" font-size="17.8" font-weight="bold" fill="#000" text-anchor="middle">238</text>
<text x="217.1" y="744.3" font-family="Liberation Serif" font-size="17.8" font-weight="bold" fill="#000" text-anchor="middle">236</text>
<text x="300.6" y="744.3" font-family="Liberation Serif" font-size="17.8" font-weight="bold" fill="#000" text-anchor="middle">234</text>
<text x="384.0" y="744.3" font-family="Liberation Serif" font-size="17.8" font-weight="bold" fill="#000" text-anchor="middle">232</text>
<text x="467.4" y="744.3" font-family="Liberation Serif" font-size="17.8" font-weight="bold" fill="#000" text-anchor="middle">230</text>
<text x="259.0" y="764.7" font-family="Liberation Serif" font-size="26.4" font-weight="bold" fill="#000" text-anchor="middle">Binding Energy (eV)</text>
<text x="35.4" y="522.6" font-family="Liberation Serif" font-size="26.4" font-weight="bold" fill="#000" text-anchor="middle" transform="rotate(-90 35.4 522.6)">Intensity (a.u.)</text>
<path d="M503.6,397.4 506.1,397.4 508.6,397.3 511.1,397.3 513.6,397.3 516.1,397.3 518.6,397.3 521.1,397.3 523.6,397.3 526.1,397.3 528.6,397.2 531.1,397.2 533.6,397.2 536.1,397.1 538.6,397.1 541.1,397.1 543.6,397 546.1,397 548.6,396.9 551.1,396.8 553.6,396.7 556.1,396.6 558.6,396.5 561.1,396.3 563.6,396.1 566.1,395.9 568.6,395.7 571.1,395.4 573.6,395.1 576.1,394.8 578.6,394.4 581.1,393.9 583.6,393.4 586.1,392.8 588.6,392.1 591.1,391.4 593.6,390.6 596.1,389.6 598.6,388.6 601.1,387.5 603.6,386.3 606.1,385 608.6,383.6 611.1,382.1 613.6,380.5 616.1,378.8 618.6,376.9 621.1,375.1 623.6,373.1 626.1,371 628.6,368.9 631.1,366.8 633.6,364.6 636.1,362.5 638.6,360.3 641.1,358.2 643.6,356.1 646.1,354.1 648.6,352.2 651.1,350.5 653.6,348.8 656.1,347.4 658.6,346.2 661.1,345.1 663.6,344.3 666.1,343.8 668.6,343.5 671.1,343.5 673.6,343.8 676.1,344.3 678.6,345 681.1,346 683.6,347.2 686.1,348.6 688.6,350.2 691.1,352 693.6,353.9 696.1,355.9 698.6,358 701.1,360.1 703.6,362.3 706.1,364.4 708.6,366.6 711.1,368.8 713.6,370.9 716.1,373 718.6,375 721.1,376.9 723.6,378.8 726.1,380.5 728.6,382.2 731.1,383.7 733.6,385.2 736.1,386.5 738.6,387.8 741.1,388.9 743.6,390 746.1,390.9 748.6,391.8 751.1,392.6 753.5,393.3 756,393.9 758.5,394.4 761,394.9 763.5,395.4 766,395.7 768.5,396.1 771,396.4 773.5,396.6 776,396.9 778.5,397.1 781,397.2 783.5,397.4 786,397.5 788.5,397.6 791,397.7 793.5,397.8 796,397.9 798.5,398 801,398 803.5,398.1 806,398.1 808.5,398.2 811,398.2 813.5,398.3 816,398.3 818.5,398.3 821,398.4 823.5,398.4 826,398.4 828.5,398.4 831,398.5 833.5,398.5 836,398.5 838.5,398.6 841,398.6 843.5,398.6 846,398.6 848.5,398.6 851,398.7 853.5,398.7 856,398.7 858.5,398.7 861,398.7 863.5,398.8 866,398.8 868.5,398.8 871,398.8 873.5,398.8 876,398.8 878.5,398.9 881,398.9 883.5,398.9 886,398.9 888.5,398.9 891,398.9 893.5,399 896,399 898.5,399 901,399 903.5,399 L903.5,399.3 503.6,397.9Z" fill="url(#rg1)" stroke="none"/>
<path d="M503.6,397.4 506.1,397.4 508.6,397.3 511.1,397.3 513.6,397.3 516.1,397.3 518.6,397.3 521.1,397.3 523.6,397.3 526.1,397.3 528.6,397.2 531.1,397.2 533.6,397.2 536.1,397.1 538.6,397.1 541.1,397.1 543.6,397 546.1,397 548.6,396.9 551.1,396.8 553.6,396.7 556.1,396.6 558.6,396.5 561.1,396.3 563.6,396.1 566.1,395.9 568.6,395.7 571.1,395.4 573.6,395.1 576.1,394.8 578.6,394.4 581.1,393.9 583.6,393.4 586.1,392.8 588.6,392.1 591.1,391.4 593.6,390.6 596.1,389.6 598.6,388.6 601.1,387.5 603.6,386.3 606.1,385 608.6,383.6 611.1,382.1 613.6,380.5 616.1,378.8 618.6,376.9 621.1,375.1 623.6,373.1 626.1,371 628.6,368.9 631.1,366.8 633.6,364.6 636.1,362.5 638.6,360.3 641.1,358.2 643.6,356.1 646.1,354.1 648.6,352.2 651.1,350.5 653.6,348.8 656.1,347.4 658.6,346.2 661.1,345.1 663.6,344.3 666.1,343.8 668.6,343.5 671.1,343.5 673.6,343.8 676.1,344.3 678.6,345 681.1,346 683.6,347.2 686.1,348.6 688.6,350.2 691.1,352 693.6,353.9 696.1,355.9 698.6,358 701.1,360.1 703.6,362.3 706.1,364.4 708.6,366.6 711.1,368.8 713.6,370.9 716.1,373 718.6,375 721.1,376.9 723.6,378.8 726.1,380.5 728.6,382.2 731.1,383.7 733.6,385.2 736.1,386.5 738.6,387.8 741.1,388.9 743.6,390 746.1,390.2 748.6,390.3 751.1,390.4 753.5,390.6 756,390.9 758.5,391.2 761,391.5 763.5,391.9 766,392.4 768.5,392.8 771,393.3 773.5,393.7 776,394.2 778.5,394.6 781,395 783.5,395.4 786,395.8 788.5,396.2 791,396.5 793.5,396.8 796,397.1 798.5,397.3 801,397.6 803.5,397.8 806,397.9 808.5,398.1 811,398.2 813.5,398.3 816,398.3 818.5,398.3 821,398.4 823.5,398.4 826,398.4 828.5,398.4 831,398.5 833.5,398.5 836,398.5 838.5,398.6 841,398.6 843.5,398.6 846,398.6 848.5,398.6 851,398.7 853.5,398.7 856,398.7 858.5,398.7 861,398.7 863.5,398.8 866,398.8 868.5,398.8 871,398.8 873.5,398.8 876,398.8 878.5,398.9 881,398.9 883.5,398.9 886,398.9 888.5,398.9 891,398.9 893.5,399 896,399 898.5,399 901,399 903.5,399 903.5,399 901,399 898.5,399 896,399 893.5,399 891,398.9 888.5,398.9 886,398.9 883.5,398.9 881,398.9 878.5,398.9 876,398.8 873.5,398.8 871,398.8 868.5,398.8 866,398.8 863.5,398.8 861,398.7 858.5,398.7 856,398.7 853.5,398.7 851,398.7 848.5,398.6 846,398.6 843.5,398.6 841,398.6 838.5,398.6 836,398.5 833.5,398.5 831,398.5 828.5,398.4 826,398.4 823.5,398.4 821,398.4 818.5,398.3 816,398.3 813.5,398.3 811,398.2 808.5,398.2 806,398.1 803.5,398.1 801,398 798.5,398 796,397.9 793.5,397.8 791,397.7 788.5,397.6 786,397.5 783.5,397.4 781,397.2 778.5,397.1 776,396.9 773.5,396.6 771,396.4 768.5,396.1 766,395.7 763.5,395.4 761,394.9 758.5,394.4 756,393.9 753.5,393.3 751.1,392.6 748.6,391.8 746.1,390.9 743.6,390 741.1,388.9 738.6,387.8 736.1,386.5 733.6,385.2 731.1,383.7 728.6,382.2 726.1,380.5 723.6,378.8 721.1,376.9 718.6,375 716.1,373 713.6,370.9 711.1,368.8 708.6,366.6 706.1,364.4 703.6,362.3 701.1,360.1 698.6,358 696.1,355.9 693.6,353.9 691.1,352 688.6,350.2 686.1,348.6 683.6,347.2 681.1,346 678.6,345 676.1,344.3 673.6,343.8 671.1,343.5 668.6,343.5 666.1,343.8 663.6,344.3 661.1,345.1 658.6,346.2 656.1,347.4 653.6,348.8 651.1,350.5 648.6,352.2 646.1,354.1 643.6,356.1 641.1,358.2 638.6,360.3 636.1,362.5 633.6,364.6 631.1,366.8 628.6,368.9 626.1,371 623.6,373.1 621.1,375.1 618.6,376.9 616.1,378.8 613.6,380.5 611.1,382.1 608.6,383.6 606.1,385 603.6,386.3 601.1,387.5 598.6,388.6 596.1,389.6 593.6,390.6 591.1,391.4 588.6,392.1 586.1,392.8 583.6,393.4 581.1,393.9 578.6,394.4 576.1,394.8 573.6,395.1 571.1,395.4 568.6,395.7 566.1,395.9 563.6,396.1 561.1,396.3 558.6,396.5 556.1,396.6 553.6,396.7 551.1,396.8 548.6,396.9 546.1,397 543.6,397 541.1,397.1 538.6,397.1 536.1,397.1 533.6,397.2 531.1,397.2 528.6,397.2 526.1,397.3 523.6,397.3 521.1,397.3 518.6,397.3 516.1,397.3 513.6,397.3 511.1,397.3 508.6,397.3 506.1,397.4 503.6,397.4Z" fill="#f9d8dc"/>
<path d="M503.6,397.4 506.1,397.4 508.6,397.3 511.1,397.3 513.6,397.3 516.1,397.3 518.6,397.3 521.1,397.3 523.6,397.3 526.1,397.3 528.6,397.2 531.1,397.2 533.6,397.2 536.1,397.1 538.6,397.1 541.1,397.1 543.6,397 546.1,397 548.6,396.9 551.1,396.8 553.6,396.7 556.1,396.6 558.6,396.5 561.1,396.3 563.6,396.1 566.1,395.9 568.6,395.7 571.1,395.4 573.6,395.1 576.1,394.8 578.6,394.4 581.1,393.9 583.6,393.4 586.1,392.8 588.6,392.1 591.1,391.4 593.6,390.6 596.1,389.6 598.6,388.6 601.1,387.5 603.6,386.3 606.1,385 608.6,383.6 611.1,382.1 613.6,380.5 616.1,378.8 618.6,376.9 621.1,375.1 623.6,373.1 626.1,371 628.6,368.9 631.1,366.8 633.6,364.6 636.1,362.5 638.6,360.3 641.1,358.2 643.6,356.1 646.1,354.1 648.6,352.2 651.1,350.5 653.6,348.8 656.1,347.4 658.6,346.2 661.1,345.1 663.6,344.3 666.1,343.8 668.6,343.5 671.1,343.5 673.6,343.8 676.1,344.3 678.6,345 681.1,346 683.6,347.2 686.1,348.6 688.6,350.2 691.1,352 693.6,353.9 696.1,355.9 698.6,358 701.1,360.1 703.6,362.3 706.1,364.4 708.6,366.6 711.1,368.8 713.6,370.9 716.1,373 718.6,375 721.1,376.9 723.6,378.8 726.1,380.5 728.6,382.2 731.1,383.7 733.6,385.2 736.1,386.5 738.6,387.8 741.1,388.9 743.6,390 746.1,390.9 748.6,391.8 751.1,392.6 753.5,393.3 756,393.9 758.5,394.4 761,394.9 763.5,395.4 766,395.7 768.5,396.1 771,396.4 773.5,396.6 776,396.9 778.5,397.1 781,397.2 783.5,397.4 786,397.5 788.5,397.6 791,397.7 793.5,397.8 796,397.9 798.5,398 801,398 803.5,398.1 806,398.1 808.5,398.2 811,398.2 813.5,398.3 816,398.3 818.5,398.3 821,398.4 823.5,398.4 826,398.4 828.5,398.4 831,398.5 833.5,398.5 836,398.5 838.5,398.6 841,398.6" fill="none" stroke="#3a96c4" stroke-width="1.5" stroke-linejoin="round"/>
<path d="M673.6,398 676.1,397.9 678.6,397.8 681.1,397.8 683.6,397.6 686.1,397.5 688.6,397.4 691.1,397.2 693.6,397 696.1,396.7 698.6,396.5 701.1,396.2 703.6,395.9 706.1,395.6 708.6,395.2 711.1,394.8 713.6,394.4 716.1,394 718.6,393.5 721.1,393.1 723.6,392.6 726.1,392.2 728.6,391.8 731.1,391.4 733.6,391.1 736.1,390.8 738.6,390.6 741.1,390.4 743.6,390.3 746.1,390.2 748.6,390.3 751.1,390.4 753.5,390.6 756,390.9 758.5,391.2 761,391.5 763.5,391.9 766,392.4 768.5,392.8 771,393.3 773.5,393.7 776,394.2 778.5,394.6 781,395 783.5,395.4 786,395.8 788.5,396.2 791,396.5 793.5,396.8 796,397.1 798.5,397.3 801,397.6 803.5,397.8 806,397.9 808.5,398.1 811,398.2 813.5,398.3 816,398.4 818.5,398.5" fill="none" stroke="#a050a8" stroke-width="1.5" stroke-linejoin="round"/>
<line x1="505.0" y1="397.9" x2="903.0" y2="399.3" stroke="#f07d18" stroke-width="2.4"/>
<path fill="#ffffff" fill-opacity="0.45" stroke="#9a9a9a" stroke-width="0.9" d="M502.4,397.3a2.7,2.7 0 1,0 5.4,0a2.7,2.7 0 1,0 -5.4,0M507.1,397.5a2.7,2.7 0 1,0 5.4,0a2.7,2.7 0 1,0 -5.4,0M511.8,397.4a2.7,2.7 0 1,0 5.4,0a2.7,2.7 0 1,0 -5.4,0M516.5,397.1a2.7,2.7 0 1,0 5.4,0a2.7,2.7 0 1,0 -5.4,0M521.2,397.3a2.7,2.7 0 1,0 5.4,0a2.7,2.7 0 1,0 -5.4,0M525.9,396.9a2.7,2.7 0 1,0 5.4,0a2.7,2.7 0 1,0 -5.4,0M530.6,397.4a2.7,2.7 0 1,0 5.4,0a2.7,2.7 0 1,0 -5.4,0M535.3,397.1a2.7,2.7 0 1,0 5.4,0a2.7,2.7 0 1,0 -5.4,0M540,396.8a2.7,2.7 0 1,0 5.4,0a2.7,2.7 0 1,0 -5.4,0M544.7,396.9a2.7,2.7 0 1,0 5.4,0a2.7,2.7 0 1,0 -5.4,0M549.4,396.7a2.7,2.7 0 1,0 5.4,0a2.7,2.7 0 1,0 -5.4,0M554.1,396.6a2.7,2.7 0 1,0 5.4,0a2.7,2.7 0 1,0 -5.4,0M558.8,396.1a2.7,2.7 0 1,0 5.4,0a2.7,2.7 0 1,0 -5.4,0M563.5,396.1a2.7,2.7 0 1,0 5.4,0a2.7,2.7 0 1,0 -5.4,0M568.2,395.5a2.7,2.7 0 1,0 5.4,0a2.7,2.7 0 1,0 -5.4,0M572.9,394.6a2.7,2.7 0 1,0 5.4,0a2.7,2.7 0 1,0 -5.4,0M577.6,394.1a2.7,2.7 0 1,0 5.4,0a2.7,2.7 0 1,0 -5.4,0M582.3,393.2a2.7,2.7 0 1,0 5.4,0a2.7,2.7 0 1,0 -5.4,0M587,391.6a2.7,2.7 0 1,0 5.4,0a2.7,2.7 0 1,0 -5.4,0M591.7,390.3a2.7,2.7 0 1,0 5.4,0a2.7,2.7 0 1,0 -5.4,0M596.4,388.5a2.7,2.7 0 1,0 5.4,0a2.7,2.7 0 1,0 -5.4,0M601.1,386.3a2.7,2.7 0 1,0 5.4,0a2.7,2.7 0 1,0 -5.4,0M605.8,383.3a2.7,2.7 0 1,0 5.4,0a2.7,2.7 0 1,0 -5.4,0M610.5,380.8a2.7,2.7 0 1,0 5.4,0a2.7,2.7 0 1,0 -5.4,0M615.2,377.2a2.7,2.7 0 1,0 5.4,0a2.7,2.7 0 1,0 -5.4,0M619.9,373.9a2.7,2.7 0 1,0 5.4,0a2.7,2.7 0 1,0 -5.4,0M624.6,370a2.7,2.7 0 1,0 5.4,0a2.7,2.7 0 1,0 -5.4,0M629.3,365.8a2.7,2.7 0 1,0 5.4,0a2.7,2.7 0 1,0 -5.4,0M634,362a2.7,2.7 0 1,0 5.4,0a2.7,2.7 0 1,0 -5.4,0M638.7,357.9a2.7,2.7 0 1,0 5.4,0a2.7,2.7 0 1,0 -5.4,0M643.4,354.2a2.7,2.7 0 1,0 5.4,0a2.7,2.7 0 1,0 -5.4,0M648.1,350.7a2.7,2.7 0 1,0 5.4,0a2.7,2.7 0 1,0 -5.4,0M652.8,347.5a2.7,2.7 0 1,0 5.4,0a2.7,2.7 0 1,0 -5.4,0M657.5,345.3a2.7,2.7 0 1,0 5.4,0a2.7,2.7 0 1,0 -5.4,0M662.2,343.8a2.7,2.7 0 1,0 5.4,0a2.7,2.7 0 1,0 -5.4,0M666.9,343.1a2.7,2.7 0 1,0 5.4,0a2.7,2.7 0 1,0 -5.4,0M671.6,343.4a2.7,2.7 0 1,0 5.4,0a2.7,2.7 0 1,0 -5.4,0M676.3,344.5a2.7,2.7 0 1,0 5.4,0a2.7,2.7 0 1,0 -5.4,0M681,346.3a2.7,2.7 0 1,0 5.4,0a2.7,2.7 0 1,0 -5.4,0M685.7,348.8a2.7,2.7 0 1,0 5.4,0a2.7,2.7 0 1,0 -5.4,0M690.4,352.2a2.7,2.7 0 1,0 5.4,0a2.7,2.7 0 1,0 -5.4,0M695.1,355.5a2.7,2.7 0 1,0 5.4,0a2.7,2.7 0 1,0 -5.4,0M699.8,358.9a2.7,2.7 0 1,0 5.4,0a2.7,2.7 0 1,0 -5.4,0M704.5,362.3a2.7,2.7 0 1,0 5.4,0a2.7,2.7 0 1,0 -5.4,0M709.2,365.5a2.7,2.7 0 1,0 5.4,0a2.7,2.7 0 1,0 -5.4,0M713.9,368.7a2.7,2.7 0 1,0 5.4,0a2.7,2.7 0 1,0 -5.4,0M718.6,371.6a2.7,2.7 0 1,0 5.4,0a2.7,2.7 0 1,0 -5.4,0M723.3,373.8a2.7,2.7 0 1,0 5.4,0a2.7,2.7 0 1,0 -5.4,0M728,376.3a2.7,2.7 0 1,0 5.4,0a2.7,2.7 0 1,0 -5.4,0M732.7,378.6a2.7,2.7 0 1,0 5.4,0a2.7,2.7 0 1,0 -5.4,0M737.4,380.1a2.7,2.7 0 1,0 5.4,0a2.7,2.7 0 1,0 -5.4,0M742.1,381.9a2.7,2.7 0 1,0 5.4,0a2.7,2.7 0 1,0 -5.4,0M746.8,383.4a2.7,2.7 0 1,0 5.4,0a2.7,2.7 0 1,0 -5.4,0M751.5,385.2a2.7,2.7 0 1,0 5.4,0a2.7,2.7 0 1,0 -5.4,0M756.2,387.1a2.7,2.7 0 1,0 5.4,0a2.7,2.7 0 1,0 -5.4,0M760.9,388.3a2.7,2.7 0 1,0 5.4,0a2.7,2.7 0 1,0 -5.4,0M765.6,390.1a2.7,2.7 0 1,0 5.4,0a2.7,2.7 0 1,0 -5.4,0M770.3,391.5a2.7,2.7 0 1,0 5.4,0a2.7,2.7 0 1,0 -5.4,0M775,392.8a2.7,2.7 0 1,0 5.4,0a2.7,2.7 0 1,0 -5.4,0M779.7,393.6a2.7,2.7 0 1,0 5.4,0a2.7,2.7 0 1,0 -5.4,0M784.4,394.9a2.7,2.7 0 1,0 5.4,0a2.7,2.7 0 1,0 -5.4,0M789.1,395.4a2.7,2.7 0 1,0 5.4,0a2.7,2.7 0 1,0 -5.4,0M793.8,396.1a2.7,2.7 0 1,0 5.4,0a2.7,2.7 0 1,0 -5.4,0M798.5,396.9a2.7,2.7 0 1,0 5.4,0a2.7,2.7 0 1,0 -5.4,0M803.2,397.1a2.7,2.7 0 1,0 5.4,0a2.7,2.7 0 1,0 -5.4,0M807.9,397.5a2.7,2.7 0 1,0 5.4,0a2.7,2.7 0 1,0 -5.4,0M812.6,397.5a2.7,2.7 0 1,0 5.4,0a2.7,2.7 0 1,0 -5.4,0M817.3,397.6a2.7,2.7 0 1,0 5.4,0a2.7,2.7 0 1,0 -5.4,0M822,397.9a2.7,2.7 0 1,0 5.4,0a2.7,2.7 0 1,0 -5.4,0M826.7,398a2.7,2.7 0 1,0 5.4,0a2.7,2.7 0 1,0 -5.4,0M831.4,398.4a2.7,2.7 0 1,0 5.4,0a2.7,2.7 0 1,0 -5.4,0M836.1,398.2a2.7,2.7 0 1,0 5.4,0a2.7,2.7 0 1,0 -5.4,0M840.8,398.6a2.7,2.7 0 1,0 5.4,0a2.7,2.7 0 1,0 -5.4,0M845.5,398.6a2.7,2.7 0 1,0 5.4,0a2.7,2.7 0 1,0 -5.4,0M850.2,398.4a2.7,2.7 0 1,0 5.4,0a2.7,2.7 0 1,0 -5.4,0M854.9,398.7a2.7,2.7 0 1,0 5.4,0a2.7,2.7 0 1,0 -5.4,0M859.6,398.5a2.7,2.7 0 1,0 5.4,0a2.7,2.7 0 1,0 -5.4,0M864.3,398.7a2.7,2.7 0 1,0 5.4,0a2.7,2.7 0 1,0 -5.4,0M869,398.5a2.7,2.7 0 1,0 5.4,0a2.7,2.7 0 1,0 -5.4,0M873.7,398.9a2.7,2.7 0 1,0 5.4,0a2.7,2.7 0 1,0 -5.4,0M878.4,398.9a2.7,2.7 0 1,0 5.4,0a2.7,2.7 0 1,0 -5.4,0M883.1,398.9a2.7,2.7 0 1,0 5.4,0a2.7,2.7 0 1,0 -5.4,0M887.8,399a2.7,2.7 0 1,0 5.4,0a2.7,2.7 0 1,0 -5.4,0M892.5,398.8a2.7,2.7 0 1,0 5.4,0a2.7,2.7 0 1,0 -5.4,0M897.2,398.7a2.7,2.7 0 1,0 5.4,0a2.7,2.7 0 1,0 -5.4,0"/>
<path d="M503.6,477.6 506.1,477.6 508.6,477.6 511.1,477.6 513.6,477.6 516.1,477.6 518.6,477.6 521.1,477.6 523.6,477.5 526.1,477.5 528.6,477.5 531.1,477.5 533.6,477.4 536.1,477.4 538.6,477.4 541.1,477.3 543.6,477.3 546.1,477.2 548.6,477.1 551.1,477 553.6,476.9 556.1,476.8 558.6,476.7 561.1,476.5 563.6,476.3 566.1,476.1 568.6,475.9 571.1,475.6 573.6,475.3 576.1,474.9 578.6,474.5 581.1,474 583.6,473.4 586.1,472.8 588.6,472.1 591.1,471.4 593.6,470.5 596.1,469.5 598.6,468.5 601.1,467.3 603.6,466.1 606.1,464.7 608.6,463.2 611.1,461.6 613.6,459.9 616.1,458.1 618.6,456.3 621.1,454.3 623.6,452.2 626.1,450.1 628.6,447.9 631.1,445.6 633.6,443.4 636.1,441.1 638.6,438.8 641.1,436.6 643.6,434.4 646.1,432.4 648.6,430.4 651.1,428.5 653.6,426.8 656.1,425.3 658.6,424 661.1,423 663.6,422.1 666.1,421.6 668.6,421.3 671.1,421.3 673.6,421.5 676.1,422.1 678.6,422.8 681.1,423.9 683.6,425.2 686.1,426.6 688.6,428.3 691.1,430.1 693.6,432.1 696.1,434.2 698.6,436.4 701.1,438.6 703.6,440.9 706.1,443.1 708.6,445.4 711.1,447.7 713.6,449.9 716.1,452.1 718.6,454.2 721.1,456.2 723.6,458.1 726.1,460 728.6,461.7 731.1,463.3 733.6,464.8 736.1,466.2 738.6,467.5 741.1,468.7 743.6,469.8 746.1,470.8 748.6,471.7 751.1,472.5 753.5,473.2 756,473.9 758.5,474.5 761,475 763.5,475.4 766,475.8 768.5,476.2 771,476.5 773.5,476.8 776,477 778.5,477.2 781,477.4 783.5,477.5 786,477.7 788.5,477.8 791,477.9 793.5,478 796,478.1 798.5,478.1 801,478.2 803.5,478.3 806,478.3 808.5,478.4 811,478.4 813.5,478.4 816,478.5 818.5,478.5 821,478.6 823.5,478.6 826,478.6 828.5,478.6 831,478.7 833.5,478.7 836,478.7 838.5,478.7 841,478.8 843.5,478.8 846,478.8 848.5,478.8 851,478.9 853.5,478.9 856,478.9 858.5,478.9 861,478.9 863.5,479 866,479 868.5,479 871,479 873.5,479 876,479 878.5,479.1 881,479.1 883.5,479.1 886,479.1 888.5,479.1 891,479.1 893.5,479.2 896,479.2 898.5,479.2 901,479.2 903.5,479.2 L903.5,479.5 503.6,478.2Z" fill="url(#rg2)" stroke="none"/>
<path d="M503.6,477.6 506.1,477.6 508.6,477.6 511.1,477.6 513.6,477.6 516.1,477.6 518.6,477.6 521.1,477.6 523.6,477.5 526.1,477.5 528.6,477.5 531.1,477.5 533.6,477.4 536.1,477.4 538.6,477.4 541.1,477.3 543.6,477.3 546.1,477.2 548.6,477.1 551.1,477 553.6,476.9 556.1,476.8 558.6,476.7 561.1,476.5 563.6,476.3 566.1,476.1 568.6,475.9 571.1,475.6 573.6,475.3 576.1,474.9 578.6,474.5 581.1,474 583.6,473.4 586.1,472.8 588.6,472.1 591.1,471.4 593.6,470.5 596.1,469.5 598.6,468.5 601.1,467.3 603.6,466.1 606.1,464.7 608.6,463.2 611.1,461.6 613.6,459.9 616.1,458.1 618.6,456.3 621.1,454.3 623.6,452.2 626.1,450.1 628.6,447.9 631.1,445.6 633.6,443.4 636.1,441.1 638.6,438.8 641.1,436.6 643.6,434.4 646.1,432.4 648.6,430.4 651.1,428.5 653.6,426.8 656.1,425.3 658.6,424 661.1,423 663.6,422.1 666.1,421.6 668.6,421.3 671.1,421.3 673.6,421.5 676.1,422.1 678.6,422.8 681.1,423.9 683.6,425.2 686.1,426.6 688.6,428.3 691.1,430.1 693.6,432.1 696.1,434.2 698.6,436.4 701.1,438.6 703.6,440.9 706.1,443.1 708.6,445.4 711.1,447.7 713.6,449.9 716.1,452.1 718.6,454.2 721.1,456.2 723.6,458.1 726.1,460 728.6,461.7 731.1,463.3 733.6,464.8 736.1,466.2 738.6,467.5 741.1,468.7 743.6,469.8 746.1,470.5 748.6,470.6 751.1,470.8 753.5,471.1 756,471.4 758.5,471.8 761,472.2 763.5,472.6 766,473 768.5,473.5 771,473.9 773.5,474.4 776,474.8 778.5,475.3 781,475.7 783.5,476.1 786,476.4 788.5,476.7 791,477 793.5,477.3 796,477.6 798.5,477.8 801,478 803.5,478.1 806,478.3 808.5,478.4 811,478.4 813.5,478.4 816,478.5 818.5,478.5 821,478.6 823.5,478.6 826,478.6 828.5,478.6 831,478.7 833.5,478.7 836,478.7 838.5,478.7 841,478.8 843.5,478.8 846,478.8 848.5,478.8 851,478.9 853.5,478.9 856,478.9 858.5,478.9 861,478.9 863.5,479 866,479 868.5,479 871,479 873.5,479 876,479 878.5,479.1 881,479.1 883.5,479.1 886,479.1 888.5,479.1 891,479.1 893.5,479.2 896,479.2 898.5,479.2 901,479.2 903.5,479.2 903.5,479.2 901,479.2 898.5,479.2 896,479.2 893.5,479.2 891,479.1 888.5,479.1 886,479.1 883.5,479.1 881,479.1 878.5,479.1 876,479 873.5,479 871,479 868.5,479 866,479 863.5,479 861,478.9 858.5,478.9 856,478.9 853.5,478.9 851,478.9 848.5,478.8 846,478.8 843.5,478.8 841,478.8 838.5,478.7 836,478.7 833.5,478.7 831,478.7 828.5,478.6 826,478.6 823.5,478.6 821,478.6 818.5,478.5 816,478.5 813.5,478.4 811,478.4 808.5,478.4 806,478.3 803.5,478.3 801,478.2 798.5,478.1 796,478.1 793.5,478 791,477.9 788.5,477.8 786,477.7 783.5,477.5 781,477.4 778.5,477.2 776,477 773.5,476.8 771,476.5 768.5,476.2 766,475.8 763.5,475.4 761,475 758.5,474.5 756,473.9 753.5,473.2 751.1,472.5 748.6,471.7 746.1,470.8 743.6,469.8 741.1,468.7 738.6,467.5 736.1,466.2 733.6,464.8 731.1,463.3 728.6,461.7 726.1,460 723.6,458.1 721.1,456.2 718.6,454.2 716.1,452.1 713.6,449.9 711.1,447.7 708.6,445.4 706.1,443.1 703.6,440.9 701.1,438.6 698.6,436.4 696.1,434.2 693.6,432.1 691.1,430.1 688.6,428.3 686.1,426.6 683.6,425.2 681.1,423.9 678.6,422.8 676.1,422.1 673.6,421.5 671.1,421.3 668.6,421.3 666.1,421.6 663.6,422.1 661.1,423 658.6,424 656.1,425.3 653.6,426.8 651.1,428.5 648.6,430.4 646.1,432.4 643.6,434.4 641.1,436.6 638.6,438.8 636.1,441.1 633.6,443.4 631.1,445.6 628.6,447.9 626.1,450.1 623.6,452.2 621.1,454.3 618.6,456.3 616.1,458.1 613.6,459.9 611.1,461.6 608.6,463.2 606.1,464.7 603.6,466.1 601.1,467.3 598.6,468.5 596.1,469.5 593.6,470.5 591.1,471.4 588.6,472.1 586.1,472.8 583.6,473.4 581.1,474 578.6,474.5 576.1,474.9 573.6,475.3 571.1,475.6 568.6,475.9 566.1,476.1 563.6,476.3 561.1,476.5 558.6,476.7 556.1,476.8 553.6,476.9 551.1,477 548.6,477.1 546.1,477.2 543.6,477.3 541.1,477.3 538.6,477.4 536.1,477.4 533.6,477.4 531.1,477.5 528.6,477.5 526.1,477.5 523.6,477.5 521.1,477.6 518.6,477.6 516.1,477.6 513.6,477.6 511.1,477.6 508.6,477.6 506.1,477.6 503.6,477.6Z" fill="#f9d8dc"/>
<path d="M503.6,477.6 506.1,477.6 508.6,477.6 511.1,477.6 513.6,477.6 516.1,477.6 518.6,477.6 521.1,477.6 523.6,477.5 526.1,477.5 528.6,477.5 531.1,477.5 533.6,477.4 536.1,477.4 538.6,477.4 541.1,477.3 543.6,477.3 546.1,477.2 548.6,477.1 551.1,477 553.6,476.9 556.1,476.8 558.6,476.7 561.1,476.5 563.6,476.3 566.1,476.1 568.6,475.9 571.1,475.6 573.6,475.3 576.1,474.9 578.6,474.5 581.1,474 583.6,473.4 586.1,472.8 588.6,472.1 591.1,471.4 593.6,470.5 596.1,469.5 598.6,468.5 601.1,467.3 603.6,466.1 606.1,464.7 608.6,463.2 611.1,461.6 613.6,459.9 616.1,458.1 618.6,456.3 621.1,454.3 623.6,452.2 626.1,450.1 628.6,447.9 631.1,445.6 633.6,443.4 636.1,441.1 638.6,438.8 641.1,436.6 643.6,434.4 646.1,432.4 648.6,430.4 651.1,428.5 653.6,426.8 656.1,425.3 658.6,424 661.1,423 663.6,422.1 666.1,421.6 668.6,421.3 671.1,421.3 673.6,421.5 676.1,422.1 678.6,422.8 681.1,423.9 683.6,425.2 686.1,426.6 688.6,428.3 691.1,430.1 693.6,432.1 696.1,434.2 698.6,436.4 701.1,438.6 703.6,440.9 706.1,443.1 708.6,445.4 711.1,447.7 713.6,449.9 716.1,452.1 718.6,454.2 721.1,456.2 723.6,458.1 726.1,460 728.6,461.7 731.1,463.3 733.6,464.8 736.1,466.2 738.6,467.5 741.1,468.7 743.6,469.8 746.1,470.8 748.6,471.7 751.1,472.5 753.5,473.2 756,473.9 758.5,474.5 761,475 763.5,475.4 766,475.8 768.5,476.2 771,476.5 773.5,476.8 776,477 778.5,477.2 781,477.4 783.5,477.5 786,477.7 788.5,477.8 791,477.9 793.5,478 796,478.1 798.5,478.1 801,478.2 803.5,478.3 806,478.3 808.5,478.4 811,478.4 813.5,478.4 816,478.5 818.5,478.5 821,478.6 823.5,478.6 826,478.6 828.5,478.6 831,478.7 833.5,478.7 836,478.7 838.5,478.7 841,478.8 843.5,478.8 846,478.8" fill="none" stroke="#3a96c4" stroke-width="1.5" stroke-linejoin="round"/>
<path d="M671.1,478.2 673.6,478.2 676.1,478.1 678.6,478 681.1,477.9 683.6,477.8 686.1,477.6 688.6,477.4 691.1,477.2 693.6,477 696.1,476.7 698.6,476.4 701.1,476.1 703.6,475.8 706.1,475.4 708.6,475 711.1,474.6 713.6,474.2 716.1,473.8 718.6,473.3 721.1,472.9 723.6,472.5 726.1,472 728.6,471.7 731.1,471.3 733.6,471 736.1,470.8 738.6,470.6 741.1,470.5 743.6,470.5 746.1,470.5 748.6,470.6 751.1,470.8 753.5,471.1 756,471.4 758.5,471.8 761,472.2 763.5,472.6 766,473 768.5,473.5 771,473.9 773.5,474.4 776,474.8 778.5,475.3 781,475.7 783.5,476.1 786,476.4 788.5,476.7 791,477 793.5,477.3 796,477.6 798.5,477.8 801,478 803.5,478.1 806,478.3 808.5,478.4 811,478.5 813.5,478.6 816,478.7" fill="none" stroke="#a050a8" stroke-width="1.5" stroke-linejoin="round"/>
<line x1="505.0" y1="478.2" x2="903.0" y2="479.5" stroke="#f07d18" stroke-width="2.4"/>
<path fill="#ffffff" fill-opacity="0.45" stroke="#9a9a9a" stroke-width="0.9" d="M502.4,477.5a2.7,2.7 0 1,0 5.4,0a2.7,2.7 0 1,0 -5.4,0M507.1,477.7a2.7,2.7 0 1,0 5.4,0a2.7,2.7 0 1,0 -5.4,0M511.8,477.6a2.7,2.7 0 1,0 5.4,0a2.7,2.7 0 1,0 -5.4,0M516.5,477.3a2.7,2.7 0 1,0 5.4,0a2.7,2.7 0 1,0 -5.4,0M521.2,477.4a2.7,2.7 0 1,0 5.4,0a2.7,2.7 0 1,0 -5.4,0M525.9,477.4a2.7,2.7 0 1,0 5.4,0a2.7,2.7 0 1,0 -5.4,0M530.6,477.2a2.7,2.7 0 1,0 5.4,0a2.7,2.7 0 1,0 -5.4,0M535.3,477.1a2.7,2.7 0 1,0 5.4,0a2.7,2.7 0 1,0 -5.4,0M540,477.2a2.7,2.7 0 1,0 5.4,0a2.7,2.7 0 1,0 -5.4,0M544.7,476.9a2.7,2.7 0 1,0 5.4,0a2.7,2.7 0 1,0 -5.4,0M549.4,477.1a2.7,2.7 0 1,0 5.4,0a2.7,2.7 0 1,0 -5.4,0M554.1,476.5a2.7,2.7 0 1,0 5.4,0a2.7,2.7 0 1,0 -5.4,0M558.8,476.6a2.7,2.7 0 1,0 5.4,0a2.7,2.7 0 1,0 -5.4,0M563.5,476.2a2.7,2.7 0 1,0 5.4,0a2.7,2.7 0 1,0 -5.4,0M568.2,475.5a2.7,2.7 0 1,0 5.4,0a2.7,2.7 0 1,0 -5.4,0M572.9,474.9a2.7,2.7 0 1,0 5.4,0a2.7,2.7 0 1,0 -5.4,0M577.6,474.3a2.7,2.7 0 1,0 5.4,0a2.7,2.7 0 1,0 -5.4,0M582.3,473.1a2.7,2.7 0 1,0 5.4,0a2.7,2.7 0 1,0 -5.4,0M587,471.7a2.7,2.7 0 1,0 5.4,0a2.7,2.7 0 1,0 -5.4,0M591.7,470.3a2.7,2.7 0 1,0 5.4,0a2.7,2.7 0 1,0 -5.4,0M596.4,468a2.7,2.7 0 1,0 5.4,0a2.7,2.7 0 1,0 -5.4,0M601.1,466.1a2.7,2.7 0 1,0 5.4,0a2.7,2.7 0 1,0 -5.4,0M605.8,463.1a2.7,2.7 0 1,0 5.4,0a2.7,2.7 0 1,0 -5.4,0M610.5,460.1a2.7,2.7 0 1,0 5.4,0a2.7,2.7 0 1,0 -5.4,0M615.2,456.6a2.7,2.7 0 1,0 5.4,0a2.7,2.7 0 1,0 -5.4,0M619.9,453a2.7,2.7 0 1,0 5.4,0a2.7,2.7 0 1,0 -5.4,0M624.6,449.1a2.7,2.7 0 1,0 5.4,0a2.7,2.7 0 1,0 -5.4,0M629.3,444.8a2.7,2.7 0 1,0 5.4,0a2.7,2.7 0 1,0 -5.4,0M634,440.2a2.7,2.7 0 1,0 5.4,0a2.7,2.7 0 1,0 -5.4,0M638.7,436.4a2.7,2.7 0 1,0 5.4,0a2.7,2.7 0 1,0 -5.4,0M643.4,432.3a2.7,2.7 0 1,0 5.4,0a2.7,2.7 0 1,0 -5.4,0M648.1,428.5a2.7,2.7 0 1,0 5.4,0a2.7,2.7 0 1,0 -5.4,0M652.8,425.6a2.7,2.7 0 1,0 5.4,0a2.7,2.7 0 1,0 -5.4,0M657.5,422.9a2.7,2.7 0 1,0 5.4,0a2.7,2.7 0 1,0 -5.4,0M662.2,421.5a2.7,2.7 0 1,0 5.4,0a2.7,2.7 0 1,0 -5.4,0M666.9,421a2.7,2.7 0 1,0 5.4,0a2.7,2.7 0 1,0 -5.4,0M671.6,421.2a2.7,2.7 0 1,0 5.4,0a2.7,2.7 0 1,0 -5.4,0M676.3,422.3a2.7,2.7 0 1,0 5.4,0a2.7,2.7 0 1,0 -5.4,0M681,424a2.7,2.7 0 1,0 5.4,0a2.7,2.7 0 1,0 -5.4,0M685.7,426.8a2.7,2.7 0 1,0 5.4,0a2.7,2.7 0 1,0 -5.4,0M690.4,429.8a2.7,2.7 0 1,0 5.4,0a2.7,2.7 0 1,0 -5.4,0M695.1,433.5a2.7,2.7 0 1,0 5.4,0a2.7,2.7 0 1,0 -5.4,0M699.8,436.9a2.7,2.7 0 1,0 5.4,0a2.7,2.7 0 1,0 -5.4,0M704.5,440.6a2.7,2.7 0 1,0 5.4,0a2.7,2.7 0 1,0 -5.4,0M709.2,444.1a2.7,2.7 0 1,0 5.4,0a2.7,2.7 0 1,0 -5.4,0M713.9,447.4a2.7,2.7 0 1,0 5.4,0a2.7,2.7 0 1,0 -5.4,0M718.6,450.5a2.7,2.7 0 1,0 5.4,0a2.7,2.7 0 1,0 -5.4,0M723.3,452.9a2.7,2.7 0 1,0 5.4,0a2.7,2.7 0 1,0 -5.4,0M728,455.4a2.7,2.7 0 1,0 5.4,0a2.7,2.7 0 1,0 -5.4,0M732.7,457.6a2.7,2.7 0 1,0 5.4,0a2.7,2.7 0 1,0 -5.4,0M737.4,459.7a2.7,2.7 0 1,0 5.4,0a2.7,2.7 0 1,0 -5.4,0M742.1,462a2.7,2.7 0 1,0 5.4,0a2.7,2.7 0 1,0 -5.4,0M746.8,463.9a2.7,2.7 0 1,0 5.4,0a2.7,2.7 0 1,0 -5.4,0M751.5,465.4a2.7,2.7 0 1,0 5.4,0a2.7,2.7 0 1,0 -5.4,0M756.2,467.3a2.7,2.7 0 1,0 5.4,0a2.7,2.7 0 1,0 -5.4,0M760.9,469.2a2.7,2.7 0 1,0 5.4,0a2.7,2.7 0 1,0 -5.4,0M765.6,470.7a2.7,2.7 0 1,0 5.4,0a2.7,2.7 0 1,0 -5.4,0M770.3,472.2a2.7,2.7 0 1,0 5.4,0a2.7,2.7 0 1,0 -5.4,0M775,473.4a2.7,2.7 0 1,0 5.4,0a2.7,2.7 0 1,0 -5.4,0M779.7,474.1a2.7,2.7 0 1,0 5.4,0a2.7,2.7 0 1,0 -5.4,0M784.4,474.9a2.7,2.7 0 1,0 5.4,0a2.7,2.7 0 1,0 -5.4,0M789.1,475.8a2.7,2.7 0 1,0 5.4,0a2.7,2.7 0 1,0 -5.4,0M793.8,476.5a2.7,2.7 0 1,0 5.4,0a2.7,2.7 0 1,0 -5.4,0M798.5,476.8a2.7,2.7 0 1,0 5.4,0a2.7,2.7 0 1,0 -5.4,0M803.2,477.3a2.7,2.7 0 1,0 5.4,0a2.7,2.7 0 1,0 -5.4,0M807.9,477.7a2.7,2.7 0 1,0 5.4,0a2.7,2.7 0 1,0 -5.4,0M812.6,478a2.7,2.7 0 1,0 5.4,0a2.7,2.7 0 1,0 -5.4,0M817.3,478a2.7,2.7 0 1,0 5.4,0a2.7,2.7 0 1,0 -5.4,0M822,478.1a2.7,2.7 0 1,0 5.4,0a2.7,2.7 0 1,0 -5.4,0M826.7,478.3a2.7,2.7 0 1,0 5.4,0a2.7,2.7 0 1,0 -5.4,0M831.4,478.3a2.7,2.7 0 1,0 5.4,0a2.7,2.7 0 1,0 -5.4,0M836.1,478.4a2.7,2.7 0 1,0 5.4,0a2.7,2.7 0 1,0 -5.4,0M840.8,478.4a2.7,2.7 0 1,0 5.4,0a2.7,2.7 0 1,0 -5.4,0M845.5,478.8a2.7,2.7 0 1,0 5.4,0a2.7,2.7 0 1,0 -5.4,0M850.2,478.9a2.7,2.7 0 1,0 5.4,0a2.7,2.7 0 1,0 -5.4,0M854.9,478.5a2.7,2.7 0 1,0 5.4,0a2.7,2.7 0 1,0 -5.4,0M859.6,479a2.7,2.7 0 1,0 5.4,0a2.7,2.7 0 1,0 -5.4,0M864.3,479a2.7,2.7 0 1,0 5.4,0a2.7,2.7 0 1,0 -5.4,0M869,479a2.7,2.7 0 1,0 5.4,0a2.7,2.7 0 1,0 -5.4,0M873.7,478.8a2.7,2.7 0 1,0 5.4,0a2.7,2.7 0 1,0 -5.4,0M878.4,479.1a2.7,2.7 0 1,0 5.4,0a2.7,2.7 0 1,0 -5.4,0M883.1,478.8a2.7,2.7 0 1,0 5.4,0a2.7,2.7 0 1,0 -5.4,0M887.8,478.8a2.7,2.7 0 1,0 5.4,0a2.7,2.7 0 1,0 -5.4,0M892.5,479.3a2.7,2.7 0 1,0 5.4,0a2.7,2.7 0 1,0 -5.4,0M897.2,479a2.7,2.7 0 1,0 5.4,0a2.7,2.7 0 1,0 -5.4,0"/>
<path d="M503.6,550.3 506.1,550.3 508.6,550.2 511.1,550.2 513.6,550.2 516.1,550.2 518.6,550.2 521.1,550.2 523.6,550.2 526.1,550.2 528.6,550.2 531.1,550.2 533.6,550.1 536.1,550.1 538.6,550.1 541.1,550.1 543.6,550 546.1,550 548.6,549.9 551.1,549.9 553.6,549.8 556.1,549.8 558.6,549.7 561.1,549.6 563.6,549.5 566.1,549.4 568.6,549.2 571.1,549.1 573.6,548.9 576.1,548.7 578.6,548.5 581.1,548.3 583.6,548 586.1,547.7 588.6,547.4 591.1,547 593.6,546.7 596.1,546.3 598.6,545.8 601.1,545.3 603.6,544.8 606.1,544.3 608.6,543.7 611.1,543 613.6,542.4 616.1,541.7 618.6,540.9 621.1,540.2 623.6,539.4 626.1,538.5 628.6,537.7 631.1,536.8 633.6,535.9 636.1,535 638.6,534 641.1,533.1 643.6,532.2 646.1,531.3 648.6,530.3 651.1,529.4 653.6,528.6 656.1,527.7 658.6,527 661.1,526.2 663.6,525.5 666.1,524.9 668.6,524.3 671.1,523.8 673.6,523.4 676.1,523.1 678.6,522.9 681.1,522.8 683.6,522.7 686.1,522.8 688.6,522.9 691.1,523.2 693.6,523.5 696.1,523.9 698.6,524.4 701.1,525 703.6,525.7 706.1,526.4 708.6,527.1 711.1,527.9 713.6,528.8 716.1,529.7 718.6,530.6 721.1,531.5 723.6,532.5 726.1,533.4 728.6,534.4 731.1,535.3 733.6,536.2 736.1,537.2 738.6,538.1 741.1,538.9 743.6,539.8 746.1,540.6 748.6,541.4 751.1,542.2 753.5,542.9 756,543.6 758.5,544.2 761,544.8 763.5,545.4 766,545.9 768.5,546.4 771,546.9 773.5,547.3 776,547.7 778.5,548.1 781,548.4 783.5,548.7 786,549 788.5,549.2 791,549.5 793.5,549.7 796,549.9 798.5,550 801,550.2 803.5,550.3 806,550.4 808.5,550.6 811,550.7 813.5,550.7 816,550.8 818.5,550.9 821,551 823.5,551 826,551.1 828.5,551.1 831,551.2 833.5,551.2 836,551.2 838.5,551.3 841,551.3 843.5,551.3 846,551.4 848.5,551.4 851,551.4 853.5,551.4 856,551.5 858.5,551.5 861,551.5 863.5,551.5 866,551.5 868.5,551.6 871,551.6 873.5,551.6 876,551.6 878.5,551.6 881,551.6 883.5,551.7 886,551.7 888.5,551.7 891,551.7 893.5,551.7 896,551.7 898.5,551.7 901,551.8 903.5,551.8 L903.5,552 503.6,550.6Z" fill="url(#rg3)" stroke="none"/>
<path d="M503.6,550.3 506.1,550.3 508.6,550.2 511.1,550.2 513.6,550.2 516.1,550.2 518.6,550.2 521.1,550.2 523.6,550.2 526.1,550.2 528.6,550.2 531.1,550.2 533.6,550.1 536.1,550.1 538.6,550.1 541.1,550.1 543.6,550 546.1,550 548.6,549.9 551.1,549.9 553.6,549.8 556.1,549.8 558.6,549.7 561.1,549.6 563.6,549.5 566.1,549.4 568.6,549.2 571.1,549.1 573.6,548.9 576.1,548.7 578.6,548.5 581.1,548.3 583.6,548 586.1,547.7 588.6,547.4 591.1,547 593.6,546.7 596.1,546.3 598.6,545.8 601.1,545.3 603.6,544.8 606.1,544.3 608.6,543.7 611.1,543 613.6,542.4 616.1,541.7 618.6,540.9 621.1,540.2 623.6,539.4 626.1,538.5 628.6,537.7 631.1,536.8 633.6,535.9 636.1,535 638.6,534 641.1,533.1 643.6,532.2 646.1,531.3 648.6,530.3 651.1,529.4 653.6,528.6 656.1,527.7 658.6,527 661.1,526.2 663.6,525.5 666.1,524.9 668.6,524.3 671.1,523.8 673.6,523.4 676.1,523.1 678.6,522.9 681.1,522.8 683.6,522.7 686.1,522.8 688.6,522.9 691.1,523.2 693.6,523.5 696.1,523.9 698.6,524.4 701.1,525 703.6,525.7 706.1,526.4 708.6,527.1 711.1,527.9 713.6,526.8 716.1,524.1 718.6,521.3 721.1,518.5 723.6,515.8 726.1,513.1 728.6,510.6 731.1,508.3 733.6,506.3 736.1,504.7 738.6,503.4 741.1,502.7 743.6,502.4 746.1,502.7 748.6,503.5 751.1,504.7 753.5,506.4 756,508.4 758.5,510.7 761,513.2 763.5,515.9 766,518.7 768.5,521.5 771,524.3 773.5,527 776,529.7 778.5,532.2 781,534.5 783.5,536.6 786,538.6 788.5,540.3 791,541.9 793.5,543.3 796,544.5 798.5,545.6 801,546.5 803.5,547.2 806,547.9 808.5,548.4 811,548.9 813.5,549.3 816,549.6 818.5,549.8 821,550.1 823.5,550.2 826,550.4 828.5,550.5 831,550.6 833.5,550.7 836,550.8 838.5,550.8 841,550.9 843.5,551 846,551 848.5,551.1 851,551.1 853.5,551.1 856,551.2 858.5,551.2 861,551.3 863.5,551.3 866,551.3 868.5,551.3 871,551.4 873.5,551.4 876,551.4 878.5,551.5 881,551.5 883.5,551.5 886,551.5 888.5,551.5 891,551.6 893.5,551.6 896,551.6 898.5,551.6 901,551.6 903.5,551.7 903.5,551.8 901,551.8 898.5,551.7 896,551.7 893.5,551.7 891,551.7 888.5,551.7 886,551.7 883.5,551.7 881,551.6 878.5,551.6 876,551.6 873.5,551.6 871,551.6 868.5,551.6 866,551.5 863.5,551.5 861,551.5 858.5,551.5 856,551.5 853.5,551.4 851,551.4 848.5,551.4 846,551.4 843.5,551.3 841,551.3 838.5,551.3 836,551.2 833.5,551.2 831,551.2 828.5,551.1 826,551.1 823.5,551 821,551 818.5,550.9 816,550.8 813.5,550.7 811,550.7 808.5,550.6 806,550.4 803.5,550.3 801,550.2 798.5,550 796,549.9 793.5,549.7 791,549.5 788.5,549.2 786,549 783.5,548.7 781,548.4 778.5,548.1 776,547.7 773.5,547.3 771,546.9 768.5,546.4 766,545.9 763.5,545.4 761,544.8 758.5,544.2 756,543.6 753.5,542.9 751.1,542.2 748.6,541.4 746.1,540.6 743.6,539.8 741.1,538.9 738.6,538.1 736.1,537.2 733.6,536.2 731.1,535.3 728.6,534.4 726.1,533.4 723.6,532.5 721.1,531.5 718.6,530.6 716.1,529.7 713.6,528.8 711.1,527.9 708.6,527.1 706.1,526.4 703.6,525.7 701.1,525 698.6,524.4 696.1,523.9 693.6,523.5 691.1,523.2 688.6,522.9 686.1,522.8 683.6,522.7 681.1,522.8 678.6,522.9 676.1,523.1 673.6,523.4 671.1,523.8 668.6,524.3 666.1,524.9 663.6,525.5 661.1,526.2 658.6,527 656.1,527.7 653.6,528.6 651.1,529.4 648.6,530.3 646.1,531.3 643.6,532.2 641.1,533.1 638.6,534 636.1,535 633.6,535.9 631.1,536.8 628.6,537.7 626.1,538.5 623.6,539.4 621.1,540.2 618.6,540.9 616.1,541.7 613.6,542.4 611.1,543 608.6,543.7 606.1,544.3 603.6,544.8 601.1,545.3 598.6,545.8 596.1,546.3 593.6,546.7 591.1,547 588.6,547.4 586.1,547.7 583.6,548 581.1,548.3 578.6,548.5 576.1,548.7 573.6,548.9 571.1,549.1 568.6,549.2 566.1,549.4 563.6,549.5 561.1,549.6 558.6,549.7 556.1,549.8 553.6,549.8 551.1,549.9 548.6,549.9 546.1,550 543.6,550 541.1,550.1 538.6,550.1 536.1,550.1 533.6,550.1 531.1,550.2 528.6,550.2 526.1,550.2 523.6,550.2 521.1,550.2 518.6,550.2 516.1,550.2 513.6,550.2 511.1,550.2 508.6,550.2 506.1,550.3 503.6,550.3Z" fill="#f9d8dc"/>
<path d="M728.6,493.6 731.1,492.2 733.6,491.1 736.1,490.4 738.6,490.1 741.1,490.2 743.6,490.8 746.1,491.9 748.6,493.4 751.1,495.4 753.5,497.8 756,500.4 758.5,503.4 761,506.5 763.5,509.8 766,513.1 768.5,516.4 771,519.7 773.5,522.8 776,525.8 778.5,528.6 781,531.3 783.5,533.7 786,536 788.5,538 791,539.8 793.5,541.4 796,542.8 798.5,544 801,545 803.5,545.9 806,546.7 808.5,547.3 811,547.9 813.5,548.3 816,548.7 818.5,549 821,549.3 823.5,549.5 826,549.7 828.5,549.9 831,550 833.5,550.1 836,550.3 838.5,550.3 841,550.4 843.5,550.5 846,550.6 848.5,550.6 851,550.7 853.5,550.8 856,550.8 858.5,550.9 861,550.9 863.5,550.9 866,551 868.5,551 871,551.1 873.5,551.1 876,551.1 878.5,551.2 881,551.2 883.5,551.2 886,551.3 888.5,551.3 891,551.3 893.5,551.3 896,551.4 898.5,551.4 901,551.4 903.5,551.4" fill="none" stroke="#333" stroke-width="1.6" stroke-linejoin="round"/>
<path d="M531.1,550.2 533.6,550.1 536.1,550.1 538.6,550.1 541.1,550.1 543.6,550 546.1,550 548.6,549.9 551.1,549.9 553.6,549.8 556.1,549.8 558.6,549.7 561.1,549.6 563.6,549.5 566.1,549.4 568.6,549.2 571.1,549.1 573.6,548.9 576.1,548.7 578.6,548.5 581.1,548.3 583.6,548 586.1,547.7 588.6,547.4 591.1,547 593.6,546.7 596.1,546.3 598.6,545.8 601.1,545.3 603.6,544.8 606.1,544.3 608.6,543.7 611.1,543 613.6,542.4 616.1,541.7 618.6,540.9 621.1,540.2 623.6,539.4 626.1,538.5 628.6,537.7 631.1,536.8 633.6,535.9 636.1,535 638.6,534 641.1,533.1 643.6,532.2 646.1,531.3 648.6,530.3 651.1,529.4 653.6,528.6 656.1,527.7 658.6,527 661.1,526.2 663.6,525.5 666.1,524.9 668.6,524.3 671.1,523.8 673.6,523.4 676.1,523.1 678.6,522.9 681.1,522.8 683.6,522.7 686.1,522.8 688.6,522.9 691.1,523.2 693.6,523.5 696.1,523.9 698.6,524.4 701.1,525 703.6,525.7 706.1,526.4 708.6,527.1 711.1,527.9 713.6,528.8 716.1,529.7 718.6,530.6 721.1,531.5 723.6,532.5 726.1,533.4 728.6,534.4 731.1,535.3 733.6,536.2 736.1,537.2 738.6,538.1 741.1,538.9 743.6,539.8 746.1,540.6 748.6,541.4 751.1,542.2 753.5,542.9 756,543.6 758.5,544.2 761,544.8 763.5,545.4 766,545.9 768.5,546.4 771,546.9 773.5,547.3 776,547.7 778.5,548.1 781,548.4 783.5,548.7 786,549 788.5,549.2 791,549.5 793.5,549.7 796,549.9 798.5,550 801,550.2 803.5,550.3 806,550.4 808.5,550.6 811,550.7 813.5,550.7 816,550.8 818.5,550.9 821,551 823.5,551 826,551.1 828.5,551.1 831,551.2 833.5,551.2 836,551.2" fill="none" stroke="#3a96c4" stroke-width="1.5" stroke-linejoin="round"/>
<path d="M616.1,550.5 618.6,550.5 621.1,550.5 623.6,550.4 626.1,550.4 628.6,550.4 631.1,550.4 633.6,550.4 636.1,550.3 638.6,550.3 641.1,550.3 643.6,550.3 646.1,550.2 648.6,550.2 651.1,550.1 653.6,550.1 656.1,550 658.6,549.9 661.1,549.8 663.6,549.7 666.1,549.5 668.6,549.3 671.1,549.1 673.6,548.8 676.1,548.4 678.6,548 681.1,547.4 683.6,546.8 686.1,546.1 688.6,545.2 691.1,544.1 693.6,543 696.1,541.6 698.6,540 701.1,538.3 703.6,536.3 706.1,534.2 708.6,531.9 711.1,529.4 713.6,526.8 716.1,524.1 718.6,521.3 721.1,518.5 723.6,515.8 726.1,513.1 728.6,510.6 731.1,508.3 733.6,506.3 736.1,504.7 738.6,503.4 741.1,502.7 743.6,502.4 746.1,502.7 748.6,503.5 751.1,504.7 753.5,506.4 756,508.4 758.5,510.7 761,513.2 763.5,515.9 766,518.7 768.5,521.5 771,524.3 773.5,527 776,529.7 778.5,532.2 781,534.5 783.5,536.6 786,538.6 788.5,540.3 791,541.9 793.5,543.3 796,544.5 798.5,545.6 801,546.5 803.5,547.2 806,547.9 808.5,548.4 811,548.9 813.5,549.3 816,549.6 818.5,549.8 821,550.1 823.5,550.2 826,550.4 828.5,550.5 831,550.6 833.5,550.7 836,550.8 838.5,550.8 841,550.9 843.5,551 846,551 848.5,551.1 851,551.1 853.5,551.1 856,551.2 858.5,551.2 861,551.3 863.5,551.3 866,551.3 868.5,551.3 871,551.4" fill="none" stroke="#a050a8" stroke-width="1.5" stroke-linejoin="round"/>
<line x1="505.0" y1="550.6" x2="903.0" y2="552.0" stroke="#f07d18" stroke-width="2.4"/>
<path fill="#ffffff" fill-opacity="0.45" stroke="#9a9a9a" stroke-width="0.9" d="M502.4,549.9a2.7,2.7 0 1,0 5.4,0a2.7,2.7 0 1,0 -5.4,0M507.1,550a2.7,2.7 0 1,0 5.4,0a2.7,2.7 0 1,0 -5.4,0M511.8,549.9a2.7,2.7 0 1,0 5.4,0a2.7,2.7 0 1,0 -5.4,0M516.5,550a2.7,2.7 0 1,0 5.4,0a2.7,2.7 0 1,0 -5.4,0M521.2,549.8a2.7,2.7 0 1,0 5.4,0a2.7,2.7 0 1,0 -5.4,0M525.9,550a2.7,2.7 0 1,0 5.4,0a2.7,2.7 0 1,0 -5.4,0M530.6,549.8a2.7,2.7 0 1,0 5.4,0a2.7,2.7 0 1,0 -5.4,0M535.3,549.6a2.7,2.7 0 1,0 5.4,0a2.7,2.7 0 1,0 -5.4,0M540,549.8a2.7,2.7 0 1,0 5.4,0a2.7,2.7 0 1,0 -5.4,0M544.7,549.5a2.7,2.7 0 1,0 5.4,0a2.7,2.7 0 1,0 -5.4,0M549.4,549.1a2.7,2.7 0 1,0 5.4,0a2.7,2.7 0 1,0 -5.4,0M554.1,549.3a2.7,2.7 0 1,0 5.4,0a2.7,2.7 0 1,0 -5.4,0M558.8,549a2.7,2.7 0 1,0 5.4,0a2.7,2.7 0 1,0 -5.4,0M563.5,548.8a2.7,2.7 0 1,0 5.4,0a2.7,2.7 0 1,0 -5.4,0M568.2,548.1a2.7,2.7 0 1,0 5.4,0a2.7,2.7 0 1,0 -5.4,0M572.9,547.6a2.7,2.7 0 1,0 5.4,0a2.7,2.7 0 1,0 -5.4,0M577.6,547.3a2.7,2.7 0 1,0 5.4,0a2.7,2.7 0 1,0 -5.4,0M582.3,546.3a2.7,2.7 0 1,0 5.4,0a2.7,2.7 0 1,0 -5.4,0M587,546a2.7,2.7 0 1,0 5.4,0a2.7,2.7 0 1,0 -5.4,0M591.7,544.9a2.7,2.7 0 1,0 5.4,0a2.7,2.7 0 1,0 -5.4,0M596.4,543.8a2.7,2.7 0 1,0 5.4,0a2.7,2.7 0 1,0 -5.4,0M601.1,542.4a2.7,2.7 0 1,0 5.4,0a2.7,2.7 0 1,0 -5.4,0M605.8,541.2a2.7,2.7 0 1,0 5.4,0a2.7,2.7 0 1,0 -5.4,0M610.5,539.8a2.7,2.7 0 1,0 5.4,0a2.7,2.7 0 1,0 -5.4,0M615.2,538.6a2.7,2.7 0 1,0 5.4,0a2.7,2.7 0 1,0 -5.4,0M619.9,536.5a2.7,2.7 0 1,0 5.4,0a2.7,2.7 0 1,0 -5.4,0M624.6,535a2.7,2.7 0 1,0 5.4,0a2.7,2.7 0 1,0 -5.4,0M629.3,532.9a2.7,2.7 0 1,0 5.4,0a2.7,2.7 0 1,0 -5.4,0M634,531.5a2.7,2.7 0 1,0 5.4,0a2.7,2.7 0 1,0 -5.4,0M638.7,529.6a2.7,2.7 0 1,0 5.4,0a2.7,2.7 0 1,0 -5.4,0M643.4,527.8a2.7,2.7 0 1,0 5.4,0a2.7,2.7 0 1,0 -5.4,0M648.1,526.1a2.7,2.7 0 1,0 5.4,0a2.7,2.7 0 1,0 -5.4,0M652.8,524.2a2.7,2.7 0 1,0 5.4,0a2.7,2.7 0 1,0 -5.4,0M657.5,522.7a2.7,2.7 0 1,0 5.4,0a2.7,2.7 0 1,0 -5.4,0M662.2,521.2a2.7,2.7 0 1,0 5.4,0a2.7,2.7 0 1,0 -5.4,0M666.9,520.2a2.7,2.7 0 1,0 5.4,0a2.7,2.7 0 1,0 -5.4,0M671.6,518.7a2.7,2.7 0 1,0 5.4,0a2.7,2.7 0 1,0 -5.4,0M676.3,517.5a2.7,2.7 0 1,0 5.4,0a2.7,2.7 0 1,0 -5.4,0M681,516a2.7,2.7 0 1,0 5.4,0a2.7,2.7 0 1,0 -5.4,0M685.7,514.7a2.7,2.7 0 1,0 5.4,0a2.7,2.7 0 1,0 -5.4,0M690.4,512.6a2.7,2.7 0 1,0 5.4,0a2.7,2.7 0 1,0 -5.4,0M695.1,509.9a2.7,2.7 0 1,0 5.4,0a2.7,2.7 0 1,0 -5.4,0M699.8,507.3a2.7,2.7 0 1,0 5.4,0a2.7,2.7 0 1,0 -5.4,0M704.5,503.6a2.7,2.7 0 1,0 5.4,0a2.7,2.7 0 1,0 -5.4,0M709.2,500.1a2.7,2.7 0 1,0 5.4,0a2.7,2.7 0 1,0 -5.4,0M713.9,496.8a2.7,2.7 0 1,0 5.4,0a2.7,2.7 0 1,0 -5.4,0M718.6,493.8a2.7,2.7 0 1,0 5.4,0a2.7,2.7 0 1,0 -5.4,0M723.3,491.1a2.7,2.7 0 1,0 5.4,0a2.7,2.7 0 1,0 -5.4,0M728,490.3a2.7,2.7 0 1,0 5.4,0a2.7,2.7 0 1,0 -5.4,0M732.7,490.5a2.7,2.7 0 1,0 5.4,0a2.7,2.7 0 1,0 -5.4,0M737.4,490.3a2.7,2.7 0 1,0 5.4,0a2.7,2.7 0 1,0 -5.4,0M742.1,491.2a2.7,2.7 0 1,0 5.4,0a2.7,2.7 0 1,0 -5.4,0M746.8,493.9a2.7,2.7 0 1,0 5.4,0a2.7,2.7 0 1,0 -5.4,0M751.5,498.3a2.7,2.7 0 1,0 5.4,0a2.7,2.7 0 1,0 -5.4,0M756.2,503.9a2.7,2.7 0 1,0 5.4,0a2.7,2.7 0 1,0 -5.4,0M760.9,509.9a2.7,2.7 0 1,0 5.4,0a2.7,2.7 0 1,0 -5.4,0M765.6,516.2a2.7,2.7 0 1,0 5.4,0a2.7,2.7 0 1,0 -5.4,0M770.3,522a2.7,2.7 0 1,0 5.4,0a2.7,2.7 0 1,0 -5.4,0M775,527.6a2.7,2.7 0 1,0 5.4,0a2.7,2.7 0 1,0 -5.4,0M779.7,532.5a2.7,2.7 0 1,0 5.4,0a2.7,2.7 0 1,0 -5.4,0M784.4,537a2.7,2.7 0 1,0 5.4,0a2.7,2.7 0 1,0 -5.4,0M789.1,540.4a2.7,2.7 0 1,0 5.4,0a2.7,2.7 0 1,0 -5.4,0M793.8,542.8a2.7,2.7 0 1,0 5.4,0a2.7,2.7 0 1,0 -5.4,0M798.5,545.2a2.7,2.7 0 1,0 5.4,0a2.7,2.7 0 1,0 -5.4,0M803.2,546.4a2.7,2.7 0 1,0 5.4,0a2.7,2.7 0 1,0 -5.4,0M807.9,547.7a2.7,2.7 0 1,0 5.4,0a2.7,2.7 0 1,0 -5.4,0M812.6,548.5a2.7,2.7 0 1,0 5.4,0a2.7,2.7 0 1,0 -5.4,0M817.3,549.3a2.7,2.7 0 1,0 5.4,0a2.7,2.7 0 1,0 -5.4,0M822,549.7a2.7,2.7 0 1,0 5.4,0a2.7,2.7 0 1,0 -5.4,0M826.7,550a2.7,2.7 0 1,0 5.4,0a2.7,2.7 0 1,0 -5.4,0M831.4,550a2.7,2.7 0 1,0 5.4,0a2.7,2.7 0 1,0 -5.4,0M836.1,550.1a2.7,2.7 0 1,0 5.4,0a2.7,2.7 0 1,0 -5.4,0M840.8,550.6a2.7,2.7 0 1,0 5.4,0a2.7,2.7 0 1,0 -5.4,0M845.5,550.7a2.7,2.7 0 1,0 5.4,0a2.7,2.7 0 1,0 -5.4,0M850.2,550.5a2.7,2.7 0 1,0 5.4,0a2.7,2.7 0 1,0 -5.4,0M854.9,551a2.7,2.7 0 1,0 5.4,0a2.7,2.7 0 1,0 -5.4,0M859.6,551.1a2.7,2.7 0 1,0 5.4,0a2.7,2.7 0 1,0 -5.4,0M864.3,550.9a2.7,2.7 0 1,0 5.4,0a2.7,2.7 0 1,0 -5.4,0M869,551.1a2.7,2.7 0 1,0 5.4,0a2.7,2.7 0 1,0 -5.4,0M873.7,551.2a2.7,2.7 0 1,0 5.4,0a2.7,2.7 0 1,0 -5.4,0M878.4,551.4a2.7,2.7 0 1,0 5.4,0a2.7,2.7 0 1,0 -5.4,0M883.1,551.3a2.7,2.7 0 1,0 5.4,0a2.7,2.7 0 1,0 -5.4,0M887.8,551.3a2.7,2.7 0 1,0 5.4,0a2.7,2.7 0 1,0 -5.4,0M892.5,551.5a2.7,2.7 0 1,0 5.4,0a2.7,2.7 0 1,0 -5.4,0M897.2,551.4a2.7,2.7 0 1,0 5.4,0a2.7,2.7 0 1,0 -5.4,0"/>
<path d="M503.6,630.2 506.1,630.2 508.6,630.2 511.1,630.2 513.6,630.2 516.1,630.3 518.6,630.3 521.1,630.3 523.6,630.3 526.1,630.3 528.6,630.4 531.1,630.4 533.6,630.4 536.1,630.4 538.6,630.4 541.1,630.4 543.6,630.4 546.1,630.5 548.6,630.5 551.1,630.5 553.6,630.5 556.1,630.5 558.6,630.5 561.1,630.5 563.6,630.5 566.1,630.5 568.6,630.5 571.1,630.4 573.6,630.4 576.1,630.4 578.6,630.3 581.1,630.3 583.6,630.2 586.1,630.2 588.6,630.1 591.1,630 593.6,629.9 596.1,629.8 598.6,629.6 601.1,629.5 603.6,629.3 606.1,629.1 608.6,628.9 611.1,628.6 613.6,628.4 616.1,628.1 618.6,627.8 621.1,627.4 623.6,627.1 626.1,626.7 628.6,626.3 631.1,625.9 633.6,625.5 636.1,625.1 638.6,624.6 641.1,624.1 643.6,623.7 646.1,623.2 648.6,622.8 651.1,622.3 653.6,621.9 656.1,621.5 658.6,621.1 661.1,620.7 663.6,620.4 666.1,620.1 668.6,619.9 671.1,619.7 673.6,619.5 676.1,619.4 678.6,619.4 681.1,619.4 683.6,619.5 686.1,619.6 688.6,619.8 691.1,620 693.6,620.3 696.1,620.6 698.6,621 701.1,621.4 703.6,621.8 706.1,622.3 708.6,622.8 711.1,623.2 713.6,623.7 716.1,624.2 718.6,624.8 721.1,625.3 723.6,625.7 726.1,626.2 728.6,626.7 731.1,627.2 733.6,627.6 736.1,628 738.6,628.4 741.1,628.8 743.6,629.2 746.1,629.5 748.6,629.8 751.1,630.1 753.5,630.4 756,630.6 758.5,630.8 761,631 763.5,631.2 766,631.4 768.5,631.6 771,631.7 773.5,631.8 776,632 778.5,632.1 781,632.2 783.5,632.2 786,632.3 788.5,632.4 791,632.5 793.5,632.5 796,632.6 798.5,632.6 801,632.7 803.5,632.7 806,632.8 808.5,632.8 811,632.8 813.5,632.9 816,632.9 818.5,632.9 821,633 823.5,633 826,633 828.5,633.1 831,633.1 833.5,633.1 836,633.1 838.5,633.2 841,633.2 843.5,633.2 846,633.3 848.5,633.3 851,633.3 853.5,633.3 856,633.4 858.5,633.4 861,633.4 863.5,633.4 866,633.5 868.5,633.5 871,633.5 873.5,633.5 876,633.6 878.5,633.6 881,633.6 883.5,633.6 886,633.7 888.5,633.7 891,633.7 893.5,633.7 896,633.8 898.5,633.8 901,633.8 903.5,633.8 L903.5,633.9 503.6,630.3Z" fill="url(#rg4)" stroke="none"/>
<path d="M503.6,630.1 506.1,630.1 508.6,630.2 511.1,630.2 513.6,630.2 516.1,630.2 518.6,630.2 521.1,630.2 523.6,630.3 526.1,630.3 528.6,630.3 531.1,630.3 533.6,630.3 536.1,630.3 538.6,630.4 541.1,630.4 543.6,630.4 546.1,630.4 548.6,630.4 551.1,630.4 553.6,630.5 556.1,630.5 558.6,630.5 561.1,630.5 563.6,630.5 566.1,630.5 568.6,630.5 571.1,630.4 573.6,630.4 576.1,630.4 578.6,630.3 581.1,630.3 583.6,630.2 586.1,630.2 588.6,630.1 591.1,630 593.6,629.9 596.1,629.8 598.6,629.6 601.1,629.5 603.6,629.3 606.1,629.1 608.6,628.9 611.1,628.6 613.6,628.4 616.1,628.1 618.6,627.8 621.1,627.4 623.6,627.1 626.1,626.7 628.6,626.3 631.1,625.9 633.6,625.5 636.1,625.1 638.6,624.6 641.1,624.1 643.6,623.7 646.1,623.2 648.6,622.8 651.1,622.3 653.6,621.9 656.1,621.5 658.6,621.1 661.1,620.7 663.6,620.4 666.1,620.1 668.6,619.9 671.1,619.7 673.6,619.5 676.1,619.4 678.6,619.4 681.1,619.4 683.6,619.5 686.1,619.6 688.6,619.8 691.1,620 693.6,620.3 696.1,618.7 698.6,616.9 701.1,615 703.6,612.9 706.1,610.7 708.6,608.4 711.1,606 713.6,603.5 716.1,601 718.6,598.6 721.1,596.1 723.6,593.8 726.1,591.7 728.6,589.7 731.1,588.1 733.6,586.7 736.1,585.7 738.6,585.1 741.1,584.9 743.6,585.2 746.1,585.8 748.6,586.9 751.1,588.3 753.5,590 756,592 758.5,594.1 761,596.5 763.5,599 766,601.5 768.5,604 771,606.5 773.5,609 776,611.3 778.5,613.6 781,615.7 783.5,617.7 786,619.5 788.5,621.2 791,622.7 793.5,624.1 796,625.3 798.5,626.3 801,627.2 803.5,628.1 806,628.7 808.5,629.3 811,629.9 813.5,630.3 816,630.7 818.5,631 821,631.2 823.5,631.5 826,631.7 828.5,631.8 831,632 833.5,632.1 836,632.2 838.5,632.3 841,632.4 843.5,632.5 846,632.5 848.5,632.6 851,632.7 853.5,632.7 856,632.8 858.5,632.8 861,632.9 863.5,632.9 866,633 868.5,633 871,633.1 873.5,633.1 876,633.1 878.5,633.2 881,633.2 883.5,633.3 886,633.3 888.5,633.3 891,633.4 893.5,633.4 896,633.4 898.5,633.5 901,633.5 903.5,633.5 903.5,633.8 901,633.8 898.5,633.8 896,633.8 893.5,633.7 891,633.7 888.5,633.7 886,633.7 883.5,633.6 881,633.6 878.5,633.6 876,633.6 873.5,633.5 871,633.5 868.5,633.5 866,633.5 863.5,633.4 861,633.4 858.5,633.4 856,633.4 853.5,633.3 851,633.3 848.5,633.3 846,633.3 843.5,633.2 841,633.2 838.5,633.2 836,633.1 833.5,633.1 831,633.1 828.5,633.1 826,633 823.5,633 821,633 818.5,632.9 816,632.9 813.5,632.9 811,632.8 808.5,632.8 806,632.8 803.5,632.7 801,632.7 798.5,632.6 796,632.6 793.5,632.5 791,632.5 788.5,632.4 786,632.3 783.5,632.2 781,632.2 778.5,632.1 776,632 773.5,631.8 771,631.7 768.5,631.6 766,631.4 763.5,631.2 761,631 758.5,630.8 756,630.6 753.5,630.4 751.1,630.1 748.6,629.8 746.1,629.5 743.6,629.2 741.1,628.8 738.6,628.4 736.1,628 733.6,627.6 731.1,627.2 728.6,626.7 726.1,626.2 723.6,625.7 721.1,625.3 718.6,624.8 716.1,624.2 713.6,623.7 711.1,623.2 708.6,622.8 706.1,622.3 703.6,621.8 701.1,621.4 698.6,621 696.1,620.6 693.6,620.3 691.1,620 688.6,619.8 686.1,619.6 683.6,619.5 681.1,619.4 678.6,619.4 676.1,619.4 673.6,619.5 671.1,619.7 668.6,619.9 666.1,620.1 663.6,620.4 661.1,620.7 658.6,621.1 656.1,621.5 653.6,621.9 651.1,622.3 648.6,622.8 646.1,623.2 643.6,623.7 641.1,624.1 638.6,624.6 636.1,625.1 633.6,625.5 631.1,625.9 628.6,626.3 626.1,626.7 623.6,627.1 621.1,627.4 618.6,627.8 616.1,628.1 613.6,628.4 611.1,628.6 608.6,628.9 606.1,629.1 603.6,629.3 601.1,629.5 598.6,629.6 596.1,629.8 593.6,629.9 591.1,630 588.6,630.1 586.1,630.2 583.6,630.2 581.1,630.3 578.6,630.3 576.1,630.4 573.6,630.4 571.1,630.4 568.6,630.5 566.1,630.5 563.6,630.5 561.1,630.5 558.6,630.5 556.1,630.5 553.6,630.5 551.1,630.5 548.6,630.5 546.1,630.5 543.6,630.4 541.1,630.4 538.6,630.4 536.1,630.4 533.6,630.4 531.1,630.4 528.6,630.4 526.1,630.3 523.6,630.3 521.1,630.3 518.6,630.3 516.1,630.3 513.6,630.2 511.1,630.2 508.6,630.2 506.1,630.2 503.6,630.2Z" fill="#dcd2ea"/>
<path d="M728.6,584.1 731.1,582.9 733.6,582 736.1,581.4 738.6,581.1 741.1,581.3 743.6,581.9 746.1,582.8 748.6,584.2 751.1,585.8 753.5,587.8 756,590 758.5,592.4 761,594.9 763.5,597.6 766,600.2 768.5,602.9 771,605.5 773.5,608.1 776,610.6 778.5,612.9 781,615.1 783.5,617.1 786,619 788.5,620.7 791,622.3 793.5,623.7 796,624.9 798.5,626 801,626.9 803.5,627.8 806,628.5 808.5,629.1 811,629.6 813.5,630.1 816,630.5 818.5,630.8 821,631.1 823.5,631.3 826,631.5 828.5,631.7 831,631.8 833.5,631.9 836,632.1 838.5,632.2 841,632.2 843.5,632.3 846,632.4 848.5,632.5 851,632.5 853.5,632.6 856,632.7 858.5,632.7 861,632.8 863.5,632.8 866,632.9 868.5,632.9 871,633 873.5,633 876,633 878.5,633.1 881,633.1 883.5,633.2 886,633.2 888.5,633.2 891,633.3 893.5,633.3 896,633.4 898.5,633.4 901,633.4 903.5,633.5" fill="none" stroke="#333" stroke-width="1.6" stroke-linejoin="round"/>
<path d="M573.6,630.4 576.1,630.4 578.6,630.3 581.1,630.3 583.6,630.2 586.1,630.2 588.6,630.1 591.1,630 593.6,629.9 596.1,629.8 598.6,629.6 601.1,629.5 603.6,629.3 606.1,629.1 608.6,628.9 611.1,628.6 613.6,628.4 616.1,628.1 618.6,627.8 621.1,627.4 623.6,627.1 626.1,626.7 628.6,626.3 631.1,625.9 633.6,625.5 636.1,625.1 638.6,624.6 641.1,624.1 643.6,623.7 646.1,623.2 648.6,622.8 651.1,622.3 653.6,621.9 656.1,621.5 658.6,621.1 661.1,620.7 663.6,620.4 666.1,620.1 668.6,619.9 671.1,619.7 673.6,619.5 676.1,619.4 678.6,619.4 681.1,619.4 683.6,619.5 686.1,619.6 688.6,619.8 691.1,620 693.6,620.3 696.1,620.6 698.6,621 701.1,621.4 703.6,621.8 706.1,622.3 708.6,622.8 711.1,623.2 713.6,623.7 716.1,624.2 718.6,624.8 721.1,625.3 723.6,625.7 726.1,626.2 728.6,626.7 731.1,627.2 733.6,627.6 736.1,628 738.6,628.4 741.1,628.8 743.6,629.2 746.1,629.5 748.6,629.8 751.1,630.1 753.5,630.4 756,630.6 758.5,630.8 761,631 763.5,631.2 766,631.4 768.5,631.6 771,631.7 773.5,631.8 776,632 778.5,632.1 781,632.2 783.5,632.2 786,632.3" fill="none" stroke="#3a96c4" stroke-width="1.5" stroke-linejoin="round"/>
<path d="M603.6,630.7 606.1,630.7 608.6,630.7 611.1,630.7 613.6,630.7 616.1,630.7 618.6,630.7 621.1,630.7 623.6,630.7 626.1,630.7 628.6,630.7 631.1,630.7 633.6,630.6 636.1,630.6 638.6,630.6 641.1,630.6 643.6,630.5 646.1,630.5 648.6,630.4 651.1,630.3 653.6,630.2 656.1,630.1 658.6,630 661.1,629.8 663.6,629.6 666.1,629.3 668.6,629 671.1,628.6 673.6,628.1 676.1,627.6 678.6,626.9 681.1,626.2 683.6,625.3 686.1,624.3 688.6,623.1 691.1,621.8 693.6,620.3 696.1,618.7 698.6,616.9 701.1,615 703.6,612.9 706.1,610.7 708.6,608.4 711.1,606 713.6,603.5 716.1,601 718.6,598.6 721.1,596.1 723.6,593.8 726.1,591.7 728.6,589.7 731.1,588.1 733.6,586.7 736.1,585.7 738.6,585.1 741.1,584.9 743.6,585.2 746.1,585.8 748.6,586.9 751.1,588.3 753.5,590 756,592 758.5,594.1 761,596.5 763.5,599 766,601.5 768.5,604 771,606.5 773.5,609 776,611.3 778.5,613.6 781,615.7 783.5,617.7 786,619.5 788.5,621.2 791,622.7 793.5,624.1 796,625.3 798.5,626.3 801,627.2 803.5,628.1 806,628.7 808.5,629.3 811,629.9 813.5,630.3 816,630.7 818.5,631 821,631.2 823.5,631.5 826,631.7 828.5,631.8 831,632 833.5,632.1 836,632.2 838.5,632.3 841,632.4 843.5,632.5 846,632.5 848.5,632.6 851,632.7 853.5,632.7 856,632.8 858.5,632.8 861,632.9 863.5,632.9 866,633 868.5,633 871,633.1 873.5,633.1 876,633.1 878.5,633.2" fill="none" stroke="#a050a8" stroke-width="1.5" stroke-linejoin="round"/>
<line x1="505.0" y1="630.3" x2="903.0" y2="633.9" stroke="#f07d18" stroke-width="2.4"/>
<path fill="#ffffff" fill-opacity="0.45" stroke="#9a9a9a" stroke-width="0.9" d="M502.4,629.8a2.7,2.7 0 1,0 5.4,0a2.7,2.7 0 1,0 -5.4,0M507.1,629.8a2.7,2.7 0 1,0 5.4,0a2.7,2.7 0 1,0 -5.4,0M511.8,630.2a2.7,2.7 0 1,0 5.4,0a2.7,2.7 0 1,0 -5.4,0M516.5,629.9a2.7,2.7 0 1,0 5.4,0a2.7,2.7 0 1,0 -5.4,0M521.2,630a2.7,2.7 0 1,0 5.4,0a2.7,2.7 0 1,0 -5.4,0M525.9,630.1a2.7,2.7 0 1,0 5.4,0a2.7,2.7 0 1,0 -5.4,0M530.6,630.2a2.7,2.7 0 1,0 5.4,0a2.7,2.7 0 1,0 -5.4,0M535.3,629.9a2.7,2.7 0 1,0 5.4,0a2.7,2.7 0 1,0 -5.4,0M540,630a2.7,2.7 0 1,0 5.4,0a2.7,2.7 0 1,0 -5.4,0M544.7,630.3a2.7,2.7 0 1,0 5.4,0a2.7,2.7 0 1,0 -5.4,0M549.4,630.1a2.7,2.7 0 1,0 5.4,0a2.7,2.7 0 1,0 -5.4,0M554.1,630a2.7,2.7 0 1,0 5.4,0a2.7,2.7 0 1,0 -5.4,0M558.8,630.1a2.7,2.7 0 1,0 5.4,0a2.7,2.7 0 1,0 -5.4,0M563.5,630a2.7,2.7 0 1,0 5.4,0a2.7,2.7 0 1,0 -5.4,0M568.2,630.3a2.7,2.7 0 1,0 5.4,0a2.7,2.7 0 1,0 -5.4,0M572.9,629.7a2.7,2.7 0 1,0 5.4,0a2.7,2.7 0 1,0 -5.4,0M577.6,629.6a2.7,2.7 0 1,0 5.4,0a2.7,2.7 0 1,0 -5.4,0M582.3,629.4a2.7,2.7 0 1,0 5.4,0a2.7,2.7 0 1,0 -5.4,0M587,629.4a2.7,2.7 0 1,0 5.4,0a2.7,2.7 0 1,0 -5.4,0M591.7,629.4a2.7,2.7 0 1,0 5.4,0a2.7,2.7 0 1,0 -5.4,0M596.4,628.9a2.7,2.7 0 1,0 5.4,0a2.7,2.7 0 1,0 -5.4,0M601.1,628.2a2.7,2.7 0 1,0 5.4,0a2.7,2.7 0 1,0 -5.4,0M605.8,627.9a2.7,2.7 0 1,0 5.4,0a2.7,2.7 0 1,0 -5.4,0M610.5,627.2a2.7,2.7 0 1,0 5.4,0a2.7,2.7 0 1,0 -5.4,0M615.2,626.9a2.7,2.7 0 1,0 5.4,0a2.7,2.7 0 1,0 -5.4,0M619.9,626a2.7,2.7 0 1,0 5.4,0a2.7,2.7 0 1,0 -5.4,0M624.6,625.1a2.7,2.7 0 1,0 5.4,0a2.7,2.7 0 1,0 -5.4,0M629.3,624a2.7,2.7 0 1,0 5.4,0a2.7,2.7 0 1,0 -5.4,0M634,623.2a2.7,2.7 0 1,0 5.4,0a2.7,2.7 0 1,0 -5.4,0M638.7,622.3a2.7,2.7 0 1,0 5.4,0a2.7,2.7 0 1,0 -5.4,0M643.4,621.2a2.7,2.7 0 1,0 5.4,0a2.7,2.7 0 1,0 -5.4,0M648.1,620.2a2.7,2.7 0 1,0 5.4,0a2.7,2.7 0 1,0 -5.4,0M652.8,618.9a2.7,2.7 0 1,0 5.4,0a2.7,2.7 0 1,0 -5.4,0M657.5,618a2.7,2.7 0 1,0 5.4,0a2.7,2.7 0 1,0 -5.4,0M662.2,617.2a2.7,2.7 0 1,0 5.4,0a2.7,2.7 0 1,0 -5.4,0M666.9,615.7a2.7,2.7 0 1,0 5.4,0a2.7,2.7 0 1,0 -5.4,0M671.6,614.5a2.7,2.7 0 1,0 5.4,0a2.7,2.7 0 1,0 -5.4,0M676.3,613.1a2.7,2.7 0 1,0 5.4,0a2.7,2.7 0 1,0 -5.4,0M681,611.4a2.7,2.7 0 1,0 5.4,0a2.7,2.7 0 1,0 -5.4,0M685.7,609.3a2.7,2.7 0 1,0 5.4,0a2.7,2.7 0 1,0 -5.4,0M690.4,606.6a2.7,2.7 0 1,0 5.4,0a2.7,2.7 0 1,0 -5.4,0M695.1,603.9a2.7,2.7 0 1,0 5.4,0a2.7,2.7 0 1,0 -5.4,0M699.8,600.4a2.7,2.7 0 1,0 5.4,0a2.7,2.7 0 1,0 -5.4,0M704.5,597a2.7,2.7 0 1,0 5.4,0a2.7,2.7 0 1,0 -5.4,0M709.2,592.9a2.7,2.7 0 1,0 5.4,0a2.7,2.7 0 1,0 -5.4,0M713.9,589.3a2.7,2.7 0 1,0 5.4,0a2.7,2.7 0 1,0 -5.4,0M718.6,585.9a2.7,2.7 0 1,0 5.4,0a2.7,2.7 0 1,0 -5.4,0M723.3,583.3a2.7,2.7 0 1,0 5.4,0a2.7,2.7 0 1,0 -5.4,0M728,581.8a2.7,2.7 0 1,0 5.4,0a2.7,2.7 0 1,0 -5.4,0M732.7,580.9a2.7,2.7 0 1,0 5.4,0a2.7,2.7 0 1,0 -5.4,0M737.4,581.4a2.7,2.7 0 1,0 5.4,0a2.7,2.7 0 1,0 -5.4,0M742.1,582.1a2.7,2.7 0 1,0 5.4,0a2.7,2.7 0 1,0 -5.4,0M746.8,585a2.7,2.7 0 1,0 5.4,0a2.7,2.7 0 1,0 -5.4,0M751.5,588.6a2.7,2.7 0 1,0 5.4,0a2.7,2.7 0 1,0 -5.4,0M756.2,592.8a2.7,2.7 0 1,0 5.4,0a2.7,2.7 0 1,0 -5.4,0M760.9,597.8a2.7,2.7 0 1,0 5.4,0a2.7,2.7 0 1,0 -5.4,0M765.6,602.9a2.7,2.7 0 1,0 5.4,0a2.7,2.7 0 1,0 -5.4,0M770.3,607.5a2.7,2.7 0 1,0 5.4,0a2.7,2.7 0 1,0 -5.4,0M775,612.3a2.7,2.7 0 1,0 5.4,0a2.7,2.7 0 1,0 -5.4,0M779.7,616a2.7,2.7 0 1,0 5.4,0a2.7,2.7 0 1,0 -5.4,0M784.4,619.9a2.7,2.7 0 1,0 5.4,0a2.7,2.7 0 1,0 -5.4,0M789.1,622.8a2.7,2.7 0 1,0 5.4,0a2.7,2.7 0 1,0 -5.4,0M793.8,625.2a2.7,2.7 0 1,0 5.4,0a2.7,2.7 0 1,0 -5.4,0M798.5,626.8a2.7,2.7 0 1,0 5.4,0a2.7,2.7 0 1,0 -5.4,0M803.2,628.2a2.7,2.7 0 1,0 5.4,0a2.7,2.7 0 1,0 -5.4,0M807.9,629.5a2.7,2.7 0 1,0 5.4,0a2.7,2.7 0 1,0 -5.4,0M812.6,630.4a2.7,2.7 0 1,0 5.4,0a2.7,2.7 0 1,0 -5.4,0M817.3,631a2.7,2.7 0 1,0 5.4,0a2.7,2.7 0 1,0 -5.4,0M822,631.2a2.7,2.7 0 1,0 5.4,0a2.7,2.7 0 1,0 -5.4,0M826.7,631.7a2.7,2.7 0 1,0 5.4,0a2.7,2.7 0 1,0 -5.4,0M831.4,632.2a2.7,2.7 0 1,0 5.4,0a2.7,2.7 0 1,0 -5.4,0M836.1,632a2.7,2.7 0 1,0 5.4,0a2.7,2.7 0 1,0 -5.4,0M840.8,632.5a2.7,2.7 0 1,0 5.4,0a2.7,2.7 0 1,0 -5.4,0M845.5,632.7a2.7,2.7 0 1,0 5.4,0a2.7,2.7 0 1,0 -5.4,0M850.2,632.7a2.7,2.7 0 1,0 5.4,0a2.7,2.7 0 1,0 -5.4,0M854.9,632.7a2.7,2.7 0 1,0 5.4,0a2.7,2.7 0 1,0 -5.4,0M859.6,632.7a2.7,2.7 0 1,0 5.4,0a2.7,2.7 0 1,0 -5.4,0M864.3,632.9a2.7,2.7 0 1,0 5.4,0a2.7,2.7 0 1,0 -5.4,0M869,632.8a2.7,2.7 0 1,0 5.4,0a2.7,2.7 0 1,0 -5.4,0M873.7,632.8a2.7,2.7 0 1,0 5.4,0a2.7,2.7 0 1,0 -5.4,0M878.4,633a2.7,2.7 0 1,0 5.4,0a2.7,2.7 0 1,0 -5.4,0M883.1,633a2.7,2.7 0 1,0 5.4,0a2.7,2.7 0 1,0 -5.4,0M887.8,633.5a2.7,2.7 0 1,0 5.4,0a2.7,2.7 0 1,0 -5.4,0M892.5,633.3a2.7,2.7 0 1,0 5.4,0a2.7,2.7 0 1,0 -5.4,0M897.2,633.6a2.7,2.7 0 1,0 5.4,0a2.7,2.7 0 1,0 -5.4,0"/>
<path d="M503.6,713.6 506.1,713.7 508.6,713.7 511.1,713.7 513.6,713.7 516.1,713.7 518.6,713.7 521.1,713.7 523.6,713.7 526.1,713.7 528.6,713.8 531.1,713.8 533.6,713.8 536.1,713.8 538.6,713.8 541.1,713.8 543.6,713.8 546.1,713.8 548.6,713.8 551.1,713.8 553.6,713.8 556.1,713.8 558.6,713.8 561.1,713.8 563.6,713.8 566.1,713.7 568.6,713.7 571.1,713.7 573.6,713.7 576.1,713.6 578.6,713.6 581.1,713.5 583.6,713.5 586.1,713.4 588.6,713.3 591.1,713.3 593.6,713.2 596.1,713.1 598.6,713 601.1,712.8 603.6,712.7 606.1,712.5 608.6,712.4 611.1,712.2 613.6,712 616.1,711.8 618.6,711.6 621.1,711.4 623.6,711.1 626.1,710.8 628.6,710.6 631.1,710.3 633.6,709.9 636.1,709.6 638.6,709.3 641.1,708.9 643.6,708.6 646.1,708.2 648.6,707.8 651.1,707.4 653.6,707 656.1,706.6 658.6,706.2 661.1,705.8 663.6,705.5 666.1,705.1 668.6,704.7 671.1,704.3 673.6,704 676.1,703.7 678.6,703.4 681.1,703.1 683.6,702.8 686.1,702.6 688.6,702.4 691.1,702.3 693.6,702.2 696.1,702.1 698.6,702 701.1,702 703.6,702.1 706.1,702.1 708.6,702.3 711.1,702.4 713.6,702.6 716.1,702.8 718.6,703.1 721.1,703.4 723.6,703.7 726.1,704 728.6,704.4 731.1,704.7 733.6,705.1 736.1,705.5 738.6,705.9 741.1,706.3 743.6,706.8 746.1,707.2 748.6,707.6 751.1,708 753.5,708.5 756,708.9 758.5,709.3 761,709.7 763.5,710.1 766,710.4 768.5,710.8 771,711.1 773.5,711.5 776,711.8 778.5,712.1 781,712.4 783.5,712.6 786,712.9 788.5,713.1 791,713.3 793.5,713.5 796,713.7 798.5,713.9 801,714.1 803.5,714.2 806,714.4 808.5,714.5 811,714.6 813.5,714.8 816,714.9 818.5,715 821,715 823.5,715.1 826,715.2 828.5,715.3 831,715.3 833.5,715.4 836,715.4 838.5,715.5 841,715.5 843.5,715.6 846,715.6 848.5,715.6 851,715.7 853.5,715.7 856,715.7 858.5,715.8 861,715.8 863.5,715.8 866,715.9 868.5,715.9 871,715.9 873.5,715.9 876,715.9 878.5,716 881,716 883.5,716 886,716 888.5,716.1 891,716.1 893.5,716.1 896,716.1 898.5,716.1 901,716.1 903.5,716.2 L903.5,716.3 503.6,713.8Z" fill="url(#rg5)" stroke="none"/>
<path d="M503.6,713.6 506.1,713.6 508.6,713.6 511.1,713.7 513.6,713.7 516.1,713.7 518.6,713.7 521.1,713.7 523.6,713.7 526.1,713.7 528.6,713.7 531.1,713.7 533.6,713.8 536.1,713.8 538.6,713.8 541.1,713.8 543.6,713.8 546.1,713.8 548.6,713.8 551.1,713.8 553.6,713.8 556.1,713.8 558.6,713.8 561.1,713.8 563.6,713.8 566.1,713.7 568.6,713.7 571.1,713.7 573.6,713.7 576.1,713.6 578.6,713.6 581.1,713.5 583.6,713.5 586.1,713.4 588.6,713.3 591.1,713.3 593.6,713.2 596.1,713.1 598.6,713 601.1,712.8 603.6,712.7 606.1,712.5 608.6,712.4 611.1,712.2 613.6,712 616.1,711.8 618.6,711.6 621.1,711.4 623.6,711.1 626.1,710.8 628.6,710.6 631.1,710.3 633.6,709.9 636.1,709.6 638.6,709.3 641.1,708.9 643.6,708.6 646.1,708.2 648.6,707.8 651.1,707.4 653.6,707 656.1,706.6 658.6,706.2 661.1,705.8 663.6,705.5 666.1,705.1 668.6,704.7 671.1,704.3 673.6,704 676.1,703.7 678.6,703.4 681.1,703.1 683.6,702.8 686.1,702.6 688.6,702.4 691.1,702.3 693.6,702.2 696.1,702.1 698.6,702 701.1,702 703.6,702.1 706.1,702.1 708.6,702.3 711.1,702.4 713.6,702.6 716.1,702.8 718.6,703.1 721.1,702.8 723.6,701.1 726.1,699.2 728.6,697.1 731.1,694.9 733.6,692.5 736.1,689.9 738.6,687.3 741.1,684.5 743.6,681.7 746.1,678.8 748.6,676 751.1,673.2 753.5,670.5 756,668 758.5,665.6 761,663.6 763.5,661.8 766,660.5 768.5,659.5 771,659.1 773.5,659 776,659.5 778.5,660.3 781,661.7 783.5,663.3 786,665.4 788.5,667.7 791,670.2 793.5,672.9 796,675.7 798.5,678.6 801,681.5 803.5,684.4 806,687.2 808.5,689.9 811,692.5 813.5,694.9 816,697.2 818.5,699.3 821,701.3 823.5,703.1 826,704.7 828.5,706.1 831,707.4 833.5,708.5 836,709.5 838.5,710.4 841,711.1 843.5,711.7 846,712.3 848.5,712.8 851,713.1 853.5,713.5 856,713.8 858.5,714 861,714.2 863.5,714.4 866,714.5 868.5,714.7 871,714.8 873.5,714.9 876,715 878.5,715.1 881,715.1 883.5,715.2 886,715.3 888.5,715.3 891,715.4 893.5,715.4 896,715.5 898.5,715.5 901,715.6 903.5,715.6 903.5,716.2 901,716.1 898.5,716.1 896,716.1 893.5,716.1 891,716.1 888.5,716.1 886,716 883.5,716 881,716 878.5,716 876,715.9 873.5,715.9 871,715.9 868.5,715.9 866,715.9 863.5,715.8 861,715.8 858.5,715.8 856,715.7 853.5,715.7 851,715.7 848.5,715.6 846,715.6 843.5,715.6 841,715.5 838.5,715.5 836,715.4 833.5,715.4 831,715.3 828.5,715.3 826,715.2 823.5,715.1 821,715 818.5,715 816,714.9 813.5,714.8 811,714.6 808.5,714.5 806,714.4 803.5,714.2 801,714.1 798.5,713.9 796,713.7 793.5,713.5 791,713.3 788.5,713.1 786,712.9 783.5,712.6 781,712.4 778.5,712.1 776,711.8 773.5,711.5 771,711.1 768.5,710.8 766,710.4 763.5,710.1 761,709.7 758.5,709.3 756,708.9 753.5,708.5 751.1,708 748.6,707.6 746.1,707.2 743.6,706.8 741.1,706.3 738.6,705.9 736.1,705.5 733.6,705.1 731.1,704.7 728.6,704.4 726.1,704 723.6,703.7 721.1,703.4 718.6,703.1 716.1,702.8 713.6,702.6 711.1,702.4 708.6,702.3 706.1,702.1 703.6,702.1 701.1,702 698.6,702 696.1,702.1 693.6,702.2 691.1,702.3 688.6,702.4 686.1,702.6 683.6,702.8 681.1,703.1 678.6,703.4 676.1,703.7 673.6,704 671.1,704.3 668.6,704.7 666.1,705.1 663.6,705.5 661.1,705.8 658.6,706.2 656.1,706.6 653.6,707 651.1,707.4 648.6,707.8 646.1,708.2 643.6,708.6 641.1,708.9 638.6,709.3 636.1,709.6 633.6,709.9 631.1,710.3 628.6,710.6 626.1,710.8 623.6,711.1 621.1,711.4 618.6,711.6 616.1,711.8 613.6,712 611.1,712.2 608.6,712.4 606.1,712.5 603.6,712.7 601.1,712.8 598.6,713 596.1,713.1 593.6,713.2 591.1,713.3 588.6,713.3 586.1,713.4 583.6,713.5 581.1,713.5 578.6,713.6 576.1,713.6 573.6,713.7 571.1,713.7 568.6,713.7 566.1,713.7 563.6,713.8 561.1,713.8 558.6,713.8 556.1,713.8 553.6,713.8 551.1,713.8 548.6,713.8 546.1,713.8 543.6,713.8 541.1,713.8 538.6,713.8 536.1,713.8 533.6,713.8 531.1,713.8 528.6,713.8 526.1,713.7 523.6,713.7 521.1,713.7 518.6,713.7 516.1,713.7 513.6,713.7 511.1,713.7 508.6,713.7 506.1,713.7 503.6,713.6Z" fill="#f9d8dc"/>
<path d="M761,657.8 763.5,656.5 766,655.5 768.5,654.9 771,654.7 773.5,655 776,655.7 778.5,656.9 781,658.5 783.5,660.4 786,662.7 788.5,665.2 791,667.9 793.5,670.8 796,673.8 798.5,676.9 801,679.9 803.5,682.9 806,685.9 808.5,688.7 811,691.4 813.5,693.9 816,696.3 818.5,698.5 821,700.6 823.5,702.4 826,704.1 828.5,705.5 831,706.9 833.5,708 836,709.1 838.5,709.9 841,710.7 843.5,711.4 846,712 848.5,712.4 851,712.9 853.5,713.2 856,713.5 858.5,713.8 861,714 863.5,714.2 866,714.3 868.5,714.5 871,714.6 873.5,714.7 876,714.8 878.5,714.9 881,715 883.5,715 886,715.1 888.5,715.2 891,715.2 893.5,715.3 896,715.3 898.5,715.4 901,715.4 903.5,715.5" fill="none" stroke="#333" stroke-width="1.6" stroke-linejoin="round"/>
<path d="M571.1,713.7 573.6,713.7 576.1,713.6 578.6,713.6 581.1,713.5 583.6,713.5 586.1,713.4 588.6,713.3 591.1,713.3 593.6,713.2 596.1,713.1 598.6,713 601.1,712.8 603.6,712.7 606.1,712.5 608.6,712.4 611.1,712.2 613.6,712 616.1,711.8 618.6,711.6 621.1,711.4 623.6,711.1 626.1,710.8 628.6,710.6 631.1,710.3 633.6,709.9 636.1,709.6 638.6,709.3 641.1,708.9 643.6,708.6 646.1,708.2 648.6,707.8 651.1,707.4 653.6,707 656.1,706.6 658.6,706.2 661.1,705.8 663.6,705.5 666.1,705.1 668.6,704.7 671.1,704.3 673.6,704 676.1,703.7 678.6,703.4 681.1,703.1 683.6,702.8 686.1,702.6 688.6,702.4 691.1,702.3 693.6,702.2 696.1,702.1 698.6,702 701.1,702 703.6,702.1 706.1,702.1 708.6,702.3 711.1,702.4 713.6,702.6 716.1,702.8 718.6,703.1 721.1,703.4 723.6,703.7 726.1,704 728.6,704.4 731.1,704.7 733.6,705.1 736.1,705.5 738.6,705.9 741.1,706.3 743.6,706.8 746.1,707.2 748.6,707.6 751.1,708 753.5,708.5 756,708.9 758.5,709.3 761,709.7 763.5,710.1 766,710.4 768.5,710.8 771,711.1 773.5,711.5 776,711.8 778.5,712.1 781,712.4 783.5,712.6 786,712.9 788.5,713.1 791,713.3 793.5,713.5 796,713.7 798.5,713.9 801,714.1 803.5,714.2 806,714.4 808.5,714.5 811,714.6 813.5,714.8 816,714.9 818.5,715 821,715 823.5,715.1 826,715.2 828.5,715.3 831,715.3" fill="none" stroke="#3a96c4" stroke-width="1.5" stroke-linejoin="round"/>
<path d="M616.1,714 618.6,714 621.1,714 623.6,714 626.1,714 628.6,714 631.1,714 633.6,714 636.1,714 638.6,714 641.1,714 643.6,713.9 646.1,713.9 648.6,713.9 651.1,713.9 653.6,713.9 656.1,713.9 658.6,713.8 661.1,713.8 663.6,713.8 666.1,713.7 668.6,713.7 671.1,713.6 673.6,713.6 676.1,713.5 678.6,713.4 681.1,713.3 683.6,713.1 686.1,713 688.6,712.8 691.1,712.5 693.6,712.2 696.1,711.9 698.6,711.5 701.1,711 703.6,710.4 706.1,709.7 708.6,708.9 711.1,708 713.6,706.9 716.1,705.7 718.6,704.3 721.1,702.8 723.6,701.1 726.1,699.2 728.6,697.1 731.1,694.9 733.6,692.5 736.1,689.9 738.6,687.3 741.1,684.5 743.6,681.7 746.1,678.8 748.6,676 751.1,673.2 753.5,670.5 756,668 758.5,665.6 761,663.6 763.5,661.8 766,660.5 768.5,659.5 771,659.1 773.5,659 776,659.5 778.5,660.3 781,661.7 783.5,663.3 786,665.4 788.5,667.7 791,670.2 793.5,672.9 796,675.7 798.5,678.6 801,681.5 803.5,684.4 806,687.2 808.5,689.9 811,692.5 813.5,694.9 816,697.2 818.5,699.3 821,701.3 823.5,703.1 826,704.7 828.5,706.1 831,707.4 833.5,708.5 836,709.5 838.5,710.4 841,711.1 843.5,711.7 846,712.3 848.5,712.8 851,713.1 853.5,713.5 856,713.8 858.5,714 861,714.2 863.5,714.4 866,714.5 868.5,714.7 871,714.8 873.5,714.9 876,715 878.5,715.1 881,715.1 883.5,715.2 886,715.3 888.5,715.3 891,715.4 893.5,715.4 896,715.5 898.5,715.5 901,715.6 903.5,715.6" fill="none" stroke="#a050a8" stroke-width="1.5" stroke-linejoin="round"/>
<line x1="505.0" y1="713.8" x2="903.0" y2="716.3" stroke="#f07d18" stroke-width="2.4"/>
<path fill="#ffffff" fill-opacity="0.45" stroke="#9a9a9a" stroke-width="0.9" d="M502.4,713.5a2.7,2.7 0 1,0 5.4,0a2.7,2.7 0 1,0 -5.4,0M507.1,713.7a2.7,2.7 0 1,0 5.4,0a2.7,2.7 0 1,0 -5.4,0M511.8,713.3a2.7,2.7 0 1,0 5.4,0a2.7,2.7 0 1,0 -5.4,0M516.5,713.4a2.7,2.7 0 1,0 5.4,0a2.7,2.7 0 1,0 -5.4,0M521.2,713.3a2.7,2.7 0 1,0 5.4,0a2.7,2.7 0 1,0 -5.4,0M525.9,713.5a2.7,2.7 0 1,0 5.4,0a2.7,2.7 0 1,0 -5.4,0M530.6,713.5a2.7,2.7 0 1,0 5.4,0a2.7,2.7 0 1,0 -5.4,0M535.3,713.8a2.7,2.7 0 1,0 5.4,0a2.7,2.7 0 1,0 -5.4,0M540,713.7a2.7,2.7 0 1,0 5.4,0a2.7,2.7 0 1,0 -5.4,0M544.7,713.5a2.7,2.7 0 1,0 5.4,0a2.7,2.7 0 1,0 -5.4,0M549.4,713.5a2.7,2.7 0 1,0 5.4,0a2.7,2.7 0 1,0 -5.4,0M554.1,713.3a2.7,2.7 0 1,0 5.4,0a2.7,2.7 0 1,0 -5.4,0M558.8,713.6a2.7,2.7 0 1,0 5.4,0a2.7,2.7 0 1,0 -5.4,0M563.5,713.4a2.7,2.7 0 1,0 5.4,0a2.7,2.7 0 1,0 -5.4,0M568.2,713.2a2.7,2.7 0 1,0 5.4,0a2.7,2.7 0 1,0 -5.4,0M572.9,713.4a2.7,2.7 0 1,0 5.4,0a2.7,2.7 0 1,0 -5.4,0M577.6,712.9a2.7,2.7 0 1,0 5.4,0a2.7,2.7 0 1,0 -5.4,0M582.3,712.8a2.7,2.7 0 1,0 5.4,0a2.7,2.7 0 1,0 -5.4,0M587,712.8a2.7,2.7 0 1,0 5.4,0a2.7,2.7 0 1,0 -5.4,0M591.7,712.8a2.7,2.7 0 1,0 5.4,0a2.7,2.7 0 1,0 -5.4,0M596.4,712.2a2.7,2.7 0 1,0 5.4,0a2.7,2.7 0 1,0 -5.4,0M601.1,711.9a2.7,2.7 0 1,0 5.4,0a2.7,2.7 0 1,0 -5.4,0M605.8,711.8a2.7,2.7 0 1,0 5.4,0a2.7,2.7 0 1,0 -5.4,0M610.5,711.2a2.7,2.7 0 1,0 5.4,0a2.7,2.7 0 1,0 -5.4,0M615.2,711a2.7,2.7 0 1,0 5.4,0a2.7,2.7 0 1,0 -5.4,0M619.9,710.1a2.7,2.7 0 1,0 5.4,0a2.7,2.7 0 1,0 -5.4,0M624.6,709.6a2.7,2.7 0 1,0 5.4,0a2.7,2.7 0 1,0 -5.4,0M629.3,709a2.7,2.7 0 1,0 5.4,0a2.7,2.7 0 1,0 -5.4,0M634,708.6a2.7,2.7 0 1,0 5.4,0a2.7,2.7 0 1,0 -5.4,0M638.7,707.5a2.7,2.7 0 1,0 5.4,0a2.7,2.7 0 1,0 -5.4,0M643.4,707a2.7,2.7 0 1,0 5.4,0a2.7,2.7 0 1,0 -5.4,0M648.1,706.3a2.7,2.7 0 1,0 5.4,0a2.7,2.7 0 1,0 -5.4,0M652.8,705.5a2.7,2.7 0 1,0 5.4,0a2.7,2.7 0 1,0 -5.4,0M657.5,704.6a2.7,2.7 0 1,0 5.4,0a2.7,2.7 0 1,0 -5.4,0M662.2,703.4a2.7,2.7 0 1,0 5.4,0a2.7,2.7 0 1,0 -5.4,0M666.9,702.9a2.7,2.7 0 1,0 5.4,0a2.7,2.7 0 1,0 -5.4,0M671.6,701.9a2.7,2.7 0 1,0 5.4,0a2.7,2.7 0 1,0 -5.4,0M676.3,701.1a2.7,2.7 0 1,0 5.4,0a2.7,2.7 0 1,0 -5.4,0M681,700.4a2.7,2.7 0 1,0 5.4,0a2.7,2.7 0 1,0 -5.4,0M685.7,699.9a2.7,2.7 0 1,0 5.4,0a2.7,2.7 0 1,0 -5.4,0M690.4,699a2.7,2.7 0 1,0 5.4,0a2.7,2.7 0 1,0 -5.4,0M695.1,697.8a2.7,2.7 0 1,0 5.4,0a2.7,2.7 0 1,0 -5.4,0M699.8,696.8a2.7,2.7 0 1,0 5.4,0a2.7,2.7 0 1,0 -5.4,0M704.5,695.3a2.7,2.7 0 1,0 5.4,0a2.7,2.7 0 1,0 -5.4,0M709.2,694a2.7,2.7 0 1,0 5.4,0a2.7,2.7 0 1,0 -5.4,0M713.9,691.8a2.7,2.7 0 1,0 5.4,0a2.7,2.7 0 1,0 -5.4,0M718.6,689a2.7,2.7 0 1,0 5.4,0a2.7,2.7 0 1,0 -5.4,0M723.3,686.1a2.7,2.7 0 1,0 5.4,0a2.7,2.7 0 1,0 -5.4,0M728,682.5a2.7,2.7 0 1,0 5.4,0a2.7,2.7 0 1,0 -5.4,0M732.7,677.9a2.7,2.7 0 1,0 5.4,0a2.7,2.7 0 1,0 -5.4,0M737.4,673.5a2.7,2.7 0 1,0 5.4,0a2.7,2.7 0 1,0 -5.4,0M742.1,668.8a2.7,2.7 0 1,0 5.4,0a2.7,2.7 0 1,0 -5.4,0M746.8,664.6a2.7,2.7 0 1,0 5.4,0a2.7,2.7 0 1,0 -5.4,0M751.5,660.6a2.7,2.7 0 1,0 5.4,0a2.7,2.7 0 1,0 -5.4,0M756.2,657.4a2.7,2.7 0 1,0 5.4,0a2.7,2.7 0 1,0 -5.4,0M760.9,655.5a2.7,2.7 0 1,0 5.4,0a2.7,2.7 0 1,0 -5.4,0M765.6,654.7a2.7,2.7 0 1,0 5.4,0a2.7,2.7 0 1,0 -5.4,0M770.3,654.8a2.7,2.7 0 1,0 5.4,0a2.7,2.7 0 1,0 -5.4,0M775,656.6a2.7,2.7 0 1,0 5.4,0a2.7,2.7 0 1,0 -5.4,0M779.7,659.8a2.7,2.7 0 1,0 5.4,0a2.7,2.7 0 1,0 -5.4,0M784.4,663.5a2.7,2.7 0 1,0 5.4,0a2.7,2.7 0 1,0 -5.4,0M789.1,668.8a2.7,2.7 0 1,0 5.4,0a2.7,2.7 0 1,0 -5.4,0M793.8,674.2a2.7,2.7 0 1,0 5.4,0a2.7,2.7 0 1,0 -5.4,0M798.5,680.2a2.7,2.7 0 1,0 5.4,0a2.7,2.7 0 1,0 -5.4,0M803.2,685.7a2.7,2.7 0 1,0 5.4,0a2.7,2.7 0 1,0 -5.4,0M807.9,691.1a2.7,2.7 0 1,0 5.4,0a2.7,2.7 0 1,0 -5.4,0M812.6,695.7a2.7,2.7 0 1,0 5.4,0a2.7,2.7 0 1,0 -5.4,0M817.3,699.9a2.7,2.7 0 1,0 5.4,0a2.7,2.7 0 1,0 -5.4,0M822,703.2a2.7,2.7 0 1,0 5.4,0a2.7,2.7 0 1,0 -5.4,0M826.7,706.1a2.7,2.7 0 1,0 5.4,0a2.7,2.7 0 1,0 -5.4,0M831.4,708.5a2.7,2.7 0 1,0 5.4,0a2.7,2.7 0 1,0 -5.4,0M836.1,710.2a2.7,2.7 0 1,0 5.4,0a2.7,2.7 0 1,0 -5.4,0M840.8,711.3a2.7,2.7 0 1,0 5.4,0a2.7,2.7 0 1,0 -5.4,0M845.5,712.2a2.7,2.7 0 1,0 5.4,0a2.7,2.7 0 1,0 -5.4,0M850.2,713.3a2.7,2.7 0 1,0 5.4,0a2.7,2.7 0 1,0 -5.4,0M854.9,713.4a2.7,2.7 0 1,0 5.4,0a2.7,2.7 0 1,0 -5.4,0M859.6,714.3a2.7,2.7 0 1,0 5.4,0a2.7,2.7 0 1,0 -5.4,0M864.3,714.6a2.7,2.7 0 1,0 5.4,0a2.7,2.7 0 1,0 -5.4,0M869,714.7a2.7,2.7 0 1,0 5.4,0a2.7,2.7 0 1,0 -5.4,0M873.7,715a2.7,2.7 0 1,0 5.4,0a2.7,2.7 0 1,0 -5.4,0M878.4,715a2.7,2.7 0 1,0 5.4,0a2.7,2.7 0 1,0 -5.4,0M883.1,715.2a2.7,2.7 0 1,0 5.4,0a2.7,2.7 0 1,0 -5.4,0M887.8,715.3a2.7,2.7 0 1,0 5.4,0a2.7,2.7 0 1,0 -5.4,0M892.5,715.2a2.7,2.7 0 1,0 5.4,0a2.7,2.7 0 1,0 -5.4,0M897.2,715.2a2.7,2.7 0 1,0 5.4,0a2.7,2.7 0 1,0 -5.4,0"/>
<line x1="744.6" y1="357.6" x2="744.6" y2="391.7" stroke="#e8242c" stroke-width="2"/>
<line x1="743.3" y1="437.2" x2="743.3" y2="474.4" stroke="#e8242c" stroke-width="2"/>
<line x1="742.6" y1="487.4" x2="742.6" y2="521.6" stroke="#e8242c" stroke-width="2"/>
<line x1="744.0" y1="568.0" x2="744.0" y2="604.5" stroke="#e8242c" stroke-width="2"/>
<line x1="773.8" y1="634.8" x2="773.8" y2="672.6" stroke="#e8242c" stroke-width="2"/>
<line x1="670.1" y1="333.0" x2="670.1" y2="369.5" stroke="#2a86e0" stroke-width="2"/>
<line x1="670.1" y1="411.6" x2="670.1" y2="448.1" stroke="#2a86e0" stroke-width="2"/>
<line x1="678.3" y1="502.8" x2="678.3" y2="538.7" stroke="#2a86e0" stroke-width="2"/>
<line x1="684.2" y1="590.2" x2="684.2" y2="628.9" stroke="#2a86e0" stroke-width="2"/>
<line x1="695.0" y1="669.7" x2="695.0" y2="706.6" stroke="#2a86e0" stroke-width="2"/>
<path d="M670.1,369.5 670.1,411.6" fill="none" stroke="#000" stroke-width="1.2" stroke-linejoin="round" stroke-dasharray="3,2.5"/>
<path d="M670.1,448.1 678.3,502.8" fill="none" stroke="#000" stroke-width="1.2" stroke-linejoin="round" stroke-dasharray="3,2.5"/>
<path d="M678.3,538.7 684.2,590.2" fill="none" stroke="#000" stroke-width="1.2" stroke-linejoin="round" stroke-dasharray="3,2.5"/>
<path d="M684.2,628.9 695,669.7" fill="none" stroke="#000" stroke-width="1.2" stroke-linejoin="round" stroke-dasharray="3,2.5"/>
<path d="M744.6,391.7 743.3,437.2" fill="none" stroke="#000" stroke-width="1.2" stroke-linejoin="round" stroke-dasharray="3,2.5"/>
<path d="M743.3,474.4 742.6,487.4" fill="none" stroke="#000" stroke-width="1.2" stroke-linejoin="round" stroke-dasharray="3,2.5"/>
<path d="M742.6,521.6 744,568" fill="none" stroke="#000" stroke-width="1.2" stroke-linejoin="round" stroke-dasharray="3,2.5"/>
<path d="M744,604.5 773.8,634.8" fill="none" stroke="#000" stroke-width="1.2" stroke-linejoin="round" stroke-dasharray="3,2.5"/>
<text x="508.6" y="354.0" font-family="Liberation Serif" font-size="39" font-weight="bold" fill="#000" text-anchor="start">(f)</text>
<text x="508.1" y="376.9" font-family="Liberation Serif" font-size="19.4" font-weight="bold" fill="#2aae8c" text-anchor="start">SiC@MO-t8</text>
<text x="508.6" y="457.4" font-family="Liberation Serif" font-size="19.4" font-weight="bold" fill="#4a64a0" text-anchor="start">SiC@MO-t6</text>
<text x="508.1" y="529.9" font-family="Liberation Serif" font-size="19.4" font-weight="bold" fill="#c8783a" text-anchor="start">SiC@MO-t4</text>
<text x="510.1" y="609.8" font-family="Liberation Serif" font-size="19.4" font-weight="bold" fill="#b3952f" text-anchor="start">SiC@MO-t2</text>
<text x="514.3" y="696.4" font-family="Liberation Serif" font-size="19.4" font-weight="bold" fill="#5a8c3a" text-anchor="start">SiC@MoO<tspan font-size="12.5" dy="4.6">3</tspan></text>
<text x="575.5" y="338.7" font-family="Liberation Serif" font-size="19.6" font-weight="bold" fill="#4a9ee8" text-anchor="start">O vacancy</text>
<text x="755.8" y="373.8" font-family="Liberation Serif" font-size="19.3" font-weight="bold" fill="#f04848" text-anchor="start">Mo-O</text>
<text x="901.2" y="343.8" font-family="Liberation Serif" font-size="19.2" font-weight="bold" fill="#000" text-anchor="end">O 1s</text>
<rect x="503.6" y="324.6" width="399.9" height="399.8" fill="none" stroke="#000" stroke-width="2.8"/>
<line x1="553.6" y1="724.4" x2="553.6" y2="727.4" stroke="#000" stroke-width="2.5"/>
<line x1="603.6" y1="724.4" x2="603.6" y2="728.9" stroke="#000" stroke-width="2.5"/>
<line x1="653.6" y1="724.4" x2="653.6" y2="727.4" stroke="#000" stroke-width="2.5"/>
<line x1="703.6" y1="724.4" x2="703.6" y2="728.9" stroke="#000" stroke-width="2.5"/>
<line x1="753.6" y1="724.4" x2="753.6" y2="727.4" stroke="#000" stroke-width="2.5"/>
<line x1="803.5" y1="724.4" x2="803.5" y2="728.9" stroke="#000" stroke-width="2.5"/>
<line x1="853.5" y1="724.4" x2="853.5" y2="727.4" stroke="#000" stroke-width="2.5"/>
<text x="503.6" y="744.3" font-family="Liberation Serif" font-size="17.8" font-weight="bold" fill="#000" text-anchor="middle">536</text>
<text x="603.6" y="744.3" font-family="Liberation Serif" font-size="17.8" font-weight="bold" fill="#000" text-anchor="middle">534</text>
<text x="703.6" y="744.3" font-family="Liberation Serif" font-size="17.8" font-weight="bold" fill="#000" text-anchor="middle">532</text>
<text x="803.5" y="744.3" font-family="Liberation Serif" font-size="17.8" font-weight="bold" fill="#000" text-anchor="middle">530</text>
<text x="903.5" y="744.3" font-family="Liberation Serif" font-size="17.8" font-weight="bold" fill="#000" text-anchor="middle">528</text>
<text x="703.8" y="767.0" font-family="Liberation Serif" font-size="25.5" font-weight="bold" fill="#000" text-anchor="middle">Binding Energy (eV)</text>
<rect x="478.0" y="416.0" width="22.0" height="162.0" fill="#fff" stroke="none" stroke-width="0"/>
<rect x="501.5" y="480.6" width="4.5" height="2.7" fill="#fff" stroke="none" stroke-width="0"/>
<text x="497.3" y="497.5" font-family="Liberation Serif" font-size="25.3" font-weight="bold" fill="#000" text-anchor="middle" transform="rotate(-90 497.3 497.5)">Intensity (a.u.)</text>
<rect x="952.6" y="517.4" width="24.0" height="3.6" fill="url(#gtan)" stroke="#7a7a7a" stroke-width="0.8"/>
<text x="968.1" y="516.4" font-family="Liberation Serif" font-size="10" font-weight="bold" fill="#111" text-anchor="start" transform="rotate(-90 968.1 516.4)">SiC@MoO<tspan font-size="7" dy="2.5">3</tspan></text>
<rect x="1001.6" y="512.3" width="24.0" height="8.7" fill="url(#gtan)" stroke="#7a7a7a" stroke-width="0.8"/>
<text x="1017.1" y="511.3" font-family="Liberation Serif" font-size="10" font-weight="bold" fill="#111" text-anchor="start" transform="rotate(-90 1017.1 511.3)">SiC@MO-t2</text>
<rect x="1050.3" y="510.8" width="24.6" height="10.2" fill="url(#gtan)" stroke="#7a7a7a" stroke-width="0.8"/>
<text x="1066.1" y="509.8" font-family="Liberation Serif" font-size="10" font-weight="bold" fill="#111" text-anchor="start" transform="rotate(-90 1066.1 509.8)">SiC@MO-t4</text>
<rect x="1099.3" y="425.1" width="24.6" height="95.9" fill="url(#gtan)" stroke="#7a7a7a" stroke-width="0.8"/>
<text x="1115.1" y="424.1" font-family="Liberation Serif" font-size="10" font-weight="bold" fill="#111" text-anchor="start" transform="rotate(-90 1115.1 424.1)">SiC@MO-t6</text>
<rect x="1148.6" y="403.2" width="24.3" height="117.8" fill="url(#gtan)" stroke="#7a7a7a" stroke-width="0.8"/>
<text x="1164.2" y="402.2" font-family="Liberation Serif" font-size="10" font-weight="bold" fill="#111" text-anchor="start" transform="rotate(-90 1164.2 402.2)">SiC@MO-t8</text>
<rect x="952.6" y="695.9" width="24.0" height="39.1" fill="url(#gsky)" stroke="#7a7a7a" stroke-width="0.8"/>
<text x="968.1" y="692.4" font-family="Liberation Serif" font-size="10" font-weight="bold" fill="#111" text-anchor="start" transform="rotate(-90 968.1 692.4)">SiC@MoO<tspan font-size="7" dy="2.5">3</tspan></text>
<rect x="1001.6" y="695.0" width="24.0" height="40.0" fill="url(#gsky)" stroke="#7a7a7a" stroke-width="0.8"/>
<text x="1017.1" y="691.5" font-family="Liberation Serif" font-size="10" font-weight="bold" fill="#111" text-anchor="start" transform="rotate(-90 1017.1 691.5)">SiC@MO-t2</text>
<rect x="1050.3" y="671.3" width="24.6" height="63.7" fill="url(#gsky)" stroke="#7a7a7a" stroke-width="0.8"/>
<text x="1066.1" y="667.8" font-family="Liberation Serif" font-size="10" font-weight="bold" fill="#111" text-anchor="start" transform="rotate(-90 1066.1 667.8)">SiC@MO-t4</text>
<rect x="1099.3" y="667.1" width="24.6" height="67.9" fill="url(#gsky)" stroke="#7a7a7a" stroke-width="0.8"/>
<text x="1115.1" y="663.6" font-family="Liberation Serif" font-size="10" font-weight="bold" fill="#111" text-anchor="start" transform="rotate(-90 1115.1 663.6)">SiC@MO-t6</text>
<rect x="1148.6" y="623.2" width="24.3" height="111.8" fill="url(#gsky)" stroke="#7a7a7a" stroke-width="0.8"/>
<text x="1164.2" y="619.7" font-family="Liberation Serif" font-size="10" font-weight="bold" fill="#111" text-anchor="start" transform="rotate(-90 1164.2 619.7)">SiC@MO-t8</text>
<rect x="940.1" y="324.1" width="245.2" height="197.6" fill="none" stroke="#000" stroke-width="2.5"/>
<rect x="939.6" y="543.0" width="246.6" height="192.2" fill="none" stroke="#000" stroke-width="2.5"/>
<rect x="1111.0" y="330.7" width="71.0" height="14.7" fill="#000" stroke="none" stroke-width="0"/>
<rect x="1108.0" y="327.7" width="71.0" height="14.7" fill="#fff" stroke="#999" stroke-width="0.8"/>
<rect x="1109.4" y="330.2" width="22.8" height="10.3" fill="url(#gtan)" stroke="#777" stroke-width="0.7"/>
<text x="1134.6" y="339.6" font-family="Liberation Serif" font-size="9.5" font-weight="bold" fill="#111" text-anchor="start">Mo<tspan font-size="6" dy="-3.5">5+</tspan><tspan dy="3.5">/Mo</tspan><tspan font-size="6" dy="-3.5">6+</tspan></text>
<rect x="1079.5" y="548.5" width="104.0" height="13.5" fill="#000" stroke="none" stroke-width="0"/>
<rect x="1076.5" y="545.5" width="104.0" height="13.5" fill="#fff" stroke="#999" stroke-width="0.8"/>
<rect x="1078.0" y="547.0" width="23.5" height="10.8" fill="url(#gsky)" stroke="#777" stroke-width="0.7"/>
<text x="1104.0" y="556.0" font-family="Liberation Serif" font-size="9.3" font-weight="bold" fill="#111" text-anchor="start">O defect/O content</text>
<text x="942.8" y="355.5" font-family="Liberation Serif" font-size="39" font-weight="bold" fill="#000" text-anchor="start">(g)</text>
<text x="943.2" y="576.7" font-family="Liberation Serif" font-size="39" font-weight="bold" fill="#000" text-anchor="start">(h)</text>
<text x="1065.3" y="537.5" font-family="Liberation Serif" font-size="16.3" font-weight="bold" fill="#000" text-anchor="middle">Samples</text>
<text x="1063.0" y="751.5" font-family="Liberation Serif" font-size="16.5" font-weight="bold" fill="#000" text-anchor="middle">Samples</text>
<text x="929.8" y="422.9" font-family="Liberation Serif" font-size="16.7" font-weight="bold" fill="#000" text-anchor="middle" transform="rotate(-90 929.8 422.9)">Percentage (%)</text>
<text x="929.8" y="639.0" font-family="Liberation Serif" font-size="16.7" font-weight="bold" fill="#000" text-anchor="middle" transform="rotate(-90 929.8 639.0)">Percentage (%)</text>
</svg></body></html>
